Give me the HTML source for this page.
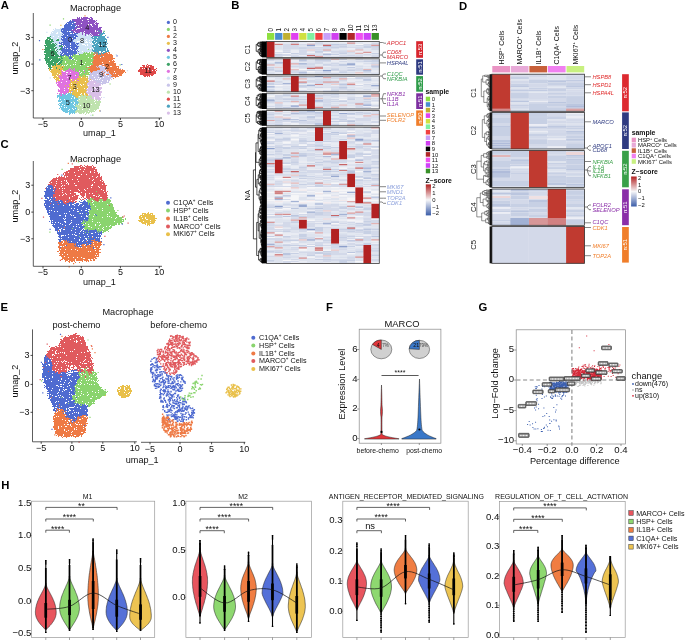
<!DOCTYPE html>
<html><head><meta charset="utf-8"><style>
html,body{margin:0;padding:0;background:#fff;}
svg{display:block;font-family:"Liberation Sans", sans-serif;will-change:transform;}
</style></head><body>
<svg width="685" height="641" viewBox="0 0 685 641">
<rect width="685" height="641" fill="#fff"/>
<text x="0.8" y="9.4" font-size="11.3" fill="#000" font-weight="bold">A</text>
<text x="95.5" y="10.6" font-size="9.2" fill="#111" text-anchor="middle">Macrophage</text>
<path d="M77 17h1v1h-1zM79 17h1v1h-1zM81 17h1v1h-1zM83 17h5v1h-5zM90 17h2v1h-2zM77 18h3v1h-3zM81 18h9v1h-9zM91 18h2v1h-2zM72 19h15v1h-15zM89 19h4v1h-4zM73 20h9v1h-9zM83 20h12v1h-12zM96 20h1v1h-1zM71 21h1v1h-1zM75 21h13v1h-13zM89 21h7v1h-7zM76 22h19v1h-19zM96 22h1v1h-1zM74 23h1v1h-1zM76 23h5v1h-5zM82 23h12v1h-12zM95 23h4v1h-4zM75 24h13v1h-13zM89 24h1v1h-1zM92 24h3v1h-3zM96 24h2v1h-2zM77 25h1v1h-1zM79 25h9v1h-9zM89 25h2v1h-2zM92 25h6v1h-6zM77 26h15v1h-15zM93 26h5v1h-5zM75 27h1v1h-1zM77 27h4v1h-4zM82 27h16v1h-16zM99 27h3v1h-3zM75 28h2v1h-2zM80 28h21v1h-21zM74 29h2v1h-2zM77 29h24v1h-24zM71 30h24v1h-24zM96 30h2v1h-2zM99 30h3v1h-3zM73 31h1v1h-1zM75 31h9v1h-9zM85 31h10v1h-10zM96 31h1v1h-1zM98 31h1v1h-1zM100 31h2v1h-2zM73 32h2v1h-2zM76 32h4v1h-4zM82 32h1v1h-1zM84 32h16v1h-16zM101 32h1v1h-1zM82 33h1v1h-1zM85 33h5v1h-5zM91 33h10v1h-10zM82 34h1v1h-1zM85 34h1v1h-1zM88 34h1v1h-1zM90 34h1v1h-1zM92 34h6v1h-6zM85 35h1v1h-1zM91 35h1v1h-1zM93 35h7v1h-7zM92 36h1v1h-1z" fill="#8e52c2"/>
<path d="M70 20h1v1h-1zM72 20h1v1h-1zM69 21h2v1h-2zM72 21h3v1h-3zM67 22h7v1h-7zM66 23h1v1h-1zM68 23h4v1h-4zM73 23h1v1h-1zM75 23h1v1h-1zM65 24h10v1h-10zM64 25h7v1h-7zM72 25h4v1h-4zM64 26h11v1h-11zM76 26h1v1h-1zM64 27h11v1h-11zM76 27h1v1h-1zM62 28h13v1h-13zM61 29h11v1h-11zM73 29h1v1h-1zM61 30h1v1h-1zM63 30h8v1h-8zM61 31h6v1h-6zM68 31h1v1h-1zM71 31h2v1h-2zM62 32h11v1h-11zM63 33h7v1h-7zM72 33h1v1h-1zM74 33h4v1h-4zM62 34h1v1h-1zM64 34h12v1h-12zM63 35h4v1h-4zM68 35h9v1h-9zM61 36h13v1h-13zM75 36h3v1h-3zM62 37h3v1h-3zM66 37h10v1h-10zM61 38h1v1h-1zM63 38h9v1h-9zM73 38h3v1h-3zM61 39h7v1h-7zM69 39h5v1h-5zM62 40h11v1h-11zM63 41h10v1h-10zM59 42h1v1h-1zM61 42h14v1h-14zM59 43h3v1h-3zM63 43h7v1h-7zM71 43h4v1h-4zM76 43h3v1h-3zM61 44h9v1h-9zM71 44h5v1h-5zM77 44h1v1h-1zM59 45h2v1h-2zM63 45h1v1h-1zM65 45h12v1h-12zM64 46h1v1h-1zM66 46h4v1h-4zM71 46h8v1h-8zM61 47h2v1h-2zM64 47h11v1h-11zM76 47h2v1h-2zM62 48h3v1h-3zM66 48h1v1h-1zM68 48h2v1h-2zM71 48h7v1h-7zM60 49h1v1h-1zM62 49h9v1h-9zM72 49h5v1h-5zM61 50h12v1h-12zM74 50h2v1h-2zM77 50h1v1h-1zM62 51h15v1h-15zM78 51h1v1h-1zM60 52h1v1h-1zM62 52h5v1h-5zM68 52h9v1h-9zM61 53h2v1h-2zM64 53h13v1h-13zM60 54h2v1h-2zM63 54h10v1h-10zM74 54h1v1h-1zM79 54h1v1h-1zM61 55h3v1h-3zM66 55h3v1h-3zM70 55h1v1h-1zM72 55h1v1h-1zM68 56h1v1h-1zM70 56h1v1h-1zM69 57h3v1h-3zM69 58h3v1h-3zM72 59h1v1h-1z" fill="#4f6bd0"/>
<path d="M55 28h1v1h-1zM60 28h2v1h-2zM53 29h1v1h-1zM55 29h6v1h-6zM54 30h7v1h-7zM62 30h1v1h-1zM52 31h9v1h-9zM51 32h1v1h-1zM53 32h4v1h-4zM58 32h2v1h-2zM61 32h1v1h-1zM80 32h2v1h-2zM83 32h1v1h-1zM51 33h5v1h-5zM58 33h5v1h-5zM78 33h4v1h-4zM83 33h1v1h-1zM50 34h12v1h-12zM76 34h6v1h-6zM83 34h2v1h-2zM86 34h2v1h-2zM89 34h1v1h-1zM91 34h1v1h-1zM50 35h13v1h-13zM77 35h8v1h-8zM86 35h1v1h-1zM88 35h3v1h-3zM49 36h1v1h-1zM51 36h2v1h-2zM54 36h4v1h-4zM59 36h2v1h-2zM78 36h13v1h-13zM50 37h12v1h-12zM77 37h14v1h-14zM52 38h5v1h-5zM58 38h3v1h-3zM76 38h16v1h-16zM53 39h4v1h-4zM59 39h2v1h-2zM74 39h7v1h-7zM82 39h4v1h-4zM87 39h7v1h-7zM53 40h3v1h-3zM59 40h3v1h-3zM73 40h7v1h-7zM81 40h4v1h-4zM86 40h3v1h-3zM90 40h2v1h-2zM54 41h9v1h-9zM73 41h4v1h-4zM80 41h3v1h-3zM84 41h2v1h-2zM87 41h5v1h-5zM52 42h7v1h-7zM60 42h1v1h-1zM75 42h2v1h-2zM78 42h7v1h-7zM88 42h1v1h-1zM90 42h1v1h-1zM54 43h1v1h-1zM56 43h3v1h-3zM75 43h1v1h-1zM79 43h11v1h-11zM91 43h1v1h-1zM55 44h1v1h-1zM57 44h1v1h-1zM76 44h1v1h-1zM78 44h4v1h-4zM85 44h2v1h-2zM88 44h4v1h-4zM93 44h1v1h-1zM56 45h3v1h-3zM77 45h8v1h-8zM86 45h1v1h-1zM88 45h4v1h-4zM55 46h4v1h-4zM79 46h13v1h-13zM57 47h4v1h-4zM78 47h14v1h-14zM56 48h4v1h-4zM65 48h1v1h-1zM78 48h9v1h-9zM88 48h2v1h-2zM91 48h3v1h-3zM56 49h1v1h-1zM58 49h1v1h-1zM77 49h2v1h-2zM80 49h8v1h-8zM89 49h3v1h-3zM57 50h4v1h-4zM79 50h13v1h-13zM56 51h1v1h-1zM58 51h1v1h-1zM60 51h2v1h-2zM77 51h1v1h-1zM79 51h3v1h-3zM83 51h10v1h-10zM57 52h3v1h-3zM61 52h1v1h-1zM77 52h7v1h-7zM85 52h1v1h-1zM87 52h1v1h-1zM57 53h4v1h-4zM77 53h1v1h-1zM79 53h4v1h-4zM58 54h2v1h-2zM59 57h1v1h-1z" fill="#cfe3f5"/>
<path d="M98 30h1v1h-1zM99 31h1v1h-1zM100 32h1v1h-1zM103 32h1v1h-1zM101 33h4v1h-4zM99 34h4v1h-4zM100 35h2v1h-2zM105 35h1v1h-1zM93 36h12v1h-12zM91 37h2v1h-2zM94 37h3v1h-3zM98 37h7v1h-7zM92 38h14v1h-14zM94 39h2v1h-2zM97 39h10v1h-10zM93 40h12v1h-12zM106 40h1v1h-1zM92 41h2v1h-2zM95 41h12v1h-12zM92 42h4v1h-4zM97 42h10v1h-10zM93 43h2v1h-2zM96 43h10v1h-10zM107 43h1v1h-1zM94 44h4v1h-4zM99 44h8v1h-8zM92 45h7v1h-7zM100 45h1v1h-1zM102 45h4v1h-4zM92 46h2v1h-2zM95 46h12v1h-12zM93 47h14v1h-14zM94 48h12v1h-12zM107 48h1v1h-1zM92 49h1v1h-1zM94 49h12v1h-12zM107 49h1v1h-1zM92 50h14v1h-14zM107 50h2v1h-2zM93 51h6v1h-6zM101 51h2v1h-2zM105 51h4v1h-4zM95 52h1v1h-1zM97 52h2v1h-2zM101 52h1v1h-1zM103 52h3v1h-3zM96 53h1v1h-1zM98 53h3v1h-3zM102 53h2v1h-2zM98 54h1v1h-1zM100 54h1v1h-1zM101 56h1v1h-1z" fill="#4ca3c0"/>
<path d="M50 36h1v1h-1zM47 37h3v1h-3zM47 38h4v1h-4zM46 39h2v1h-2zM49 39h4v1h-4zM57 39h2v1h-2zM45 40h5v1h-5zM51 40h2v1h-2zM56 40h3v1h-3zM45 41h9v1h-9zM45 42h7v1h-7zM45 43h6v1h-6zM52 43h2v1h-2zM55 43h1v1h-1zM46 44h9v1h-9zM56 44h1v1h-1zM44 45h12v1h-12zM61 45h1v1h-1zM45 46h1v1h-1zM47 46h8v1h-8zM59 46h4v1h-4zM45 47h9v1h-9zM55 47h2v1h-2zM45 48h11v1h-11zM60 48h2v1h-2zM44 49h6v1h-6zM51 49h4v1h-4zM57 49h1v1h-1zM59 49h1v1h-1zM61 49h1v1h-1zM45 50h10v1h-10zM56 50h1v1h-1zM44 51h12v1h-12zM57 51h1v1h-1zM44 52h13v1h-13zM46 53h11v1h-11zM44 54h7v1h-7zM52 54h6v1h-6zM45 55h9v1h-9zM55 55h4v1h-4zM60 55h1v1h-1zM45 56h17v1h-17zM45 57h3v1h-3zM49 57h9v1h-9zM61 57h1v1h-1zM44 58h14v1h-14zM59 58h1v1h-1zM61 58h2v1h-2zM45 59h6v1h-6zM52 59h9v1h-9zM45 60h5v1h-5zM51 60h9v1h-9zM61 60h2v1h-2zM46 61h13v1h-13zM60 61h2v1h-2zM46 62h7v1h-7zM54 62h4v1h-4zM59 62h3v1h-3zM46 63h1v1h-1zM48 63h8v1h-8zM58 63h3v1h-3zM47 64h9v1h-9zM57 64h3v1h-3zM61 64h1v1h-1zM48 65h3v1h-3zM52 65h2v1h-2zM55 65h1v1h-1zM48 66h3v1h-3zM49 67h3v1h-3zM56 67h1v1h-1zM62 67h1v1h-1zM48 68h1v1h-1zM50 68h1v1h-1zM56 68h1v1h-1zM50 69h1v1h-1zM59 69h1v1h-1z" fill="#3da267"/>
<path d="M88 49h1v1h-1zM84 52h1v1h-1zM86 52h1v1h-1zM89 52h1v1h-1zM91 52h2v1h-2zM78 53h1v1h-1zM83 53h7v1h-7zM91 53h4v1h-4zM73 54h1v1h-1zM75 54h1v1h-1zM80 54h6v1h-6zM87 54h6v1h-6zM64 55h2v1h-2zM73 55h21v1h-21zM62 56h2v1h-2zM65 56h3v1h-3zM69 56h1v1h-1zM71 56h23v1h-23zM60 57h1v1h-1zM62 57h7v1h-7zM72 57h1v1h-1zM74 57h14v1h-14zM89 57h4v1h-4zM58 58h1v1h-1zM60 58h1v1h-1zM63 58h6v1h-6zM73 58h18v1h-18zM92 58h1v1h-1zM61 59h10v1h-10zM73 59h1v1h-1zM75 59h19v1h-19zM60 60h1v1h-1zM63 60h13v1h-13zM77 60h3v1h-3zM81 60h12v1h-12zM62 61h3v1h-3zM66 61h27v1h-27zM62 62h3v1h-3zM66 62h9v1h-9zM76 62h9v1h-9zM86 62h5v1h-5zM61 63h21v1h-21zM83 63h10v1h-10zM62 64h5v1h-5zM68 64h5v1h-5zM74 64h1v1h-1zM76 64h8v1h-8zM85 64h8v1h-8zM60 65h2v1h-2zM63 65h1v1h-1zM65 65h1v1h-1zM67 65h3v1h-3zM71 65h9v1h-9zM81 65h9v1h-9zM60 66h1v1h-1zM64 66h23v1h-23zM89 66h1v1h-1zM64 67h22v1h-22zM87 67h1v1h-1zM63 68h6v1h-6zM71 68h3v1h-3zM75 68h15v1h-15zM63 69h5v1h-5zM70 69h1v1h-1zM72 69h1v1h-1zM75 69h13v1h-13zM64 70h2v1h-2zM73 70h1v1h-1zM75 70h4v1h-4zM80 70h3v1h-3zM85 70h5v1h-5zM75 71h1v1h-1zM77 71h2v1h-2zM80 71h8v1h-8zM79 72h2v1h-2zM82 72h2v1h-2zM85 72h5v1h-5zM79 73h1v1h-1zM81 73h6v1h-6zM88 73h1v1h-1zM76 74h1v1h-1zM79 74h11v1h-11zM79 75h4v1h-4zM85 75h1v1h-1zM81 76h1v1h-1zM83 76h1v1h-1zM85 76h1v1h-1zM87 76h1v1h-1z" fill="#8ad46e"/>
<path d="M94 52h1v1h-1zM96 52h1v1h-1zM106 52h1v1h-1zM108 52h2v1h-2zM95 53h1v1h-1zM97 53h1v1h-1zM101 53h1v1h-1zM104 53h4v1h-4zM109 53h1v1h-1zM93 54h2v1h-2zM96 54h2v1h-2zM99 54h1v1h-1zM101 54h11v1h-11zM95 55h18v1h-18zM94 56h7v1h-7zM102 56h1v1h-1zM104 56h9v1h-9zM93 57h7v1h-7zM101 57h12v1h-12zM93 58h22v1h-22zM94 59h19v1h-19zM93 60h19v1h-19zM113 60h1v1h-1zM93 61h16v1h-16zM110 61h5v1h-5zM92 62h10v1h-10zM103 62h11v1h-11zM93 63h23v1h-23zM93 64h9v1h-9zM104 64h12v1h-12zM91 65h8v1h-8zM102 65h14v1h-14zM90 66h6v1h-6zM97 66h1v1h-1zM105 66h5v1h-5zM112 66h7v1h-7zM86 67h1v1h-1zM88 67h9v1h-9zM98 67h1v1h-1zM106 67h11v1h-11zM118 67h1v1h-1zM90 68h10v1h-10zM106 68h13v1h-13zM88 69h12v1h-12zM105 69h1v1h-1zM107 69h14v1h-14zM122 69h1v1h-1zM90 70h7v1h-7zM106 70h19v1h-19zM90 71h3v1h-3zM102 71h1v1h-1zM107 71h1v1h-1zM109 71h5v1h-5zM115 71h10v1h-10zM91 72h1v1h-1zM101 72h1v1h-1zM104 72h1v1h-1zM109 72h15v1h-15zM125 72h1v1h-1zM103 73h1v1h-1zM110 73h3v1h-3zM114 73h1v1h-1zM116 73h7v1h-7zM101 74h1v1h-1zM106 74h3v1h-3zM111 74h11v1h-11zM103 75h1v1h-1zM112 75h6v1h-6zM119 75h3v1h-3zM111 76h8v1h-8zM115 77h1v1h-1zM113 78h1v1h-1z" fill="#ee7a45"/>
<path d="M56 63h1v1h-1zM56 64h1v1h-1zM60 64h1v1h-1zM54 65h1v1h-1zM56 65h4v1h-4zM52 66h8v1h-8zM61 66h3v1h-3zM52 67h4v1h-4zM57 67h5v1h-5zM63 67h1v1h-1zM49 68h1v1h-1zM53 68h3v1h-3zM57 68h6v1h-6zM49 69h1v1h-1zM51 69h8v1h-8zM60 69h3v1h-3zM49 70h1v1h-1zM51 70h10v1h-10zM63 70h1v1h-1zM50 71h12v1h-12zM51 72h10v1h-10zM52 73h5v1h-5zM58 73h4v1h-4zM87 73h1v1h-1zM52 74h7v1h-7zM60 74h1v1h-1zM52 75h4v1h-4zM57 75h1v1h-1zM59 75h1v1h-1zM61 75h1v1h-1zM83 75h2v1h-2zM54 76h3v1h-3zM58 76h1v1h-1zM78 76h3v1h-3zM82 76h1v1h-1zM84 76h1v1h-1zM86 76h1v1h-1zM53 77h6v1h-6zM79 77h2v1h-2zM82 77h4v1h-4zM87 77h1v1h-1zM54 78h1v1h-1zM56 78h4v1h-4zM77 78h11v1h-11zM55 79h4v1h-4zM70 79h1v1h-1zM72 79h1v1h-1zM75 79h1v1h-1zM77 79h11v1h-11zM90 79h1v1h-1zM56 80h1v1h-1zM58 80h2v1h-2zM70 80h2v1h-2zM74 80h1v1h-1zM76 80h1v1h-1zM79 80h9v1h-9zM56 81h1v1h-1zM71 81h14v1h-14zM86 81h3v1h-3zM70 82h6v1h-6zM77 82h11v1h-11zM70 83h1v1h-1zM72 83h15v1h-15zM69 84h11v1h-11zM81 84h2v1h-2zM84 84h3v1h-3zM65 85h1v1h-1zM69 85h2v1h-2zM72 85h3v1h-3zM77 85h4v1h-4zM82 85h5v1h-5zM70 86h18v1h-18zM67 87h1v1h-1zM69 87h7v1h-7zM77 87h11v1h-11zM69 88h8v1h-8zM78 88h6v1h-6zM85 88h2v1h-2zM69 89h1v1h-1zM71 89h3v1h-3zM75 89h11v1h-11zM69 90h8v1h-8zM78 90h9v1h-9zM69 91h2v1h-2zM73 91h4v1h-4zM78 91h8v1h-8zM68 92h1v1h-1zM70 92h1v1h-1zM72 92h14v1h-14zM70 93h1v1h-1zM72 93h9v1h-9zM82 93h2v1h-2zM85 93h2v1h-2zM72 94h8v1h-8zM82 94h2v1h-2zM85 94h3v1h-3zM74 95h7v1h-7zM83 95h1v1h-1zM86 95h2v1h-2zM75 96h3v1h-3zM76 97h2v1h-2zM86 97h1v1h-1z" fill="#e9bf4c"/>
<path d="M102 64h1v1h-1zM101 65h1v1h-1zM96 66h1v1h-1zM98 66h5v1h-5zM104 66h1v1h-1zM97 67h1v1h-1zM99 67h7v1h-7zM100 68h6v1h-6zM120 68h1v1h-1zM100 69h5v1h-5zM106 69h1v1h-1zM97 70h8v1h-8zM93 71h9v1h-9zM103 71h4v1h-4zM108 71h1v1h-1zM90 72h1v1h-1zM92 72h9v1h-9zM102 72h2v1h-2zM105 72h1v1h-1zM107 72h2v1h-2zM90 73h13v1h-13zM104 73h1v1h-1zM106 73h4v1h-4zM113 73h1v1h-1zM90 74h7v1h-7zM98 74h3v1h-3zM102 74h3v1h-3zM109 74h2v1h-2zM89 75h3v1h-3zM93 75h10v1h-10zM104 75h2v1h-2zM107 75h5v1h-5zM89 76h19v1h-19zM109 76h2v1h-2zM89 77h5v1h-5zM95 77h3v1h-3zM99 77h4v1h-4zM104 77h9v1h-9zM88 78h12v1h-12zM101 78h10v1h-10zM89 79h1v1h-1zM93 79h2v1h-2zM96 79h1v1h-1zM98 79h1v1h-1zM100 79h10v1h-10zM111 79h1v1h-1zM94 80h8v1h-8zM103 80h4v1h-4zM108 80h2v1h-2zM96 81h11v1h-11zM108 81h1v1h-1zM97 82h4v1h-4zM102 82h7v1h-7zM96 83h1v1h-1zM100 83h6v1h-6zM99 84h1v1h-1zM102 84h1v1h-1z" fill="#c9c5ea"/>
<path d="M147 64h1v1h-1zM142 65h3v1h-3zM146 65h1v1h-1zM148 65h4v1h-4zM143 66h2v1h-2zM146 66h3v1h-3zM150 66h4v1h-4zM140 67h14v1h-14zM140 68h2v1h-2zM143 68h1v1h-1zM145 68h3v1h-3zM149 68h5v1h-5zM156 68h1v1h-1zM139 69h9v1h-9zM149 69h7v1h-7zM138 70h14v1h-14zM153 70h2v1h-2zM156 70h1v1h-1zM138 71h18v1h-18zM140 72h16v1h-16zM140 73h16v1h-16zM140 74h14v1h-14zM143 75h7v1h-7zM151 75h2v1h-2zM144 76h2v1h-2zM147 76h1v1h-1zM149 76h1v1h-1z" fill="#e04848"/>
<path d="M69 68h2v1h-2zM74 68h1v1h-1zM68 69h2v1h-2zM71 69h1v1h-1zM73 69h2v1h-2zM61 70h1v1h-1zM66 70h7v1h-7zM74 70h1v1h-1zM79 70h1v1h-1zM84 70h1v1h-1zM62 71h1v1h-1zM65 71h10v1h-10zM76 71h1v1h-1zM61 72h5v1h-5zM68 72h2v1h-2zM71 72h8v1h-8zM84 72h1v1h-1zM62 73h17v1h-17zM61 74h5v1h-5zM67 74h9v1h-9zM77 74h2v1h-2zM58 75h1v1h-1zM60 75h1v1h-1zM62 75h13v1h-13zM76 75h3v1h-3zM59 76h19v1h-19zM59 77h8v1h-8zM68 77h11v1h-11zM60 78h17v1h-17zM60 79h2v1h-2zM63 79h7v1h-7zM73 79h2v1h-2zM76 79h1v1h-1zM57 80h1v1h-1zM60 80h10v1h-10zM72 80h2v1h-2zM77 80h2v1h-2zM58 81h8v1h-8zM67 81h4v1h-4zM56 82h5v1h-5zM62 82h8v1h-8zM76 82h1v1h-1zM56 83h1v1h-1zM58 83h12v1h-12zM57 84h12v1h-12zM57 85h8v1h-8zM66 85h3v1h-3zM58 86h12v1h-12zM59 87h8v1h-8zM68 87h1v1h-1zM60 88h4v1h-4zM65 88h3v1h-3zM58 89h1v1h-1zM60 89h9v1h-9zM58 90h6v1h-6zM65 90h4v1h-4zM58 91h11v1h-11zM71 91h1v1h-1zM60 92h8v1h-8zM57 93h1v1h-1zM59 93h3v1h-3zM63 93h3v1h-3zM61 94h1v1h-1zM64 94h1v1h-1zM60 95h2v1h-2z" fill="#e072e0"/>
<path d="M91 79h2v1h-2zM88 80h2v1h-2zM91 80h1v1h-1zM93 80h1v1h-1zM89 81h7v1h-7zM88 82h9v1h-9zM87 83h7v1h-7zM95 83h1v1h-1zM97 83h3v1h-3zM87 84h12v1h-12zM100 84h1v1h-1zM87 85h1v1h-1zM89 85h12v1h-12zM88 86h11v1h-11zM88 87h6v1h-6zM95 87h7v1h-7zM88 88h5v1h-5zM94 88h1v1h-1zM96 88h6v1h-6zM86 89h15v1h-15zM87 90h13v1h-13zM86 91h1v1h-1zM88 91h3v1h-3zM92 91h6v1h-6zM99 91h3v1h-3zM86 92h16v1h-16zM87 93h14v1h-14zM89 94h12v1h-12zM88 95h2v1h-2zM91 95h10v1h-10zM92 96h7v1h-7zM92 97h2v1h-2zM95 97h5v1h-5zM101 97h1v1h-1zM90 98h1v1h-1zM92 98h2v1h-2zM95 98h6v1h-6zM95 99h1v1h-1zM97 99h4v1h-4zM98 100h1v1h-1z" fill="#d9bfe8"/>
<path d="M72 91h1v1h-1zM66 93h1v1h-1zM68 93h2v1h-2zM71 93h1v1h-1zM59 94h2v1h-2zM62 94h2v1h-2zM65 94h1v1h-1zM67 94h5v1h-5zM57 95h3v1h-3zM62 95h12v1h-12zM57 96h15v1h-15zM73 96h2v1h-2zM57 97h1v1h-1zM59 97h15v1h-15zM75 97h1v1h-1zM59 98h12v1h-12zM72 98h2v1h-2zM75 98h3v1h-3zM59 99h1v1h-1zM61 99h3v1h-3zM65 99h13v1h-13zM58 100h19v1h-19zM58 101h3v1h-3zM62 101h11v1h-11zM74 101h4v1h-4zM61 102h10v1h-10zM72 102h2v1h-2zM75 102h4v1h-4zM59 103h15v1h-15zM75 103h3v1h-3zM58 104h1v1h-1zM60 104h2v1h-2zM63 104h10v1h-10zM74 104h2v1h-2zM77 104h1v1h-1zM59 105h5v1h-5zM65 105h9v1h-9zM75 105h1v1h-1zM60 106h1v1h-1zM62 106h13v1h-13zM60 107h4v1h-4zM65 107h1v1h-1zM67 107h10v1h-10zM59 108h1v1h-1zM61 108h11v1h-11zM73 108h2v1h-2zM76 108h1v1h-1zM61 109h8v1h-8zM70 109h3v1h-3zM74 109h3v1h-3zM62 110h6v1h-6zM69 110h7v1h-7zM63 111h12v1h-12zM65 112h3v1h-3zM69 112h6v1h-6zM69 113h2v1h-2zM72 113h1v1h-1zM74 113h1v1h-1zM69 114h1v1h-1z" fill="#6ec6e2"/>
<path d="M81 94h1v1h-1zM81 95h2v1h-2zM84 95h2v1h-2zM90 95h1v1h-1zM78 96h1v1h-1zM80 96h12v1h-12zM78 97h8v1h-8zM87 97h5v1h-5zM78 98h12v1h-12zM91 98h1v1h-1zM78 99h1v1h-1zM80 99h6v1h-6zM87 99h7v1h-7zM96 99h1v1h-1zM78 100h17v1h-17zM96 100h1v1h-1zM99 100h1v1h-1zM73 101h1v1h-1zM78 101h16v1h-16zM95 101h6v1h-6zM79 102h22v1h-22zM78 103h5v1h-5zM84 103h11v1h-11zM96 103h4v1h-4zM76 104h1v1h-1zM79 104h8v1h-8zM88 104h3v1h-3zM92 104h8v1h-8zM76 105h4v1h-4zM81 105h8v1h-8zM90 105h10v1h-10zM75 106h24v1h-24zM77 107h5v1h-5zM83 107h16v1h-16zM77 108h22v1h-22zM77 109h1v1h-1zM79 109h3v1h-3zM83 109h6v1h-6zM90 109h7v1h-7zM76 110h18v1h-18zM95 110h1v1h-1zM75 111h13v1h-13zM89 111h6v1h-6zM75 112h2v1h-2zM78 112h7v1h-7zM86 112h4v1h-4zM91 112h1v1h-1zM79 113h3v1h-3zM83 113h1v1h-1zM86 113h1v1h-1zM88 113h1v1h-1zM85 114h1v1h-1z" fill="#bfe3ae"/>
<path d="M92.2 114.5h1.2v1.2h-1.2zM109.5 83.4h1.2v1.2h-1.2zM49.5 24.5h1.2v1.2h-1.2zM119.5 64.3h1.2v1.2h-1.2zM62.9 18.3h1.2v1.2h-1.2z" fill="#8ad46e"/>
<path d="M121.2 63.9h1.2v1.2h-1.2zM99.7 110.4h1.2v1.2h-1.2zM107.3 36.8h1.2v1.2h-1.2zM116.4 55.2h1.2v1.2h-1.2zM39.2 59.2h1.2v1.2h-1.2zM38.9 40.1h1.2v1.2h-1.2z" fill="#4f6bd0"/>
<path d="M84.4 15.2h1.2v1.2h-1.2zM42.2 48.9h1.2v1.2h-1.2z" fill="#ee7a45"/>
<path d="M49.6 77.2h1.2v1.2h-1.2zM90.3 114.8h1.2v1.2h-1.2zM46.3 31.8h1.2v1.2h-1.2zM103.4 96.9h1.2v1.2h-1.2zM126.9 70.1h1.2v1.2h-1.2zM115.7 54.1h1.2v1.2h-1.2z" fill="#cfe3f5"/>
<path d="M99.1 110.2h1.2v1.2h-1.2zM60.3 24.8h1.2v1.2h-1.2z" fill="#e9bf4c"/>
<path d="M103.5 30.7h1.2v1.2h-1.2z" fill="#3da267"/>
<text x="70" y="41.9" font-size="7.4" fill="#111" text-anchor="middle">0</text>
<text x="81.3" y="64.9" font-size="7.4" fill="#111" text-anchor="middle">1</text>
<text x="107" y="69.3" font-size="7.4" fill="#111" text-anchor="middle">2</text>
<text x="74.8" y="88.9" font-size="7.4" fill="#111" text-anchor="middle">3</text>
<text x="87.4" y="29.5" font-size="7.4" fill="#111" text-anchor="middle">4</text>
<text x="67.8" y="104.9" font-size="7.4" fill="#111" text-anchor="middle">5</text>
<text x="52.5" y="55.6" font-size="7.4" fill="#111" text-anchor="middle">6</text>
<text x="69.5" y="79.6" font-size="7.4" fill="#111" text-anchor="middle">7</text>
<text x="82" y="42.6" font-size="7.4" fill="#111" text-anchor="middle">8</text>
<text x="101" y="76.5" font-size="7.4" fill="#111" text-anchor="middle">9</text>
<text x="86.3" y="108" font-size="7.4" fill="#111" text-anchor="middle">10</text>
<text x="148" y="73.4" font-size="7.4" fill="#111" text-anchor="middle">11</text>
<text x="102.6" y="47.1" font-size="7.4" fill="#111" text-anchor="middle">12</text>
<text x="95.5" y="92.2" font-size="7.4" fill="#111" text-anchor="middle">13</text>
<line x1="33.3" y1="13" x2="33.3" y2="118" stroke="#333" stroke-width="0.8"/>
<line x1="33.3" y1="118" x2="162" y2="118" stroke="#333" stroke-width="0.8"/>
<line x1="43" y1="118" x2="43" y2="120" stroke="#000" stroke-width="0.7"/>
<text x="43" y="127.1" font-size="9.0" fill="#111" text-anchor="middle">−5</text>
<line x1="81.3" y1="118" x2="81.3" y2="120" stroke="#000" stroke-width="0.7"/>
<text x="81.3" y="127.1" font-size="9.0" fill="#111" text-anchor="middle">0</text>
<line x1="120.4" y1="118" x2="120.4" y2="120" stroke="#000" stroke-width="0.7"/>
<text x="120.4" y="127.1" font-size="9.0" fill="#111" text-anchor="middle">5</text>
<line x1="159.3" y1="118" x2="159.3" y2="120" stroke="#000" stroke-width="0.7"/>
<text x="159.3" y="127.1" font-size="9.0" fill="#111" text-anchor="middle">10</text>
<line x1="31.3" y1="37.4" x2="33.3" y2="37.4" stroke="#000" stroke-width="0.7"/>
<text x="30.3" y="40.4" font-size="9.0" fill="#111" text-anchor="end">3</text>
<line x1="31.3" y1="64.1" x2="33.3" y2="64.1" stroke="#000" stroke-width="0.7"/>
<text x="30.3" y="67.1" font-size="9.0" fill="#111" text-anchor="end">0</text>
<line x1="31.3" y1="90.7" x2="33.3" y2="90.7" stroke="#000" stroke-width="0.7"/>
<text x="30.3" y="93.7" font-size="9.0" fill="#111" text-anchor="end">−3</text>
<text x="99.5" y="136.4" font-size="9.1" fill="#111" text-anchor="middle">umap_1</text>
<text x="18.2" y="58" font-size="9.1" fill="#111" text-anchor="middle" transform="rotate(-90 18.2 58)">umap_2</text>
<circle cx="168.4" cy="22.4" r="1.6" fill="#4f6bd0"/>
<text x="173.1" y="24.2" font-size="7.1" fill="#111">0</text>
<circle cx="168.4" cy="29.4" r="1.6" fill="#8ad46e"/>
<text x="173.1" y="31.2" font-size="7.1" fill="#111">1</text>
<circle cx="168.4" cy="36.4" r="1.6" fill="#ee7a45"/>
<text x="173.1" y="38.2" font-size="7.1" fill="#111">2</text>
<circle cx="168.4" cy="43.3" r="1.6" fill="#e9bf4c"/>
<text x="173.1" y="45.1" font-size="7.1" fill="#111">3</text>
<circle cx="168.4" cy="50.3" r="1.6" fill="#8e52c2"/>
<text x="173.1" y="52.1" font-size="7.1" fill="#111">4</text>
<circle cx="168.4" cy="57.3" r="1.6" fill="#6ec6e2"/>
<text x="173.1" y="59.1" font-size="7.1" fill="#111">5</text>
<circle cx="168.4" cy="64.3" r="1.6" fill="#3da267"/>
<text x="173.1" y="66.1" font-size="7.1" fill="#111">6</text>
<circle cx="168.4" cy="71.3" r="1.6" fill="#e072e0"/>
<text x="173.1" y="73.1" font-size="7.1" fill="#111">7</text>
<circle cx="168.4" cy="78.2" r="1.6" fill="#cfe3f5"/>
<text x="173.1" y="80" font-size="7.1" fill="#111">8</text>
<circle cx="168.4" cy="85.2" r="1.6" fill="#c9c5ea"/>
<text x="173.1" y="87" font-size="7.1" fill="#111">9</text>
<circle cx="168.4" cy="92.2" r="1.6" fill="#bfe3ae"/>
<text x="173.1" y="94" font-size="7.1" fill="#111">10</text>
<circle cx="168.4" cy="99.2" r="1.6" fill="#e04848"/>
<text x="173.1" y="101" font-size="7.1" fill="#111">11</text>
<circle cx="168.4" cy="106.2" r="1.6" fill="#4ca3c0"/>
<text x="173.1" y="108" font-size="7.1" fill="#111">12</text>
<circle cx="168.4" cy="113.1" r="1.6" fill="#d9bfe8"/>
<text x="173.1" y="114.9" font-size="7.1" fill="#111">13</text>
<text x="0.5" y="148.1" font-size="11.3" fill="#000" font-weight="bold">C</text>
<text x="95.5" y="162" font-size="9.2" fill="#111" text-anchor="middle">Macrophage</text>
<path d="M80 165h2v1h-2zM84 165h1v1h-1zM87 165h1v1h-1zM92 165h1v1h-1zM74 166h7v1h-7zM82 166h1v1h-1zM85 166h7v1h-7zM93 166h1v1h-1zM74 167h5v1h-5zM80 167h5v1h-5zM86 167h6v1h-6zM93 167h3v1h-3zM70 168h25v1h-25zM70 169h10v1h-10zM81 169h3v1h-3zM85 169h12v1h-12zM68 170h10v1h-10zM79 170h15v1h-15zM95 170h2v1h-2zM66 171h17v1h-17zM84 171h6v1h-6zM91 171h6v1h-6zM64 172h4v1h-4zM69 172h5v1h-5zM75 172h15v1h-15zM91 172h3v1h-3zM95 172h3v1h-3zM63 173h1v1h-1zM65 173h33v1h-33zM99 173h1v1h-1zM63 174h1v1h-1zM65 174h16v1h-16zM82 174h4v1h-4zM87 174h13v1h-13zM64 175h11v1h-11zM76 175h24v1h-24zM59 176h1v1h-1zM61 176h1v1h-1zM64 176h1v1h-1zM66 176h1v1h-1zM68 176h10v1h-10zM80 176h12v1h-12zM93 176h4v1h-4zM98 176h2v1h-2zM101 176h1v1h-1zM56 177h1v1h-1zM58 177h7v1h-7zM66 177h30v1h-30zM97 177h5v1h-5zM53 178h36v1h-36zM90 178h12v1h-12zM52 179h5v1h-5zM58 179h14v1h-14zM73 179h4v1h-4zM78 179h15v1h-15zM94 179h8v1h-8zM51 180h13v1h-13zM65 180h1v1h-1zM67 180h25v1h-25zM93 180h7v1h-7zM101 180h2v1h-2zM50 181h6v1h-6zM57 181h4v1h-4zM62 181h4v1h-4zM67 181h11v1h-11zM79 181h23v1h-23zM103 181h1v1h-1zM49 182h2v1h-2zM52 182h15v1h-15zM68 182h26v1h-26zM95 182h9v1h-9zM50 183h6v1h-6zM57 183h4v1h-4zM62 183h4v1h-4zM67 183h1v1h-1zM69 183h5v1h-5zM75 183h30v1h-30zM48 184h20v1h-20zM69 184h23v1h-23zM93 184h9v1h-9zM103 184h2v1h-2zM52 185h3v1h-3zM56 185h6v1h-6zM63 185h1v1h-1zM65 185h10v1h-10zM77 185h14v1h-14zM93 185h14v1h-14zM53 186h8v1h-8zM62 186h36v1h-36zM99 186h7v1h-7zM53 187h1v1h-1zM55 187h36v1h-36zM92 187h7v1h-7zM100 187h6v1h-6zM45 188h1v1h-1zM53 188h2v1h-2zM56 188h3v1h-3zM60 188h2v1h-2zM63 188h1v1h-1zM65 188h22v1h-22zM88 188h18v1h-18zM54 189h1v1h-1zM56 189h22v1h-22zM79 189h5v1h-5zM85 189h16v1h-16zM102 189h4v1h-4zM55 190h7v1h-7zM63 190h7v1h-7zM71 190h8v1h-8zM80 190h5v1h-5zM86 190h17v1h-17zM104 190h2v1h-2zM53 191h1v1h-1zM55 191h41v1h-41zM97 191h9v1h-9zM107 191h1v1h-1zM54 192h8v1h-8zM63 192h11v1h-11zM78 192h3v1h-3zM82 192h22v1h-22zM105 192h2v1h-2zM55 193h10v1h-10zM66 193h4v1h-4zM71 193h5v1h-5zM80 193h5v1h-5zM86 193h3v1h-3zM90 193h2v1h-2zM93 193h14v1h-14zM53 194h10v1h-10zM64 194h2v1h-2zM67 194h9v1h-9zM80 194h5v1h-5zM86 194h12v1h-12zM99 194h8v1h-8zM53 195h6v1h-6zM60 195h2v1h-2zM63 195h11v1h-11zM75 195h4v1h-4zM81 195h4v1h-4zM86 195h7v1h-7zM95 195h4v1h-4zM100 195h8v1h-8zM53 196h19v1h-19zM73 196h5v1h-5zM82 196h2v1h-2zM86 196h10v1h-10zM97 196h1v1h-1zM99 196h8v1h-8zM53 197h1v1h-1zM56 197h13v1h-13zM70 197h8v1h-8zM81 197h1v1h-1zM83 197h1v1h-1zM86 197h4v1h-4zM91 197h9v1h-9zM102 197h6v1h-6zM55 198h14v1h-14zM70 198h8v1h-8zM79 198h1v1h-1zM84 198h2v1h-2zM87 198h3v1h-3zM92 198h1v1h-1zM94 198h13v1h-13zM53 199h1v1h-1zM56 199h21v1h-21zM80 199h1v1h-1zM82 199h2v1h-2zM89 199h1v1h-1zM93 199h6v1h-6zM103 199h4v1h-4zM55 200h3v1h-3zM62 200h5v1h-5zM68 200h3v1h-3zM72 200h3v1h-3zM95 200h4v1h-4zM103 200h3v1h-3zM63 201h2v1h-2zM66 201h8v1h-8zM75 201h2v1h-2zM91 201h1v1h-1zM97 201h1v1h-1zM57 202h1v1h-1zM63 202h6v1h-6zM72 202h1v1h-1zM75 202h1v1h-1zM50 203h1v1h-1zM64 203h2v1h-2zM58 204h1v1h-1zM66 204h1v1h-1zM109 205h1v1h-1z" fill="#e05a5e"/>
<path d="M48 185h4v1h-4zM47 186h6v1h-6zM46 187h1v1h-1zM48 187h5v1h-5zM46 188h4v1h-4zM51 188h2v1h-2zM55 188h1v1h-1zM46 189h8v1h-8zM55 189h1v1h-1zM46 190h7v1h-7zM54 190h1v1h-1zM44 191h9v1h-9zM54 191h1v1h-1zM45 192h9v1h-9zM45 193h10v1h-10zM45 194h8v1h-8zM44 195h9v1h-9zM44 196h9v1h-9zM45 197h2v1h-2zM49 197h2v1h-2zM52 197h1v1h-1zM54 197h1v1h-1zM45 198h3v1h-3zM49 198h6v1h-6zM47 199h3v1h-3zM51 199h2v1h-2zM54 199h2v1h-2zM86 199h1v1h-1zM44 200h5v1h-5zM50 200h5v1h-5zM58 200h1v1h-1zM60 200h2v1h-2zM67 200h1v1h-1zM81 200h1v1h-1zM84 200h1v1h-1zM45 201h6v1h-6zM52 201h11v1h-11zM79 201h1v1h-1zM83 201h3v1h-3zM45 202h12v1h-12zM58 202h2v1h-2zM61 202h2v1h-2zM69 202h3v1h-3zM73 202h2v1h-2zM80 202h8v1h-8zM44 203h6v1h-6zM51 203h13v1h-13zM66 203h8v1h-8zM76 203h3v1h-3zM82 203h6v1h-6zM89 203h1v1h-1zM44 204h1v1h-1zM46 204h7v1h-7zM54 204h4v1h-4zM59 204h7v1h-7zM67 204h2v1h-2zM70 204h2v1h-2zM74 204h5v1h-5zM80 204h8v1h-8zM89 204h1v1h-1zM44 205h19v1h-19zM64 205h5v1h-5zM70 205h4v1h-4zM75 205h3v1h-3zM79 205h4v1h-4zM84 205h6v1h-6zM45 206h4v1h-4zM50 206h32v1h-32zM83 206h8v1h-8zM45 207h8v1h-8zM54 207h36v1h-36zM46 208h25v1h-25zM72 208h2v1h-2zM75 208h11v1h-11zM87 208h4v1h-4zM46 209h31v1h-31zM78 209h10v1h-10zM90 209h1v1h-1zM47 210h2v1h-2zM50 210h1v1h-1zM52 210h21v1h-21zM74 210h7v1h-7zM82 210h3v1h-3zM87 210h2v1h-2zM47 211h7v1h-7zM55 211h2v1h-2zM58 211h11v1h-11zM70 211h7v1h-7zM79 211h9v1h-9zM47 212h2v1h-2zM50 212h39v1h-39zM48 213h16v1h-16zM65 213h1v1h-1zM67 213h12v1h-12zM81 213h1v1h-1zM83 213h3v1h-3zM87 213h2v1h-2zM48 214h22v1h-22zM71 214h18v1h-18zM95 214h1v1h-1zM50 215h9v1h-9zM61 215h4v1h-4zM66 215h5v1h-5zM72 215h1v1h-1zM74 215h12v1h-12zM87 215h1v1h-1zM96 215h1v1h-1zM49 216h16v1h-16zM66 216h15v1h-15zM82 216h4v1h-4zM88 216h1v1h-1zM50 217h24v1h-24zM76 217h12v1h-12zM50 218h13v1h-13zM64 218h1v1h-1zM66 218h18v1h-18zM85 218h4v1h-4zM50 219h14v1h-14zM65 219h23v1h-23zM51 220h1v1h-1zM53 220h18v1h-18zM72 220h11v1h-11zM84 220h1v1h-1zM86 220h2v1h-2zM49 221h1v1h-1zM51 221h13v1h-13zM66 221h15v1h-15zM82 221h1v1h-1zM85 221h1v1h-1zM51 222h1v1h-1zM53 222h2v1h-2zM56 222h2v1h-2zM59 222h6v1h-6zM66 222h5v1h-5zM72 222h10v1h-10zM51 223h9v1h-9zM61 223h9v1h-9zM71 223h10v1h-10zM84 223h1v1h-1zM53 224h1v1h-1zM55 224h7v1h-7zM63 224h6v1h-6zM70 224h6v1h-6zM77 224h1v1h-1zM79 224h4v1h-4zM52 225h13v1h-13zM66 225h16v1h-16zM53 226h20v1h-20zM74 226h2v1h-2zM77 226h8v1h-8zM54 227h4v1h-4zM59 227h5v1h-5zM65 227h14v1h-14zM80 227h4v1h-4zM55 228h6v1h-6zM62 228h10v1h-10zM73 228h10v1h-10zM55 229h4v1h-4zM61 229h2v1h-2zM65 229h10v1h-10zM76 229h6v1h-6zM83 229h1v1h-1zM87 229h1v1h-1zM95 229h1v1h-1zM55 230h3v1h-3zM59 230h1v1h-1zM61 230h10v1h-10zM72 230h9v1h-9zM82 230h6v1h-6zM89 230h8v1h-8zM57 231h1v1h-1zM59 231h1v1h-1zM61 231h19v1h-19zM81 231h2v1h-2zM84 231h13v1h-13zM98 231h1v1h-1zM101 231h1v1h-1zM57 232h18v1h-18zM76 232h9v1h-9zM86 232h2v1h-2zM89 232h6v1h-6zM96 232h2v1h-2zM99 232h3v1h-3zM57 233h22v1h-22zM80 233h3v1h-3zM84 233h7v1h-7zM93 233h9v1h-9zM58 234h10v1h-10zM69 234h3v1h-3zM73 234h1v1h-1zM75 234h12v1h-12zM88 234h10v1h-10zM99 234h1v1h-1zM101 234h1v1h-1zM59 235h2v1h-2zM64 235h1v1h-1zM66 235h9v1h-9zM77 235h24v1h-24zM58 236h3v1h-3zM62 236h17v1h-17zM80 236h4v1h-4zM85 236h3v1h-3zM89 236h3v1h-3zM93 236h8v1h-8zM59 237h9v1h-9zM69 237h11v1h-11zM81 237h11v1h-11zM93 237h3v1h-3zM97 237h1v1h-1zM99 237h1v1h-1zM60 238h1v1h-1zM62 238h12v1h-12zM75 238h10v1h-10zM87 238h1v1h-1zM89 238h11v1h-11zM101 238h1v1h-1zM58 239h21v1h-21zM80 239h6v1h-6zM87 239h7v1h-7zM95 239h5v1h-5zM59 240h2v1h-2zM65 240h1v1h-1zM67 240h12v1h-12zM80 240h3v1h-3zM84 240h3v1h-3zM88 240h3v1h-3zM95 240h5v1h-5zM59 241h2v1h-2zM67 241h1v1h-1zM69 241h2v1h-2zM72 241h10v1h-10zM83 241h3v1h-3zM87 241h6v1h-6zM98 241h2v1h-2zM101 241h1v1h-1zM68 242h9v1h-9zM78 242h13v1h-13zM74 243h1v1h-1zM76 243h11v1h-11zM88 243h4v1h-4zM76 244h6v1h-6zM86 244h3v1h-3zM90 244h1v1h-1zM66 245h1v1h-1zM74 245h1v1h-1zM76 245h2v1h-2zM79 245h1v1h-1zM86 245h1v1h-1zM75 246h1v1h-1zM77 246h5v1h-5zM90 246h1v1h-1zM60 247h1v1h-1zM93 247h1v1h-1zM93 248h1v1h-1z" fill="#4f6bd0"/>
<path d="M96 191h1v1h-1zM98 194h1v1h-1zM90 198h2v1h-2zM93 198h1v1h-1zM107 198h1v1h-1zM88 199h1v1h-1zM90 199h3v1h-3zM99 199h4v1h-4zM107 199h3v1h-3zM87 200h5v1h-5zM93 200h2v1h-2zM99 200h4v1h-4zM106 200h5v1h-5zM87 201h4v1h-4zM92 201h1v1h-1zM94 201h3v1h-3zM98 201h1v1h-1zM100 201h2v1h-2zM103 201h8v1h-8zM88 202h4v1h-4zM93 202h17v1h-17zM88 203h1v1h-1zM90 203h22v1h-22zM88 204h1v1h-1zM90 204h3v1h-3zM94 204h13v1h-13zM108 204h5v1h-5zM90 205h19v1h-19zM110 205h3v1h-3zM91 206h4v1h-4zM96 206h17v1h-17zM90 207h24v1h-24zM91 208h11v1h-11zM103 208h11v1h-11zM91 209h6v1h-6zM98 209h16v1h-16zM89 210h13v1h-13zM103 210h12v1h-12zM89 211h26v1h-26zM89 212h20v1h-20zM110 212h7v1h-7zM79 213h1v1h-1zM86 213h1v1h-1zM89 213h27v1h-27zM90 214h4v1h-4zM96 214h11v1h-11zM108 214h9v1h-9zM88 215h8v1h-8zM97 215h22v1h-22zM89 216h4v1h-4zM94 216h13v1h-13zM108 216h1v1h-1zM110 216h9v1h-9zM122 216h1v1h-1zM88 217h14v1h-14zM103 217h8v1h-8zM112 217h4v1h-4zM117 217h6v1h-6zM89 218h26v1h-26zM116 218h6v1h-6zM125 218h1v1h-1zM88 219h4v1h-4zM93 219h31v1h-31zM125 219h1v1h-1zM83 220h1v1h-1zM85 220h1v1h-1zM88 220h34v1h-34zM123 220h1v1h-1zM83 221h2v1h-2zM86 221h6v1h-6zM93 221h21v1h-21zM115 221h9v1h-9zM82 222h15v1h-15zM98 222h1v1h-1zM100 222h22v1h-22zM81 223h3v1h-3zM86 223h31v1h-31zM118 223h2v1h-2zM121 223h2v1h-2zM84 224h4v1h-4zM89 224h6v1h-6zM96 224h4v1h-4zM101 224h16v1h-16zM118 224h2v1h-2zM83 225h12v1h-12zM96 225h3v1h-3zM100 225h10v1h-10zM111 225h4v1h-4zM85 226h3v1h-3zM90 226h16v1h-16zM107 226h2v1h-2zM110 226h2v1h-2zM84 227h7v1h-7zM92 227h11v1h-11zM104 227h8v1h-8zM72 228h1v1h-1zM84 228h14v1h-14zM99 228h3v1h-3zM103 228h8v1h-8zM85 229h2v1h-2zM88 229h7v1h-7zM96 229h7v1h-7zM104 229h5v1h-5zM88 230h1v1h-1zM97 230h11v1h-11zM97 231h1v1h-1zM99 231h2v1h-2zM103 231h3v1h-3zM108 231h1v1h-1zM85 232h1v1h-1zM88 232h1v1h-1zM98 232h1v1h-1zM102 232h2v1h-2zM79 236h1v1h-1zM88 238h1v1h-1z" fill="#8ad46e"/>
<path d="M148 212h1v1h-1zM142 213h4v1h-4zM147 213h2v1h-2zM150 213h3v1h-3zM142 214h1v1h-1zM144 214h7v1h-7zM152 214h1v1h-1zM140 215h15v1h-15zM139 216h2v1h-2zM142 216h13v1h-13zM139 217h6v1h-6zM146 217h9v1h-9zM139 218h3v1h-3zM143 218h2v1h-2zM146 218h11v1h-11zM140 219h6v1h-6zM148 219h7v1h-7zM138 220h12v1h-12zM151 220h5v1h-5zM139 221h4v1h-4zM144 221h11v1h-11zM141 222h9v1h-9zM151 222h4v1h-4zM142 223h4v1h-4zM147 223h7v1h-7zM145 224h1v1h-1zM147 224h3v1h-3zM147 225h1v1h-1zM149 225h1v1h-1z" fill="#e9c04a"/>
<path d="M64 227h1v1h-1zM58 230h1v1h-1zM92 237h1v1h-1zM94 239h1v1h-1zM63 240h2v1h-2zM66 240h1v1h-1zM91 240h4v1h-4zM61 241h2v1h-2zM64 241h3v1h-3zM68 241h1v1h-1zM86 241h1v1h-1zM93 241h5v1h-5zM100 241h1v1h-1zM58 242h5v1h-5zM64 242h4v1h-4zM91 242h2v1h-2zM94 242h3v1h-3zM98 242h4v1h-4zM58 243h4v1h-4zM63 243h11v1h-11zM75 243h1v1h-1zM87 243h1v1h-1zM92 243h9v1h-9zM59 244h17v1h-17zM82 244h3v1h-3zM91 244h2v1h-2zM94 244h8v1h-8zM59 245h6v1h-6zM67 245h7v1h-7zM75 245h1v1h-1zM81 245h3v1h-3zM85 245h1v1h-1zM87 245h14v1h-14zM58 246h2v1h-2zM62 246h1v1h-1zM64 246h11v1h-11zM76 246h1v1h-1zM82 246h8v1h-8zM91 246h3v1h-3zM95 246h2v1h-2zM98 246h2v1h-2zM58 247h2v1h-2zM61 247h18v1h-18zM80 247h1v1h-1zM82 247h4v1h-4zM87 247h6v1h-6zM94 247h6v1h-6zM59 248h34v1h-34zM96 248h3v1h-3zM59 249h1v1h-1zM61 249h4v1h-4zM66 249h5v1h-5zM72 249h3v1h-3zM76 249h25v1h-25zM59 250h18v1h-18zM78 250h17v1h-17zM96 250h3v1h-3zM57 251h2v1h-2zM60 251h28v1h-28zM89 251h1v1h-1zM91 251h8v1h-8zM60 252h4v1h-4zM65 252h36v1h-36zM59 253h37v1h-37zM97 253h2v1h-2zM60 254h2v1h-2zM63 254h4v1h-4zM68 254h31v1h-31zM59 255h36v1h-36zM96 255h1v1h-1zM98 255h1v1h-1zM61 256h3v1h-3zM65 256h34v1h-34zM62 257h6v1h-6zM69 257h4v1h-4zM74 257h3v1h-3zM78 257h3v1h-3zM82 257h14v1h-14zM62 258h21v1h-21zM85 258h9v1h-9zM95 258h2v1h-2zM61 259h2v1h-2zM64 259h11v1h-11zM76 259h12v1h-12zM90 259h1v1h-1zM93 259h2v1h-2zM65 260h3v1h-3zM69 260h6v1h-6zM76 260h7v1h-7zM84 260h5v1h-5zM90 260h2v1h-2zM93 260h2v1h-2zM65 261h1v1h-1zM68 261h2v1h-2zM71 261h2v1h-2zM74 261h1v1h-1zM82 261h1v1h-1zM86 261h1v1h-1zM88 261h1v1h-1zM69 262h1v1h-1zM75 262h1v1h-1zM79 262h1v1h-1z" fill="#ee7a45"/>
<path d="M127.5 222.6h1.2v1.2h-1.2zM123.7 215.4h1.2v1.2h-1.2zM122.5 216.5h1.2v1.2h-1.2zM41.3 197.8h1.2v1.2h-1.2zM57.1 173.9h1.2v1.2h-1.2zM104.3 235.8h1.2v1.2h-1.2zM59.8 259.7h1.2v1.2h-1.2zM71.7 163.2h1.2v1.2h-1.2zM42.9 216.5h1.2v1.2h-1.2z" fill="#e05a5e"/>
<path d="M77.7 161.2h1.2v1.2h-1.2zM117.3 209.9h1.2v1.2h-1.2zM61.5 168.8h1.2v1.2h-1.2zM49.3 231.5h1.2v1.2h-1.2z" fill="#8ad46e"/>
<path d="M121.7 223.6h1.2v1.2h-1.2zM61.3 174.5h1.2v1.2h-1.2zM103.3 244h1.2v1.2h-1.2zM110.2 197.3h1.2v1.2h-1.2zM49.5 228.8h1.2v1.2h-1.2z" fill="#4f6bd0"/>
<path d="M67.7 162.8h1.2v1.2h-1.2zM73 263h1.2v1.2h-1.2zM75.9 160.4h1.2v1.2h-1.2zM68.6 266.3h1.2v1.2h-1.2z" fill="#ee7a45"/>
<line x1="33.3" y1="161" x2="33.3" y2="266.3" stroke="#333" stroke-width="0.8"/>
<line x1="33.3" y1="266.3" x2="162" y2="266.3" stroke="#333" stroke-width="0.8"/>
<line x1="43" y1="266.3" x2="43" y2="268.3" stroke="#000" stroke-width="0.7"/>
<text x="43" y="275.4" font-size="9.0" fill="#111" text-anchor="middle">−5</text>
<line x1="81.3" y1="266.3" x2="81.3" y2="268.3" stroke="#000" stroke-width="0.7"/>
<text x="81.3" y="275.4" font-size="9.0" fill="#111" text-anchor="middle">0</text>
<line x1="120.4" y1="266.3" x2="120.4" y2="268.3" stroke="#000" stroke-width="0.7"/>
<text x="120.4" y="275.4" font-size="9.0" fill="#111" text-anchor="middle">5</text>
<line x1="159.3" y1="266.3" x2="159.3" y2="268.3" stroke="#000" stroke-width="0.7"/>
<text x="159.3" y="275.4" font-size="9.0" fill="#111" text-anchor="middle">10</text>
<line x1="31.3" y1="185.2" x2="33.3" y2="185.2" stroke="#000" stroke-width="0.7"/>
<text x="30.3" y="188.2" font-size="9.0" fill="#111" text-anchor="end">3</text>
<line x1="31.3" y1="212.1" x2="33.3" y2="212.1" stroke="#000" stroke-width="0.7"/>
<text x="30.3" y="215.1" font-size="9.0" fill="#111" text-anchor="end">0</text>
<line x1="31.3" y1="238.8" x2="33.3" y2="238.8" stroke="#000" stroke-width="0.7"/>
<text x="30.3" y="241.8" font-size="9.0" fill="#111" text-anchor="end">−3</text>
<text x="99.5" y="285.3" font-size="9.1" fill="#111" text-anchor="middle">umap_1</text>
<text x="18.2" y="206" font-size="9.1" fill="#111" text-anchor="middle" transform="rotate(-90 18.2 206)">umap_2</text>
<circle cx="168" cy="202.7" r="2" fill="#4f6bd0"/>
<text x="173.2" y="204.8" font-size="7.2" fill="#111">C1QA<tspan font-size="4.5" dy="-3">+</tspan><tspan dy="3"> Cells</tspan></text>
<circle cx="168" cy="210.6" r="2" fill="#8ad46e"/>
<text x="173.2" y="212.7" font-size="7.2" fill="#111">HSP<tspan font-size="4.5" dy="-3">+</tspan><tspan dy="3"> Cells</tspan></text>
<circle cx="168" cy="218.5" r="2" fill="#ee7a45"/>
<text x="173.2" y="220.6" font-size="7.2" fill="#111">IL1B<tspan font-size="4.5" dy="-3">+</tspan><tspan dy="3"> Cells</tspan></text>
<circle cx="168" cy="226.4" r="2" fill="#e05a5e"/>
<text x="173.2" y="228.5" font-size="7.2" fill="#111">MARCO<tspan font-size="4.5" dy="-3">+</tspan><tspan dy="3"> Cells</tspan></text>
<circle cx="168" cy="234.3" r="2" fill="#e9c04a"/>
<text x="173.2" y="236.4" font-size="7.2" fill="#111">MKI67<tspan font-size="4.5" dy="-3">+</tspan><tspan dy="3"> Cells</tspan></text>
<text x="231.2" y="9.4" font-size="11.3" fill="#000" font-weight="bold">B</text>
<rect x="267" y="33" width="7.3" height="6.8" fill="#8ee040"/>
<text x="272.7" y="31.5" font-size="6.3" fill="#111" transform="rotate(-90 272.7 31.5)">0</text>
<rect x="275.1" y="33" width="7.3" height="6.8" fill="#4a8ed0"/>
<text x="280.8" y="31.5" font-size="6.3" fill="#111" transform="rotate(-90 280.8 31.5)">1</text>
<rect x="283.1" y="33" width="7.3" height="6.8" fill="#c0b030"/>
<text x="288.8" y="31.5" font-size="6.3" fill="#111" transform="rotate(-90 288.8 31.5)">2</text>
<rect x="291.1" y="33" width="7.3" height="6.8" fill="#e040f0"/>
<text x="296.9" y="31.5" font-size="6.3" fill="#111" transform="rotate(-90 296.9 31.5)">3</text>
<rect x="299.2" y="33" width="7.3" height="6.8" fill="#d0e040"/>
<text x="304.9" y="31.5" font-size="6.3" fill="#111" transform="rotate(-90 304.9 31.5)">4</text>
<rect x="307.2" y="33" width="7.3" height="6.8" fill="#80f0a0"/>
<text x="313" y="31.5" font-size="6.3" fill="#111" transform="rotate(-90 313 31.5)">5</text>
<rect x="315.3" y="33" width="7.3" height="6.8" fill="#f04040"/>
<text x="321" y="31.5" font-size="6.3" fill="#111" transform="rotate(-90 321 31.5)">6</text>
<rect x="323.4" y="33" width="7.3" height="6.8" fill="#c8a0f8"/>
<text x="329.1" y="31.5" font-size="6.3" fill="#111" transform="rotate(-90 329.1 31.5)">7</text>
<rect x="331.4" y="33" width="7.3" height="6.8" fill="#d040f0"/>
<text x="337.1" y="31.5" font-size="6.3" fill="#111" transform="rotate(-90 337.1 31.5)">8</text>
<rect x="339.4" y="33" width="7.3" height="6.8" fill="#000000"/>
<text x="345.2" y="31.5" font-size="6.3" fill="#111" transform="rotate(-90 345.2 31.5)">9</text>
<rect x="347.5" y="33" width="7.3" height="6.8" fill="#b02828"/>
<text x="353.2" y="31.5" font-size="6.3" fill="#111" transform="rotate(-90 353.2 31.5)">10</text>
<rect x="355.6" y="33" width="7.3" height="6.8" fill="#f050f0"/>
<text x="361.3" y="31.5" font-size="6.3" fill="#111" transform="rotate(-90 361.3 31.5)">11</text>
<rect x="363.6" y="33" width="7.3" height="6.8" fill="#d040f8"/>
<text x="369.3" y="31.5" font-size="6.3" fill="#111" transform="rotate(-90 369.3 31.5)">12</text>
<rect x="371.6" y="33" width="7.3" height="6.8" fill="#389028"/>
<text x="377.4" y="31.5" font-size="6.3" fill="#111" transform="rotate(-90 377.4 31.5)">13</text>
<path d="M266.6 41.4h8.1v1.2h-8.1zM266.6 42.5h8.1v1.2h-8.1zM266.6 43.7h8.1v1.2h-8.1zM266.6 44.8h8.1v1.2h-8.1zM266.6 46h8.1v1.2h-8.1zM266.6 47.1h8.1v1.2h-8.1zM266.6 48.3h8.1v1.2h-8.1zM266.6 49.4h8.1v1.2h-8.1zM266.6 50.5h8.1v1.2h-8.1zM266.6 51.7h8.1v1.2h-8.1zM266.6 52.8h8.1v1.2h-8.1zM266.6 54h8.1v1.2h-8.1zM266.6 55.1h8.1v1.2h-8.1zM266.6 56.3h8.1v1.2h-8.1zM282.7 58.8h8.1v1.2h-8.1zM282.7 59.9h8.1v1.2h-8.1zM282.7 61.1h8.1v1.2h-8.1zM282.7 62.2h8.1v1.2h-8.1zM282.7 63.3h8.1v1.2h-8.1zM282.7 64.4h8.1v1.2h-8.1zM282.7 65.6h8.1v1.2h-8.1zM282.7 66.7h8.1v1.2h-8.1zM282.7 67.8h8.1v1.2h-8.1zM282.7 69h8.1v1.2h-8.1zM282.7 70.1h8.1v1.2h-8.1zM282.7 71.2h8.1v1.2h-8.1zM282.7 72.3h8.1v1.2h-8.1zM282.7 73.5h8.1v1.2h-8.1zM290.8 76h8.1v1.2h-8.1zM290.8 77.1h8.1v1.2h-8.1zM290.8 78.3h8.1v1.2h-8.1zM290.8 79.4h8.1v1.2h-8.1zM290.8 80.5h8.1v1.2h-8.1zM290.8 81.6h8.1v1.2h-8.1zM290.8 82.8h8.1v1.2h-8.1zM290.8 83.9h8.1v1.2h-8.1zM290.8 85h8.1v1.2h-8.1zM290.8 86.2h8.1v1.2h-8.1zM290.8 87.3h8.1v1.2h-8.1zM290.8 88.4h8.1v1.2h-8.1zM290.8 89.5h8.1v1.2h-8.1zM290.8 90.7h8.1v1.2h-8.1zM306.9 93.2h8.1v1.2h-8.1zM306.9 94.3h8.1v1.2h-8.1zM306.9 95.5h8.1v1.2h-8.1zM306.9 96.6h8.1v1.2h-8.1zM306.9 97.7h8.1v1.2h-8.1zM306.9 98.8h8.1v1.2h-8.1zM306.9 100h8.1v1.2h-8.1zM306.9 101.1h8.1v1.2h-8.1zM306.9 102.2h8.1v1.2h-8.1zM306.9 103.4h8.1v1.2h-8.1zM306.9 104.5h8.1v1.2h-8.1zM306.9 105.6h8.1v1.2h-8.1zM306.9 106.7h8.1v1.2h-8.1zM306.9 107.9h8.1v1.2h-8.1zM323 110.5h8.1v1.2h-8.1zM323 111.7h8.1v1.2h-8.1zM323 112.9h8.1v1.2h-8.1zM323 114h8.1v1.2h-8.1zM323 115.2h8.1v1.2h-8.1zM323 116.4h8.1v1.2h-8.1zM323 117.6h8.1v1.2h-8.1zM323 118.7h8.1v1.2h-8.1zM323 119.9h8.1v1.2h-8.1zM323 121.1h8.1v1.2h-8.1zM323 122.3h8.1v1.2h-8.1zM323 123.4h8.1v1.2h-8.1zM323 124.6h8.1v1.2h-8.1zM314.9 127.2h8.1v1.2h-8.1zM314.9 128.4h8.1v1.2h-8.1zM314.9 129.5h8.1v1.2h-8.1zM314.9 130.7h8.1v1.2h-8.1zM314.9 131.8h8.1v1.2h-8.1zM314.9 133h8.1v1.2h-8.1zM314.9 134.1h8.1v1.2h-8.1zM314.9 135.3h8.1v1.2h-8.1zM314.9 136.4h8.1v1.2h-8.1zM314.9 137.6h8.1v1.2h-8.1zM314.9 138.7h8.1v1.2h-8.1zM314.9 139.9h8.1v1.2h-8.1zM339.1 141.1h8.1v1.2h-8.1zM339.1 142.2h8.1v1.2h-8.1zM339.1 143.4h8.1v1.2h-8.1zM339.1 144.5h8.1v1.2h-8.1zM339.1 145.7h8.1v1.2h-8.1zM339.1 146.8h8.1v1.2h-8.1zM339.1 148h8.1v1.2h-8.1zM339.1 149.1h8.1v1.2h-8.1zM339.1 150.3h8.1v1.2h-8.1zM339.1 151.4h8.1v1.2h-8.1zM339.1 152.6h8.1v1.2h-8.1zM339.1 153.7h8.1v1.2h-8.1zM339.1 154.9h8.1v1.2h-8.1zM339.1 156.1h8.1v1.2h-8.1zM339.1 157.2h8.1v1.2h-8.1zM339.1 158.4h8.1v1.2h-8.1zM274.7 159.5h8.1v1.2h-8.1zM274.7 160.7h8.1v1.2h-8.1zM274.7 161.8h8.1v1.2h-8.1zM274.7 163h8.1v1.2h-8.1zM274.7 164.1h8.1v1.2h-8.1zM274.7 165.3h8.1v1.2h-8.1zM274.7 166.4h8.1v1.2h-8.1zM274.7 167.6h8.1v1.2h-8.1zM274.7 168.8h8.1v1.2h-8.1zM274.7 169.9h8.1v1.2h-8.1zM274.7 171.1h8.1v1.2h-8.1zM274.7 172.2h8.1v1.2h-8.1zM347.1 173.4h8.1v1.2h-8.1zM347.1 174.5h8.1v1.2h-8.1zM347.1 175.7h8.1v1.2h-8.1zM347.1 176.8h8.1v1.2h-8.1zM347.1 178h8.1v1.2h-8.1zM347.1 179.1h8.1v1.2h-8.1zM347.1 180.3h8.1v1.2h-8.1zM347.1 181.4h8.1v1.2h-8.1zM347.1 182.6h8.1v1.2h-8.1zM347.1 183.8h8.1v1.2h-8.1zM347.1 184.9h8.1v1.2h-8.1zM347.1 186.1h8.1v1.2h-8.1zM355.2 187.2h8.1v1.2h-8.1zM355.2 188.4h8.1v1.2h-8.1zM355.2 189.5h8.1v1.2h-8.1zM355.2 190.7h8.1v1.2h-8.1zM355.2 191.8h8.1v1.2h-8.1zM355.2 193h8.1v1.2h-8.1zM355.2 194.1h8.1v1.2h-8.1zM355.2 195.3h8.1v1.2h-8.1zM355.2 196.5h8.1v1.2h-8.1zM355.2 197.6h8.1v1.2h-8.1zM355.2 198.8h8.1v1.2h-8.1zM355.2 199.9h8.1v1.2h-8.1zM355.2 201.1h8.1v1.2h-8.1zM355.2 202.2h8.1v1.2h-8.1zM371.2 203.4h8.1v1.2h-8.1zM371.2 204.5h8.1v1.2h-8.1zM371.2 205.7h8.1v1.2h-8.1zM371.2 206.8h8.1v1.2h-8.1zM371.2 208h8.1v1.2h-8.1zM371.2 209.2h8.1v1.2h-8.1zM371.2 210.3h8.1v1.2h-8.1zM371.2 211.5h8.1v1.2h-8.1zM371.2 212.6h8.1v1.2h-8.1zM371.2 213.8h8.1v1.2h-8.1zM371.2 214.9h8.1v1.2h-8.1zM371.2 216.1h8.1v1.2h-8.1zM371.2 217.2h8.1v1.2h-8.1zM298.8 219.5h8.1v1.2h-8.1zM298.8 220.7h8.1v1.2h-8.1zM298.8 221.8h8.1v1.2h-8.1zM298.8 223h8.1v1.2h-8.1zM298.8 224.2h8.1v1.2h-8.1zM298.8 225.3h8.1v1.2h-8.1zM298.8 226.5h8.1v1.2h-8.1zM298.8 227.6h8.1v1.2h-8.1zM331 228.8h8.1v1.2h-8.1zM331 229.9h8.1v1.2h-8.1zM331 231.1h8.1v1.2h-8.1zM331 232.2h8.1v1.2h-8.1zM331 233.4h8.1v1.2h-8.1zM331 234.5h8.1v1.2h-8.1zM331 235.7h8.1v1.2h-8.1zM331 236.9h8.1v1.2h-8.1zM331 238h8.1v1.2h-8.1zM331 239.2h8.1v1.2h-8.1zM331 240.3h8.1v1.2h-8.1zM331 241.5h8.1v1.2h-8.1zM331 242.6h8.1v1.2h-8.1zM363.2 244.9h8.1v1.2h-8.1zM363.2 246.1h8.1v1.2h-8.1zM363.2 247.2h8.1v1.2h-8.1zM363.2 248.4h8.1v1.2h-8.1zM363.2 249.5h8.1v1.2h-8.1zM363.2 250.7h8.1v1.2h-8.1zM363.2 251.9h8.1v1.2h-8.1zM363.2 253h8.1v1.2h-8.1zM363.2 254.2h8.1v1.2h-8.1zM363.2 255.3h8.1v1.2h-8.1zM363.2 256.5h8.1v1.2h-8.1zM363.2 257.6h8.1v1.2h-8.1zM363.2 258.8h8.1v1.2h-8.1zM363.2 259.9h8.1v1.2h-8.1zM363.2 261.1h8.1v1.2h-8.1zM363.2 262.2h8.1v1.2h-8.1z" fill="#b22222"/>
<path d="M274.7 41.4h8.1v1.2h-8.1zM331 43.7h8.1v1.2h-8.1zM323 46h8.1v1.2h-8.1zM298.8 48.3h8.1v1.2h-8.1zM323 50.5h8.1v1.2h-8.1zM282.7 51.7h8.1v1.2h-8.1zM290.8 56.3h8.1v1.2h-8.1zM298.8 56.3h8.1v1.2h-8.1zM298.8 59.9h8.1v1.2h-8.1zM266.6 63.3h8.1v1.2h-8.1zM290.8 65.6h8.1v1.2h-8.1zM347.1 66.7h8.1v1.2h-8.1zM323 72.3h8.1v1.2h-8.1zM339.1 72.3h8.1v1.2h-8.1zM355.2 78.3h8.1v1.2h-8.1zM331 80.5h8.1v1.2h-8.1zM339.1 83.9h8.1v1.2h-8.1zM266.6 88.4h8.1v1.2h-8.1zM331 88.4h8.1v1.2h-8.1zM266.6 98.8h8.1v1.2h-8.1zM314.9 101.1h8.1v1.2h-8.1zM274.7 103.4h8.1v1.2h-8.1zM298.8 103.4h8.1v1.2h-8.1zM266.6 105.6h8.1v1.2h-8.1zM298.8 110.5h8.1v1.2h-8.1zM314.9 111.7h8.1v1.2h-8.1zM347.1 112.9h8.1v1.2h-8.1zM331 115.2h8.1v1.2h-8.1zM331 117.6h8.1v1.2h-8.1zM290.8 118.7h8.1v1.2h-8.1zM298.8 119.9h8.1v1.2h-8.1zM347.1 121.1h8.1v1.2h-8.1zM355.2 124.6h8.1v1.2h-8.1zM363.2 127.2h8.1v1.2h-8.1zM282.7 129.5h8.1v1.2h-8.1zM290.8 129.5h8.1v1.2h-8.1zM331 131.8h8.1v1.2h-8.1zM266.6 136.4h8.1v1.2h-8.1zM347.1 136.4h8.1v1.2h-8.1zM371.2 139.9h8.1v1.2h-8.1zM314.9 143.4h8.1v1.2h-8.1zM306.9 150.3h8.1v1.2h-8.1zM314.9 150.3h8.1v1.2h-8.1zM298.8 154.9h8.1v1.2h-8.1zM266.6 158.4h8.1v1.2h-8.1zM282.7 167.6h8.1v1.2h-8.1zM323 171.1h8.1v1.2h-8.1zM347.1 171.1h8.1v1.2h-8.1zM298.8 172.2h8.1v1.2h-8.1zM347.1 172.2h8.1v1.2h-8.1zM266.6 174.5h8.1v1.2h-8.1zM323 174.5h8.1v1.2h-8.1zM363.2 178h8.1v1.2h-8.1zM290.8 180.3h8.1v1.2h-8.1zM363.2 180.3h8.1v1.2h-8.1zM282.7 203.4h8.1v1.2h-8.1zM331 203.4h8.1v1.2h-8.1zM355.2 206.8h8.1v1.2h-8.1zM290.8 208h8.1v1.2h-8.1zM314.9 208h8.1v1.2h-8.1zM290.8 214.9h8.1v1.2h-8.1zM282.7 216.1h8.1v1.2h-8.1zM355.2 225.3h8.1v1.2h-8.1zM347.1 226.5h8.1v1.2h-8.1zM347.1 228.8h8.1v1.2h-8.1zM363.2 228.8h8.1v1.2h-8.1zM339.1 233.4h8.1v1.2h-8.1zM371.2 235.7h8.1v1.2h-8.1zM314.9 239.2h8.1v1.2h-8.1zM323 240.3h8.1v1.2h-8.1zM355.2 240.3h8.1v1.2h-8.1zM290.8 247.2h8.1v1.2h-8.1zM371.2 249.5h8.1v1.2h-8.1zM347.1 251.9h8.1v1.2h-8.1zM282.7 253h8.1v1.2h-8.1zM282.7 254.2h8.1v1.2h-8.1z" fill="#bbc6df"/>
<path d="M282.7 41.4h8.1v1.2h-8.1zM290.8 41.4h8.1v1.2h-8.1zM323 41.4h8.1v1.2h-8.1zM331 41.4h8.1v1.2h-8.1zM290.8 42.5h8.1v1.2h-8.1zM306.9 42.5h8.1v1.2h-8.1zM314.9 42.5h8.1v1.2h-8.1zM355.2 42.5h8.1v1.2h-8.1zM282.7 43.7h8.1v1.2h-8.1zM298.8 43.7h8.1v1.2h-8.1zM314.9 43.7h8.1v1.2h-8.1zM323 43.7h8.1v1.2h-8.1zM363.2 43.7h8.1v1.2h-8.1zM371.2 43.7h8.1v1.2h-8.1zM282.7 44.8h8.1v1.2h-8.1zM290.8 44.8h8.1v1.2h-8.1zM331 44.8h8.1v1.2h-8.1zM339.1 44.8h8.1v1.2h-8.1zM355.2 44.8h8.1v1.2h-8.1zM363.2 44.8h8.1v1.2h-8.1zM282.7 46h8.1v1.2h-8.1zM290.8 46h8.1v1.2h-8.1zM306.9 46h8.1v1.2h-8.1zM331 46h8.1v1.2h-8.1zM282.7 47.1h8.1v1.2h-8.1zM290.8 47.1h8.1v1.2h-8.1zM306.9 47.1h8.1v1.2h-8.1zM323 47.1h8.1v1.2h-8.1zM339.1 47.1h8.1v1.2h-8.1zM347.1 47.1h8.1v1.2h-8.1zM355.2 47.1h8.1v1.2h-8.1zM371.2 47.1h8.1v1.2h-8.1zM306.9 48.3h8.1v1.2h-8.1zM314.9 48.3h8.1v1.2h-8.1zM331 48.3h8.1v1.2h-8.1zM371.2 48.3h8.1v1.2h-8.1zM274.7 49.4h8.1v1.2h-8.1zM282.7 49.4h8.1v1.2h-8.1zM298.8 49.4h8.1v1.2h-8.1zM314.9 49.4h8.1v1.2h-8.1zM339.1 49.4h8.1v1.2h-8.1zM347.1 49.4h8.1v1.2h-8.1zM363.2 49.4h8.1v1.2h-8.1zM371.2 49.4h8.1v1.2h-8.1zM282.7 50.5h8.1v1.2h-8.1zM298.8 50.5h8.1v1.2h-8.1zM306.9 50.5h8.1v1.2h-8.1zM274.7 51.7h8.1v1.2h-8.1zM298.8 51.7h8.1v1.2h-8.1zM331 51.7h8.1v1.2h-8.1zM339.1 51.7h8.1v1.2h-8.1zM347.1 51.7h8.1v1.2h-8.1zM298.8 52.8h8.1v1.2h-8.1zM323 52.8h8.1v1.2h-8.1zM282.7 54h8.1v1.2h-8.1zM298.8 54h8.1v1.2h-8.1zM306.9 54h8.1v1.2h-8.1zM363.2 54h8.1v1.2h-8.1zM274.7 55.1h8.1v1.2h-8.1zM282.7 55.1h8.1v1.2h-8.1zM290.8 55.1h8.1v1.2h-8.1zM314.9 55.1h8.1v1.2h-8.1zM339.1 55.1h8.1v1.2h-8.1zM355.2 55.1h8.1v1.2h-8.1zM371.2 55.1h8.1v1.2h-8.1zM274.7 56.3h8.1v1.2h-8.1zM306.9 56.3h8.1v1.2h-8.1zM339.1 56.3h8.1v1.2h-8.1zM347.1 56.3h8.1v1.2h-8.1zM355.2 56.3h8.1v1.2h-8.1zM298.8 58.8h8.1v1.2h-8.1zM314.9 58.8h8.1v1.2h-8.1zM323 58.8h8.1v1.2h-8.1zM339.1 58.8h8.1v1.2h-8.1zM355.2 58.8h8.1v1.2h-8.1zM266.6 59.9h8.1v1.2h-8.1zM363.2 59.9h8.1v1.2h-8.1zM298.8 61.1h8.1v1.2h-8.1zM314.9 61.1h8.1v1.2h-8.1zM323 61.1h8.1v1.2h-8.1zM339.1 61.1h8.1v1.2h-8.1zM355.2 61.1h8.1v1.2h-8.1zM290.8 62.2h8.1v1.2h-8.1zM306.9 62.2h8.1v1.2h-8.1zM314.9 62.2h8.1v1.2h-8.1zM331 62.2h8.1v1.2h-8.1zM347.1 62.2h8.1v1.2h-8.1zM371.2 62.2h8.1v1.2h-8.1zM306.9 63.3h8.1v1.2h-8.1zM314.9 63.3h8.1v1.2h-8.1zM323 63.3h8.1v1.2h-8.1zM339.1 63.3h8.1v1.2h-8.1zM298.8 64.4h8.1v1.2h-8.1zM306.9 64.4h8.1v1.2h-8.1zM331 64.4h8.1v1.2h-8.1zM314.9 65.6h8.1v1.2h-8.1zM331 65.6h8.1v1.2h-8.1zM363.2 65.6h8.1v1.2h-8.1zM298.8 66.7h8.1v1.2h-8.1zM306.9 66.7h8.1v1.2h-8.1zM266.6 67.8h8.1v1.2h-8.1zM331 67.8h8.1v1.2h-8.1zM355.2 67.8h8.1v1.2h-8.1zM347.1 69h8.1v1.2h-8.1zM355.2 69h8.1v1.2h-8.1zM266.6 70.1h8.1v1.2h-8.1zM290.8 70.1h8.1v1.2h-8.1zM298.8 70.1h8.1v1.2h-8.1zM331 70.1h8.1v1.2h-8.1zM339.1 70.1h8.1v1.2h-8.1zM355.2 70.1h8.1v1.2h-8.1zM290.8 71.2h8.1v1.2h-8.1zM298.8 71.2h8.1v1.2h-8.1zM323 71.2h8.1v1.2h-8.1zM266.6 72.3h8.1v1.2h-8.1zM331 72.3h8.1v1.2h-8.1zM363.2 72.3h8.1v1.2h-8.1zM371.2 72.3h8.1v1.2h-8.1zM298.8 73.5h8.1v1.2h-8.1zM314.9 73.5h8.1v1.2h-8.1zM323 73.5h8.1v1.2h-8.1zM331 73.5h8.1v1.2h-8.1zM274.7 76h8.1v1.2h-8.1zM323 76h8.1v1.2h-8.1zM339.1 76h8.1v1.2h-8.1zM282.7 77.1h8.1v1.2h-8.1zM331 77.1h8.1v1.2h-8.1zM339.1 77.1h8.1v1.2h-8.1zM363.2 77.1h8.1v1.2h-8.1zM274.7 78.3h8.1v1.2h-8.1zM314.9 78.3h8.1v1.2h-8.1zM323 78.3h8.1v1.2h-8.1zM331 78.3h8.1v1.2h-8.1zM371.2 78.3h8.1v1.2h-8.1zM266.6 79.4h8.1v1.2h-8.1zM298.8 79.4h8.1v1.2h-8.1zM306.9 79.4h8.1v1.2h-8.1zM323 79.4h8.1v1.2h-8.1zM339.1 79.4h8.1v1.2h-8.1zM274.7 80.5h8.1v1.2h-8.1zM306.9 80.5h8.1v1.2h-8.1zM314.9 80.5h8.1v1.2h-8.1zM339.1 80.5h8.1v1.2h-8.1zM355.2 80.5h8.1v1.2h-8.1zM266.6 81.6h8.1v1.2h-8.1zM314.9 81.6h8.1v1.2h-8.1zM347.1 81.6h8.1v1.2h-8.1zM363.2 81.6h8.1v1.2h-8.1zM314.9 82.8h8.1v1.2h-8.1zM323 82.8h8.1v1.2h-8.1zM331 82.8h8.1v1.2h-8.1zM339.1 82.8h8.1v1.2h-8.1zM274.7 83.9h8.1v1.2h-8.1zM282.7 83.9h8.1v1.2h-8.1zM306.9 83.9h8.1v1.2h-8.1zM363.2 83.9h8.1v1.2h-8.1zM339.1 85h8.1v1.2h-8.1zM347.1 85h8.1v1.2h-8.1zM355.2 85h8.1v1.2h-8.1zM274.7 86.2h8.1v1.2h-8.1zM282.7 86.2h8.1v1.2h-8.1zM314.9 86.2h8.1v1.2h-8.1zM339.1 86.2h8.1v1.2h-8.1zM363.2 86.2h8.1v1.2h-8.1zM371.2 86.2h8.1v1.2h-8.1zM298.8 87.3h8.1v1.2h-8.1zM306.9 87.3h8.1v1.2h-8.1zM331 87.3h8.1v1.2h-8.1zM339.1 88.4h8.1v1.2h-8.1zM347.1 88.4h8.1v1.2h-8.1zM363.2 88.4h8.1v1.2h-8.1zM282.7 89.5h8.1v1.2h-8.1zM298.8 89.5h8.1v1.2h-8.1zM314.9 89.5h8.1v1.2h-8.1zM323 89.5h8.1v1.2h-8.1zM339.1 89.5h8.1v1.2h-8.1zM347.1 89.5h8.1v1.2h-8.1zM355.2 89.5h8.1v1.2h-8.1zM363.2 89.5h8.1v1.2h-8.1zM282.7 90.7h8.1v1.2h-8.1zM298.8 90.7h8.1v1.2h-8.1zM306.9 90.7h8.1v1.2h-8.1zM347.1 90.7h8.1v1.2h-8.1zM282.7 93.2h8.1v1.2h-8.1zM290.8 93.2h8.1v1.2h-8.1zM347.1 93.2h8.1v1.2h-8.1zM274.7 94.3h8.1v1.2h-8.1zM323 94.3h8.1v1.2h-8.1zM347.1 94.3h8.1v1.2h-8.1zM355.2 94.3h8.1v1.2h-8.1zM363.2 94.3h8.1v1.2h-8.1zM274.7 95.5h8.1v1.2h-8.1zM298.8 95.5h8.1v1.2h-8.1zM323 95.5h8.1v1.2h-8.1zM331 95.5h8.1v1.2h-8.1zM339.1 95.5h8.1v1.2h-8.1zM266.6 96.6h8.1v1.2h-8.1zM314.9 96.6h8.1v1.2h-8.1zM274.7 97.7h8.1v1.2h-8.1zM282.7 97.7h8.1v1.2h-8.1zM290.8 97.7h8.1v1.2h-8.1zM347.1 97.7h8.1v1.2h-8.1zM371.2 97.7h8.1v1.2h-8.1zM274.7 98.8h8.1v1.2h-8.1zM314.9 98.8h8.1v1.2h-8.1zM323 98.8h8.1v1.2h-8.1zM331 98.8h8.1v1.2h-8.1zM290.8 100h8.1v1.2h-8.1zM323 100h8.1v1.2h-8.1zM339.1 100h8.1v1.2h-8.1zM371.2 100h8.1v1.2h-8.1zM266.6 101.1h8.1v1.2h-8.1zM274.7 101.1h8.1v1.2h-8.1zM298.8 101.1h8.1v1.2h-8.1zM323 101.1h8.1v1.2h-8.1zM298.8 102.2h8.1v1.2h-8.1zM314.9 102.2h8.1v1.2h-8.1zM363.2 102.2h8.1v1.2h-8.1zM323 103.4h8.1v1.2h-8.1zM347.1 103.4h8.1v1.2h-8.1zM363.2 103.4h8.1v1.2h-8.1zM282.7 104.5h8.1v1.2h-8.1zM290.8 104.5h8.1v1.2h-8.1zM314.9 104.5h8.1v1.2h-8.1zM323 104.5h8.1v1.2h-8.1zM331 104.5h8.1v1.2h-8.1zM355.2 104.5h8.1v1.2h-8.1zM371.2 104.5h8.1v1.2h-8.1zM274.7 105.6h8.1v1.2h-8.1zM298.8 105.6h8.1v1.2h-8.1zM339.1 105.6h8.1v1.2h-8.1zM355.2 105.6h8.1v1.2h-8.1zM274.7 106.7h8.1v1.2h-8.1zM290.8 106.7h8.1v1.2h-8.1zM355.2 106.7h8.1v1.2h-8.1zM363.2 106.7h8.1v1.2h-8.1zM266.6 107.9h8.1v1.2h-8.1zM282.7 107.9h8.1v1.2h-8.1zM290.8 107.9h8.1v1.2h-8.1zM298.8 107.9h8.1v1.2h-8.1zM323 107.9h8.1v1.2h-8.1zM339.1 107.9h8.1v1.2h-8.1zM347.1 107.9h8.1v1.2h-8.1zM331 110.5h8.1v1.2h-8.1zM339.1 110.5h8.1v1.2h-8.1zM347.1 110.5h8.1v1.2h-8.1zM266.6 111.7h8.1v1.2h-8.1zM290.8 111.7h8.1v1.2h-8.1zM331 111.7h8.1v1.2h-8.1zM363.2 111.7h8.1v1.2h-8.1zM266.6 112.9h8.1v1.2h-8.1zM274.7 112.9h8.1v1.2h-8.1zM306.9 112.9h8.1v1.2h-8.1zM355.2 112.9h8.1v1.2h-8.1zM371.2 112.9h8.1v1.2h-8.1zM282.7 114h8.1v1.2h-8.1zM290.8 114h8.1v1.2h-8.1zM298.8 114h8.1v1.2h-8.1zM306.9 114h8.1v1.2h-8.1zM314.9 114h8.1v1.2h-8.1zM339.1 114h8.1v1.2h-8.1zM355.2 114h8.1v1.2h-8.1zM266.6 115.2h8.1v1.2h-8.1zM282.7 115.2h8.1v1.2h-8.1zM314.9 115.2h8.1v1.2h-8.1zM339.1 115.2h8.1v1.2h-8.1zM371.2 115.2h8.1v1.2h-8.1zM314.9 116.4h8.1v1.2h-8.1zM339.1 116.4h8.1v1.2h-8.1zM274.7 117.6h8.1v1.2h-8.1zM298.8 117.6h8.1v1.2h-8.1zM306.9 117.6h8.1v1.2h-8.1zM339.1 117.6h8.1v1.2h-8.1zM347.1 117.6h8.1v1.2h-8.1zM355.2 117.6h8.1v1.2h-8.1zM363.2 117.6h8.1v1.2h-8.1zM371.2 117.6h8.1v1.2h-8.1zM266.6 118.7h8.1v1.2h-8.1zM274.7 118.7h8.1v1.2h-8.1zM306.9 118.7h8.1v1.2h-8.1zM314.9 118.7h8.1v1.2h-8.1zM331 118.7h8.1v1.2h-8.1zM355.2 118.7h8.1v1.2h-8.1zM363.2 118.7h8.1v1.2h-8.1zM282.7 119.9h8.1v1.2h-8.1zM314.9 119.9h8.1v1.2h-8.1zM339.1 119.9h8.1v1.2h-8.1zM355.2 119.9h8.1v1.2h-8.1zM363.2 119.9h8.1v1.2h-8.1zM274.7 121.1h8.1v1.2h-8.1zM282.7 121.1h8.1v1.2h-8.1zM298.8 121.1h8.1v1.2h-8.1zM306.9 121.1h8.1v1.2h-8.1zM314.9 121.1h8.1v1.2h-8.1zM371.2 121.1h8.1v1.2h-8.1zM266.6 122.3h8.1v1.2h-8.1zM274.7 122.3h8.1v1.2h-8.1zM290.8 122.3h8.1v1.2h-8.1zM298.8 122.3h8.1v1.2h-8.1zM306.9 122.3h8.1v1.2h-8.1zM347.1 122.3h8.1v1.2h-8.1zM355.2 122.3h8.1v1.2h-8.1zM363.2 122.3h8.1v1.2h-8.1zM371.2 122.3h8.1v1.2h-8.1zM306.9 123.4h8.1v1.2h-8.1zM347.1 123.4h8.1v1.2h-8.1zM266.6 124.6h8.1v1.2h-8.1zM314.9 124.6h8.1v1.2h-8.1zM282.7 127.2h8.1v1.2h-8.1zM298.8 127.2h8.1v1.2h-8.1zM306.9 127.2h8.1v1.2h-8.1zM331 127.2h8.1v1.2h-8.1zM347.1 127.2h8.1v1.2h-8.1zM290.8 128.4h8.1v1.2h-8.1zM306.9 128.4h8.1v1.2h-8.1zM347.1 128.4h8.1v1.2h-8.1zM355.2 128.4h8.1v1.2h-8.1zM274.7 129.5h8.1v1.2h-8.1zM331 129.5h8.1v1.2h-8.1zM339.1 129.5h8.1v1.2h-8.1zM347.1 129.5h8.1v1.2h-8.1zM371.2 129.5h8.1v1.2h-8.1zM274.7 130.7h8.1v1.2h-8.1zM290.8 130.7h8.1v1.2h-8.1zM298.8 130.7h8.1v1.2h-8.1zM323 130.7h8.1v1.2h-8.1zM371.2 130.7h8.1v1.2h-8.1zM274.7 131.8h8.1v1.2h-8.1zM339.1 131.8h8.1v1.2h-8.1zM347.1 131.8h8.1v1.2h-8.1zM371.2 131.8h8.1v1.2h-8.1zM290.8 133h8.1v1.2h-8.1zM331 133h8.1v1.2h-8.1zM363.2 133h8.1v1.2h-8.1zM371.2 133h8.1v1.2h-8.1zM266.6 134.1h8.1v1.2h-8.1zM282.7 134.1h8.1v1.2h-8.1zM298.8 134.1h8.1v1.2h-8.1zM323 134.1h8.1v1.2h-8.1zM355.2 134.1h8.1v1.2h-8.1zM363.2 134.1h8.1v1.2h-8.1zM274.7 135.3h8.1v1.2h-8.1zM306.9 135.3h8.1v1.2h-8.1zM323 135.3h8.1v1.2h-8.1zM363.2 135.3h8.1v1.2h-8.1zM282.7 136.4h8.1v1.2h-8.1zM323 136.4h8.1v1.2h-8.1zM363.2 136.4h8.1v1.2h-8.1zM274.7 137.6h8.1v1.2h-8.1zM298.8 137.6h8.1v1.2h-8.1zM323 137.6h8.1v1.2h-8.1zM331 137.6h8.1v1.2h-8.1zM355.2 137.6h8.1v1.2h-8.1zM298.8 138.7h8.1v1.2h-8.1zM323 138.7h8.1v1.2h-8.1zM363.2 138.7h8.1v1.2h-8.1zM274.7 139.9h8.1v1.2h-8.1zM282.7 139.9h8.1v1.2h-8.1zM266.6 141.1h8.1v1.2h-8.1zM274.7 141.1h8.1v1.2h-8.1zM314.9 141.1h8.1v1.2h-8.1zM331 141.1h8.1v1.2h-8.1zM347.1 141.1h8.1v1.2h-8.1zM355.2 141.1h8.1v1.2h-8.1zM363.2 141.1h8.1v1.2h-8.1zM371.2 141.1h8.1v1.2h-8.1zM298.8 142.2h8.1v1.2h-8.1zM314.9 142.2h8.1v1.2h-8.1zM347.1 142.2h8.1v1.2h-8.1zM363.2 142.2h8.1v1.2h-8.1zM282.7 143.4h8.1v1.2h-8.1zM298.8 143.4h8.1v1.2h-8.1zM306.9 143.4h8.1v1.2h-8.1zM355.2 143.4h8.1v1.2h-8.1zM282.7 144.5h8.1v1.2h-8.1zM290.8 144.5h8.1v1.2h-8.1zM306.9 144.5h8.1v1.2h-8.1zM355.2 144.5h8.1v1.2h-8.1zM274.7 145.7h8.1v1.2h-8.1zM290.8 146.8h8.1v1.2h-8.1zM298.8 146.8h8.1v1.2h-8.1zM323 146.8h8.1v1.2h-8.1zM371.2 146.8h8.1v1.2h-8.1zM274.7 148h8.1v1.2h-8.1zM290.8 148h8.1v1.2h-8.1zM314.9 148h8.1v1.2h-8.1zM355.2 148h8.1v1.2h-8.1zM363.2 148h8.1v1.2h-8.1zM274.7 149.1h8.1v1.2h-8.1zM363.2 149.1h8.1v1.2h-8.1zM371.2 149.1h8.1v1.2h-8.1zM363.2 150.3h8.1v1.2h-8.1zM331 151.4h8.1v1.2h-8.1zM355.2 151.4h8.1v1.2h-8.1zM371.2 151.4h8.1v1.2h-8.1zM274.7 152.6h8.1v1.2h-8.1zM306.9 152.6h8.1v1.2h-8.1zM363.2 152.6h8.1v1.2h-8.1zM274.7 153.7h8.1v1.2h-8.1zM290.8 153.7h8.1v1.2h-8.1zM306.9 153.7h8.1v1.2h-8.1zM314.9 153.7h8.1v1.2h-8.1zM347.1 153.7h8.1v1.2h-8.1zM306.9 154.9h8.1v1.2h-8.1zM331 154.9h8.1v1.2h-8.1zM355.2 154.9h8.1v1.2h-8.1zM371.2 154.9h8.1v1.2h-8.1zM314.9 156.1h8.1v1.2h-8.1zM355.2 156.1h8.1v1.2h-8.1zM363.2 156.1h8.1v1.2h-8.1zM371.2 156.1h8.1v1.2h-8.1zM274.7 157.2h8.1v1.2h-8.1zM363.2 157.2h8.1v1.2h-8.1zM290.8 158.4h8.1v1.2h-8.1zM298.8 158.4h8.1v1.2h-8.1zM306.9 158.4h8.1v1.2h-8.1zM314.9 158.4h8.1v1.2h-8.1zM363.2 158.4h8.1v1.2h-8.1zM371.2 158.4h8.1v1.2h-8.1zM282.7 159.5h8.1v1.2h-8.1zM290.8 159.5h8.1v1.2h-8.1zM314.9 159.5h8.1v1.2h-8.1zM323 159.5h8.1v1.2h-8.1zM331 159.5h8.1v1.2h-8.1zM339.1 159.5h8.1v1.2h-8.1zM347.1 159.5h8.1v1.2h-8.1zM363.2 159.5h8.1v1.2h-8.1zM266.6 160.7h8.1v1.2h-8.1zM290.8 160.7h8.1v1.2h-8.1zM331 160.7h8.1v1.2h-8.1zM339.1 160.7h8.1v1.2h-8.1zM266.6 161.8h8.1v1.2h-8.1zM282.7 161.8h8.1v1.2h-8.1zM323 161.8h8.1v1.2h-8.1zM339.1 161.8h8.1v1.2h-8.1zM371.2 161.8h8.1v1.2h-8.1zM290.8 163h8.1v1.2h-8.1zM306.9 163h8.1v1.2h-8.1zM331 163h8.1v1.2h-8.1zM371.2 163h8.1v1.2h-8.1zM266.6 164.1h8.1v1.2h-8.1zM290.8 164.1h8.1v1.2h-8.1zM363.2 164.1h8.1v1.2h-8.1zM371.2 164.1h8.1v1.2h-8.1zM298.8 165.3h8.1v1.2h-8.1zM314.9 165.3h8.1v1.2h-8.1zM323 165.3h8.1v1.2h-8.1zM331 165.3h8.1v1.2h-8.1zM347.1 165.3h8.1v1.2h-8.1zM355.2 165.3h8.1v1.2h-8.1zM363.2 165.3h8.1v1.2h-8.1zM306.9 166.4h8.1v1.2h-8.1zM331 166.4h8.1v1.2h-8.1zM339.1 166.4h8.1v1.2h-8.1zM363.2 166.4h8.1v1.2h-8.1zM314.9 167.6h8.1v1.2h-8.1zM266.6 168.8h8.1v1.2h-8.1zM298.8 168.8h8.1v1.2h-8.1zM339.1 168.8h8.1v1.2h-8.1zM363.2 168.8h8.1v1.2h-8.1zM298.8 169.9h8.1v1.2h-8.1zM306.9 169.9h8.1v1.2h-8.1zM314.9 169.9h8.1v1.2h-8.1zM323 169.9h8.1v1.2h-8.1zM363.2 169.9h8.1v1.2h-8.1zM266.6 171.1h8.1v1.2h-8.1zM306.9 171.1h8.1v1.2h-8.1zM314.9 171.1h8.1v1.2h-8.1zM266.6 172.2h8.1v1.2h-8.1zM323 172.2h8.1v1.2h-8.1zM274.7 173.4h8.1v1.2h-8.1zM282.7 173.4h8.1v1.2h-8.1zM290.8 173.4h8.1v1.2h-8.1zM298.8 173.4h8.1v1.2h-8.1zM339.1 173.4h8.1v1.2h-8.1zM355.2 173.4h8.1v1.2h-8.1zM363.2 173.4h8.1v1.2h-8.1zM314.9 174.5h8.1v1.2h-8.1zM339.1 174.5h8.1v1.2h-8.1zM290.8 175.7h8.1v1.2h-8.1zM371.2 175.7h8.1v1.2h-8.1zM266.6 176.8h8.1v1.2h-8.1zM314.9 176.8h8.1v1.2h-8.1zM323 176.8h8.1v1.2h-8.1zM355.2 176.8h8.1v1.2h-8.1zM306.9 178h8.1v1.2h-8.1zM323 178h8.1v1.2h-8.1zM266.6 179.1h8.1v1.2h-8.1zM314.9 179.1h8.1v1.2h-8.1zM331 179.1h8.1v1.2h-8.1zM339.1 179.1h8.1v1.2h-8.1zM371.2 179.1h8.1v1.2h-8.1zM274.7 180.3h8.1v1.2h-8.1zM298.8 180.3h8.1v1.2h-8.1zM371.2 180.3h8.1v1.2h-8.1zM274.7 181.4h8.1v1.2h-8.1zM290.8 181.4h8.1v1.2h-8.1zM306.9 181.4h8.1v1.2h-8.1zM355.2 181.4h8.1v1.2h-8.1zM266.6 182.6h8.1v1.2h-8.1zM282.7 182.6h8.1v1.2h-8.1zM339.1 182.6h8.1v1.2h-8.1zM371.2 182.6h8.1v1.2h-8.1zM274.7 183.8h8.1v1.2h-8.1zM306.9 183.8h8.1v1.2h-8.1zM314.9 183.8h8.1v1.2h-8.1zM331 183.8h8.1v1.2h-8.1zM363.2 183.8h8.1v1.2h-8.1zM266.6 184.9h8.1v1.2h-8.1zM290.8 184.9h8.1v1.2h-8.1zM331 184.9h8.1v1.2h-8.1zM339.1 184.9h8.1v1.2h-8.1zM355.2 184.9h8.1v1.2h-8.1zM266.6 186.1h8.1v1.2h-8.1zM274.7 186.1h8.1v1.2h-8.1zM282.7 186.1h8.1v1.2h-8.1zM290.8 186.1h8.1v1.2h-8.1zM306.9 186.1h8.1v1.2h-8.1zM323 186.1h8.1v1.2h-8.1zM331 186.1h8.1v1.2h-8.1zM339.1 186.1h8.1v1.2h-8.1zM355.2 186.1h8.1v1.2h-8.1zM363.2 186.1h8.1v1.2h-8.1zM371.2 186.1h8.1v1.2h-8.1zM298.8 187.2h8.1v1.2h-8.1zM274.7 188.4h8.1v1.2h-8.1zM339.1 188.4h8.1v1.2h-8.1zM306.9 189.5h8.1v1.2h-8.1zM363.2 190.7h8.1v1.2h-8.1zM339.1 194.1h8.1v1.2h-8.1zM331 195.3h8.1v1.2h-8.1zM298.8 196.5h8.1v1.2h-8.1zM323 196.5h8.1v1.2h-8.1zM339.1 196.5h8.1v1.2h-8.1zM371.2 197.6h8.1v1.2h-8.1zM282.7 198.8h8.1v1.2h-8.1zM274.7 203.4h8.1v1.2h-8.1zM290.8 203.4h8.1v1.2h-8.1zM266.6 204.5h8.1v1.2h-8.1zM323 204.5h8.1v1.2h-8.1zM347.1 204.5h8.1v1.2h-8.1zM266.6 205.7h8.1v1.2h-8.1zM314.9 205.7h8.1v1.2h-8.1zM323 205.7h8.1v1.2h-8.1zM331 205.7h8.1v1.2h-8.1zM339.1 205.7h8.1v1.2h-8.1zM282.7 206.8h8.1v1.2h-8.1zM314.9 206.8h8.1v1.2h-8.1zM323 206.8h8.1v1.2h-8.1zM363.2 206.8h8.1v1.2h-8.1zM274.7 208h8.1v1.2h-8.1zM323 208h8.1v1.2h-8.1zM331 208h8.1v1.2h-8.1zM347.1 208h8.1v1.2h-8.1zM306.9 209.2h8.1v1.2h-8.1zM314.9 209.2h8.1v1.2h-8.1zM331 209.2h8.1v1.2h-8.1zM347.1 209.2h8.1v1.2h-8.1zM266.6 210.3h8.1v1.2h-8.1zM282.7 210.3h8.1v1.2h-8.1zM314.9 210.3h8.1v1.2h-8.1zM331 210.3h8.1v1.2h-8.1zM339.1 210.3h8.1v1.2h-8.1zM274.7 211.5h8.1v1.2h-8.1zM339.1 211.5h8.1v1.2h-8.1zM363.2 211.5h8.1v1.2h-8.1zM274.7 212.6h8.1v1.2h-8.1zM290.8 212.6h8.1v1.2h-8.1zM306.9 212.6h8.1v1.2h-8.1zM323 212.6h8.1v1.2h-8.1zM331 212.6h8.1v1.2h-8.1zM355.2 212.6h8.1v1.2h-8.1zM266.6 213.8h8.1v1.2h-8.1zM298.8 213.8h8.1v1.2h-8.1zM306.9 213.8h8.1v1.2h-8.1zM323 213.8h8.1v1.2h-8.1zM347.1 213.8h8.1v1.2h-8.1zM355.2 213.8h8.1v1.2h-8.1zM363.2 213.8h8.1v1.2h-8.1zM274.7 214.9h8.1v1.2h-8.1zM306.9 214.9h8.1v1.2h-8.1zM314.9 214.9h8.1v1.2h-8.1zM323 214.9h8.1v1.2h-8.1zM339.1 214.9h8.1v1.2h-8.1zM363.2 214.9h8.1v1.2h-8.1zM266.6 216.1h8.1v1.2h-8.1zM274.7 216.1h8.1v1.2h-8.1zM306.9 216.1h8.1v1.2h-8.1zM339.1 216.1h8.1v1.2h-8.1zM266.6 217.2h8.1v1.2h-8.1zM274.7 217.2h8.1v1.2h-8.1zM290.8 217.2h8.1v1.2h-8.1zM306.9 217.2h8.1v1.2h-8.1zM314.9 217.2h8.1v1.2h-8.1zM331 217.2h8.1v1.2h-8.1zM355.2 217.2h8.1v1.2h-8.1zM363.2 217.2h8.1v1.2h-8.1zM282.7 218.4h8.1v1.2h-8.1zM290.8 218.4h8.1v1.2h-8.1zM363.2 218.4h8.1v1.2h-8.1zM363.2 219.5h8.1v1.2h-8.1zM371.2 219.5h8.1v1.2h-8.1zM290.8 220.7h8.1v1.2h-8.1zM306.9 220.7h8.1v1.2h-8.1zM314.9 220.7h8.1v1.2h-8.1zM331 220.7h8.1v1.2h-8.1zM371.2 220.7h8.1v1.2h-8.1zM282.7 221.8h8.1v1.2h-8.1zM323 221.8h8.1v1.2h-8.1zM347.1 221.8h8.1v1.2h-8.1zM363.2 221.8h8.1v1.2h-8.1zM371.2 221.8h8.1v1.2h-8.1zM266.6 223h8.1v1.2h-8.1zM282.7 223h8.1v1.2h-8.1zM306.9 223h8.1v1.2h-8.1zM314.9 223h8.1v1.2h-8.1zM339.1 223h8.1v1.2h-8.1zM363.2 223h8.1v1.2h-8.1zM266.6 224.2h8.1v1.2h-8.1zM274.7 224.2h8.1v1.2h-8.1zM282.7 224.2h8.1v1.2h-8.1zM323 224.2h8.1v1.2h-8.1zM331 224.2h8.1v1.2h-8.1zM355.2 224.2h8.1v1.2h-8.1zM274.7 225.3h8.1v1.2h-8.1zM282.7 225.3h8.1v1.2h-8.1zM306.9 225.3h8.1v1.2h-8.1zM331 225.3h8.1v1.2h-8.1zM339.1 225.3h8.1v1.2h-8.1zM363.2 225.3h8.1v1.2h-8.1zM266.6 226.5h8.1v1.2h-8.1zM282.7 226.5h8.1v1.2h-8.1zM290.8 226.5h8.1v1.2h-8.1zM306.9 226.5h8.1v1.2h-8.1zM323 226.5h8.1v1.2h-8.1zM355.2 226.5h8.1v1.2h-8.1zM266.6 227.6h8.1v1.2h-8.1zM290.8 227.6h8.1v1.2h-8.1zM323 227.6h8.1v1.2h-8.1zM339.1 227.6h8.1v1.2h-8.1zM371.2 227.6h8.1v1.2h-8.1zM266.6 228.8h8.1v1.2h-8.1zM274.7 228.8h8.1v1.2h-8.1zM282.7 228.8h8.1v1.2h-8.1zM290.8 228.8h8.1v1.2h-8.1zM355.2 228.8h8.1v1.2h-8.1zM282.7 229.9h8.1v1.2h-8.1zM298.8 229.9h8.1v1.2h-8.1zM306.9 229.9h8.1v1.2h-8.1zM339.1 229.9h8.1v1.2h-8.1zM347.1 229.9h8.1v1.2h-8.1zM363.2 229.9h8.1v1.2h-8.1zM266.6 231.1h8.1v1.2h-8.1zM274.7 231.1h8.1v1.2h-8.1zM298.8 231.1h8.1v1.2h-8.1zM314.9 231.1h8.1v1.2h-8.1zM339.1 231.1h8.1v1.2h-8.1zM355.2 231.1h8.1v1.2h-8.1zM371.2 231.1h8.1v1.2h-8.1zM290.8 232.2h8.1v1.2h-8.1zM306.9 232.2h8.1v1.2h-8.1zM323 232.2h8.1v1.2h-8.1zM347.1 232.2h8.1v1.2h-8.1zM355.2 232.2h8.1v1.2h-8.1zM371.2 232.2h8.1v1.2h-8.1zM274.7 233.4h8.1v1.2h-8.1zM371.2 233.4h8.1v1.2h-8.1zM314.9 234.5h8.1v1.2h-8.1zM339.1 234.5h8.1v1.2h-8.1zM347.1 234.5h8.1v1.2h-8.1zM371.2 234.5h8.1v1.2h-8.1zM339.1 235.7h8.1v1.2h-8.1zM355.2 235.7h8.1v1.2h-8.1zM363.2 235.7h8.1v1.2h-8.1zM282.7 236.9h8.1v1.2h-8.1zM298.8 236.9h8.1v1.2h-8.1zM306.9 236.9h8.1v1.2h-8.1zM323 236.9h8.1v1.2h-8.1zM363.2 236.9h8.1v1.2h-8.1zM266.6 238h8.1v1.2h-8.1zM274.7 238h8.1v1.2h-8.1zM306.9 238h8.1v1.2h-8.1zM339.1 238h8.1v1.2h-8.1zM347.1 238h8.1v1.2h-8.1zM355.2 238h8.1v1.2h-8.1zM363.2 238h8.1v1.2h-8.1zM266.6 239.2h8.1v1.2h-8.1zM274.7 239.2h8.1v1.2h-8.1zM363.2 239.2h8.1v1.2h-8.1zM274.7 240.3h8.1v1.2h-8.1zM298.8 240.3h8.1v1.2h-8.1zM339.1 240.3h8.1v1.2h-8.1zM363.2 240.3h8.1v1.2h-8.1zM282.7 241.5h8.1v1.2h-8.1zM314.9 241.5h8.1v1.2h-8.1zM323 241.5h8.1v1.2h-8.1zM355.2 241.5h8.1v1.2h-8.1zM266.6 242.6h8.1v1.2h-8.1zM290.8 242.6h8.1v1.2h-8.1zM323 242.6h8.1v1.2h-8.1zM282.7 243.8h8.1v1.2h-8.1zM306.9 243.8h8.1v1.2h-8.1zM314.9 243.8h8.1v1.2h-8.1zM347.1 243.8h8.1v1.2h-8.1zM355.2 243.8h8.1v1.2h-8.1zM371.2 243.8h8.1v1.2h-8.1zM266.6 244.9h8.1v1.2h-8.1zM274.7 244.9h8.1v1.2h-8.1zM323 244.9h8.1v1.2h-8.1zM331 244.9h8.1v1.2h-8.1zM339.1 244.9h8.1v1.2h-8.1zM371.2 244.9h8.1v1.2h-8.1zM274.7 246.1h8.1v1.2h-8.1zM298.8 246.1h8.1v1.2h-8.1zM331 246.1h8.1v1.2h-8.1zM323 247.2h8.1v1.2h-8.1zM371.2 247.2h8.1v1.2h-8.1zM290.8 248.4h8.1v1.2h-8.1zM306.9 248.4h8.1v1.2h-8.1zM331 248.4h8.1v1.2h-8.1zM339.1 248.4h8.1v1.2h-8.1zM371.2 248.4h8.1v1.2h-8.1zM266.6 249.5h8.1v1.2h-8.1zM274.7 249.5h8.1v1.2h-8.1zM282.7 249.5h8.1v1.2h-8.1zM290.8 249.5h8.1v1.2h-8.1zM339.1 249.5h8.1v1.2h-8.1zM347.1 249.5h8.1v1.2h-8.1zM355.2 249.5h8.1v1.2h-8.1zM274.7 250.7h8.1v1.2h-8.1zM331 250.7h8.1v1.2h-8.1zM371.2 250.7h8.1v1.2h-8.1zM266.6 251.9h8.1v1.2h-8.1zM298.8 251.9h8.1v1.2h-8.1zM306.9 251.9h8.1v1.2h-8.1zM323 251.9h8.1v1.2h-8.1zM331 251.9h8.1v1.2h-8.1zM355.2 251.9h8.1v1.2h-8.1zM306.9 253h8.1v1.2h-8.1zM331 253h8.1v1.2h-8.1zM339.1 253h8.1v1.2h-8.1zM298.8 254.2h8.1v1.2h-8.1zM331 254.2h8.1v1.2h-8.1zM339.1 254.2h8.1v1.2h-8.1zM266.6 255.3h8.1v1.2h-8.1zM282.7 255.3h8.1v1.2h-8.1zM290.8 255.3h8.1v1.2h-8.1zM314.9 255.3h8.1v1.2h-8.1zM347.1 255.3h8.1v1.2h-8.1zM266.6 256.5h8.1v1.2h-8.1zM274.7 256.5h8.1v1.2h-8.1zM298.8 256.5h8.1v1.2h-8.1zM331 256.5h8.1v1.2h-8.1zM282.7 257.6h8.1v1.2h-8.1zM306.9 257.6h8.1v1.2h-8.1zM323 257.6h8.1v1.2h-8.1zM347.1 257.6h8.1v1.2h-8.1zM290.8 258.8h8.1v1.2h-8.1zM331 258.8h8.1v1.2h-8.1zM339.1 258.8h8.1v1.2h-8.1zM347.1 258.8h8.1v1.2h-8.1zM371.2 258.8h8.1v1.2h-8.1zM323 259.9h8.1v1.2h-8.1zM331 259.9h8.1v1.2h-8.1zM371.2 259.9h8.1v1.2h-8.1zM266.6 261.1h8.1v1.2h-8.1zM282.7 261.1h8.1v1.2h-8.1zM290.8 261.1h8.1v1.2h-8.1zM323 261.1h8.1v1.2h-8.1zM282.7 262.2h8.1v1.2h-8.1zM314.9 262.2h8.1v1.2h-8.1z" fill="#d3d9e9"/>
<path d="M298.8 41.4h8.1v1.2h-8.1zM314.9 41.4h8.1v1.2h-8.1zM347.1 41.4h8.1v1.2h-8.1zM371.2 42.5h8.1v1.2h-8.1zM339.1 43.7h8.1v1.2h-8.1zM339.1 46h8.1v1.2h-8.1zM363.2 46h8.1v1.2h-8.1zM371.2 46h8.1v1.2h-8.1zM298.8 47.1h8.1v1.2h-8.1zM314.9 47.1h8.1v1.2h-8.1zM331 47.1h8.1v1.2h-8.1zM363.2 47.1h8.1v1.2h-8.1zM282.7 48.3h8.1v1.2h-8.1zM290.8 48.3h8.1v1.2h-8.1zM323 48.3h8.1v1.2h-8.1zM355.2 48.3h8.1v1.2h-8.1zM314.9 50.5h8.1v1.2h-8.1zM331 50.5h8.1v1.2h-8.1zM339.1 50.5h8.1v1.2h-8.1zM314.9 51.7h8.1v1.2h-8.1zM290.8 52.8h8.1v1.2h-8.1zM339.1 52.8h8.1v1.2h-8.1zM371.2 52.8h8.1v1.2h-8.1zM274.7 54h8.1v1.2h-8.1zM331 54h8.1v1.2h-8.1zM347.1 55.1h8.1v1.2h-8.1zM323 56.3h8.1v1.2h-8.1zM331 56.3h8.1v1.2h-8.1zM371.2 56.3h8.1v1.2h-8.1zM314.9 59.9h8.1v1.2h-8.1zM323 59.9h8.1v1.2h-8.1zM371.2 59.9h8.1v1.2h-8.1zM363.2 61.1h8.1v1.2h-8.1zM371.2 61.1h8.1v1.2h-8.1zM331 63.3h8.1v1.2h-8.1zM363.2 63.3h8.1v1.2h-8.1zM371.2 63.3h8.1v1.2h-8.1zM274.7 64.4h8.1v1.2h-8.1zM298.8 65.6h8.1v1.2h-8.1zM306.9 65.6h8.1v1.2h-8.1zM355.2 65.6h8.1v1.2h-8.1zM266.6 66.7h8.1v1.2h-8.1zM371.2 66.7h8.1v1.2h-8.1zM266.6 69h8.1v1.2h-8.1zM331 69h8.1v1.2h-8.1zM274.7 70.1h8.1v1.2h-8.1zM306.9 70.1h8.1v1.2h-8.1zM314.9 70.1h8.1v1.2h-8.1zM347.1 70.1h8.1v1.2h-8.1zM274.7 71.2h8.1v1.2h-8.1zM339.1 71.2h8.1v1.2h-8.1zM363.2 71.2h8.1v1.2h-8.1zM290.8 72.3h8.1v1.2h-8.1zM314.9 72.3h8.1v1.2h-8.1zM347.1 72.3h8.1v1.2h-8.1zM266.6 73.5h8.1v1.2h-8.1zM274.7 73.5h8.1v1.2h-8.1zM371.2 73.5h8.1v1.2h-8.1zM298.8 76h8.1v1.2h-8.1zM347.1 76h8.1v1.2h-8.1zM298.8 77.1h8.1v1.2h-8.1zM306.9 77.1h8.1v1.2h-8.1zM355.2 77.1h8.1v1.2h-8.1zM347.1 78.3h8.1v1.2h-8.1zM363.2 78.3h8.1v1.2h-8.1zM282.7 79.4h8.1v1.2h-8.1zM314.9 79.4h8.1v1.2h-8.1zM323 80.5h8.1v1.2h-8.1zM274.7 81.6h8.1v1.2h-8.1zM306.9 81.6h8.1v1.2h-8.1zM266.6 82.8h8.1v1.2h-8.1zM298.8 82.8h8.1v1.2h-8.1zM266.6 83.9h8.1v1.2h-8.1zM298.8 85h8.1v1.2h-8.1zM298.8 86.2h8.1v1.2h-8.1zM331 86.2h8.1v1.2h-8.1zM314.9 87.3h8.1v1.2h-8.1zM323 87.3h8.1v1.2h-8.1zM266.6 89.5h8.1v1.2h-8.1zM274.7 89.5h8.1v1.2h-8.1zM331 89.5h8.1v1.2h-8.1zM323 90.7h8.1v1.2h-8.1zM331 90.7h8.1v1.2h-8.1zM298.8 93.2h8.1v1.2h-8.1zM323 93.2h8.1v1.2h-8.1zM331 93.2h8.1v1.2h-8.1zM282.7 94.3h8.1v1.2h-8.1zM314.9 94.3h8.1v1.2h-8.1zM331 94.3h8.1v1.2h-8.1zM282.7 95.5h8.1v1.2h-8.1zM314.9 95.5h8.1v1.2h-8.1zM274.7 96.6h8.1v1.2h-8.1zM290.8 96.6h8.1v1.2h-8.1zM298.8 96.6h8.1v1.2h-8.1zM331 96.6h8.1v1.2h-8.1zM347.1 96.6h8.1v1.2h-8.1zM355.2 96.6h8.1v1.2h-8.1zM363.2 96.6h8.1v1.2h-8.1zM282.7 98.8h8.1v1.2h-8.1zM290.8 98.8h8.1v1.2h-8.1zM298.8 98.8h8.1v1.2h-8.1zM347.1 98.8h8.1v1.2h-8.1zM363.2 98.8h8.1v1.2h-8.1zM282.7 101.1h8.1v1.2h-8.1zM331 101.1h8.1v1.2h-8.1zM339.1 101.1h8.1v1.2h-8.1zM363.2 101.1h8.1v1.2h-8.1zM266.6 102.2h8.1v1.2h-8.1zM323 102.2h8.1v1.2h-8.1zM347.1 102.2h8.1v1.2h-8.1zM355.2 102.2h8.1v1.2h-8.1zM339.1 103.4h8.1v1.2h-8.1zM274.7 104.5h8.1v1.2h-8.1zM323 105.6h8.1v1.2h-8.1zM331 105.6h8.1v1.2h-8.1zM371.2 105.6h8.1v1.2h-8.1zM282.7 106.7h8.1v1.2h-8.1zM274.7 107.9h8.1v1.2h-8.1zM314.9 107.9h8.1v1.2h-8.1zM331 107.9h8.1v1.2h-8.1zM371.2 110.5h8.1v1.2h-8.1zM298.8 111.7h8.1v1.2h-8.1zM306.9 111.7h8.1v1.2h-8.1zM355.2 111.7h8.1v1.2h-8.1zM298.8 112.9h8.1v1.2h-8.1zM314.9 112.9h8.1v1.2h-8.1zM363.2 112.9h8.1v1.2h-8.1zM266.6 114h8.1v1.2h-8.1zM347.1 114h8.1v1.2h-8.1zM266.6 116.4h8.1v1.2h-8.1zM290.8 116.4h8.1v1.2h-8.1zM298.8 116.4h8.1v1.2h-8.1zM347.1 116.4h8.1v1.2h-8.1zM363.2 116.4h8.1v1.2h-8.1zM371.2 116.4h8.1v1.2h-8.1zM266.6 117.6h8.1v1.2h-8.1zM339.1 118.7h8.1v1.2h-8.1zM274.7 119.9h8.1v1.2h-8.1zM347.1 119.9h8.1v1.2h-8.1zM290.8 121.1h8.1v1.2h-8.1zM331 121.1h8.1v1.2h-8.1zM339.1 121.1h8.1v1.2h-8.1zM314.9 122.3h8.1v1.2h-8.1zM266.6 123.4h8.1v1.2h-8.1zM274.7 123.4h8.1v1.2h-8.1zM282.7 123.4h8.1v1.2h-8.1zM298.8 123.4h8.1v1.2h-8.1zM331 123.4h8.1v1.2h-8.1zM355.2 123.4h8.1v1.2h-8.1zM274.7 124.6h8.1v1.2h-8.1zM331 124.6h8.1v1.2h-8.1zM339.1 124.6h8.1v1.2h-8.1zM363.2 124.6h8.1v1.2h-8.1zM371.2 124.6h8.1v1.2h-8.1zM274.7 127.2h8.1v1.2h-8.1zM290.8 127.2h8.1v1.2h-8.1zM339.1 127.2h8.1v1.2h-8.1zM266.6 129.5h8.1v1.2h-8.1zM298.8 129.5h8.1v1.2h-8.1zM363.2 129.5h8.1v1.2h-8.1zM266.6 131.8h8.1v1.2h-8.1zM323 133h8.1v1.2h-8.1zM339.1 133h8.1v1.2h-8.1zM331 134.1h8.1v1.2h-8.1zM355.2 135.3h8.1v1.2h-8.1zM266.6 137.6h8.1v1.2h-8.1zM282.7 137.6h8.1v1.2h-8.1zM274.7 138.7h8.1v1.2h-8.1zM282.7 138.7h8.1v1.2h-8.1zM339.1 138.7h8.1v1.2h-8.1zM298.8 139.9h8.1v1.2h-8.1zM363.2 139.9h8.1v1.2h-8.1zM298.8 141.1h8.1v1.2h-8.1zM306.9 141.1h8.1v1.2h-8.1zM323 141.1h8.1v1.2h-8.1zM266.6 142.2h8.1v1.2h-8.1zM266.6 143.4h8.1v1.2h-8.1zM290.8 143.4h8.1v1.2h-8.1zM347.1 143.4h8.1v1.2h-8.1zM274.7 144.5h8.1v1.2h-8.1zM314.9 144.5h8.1v1.2h-8.1zM266.6 145.7h8.1v1.2h-8.1zM290.8 145.7h8.1v1.2h-8.1zM298.8 145.7h8.1v1.2h-8.1zM306.9 145.7h8.1v1.2h-8.1zM314.9 145.7h8.1v1.2h-8.1zM323 145.7h8.1v1.2h-8.1zM347.1 145.7h8.1v1.2h-8.1zM355.2 145.7h8.1v1.2h-8.1zM363.2 145.7h8.1v1.2h-8.1zM371.2 145.7h8.1v1.2h-8.1zM274.7 146.8h8.1v1.2h-8.1zM282.7 146.8h8.1v1.2h-8.1zM331 146.8h8.1v1.2h-8.1zM355.2 146.8h8.1v1.2h-8.1zM282.7 148h8.1v1.2h-8.1zM298.8 148h8.1v1.2h-8.1zM323 148h8.1v1.2h-8.1zM274.7 150.3h8.1v1.2h-8.1zM331 150.3h8.1v1.2h-8.1zM371.2 150.3h8.1v1.2h-8.1zM274.7 151.4h8.1v1.2h-8.1zM290.8 151.4h8.1v1.2h-8.1zM298.8 152.6h8.1v1.2h-8.1zM355.2 152.6h8.1v1.2h-8.1zM371.2 152.6h8.1v1.2h-8.1zM266.6 153.7h8.1v1.2h-8.1zM282.7 153.7h8.1v1.2h-8.1zM298.8 153.7h8.1v1.2h-8.1zM355.2 153.7h8.1v1.2h-8.1zM363.2 153.7h8.1v1.2h-8.1zM282.7 154.9h8.1v1.2h-8.1zM290.8 154.9h8.1v1.2h-8.1zM347.1 154.9h8.1v1.2h-8.1zM298.8 156.1h8.1v1.2h-8.1zM347.1 156.1h8.1v1.2h-8.1zM266.6 157.2h8.1v1.2h-8.1zM290.8 157.2h8.1v1.2h-8.1zM306.9 157.2h8.1v1.2h-8.1zM347.1 157.2h8.1v1.2h-8.1zM371.2 157.2h8.1v1.2h-8.1zM306.9 159.5h8.1v1.2h-8.1zM323 160.7h8.1v1.2h-8.1zM371.2 160.7h8.1v1.2h-8.1zM290.8 161.8h8.1v1.2h-8.1zM314.9 161.8h8.1v1.2h-8.1zM331 161.8h8.1v1.2h-8.1zM282.7 163h8.1v1.2h-8.1zM314.9 164.1h8.1v1.2h-8.1zM355.2 164.1h8.1v1.2h-8.1zM266.6 165.3h8.1v1.2h-8.1zM266.6 166.4h8.1v1.2h-8.1zM298.8 166.4h8.1v1.2h-8.1zM323 166.4h8.1v1.2h-8.1zM355.2 166.4h8.1v1.2h-8.1zM371.2 166.4h8.1v1.2h-8.1zM298.8 167.6h8.1v1.2h-8.1zM323 167.6h8.1v1.2h-8.1zM347.1 167.6h8.1v1.2h-8.1zM371.2 167.6h8.1v1.2h-8.1zM282.7 168.8h8.1v1.2h-8.1zM290.8 168.8h8.1v1.2h-8.1zM331 168.8h8.1v1.2h-8.1zM347.1 169.9h8.1v1.2h-8.1zM282.7 171.1h8.1v1.2h-8.1zM331 171.1h8.1v1.2h-8.1zM290.8 172.2h8.1v1.2h-8.1zM306.9 172.2h8.1v1.2h-8.1zM314.9 172.2h8.1v1.2h-8.1zM339.1 172.2h8.1v1.2h-8.1zM363.2 172.2h8.1v1.2h-8.1zM323 173.4h8.1v1.2h-8.1zM331 173.4h8.1v1.2h-8.1zM371.2 173.4h8.1v1.2h-8.1zM274.7 174.5h8.1v1.2h-8.1zM282.7 174.5h8.1v1.2h-8.1zM298.8 174.5h8.1v1.2h-8.1zM331 174.5h8.1v1.2h-8.1zM363.2 174.5h8.1v1.2h-8.1zM371.2 174.5h8.1v1.2h-8.1zM298.8 175.7h8.1v1.2h-8.1zM306.9 175.7h8.1v1.2h-8.1zM355.2 175.7h8.1v1.2h-8.1zM363.2 176.8h8.1v1.2h-8.1zM298.8 178h8.1v1.2h-8.1zM371.2 178h8.1v1.2h-8.1zM355.2 179.1h8.1v1.2h-8.1zM323 180.3h8.1v1.2h-8.1zM339.1 180.3h8.1v1.2h-8.1zM355.2 180.3h8.1v1.2h-8.1zM298.8 181.4h8.1v1.2h-8.1zM314.9 181.4h8.1v1.2h-8.1zM274.7 182.6h8.1v1.2h-8.1zM306.9 182.6h8.1v1.2h-8.1zM355.2 182.6h8.1v1.2h-8.1zM298.8 183.8h8.1v1.2h-8.1zM371.2 183.8h8.1v1.2h-8.1zM314.9 184.9h8.1v1.2h-8.1zM314.9 186.1h8.1v1.2h-8.1zM363.2 191.8h8.1v1.2h-8.1zM266.6 203.4h8.1v1.2h-8.1zM298.8 203.4h8.1v1.2h-8.1zM323 203.4h8.1v1.2h-8.1zM355.2 203.4h8.1v1.2h-8.1zM282.7 204.5h8.1v1.2h-8.1zM290.8 204.5h8.1v1.2h-8.1zM331 204.5h8.1v1.2h-8.1zM363.2 204.5h8.1v1.2h-8.1zM355.2 205.7h8.1v1.2h-8.1zM266.6 206.8h8.1v1.2h-8.1zM274.7 206.8h8.1v1.2h-8.1zM339.1 206.8h8.1v1.2h-8.1zM306.9 208h8.1v1.2h-8.1zM339.1 208h8.1v1.2h-8.1zM363.2 208h8.1v1.2h-8.1zM323 209.2h8.1v1.2h-8.1zM355.2 209.2h8.1v1.2h-8.1zM363.2 209.2h8.1v1.2h-8.1zM282.7 211.5h8.1v1.2h-8.1zM314.9 211.5h8.1v1.2h-8.1zM323 211.5h8.1v1.2h-8.1zM314.9 212.6h8.1v1.2h-8.1zM363.2 212.6h8.1v1.2h-8.1zM314.9 213.8h8.1v1.2h-8.1zM290.8 216.1h8.1v1.2h-8.1zM298.8 216.1h8.1v1.2h-8.1zM331 216.1h8.1v1.2h-8.1zM347.1 218.4h8.1v1.2h-8.1zM363.2 220.7h8.1v1.2h-8.1zM290.8 221.8h8.1v1.2h-8.1zM331 221.8h8.1v1.2h-8.1zM355.2 223h8.1v1.2h-8.1zM306.9 224.2h8.1v1.2h-8.1zM347.1 224.2h8.1v1.2h-8.1zM266.6 225.3h8.1v1.2h-8.1zM290.8 225.3h8.1v1.2h-8.1zM314.9 226.5h8.1v1.2h-8.1zM314.9 227.6h8.1v1.2h-8.1zM331 227.6h8.1v1.2h-8.1zM363.2 227.6h8.1v1.2h-8.1zM298.8 228.8h8.1v1.2h-8.1zM314.9 228.8h8.1v1.2h-8.1zM339.1 228.8h8.1v1.2h-8.1zM371.2 228.8h8.1v1.2h-8.1zM314.9 229.9h8.1v1.2h-8.1zM355.2 229.9h8.1v1.2h-8.1zM282.7 231.1h8.1v1.2h-8.1zM347.1 231.1h8.1v1.2h-8.1zM363.2 231.1h8.1v1.2h-8.1zM363.2 232.2h8.1v1.2h-8.1zM298.8 233.4h8.1v1.2h-8.1zM363.2 233.4h8.1v1.2h-8.1zM298.8 234.5h8.1v1.2h-8.1zM266.6 235.7h8.1v1.2h-8.1zM282.7 235.7h8.1v1.2h-8.1zM298.8 235.7h8.1v1.2h-8.1zM347.1 235.7h8.1v1.2h-8.1zM339.1 236.9h8.1v1.2h-8.1zM298.8 238h8.1v1.2h-8.1zM282.7 239.2h8.1v1.2h-8.1zM290.8 239.2h8.1v1.2h-8.1zM323 239.2h8.1v1.2h-8.1zM339.1 239.2h8.1v1.2h-8.1zM282.7 240.3h8.1v1.2h-8.1zM290.8 240.3h8.1v1.2h-8.1zM306.9 240.3h8.1v1.2h-8.1zM298.8 241.5h8.1v1.2h-8.1zM314.9 242.6h8.1v1.2h-8.1zM347.1 242.6h8.1v1.2h-8.1zM363.2 242.6h8.1v1.2h-8.1zM331 243.8h8.1v1.2h-8.1zM363.2 243.8h8.1v1.2h-8.1zM282.7 244.9h8.1v1.2h-8.1zM290.8 244.9h8.1v1.2h-8.1zM298.8 244.9h8.1v1.2h-8.1zM314.9 244.9h8.1v1.2h-8.1zM355.2 244.9h8.1v1.2h-8.1zM306.9 246.1h8.1v1.2h-8.1zM347.1 246.1h8.1v1.2h-8.1zM266.6 247.2h8.1v1.2h-8.1zM331 247.2h8.1v1.2h-8.1zM339.1 247.2h8.1v1.2h-8.1zM282.7 248.4h8.1v1.2h-8.1zM355.2 248.4h8.1v1.2h-8.1zM266.6 250.7h8.1v1.2h-8.1zM323 250.7h8.1v1.2h-8.1zM355.2 250.7h8.1v1.2h-8.1zM274.7 251.9h8.1v1.2h-8.1zM314.9 251.9h8.1v1.2h-8.1zM290.8 253h8.1v1.2h-8.1zM314.9 253h8.1v1.2h-8.1zM323 253h8.1v1.2h-8.1zM306.9 254.2h8.1v1.2h-8.1zM323 254.2h8.1v1.2h-8.1zM371.2 254.2h8.1v1.2h-8.1zM306.9 255.3h8.1v1.2h-8.1zM355.2 255.3h8.1v1.2h-8.1zM371.2 255.3h8.1v1.2h-8.1zM282.7 256.5h8.1v1.2h-8.1zM290.8 256.5h8.1v1.2h-8.1zM314.9 256.5h8.1v1.2h-8.1zM323 256.5h8.1v1.2h-8.1zM339.1 256.5h8.1v1.2h-8.1zM347.1 256.5h8.1v1.2h-8.1zM314.9 258.8h8.1v1.2h-8.1zM323 258.8h8.1v1.2h-8.1zM266.6 259.9h8.1v1.2h-8.1zM339.1 259.9h8.1v1.2h-8.1zM347.1 259.9h8.1v1.2h-8.1zM339.1 261.1h8.1v1.2h-8.1zM339.1 262.2h8.1v1.2h-8.1zM347.1 262.2h8.1v1.2h-8.1z" fill="#c7d0e4"/>
<path d="M306.9 41.4h8.1v1.2h-8.1zM274.7 42.5h8.1v1.2h-8.1zM355.2 43.7h8.1v1.2h-8.1zM274.7 50.5h8.1v1.2h-8.1zM306.9 51.7h8.1v1.2h-8.1zM323 51.7h8.1v1.2h-8.1zM282.7 52.8h8.1v1.2h-8.1zM282.7 56.3h8.1v1.2h-8.1zM347.1 58.8h8.1v1.2h-8.1zM355.2 63.3h8.1v1.2h-8.1zM298.8 69h8.1v1.2h-8.1zM306.9 71.2h8.1v1.2h-8.1zM355.2 73.5h8.1v1.2h-8.1zM347.1 77.1h8.1v1.2h-8.1zM371.2 77.1h8.1v1.2h-8.1zM282.7 81.6h8.1v1.2h-8.1zM355.2 83.9h8.1v1.2h-8.1zM274.7 85h8.1v1.2h-8.1zM274.7 88.4h8.1v1.2h-8.1zM298.8 88.4h8.1v1.2h-8.1zM314.9 88.4h8.1v1.2h-8.1zM323 88.4h8.1v1.2h-8.1zM314.9 90.7h8.1v1.2h-8.1zM274.7 93.2h8.1v1.2h-8.1zM266.6 95.5h8.1v1.2h-8.1zM355.2 95.5h8.1v1.2h-8.1zM339.1 98.8h8.1v1.2h-8.1zM371.2 102.2h8.1v1.2h-8.1zM290.8 103.4h8.1v1.2h-8.1zM371.2 106.7h8.1v1.2h-8.1zM339.1 122.3h8.1v1.2h-8.1zM290.8 123.4h8.1v1.2h-8.1zM371.2 123.4h8.1v1.2h-8.1zM306.9 130.7h8.1v1.2h-8.1zM347.1 130.7h8.1v1.2h-8.1zM266.6 133h8.1v1.2h-8.1zM339.1 134.1h8.1v1.2h-8.1zM290.8 135.3h8.1v1.2h-8.1zM290.8 138.7h8.1v1.2h-8.1zM266.6 139.9h8.1v1.2h-8.1zM282.7 142.2h8.1v1.2h-8.1zM298.8 144.5h8.1v1.2h-8.1zM371.2 148h8.1v1.2h-8.1zM363.2 151.4h8.1v1.2h-8.1zM363.2 154.9h8.1v1.2h-8.1zM347.1 158.4h8.1v1.2h-8.1zM355.2 160.7h8.1v1.2h-8.1zM282.7 164.1h8.1v1.2h-8.1zM339.1 167.6h8.1v1.2h-8.1zM355.2 171.1h8.1v1.2h-8.1zM274.7 178h8.1v1.2h-8.1zM282.7 178h8.1v1.2h-8.1zM355.2 178h8.1v1.2h-8.1zM331 182.6h8.1v1.2h-8.1zM282.7 183.8h8.1v1.2h-8.1zM282.7 184.9h8.1v1.2h-8.1zM274.7 187.2h8.1v1.2h-8.1zM282.7 187.2h8.1v1.2h-8.1zM306.9 187.2h8.1v1.2h-8.1zM314.9 187.2h8.1v1.2h-8.1zM331 187.2h8.1v1.2h-8.1zM331 189.5h8.1v1.2h-8.1zM339.1 189.5h8.1v1.2h-8.1zM347.1 189.5h8.1v1.2h-8.1zM363.2 189.5h8.1v1.2h-8.1zM306.9 190.7h8.1v1.2h-8.1zM371.2 190.7h8.1v1.2h-8.1zM266.6 191.8h8.1v1.2h-8.1zM314.9 191.8h8.1v1.2h-8.1zM339.1 191.8h8.1v1.2h-8.1zM371.2 191.8h8.1v1.2h-8.1zM290.8 193h8.1v1.2h-8.1zM298.8 193h8.1v1.2h-8.1zM274.7 194.1h8.1v1.2h-8.1zM323 194.1h8.1v1.2h-8.1zM363.2 194.1h8.1v1.2h-8.1zM290.8 195.3h8.1v1.2h-8.1zM314.9 195.3h8.1v1.2h-8.1zM323 195.3h8.1v1.2h-8.1zM339.1 195.3h8.1v1.2h-8.1zM371.2 195.3h8.1v1.2h-8.1zM290.8 196.5h8.1v1.2h-8.1zM266.6 197.6h8.1v1.2h-8.1zM282.7 197.6h8.1v1.2h-8.1zM290.8 197.6h8.1v1.2h-8.1zM314.9 197.6h8.1v1.2h-8.1zM347.1 197.6h8.1v1.2h-8.1zM290.8 198.8h8.1v1.2h-8.1zM347.1 198.8h8.1v1.2h-8.1zM266.6 199.9h8.1v1.2h-8.1zM282.7 199.9h8.1v1.2h-8.1zM347.1 199.9h8.1v1.2h-8.1zM363.2 199.9h8.1v1.2h-8.1zM371.2 199.9h8.1v1.2h-8.1zM298.8 201.1h8.1v1.2h-8.1zM306.9 201.1h8.1v1.2h-8.1zM314.9 201.1h8.1v1.2h-8.1zM290.8 202.2h8.1v1.2h-8.1zM339.1 202.2h8.1v1.2h-8.1zM282.7 208h8.1v1.2h-8.1zM274.7 209.2h8.1v1.2h-8.1zM298.8 212.6h8.1v1.2h-8.1zM266.6 214.9h8.1v1.2h-8.1zM355.2 216.1h8.1v1.2h-8.1zM306.9 219.5h8.1v1.2h-8.1zM347.1 219.5h8.1v1.2h-8.1zM355.2 220.7h8.1v1.2h-8.1zM331 223h8.1v1.2h-8.1zM274.7 227.6h8.1v1.2h-8.1zM306.9 231.1h8.1v1.2h-8.1zM274.7 232.2h8.1v1.2h-8.1zM266.6 236.9h8.1v1.2h-8.1zM355.2 236.9h8.1v1.2h-8.1zM371.2 240.3h8.1v1.2h-8.1zM290.8 241.5h8.1v1.2h-8.1zM306.9 244.9h8.1v1.2h-8.1zM298.8 248.4h8.1v1.2h-8.1zM298.8 249.5h8.1v1.2h-8.1zM323 249.5h8.1v1.2h-8.1zM347.1 253h8.1v1.2h-8.1zM306.9 256.5h8.1v1.2h-8.1zM282.7 259.9h8.1v1.2h-8.1zM355.2 261.1h8.1v1.2h-8.1z" fill="#f6f6f8"/>
<path d="M339.1 41.4h8.1v1.2h-8.1zM363.2 41.4h8.1v1.2h-8.1zM298.8 42.5h8.1v1.2h-8.1zM363.2 42.5h8.1v1.2h-8.1zM314.9 46h8.1v1.2h-8.1zM347.1 48.3h8.1v1.2h-8.1zM290.8 50.5h8.1v1.2h-8.1zM355.2 50.5h8.1v1.2h-8.1zM290.8 51.7h8.1v1.2h-8.1zM355.2 51.7h8.1v1.2h-8.1zM371.2 51.7h8.1v1.2h-8.1zM274.7 52.8h8.1v1.2h-8.1zM363.2 52.8h8.1v1.2h-8.1zM298.8 55.1h8.1v1.2h-8.1zM323 55.1h8.1v1.2h-8.1zM331 55.1h8.1v1.2h-8.1zM363.2 56.3h8.1v1.2h-8.1zM274.7 58.8h8.1v1.2h-8.1zM290.8 58.8h8.1v1.2h-8.1zM306.9 58.8h8.1v1.2h-8.1zM290.8 59.9h8.1v1.2h-8.1zM331 59.9h8.1v1.2h-8.1zM339.1 59.9h8.1v1.2h-8.1zM266.6 61.1h8.1v1.2h-8.1zM290.8 61.1h8.1v1.2h-8.1zM331 61.1h8.1v1.2h-8.1zM363.2 64.4h8.1v1.2h-8.1zM323 65.6h8.1v1.2h-8.1zM347.1 65.6h8.1v1.2h-8.1zM363.2 66.7h8.1v1.2h-8.1zM290.8 67.8h8.1v1.2h-8.1zM314.9 69h8.1v1.2h-8.1zM371.2 70.1h8.1v1.2h-8.1zM331 71.2h8.1v1.2h-8.1zM371.2 71.2h8.1v1.2h-8.1zM274.7 72.3h8.1v1.2h-8.1zM282.7 76h8.1v1.2h-8.1zM355.2 76h8.1v1.2h-8.1zM314.9 77.1h8.1v1.2h-8.1zM266.6 78.3h8.1v1.2h-8.1zM347.1 79.4h8.1v1.2h-8.1zM355.2 79.4h8.1v1.2h-8.1zM347.1 80.5h8.1v1.2h-8.1zM371.2 81.6h8.1v1.2h-8.1zM306.9 82.8h8.1v1.2h-8.1zM355.2 82.8h8.1v1.2h-8.1zM363.2 82.8h8.1v1.2h-8.1zM298.8 83.9h8.1v1.2h-8.1zM266.6 85h8.1v1.2h-8.1zM282.7 85h8.1v1.2h-8.1zM331 85h8.1v1.2h-8.1zM355.2 86.2h8.1v1.2h-8.1zM266.6 87.3h8.1v1.2h-8.1zM371.2 89.5h8.1v1.2h-8.1zM314.9 93.2h8.1v1.2h-8.1zM339.1 93.2h8.1v1.2h-8.1zM371.2 93.2h8.1v1.2h-8.1zM298.8 94.3h8.1v1.2h-8.1zM339.1 96.6h8.1v1.2h-8.1zM331 97.7h8.1v1.2h-8.1zM339.1 97.7h8.1v1.2h-8.1zM282.7 103.4h8.1v1.2h-8.1zM266.6 104.5h8.1v1.2h-8.1zM363.2 105.6h8.1v1.2h-8.1zM266.6 106.7h8.1v1.2h-8.1zM347.1 106.7h8.1v1.2h-8.1zM266.6 110.5h8.1v1.2h-8.1zM282.7 110.5h8.1v1.2h-8.1zM339.1 111.7h8.1v1.2h-8.1zM282.7 112.9h8.1v1.2h-8.1zM274.7 115.2h8.1v1.2h-8.1zM347.1 115.2h8.1v1.2h-8.1zM282.7 116.4h8.1v1.2h-8.1zM331 116.4h8.1v1.2h-8.1zM355.2 116.4h8.1v1.2h-8.1zM290.8 117.6h8.1v1.2h-8.1zM347.1 118.7h8.1v1.2h-8.1zM331 119.9h8.1v1.2h-8.1zM371.2 119.9h8.1v1.2h-8.1zM282.7 122.3h8.1v1.2h-8.1zM282.7 128.4h8.1v1.2h-8.1zM371.2 128.4h8.1v1.2h-8.1zM282.7 130.7h8.1v1.2h-8.1zM363.2 130.7h8.1v1.2h-8.1zM290.8 131.8h8.1v1.2h-8.1zM298.8 131.8h8.1v1.2h-8.1zM323 131.8h8.1v1.2h-8.1zM298.8 133h8.1v1.2h-8.1zM347.1 133h8.1v1.2h-8.1zM274.7 134.1h8.1v1.2h-8.1zM290.8 134.1h8.1v1.2h-8.1zM371.2 134.1h8.1v1.2h-8.1zM266.6 135.3h8.1v1.2h-8.1zM371.2 136.4h8.1v1.2h-8.1zM266.6 138.7h8.1v1.2h-8.1zM290.8 139.9h8.1v1.2h-8.1zM347.1 139.9h8.1v1.2h-8.1zM282.7 141.1h8.1v1.2h-8.1zM306.9 142.2h8.1v1.2h-8.1zM323 142.2h8.1v1.2h-8.1zM355.2 142.2h8.1v1.2h-8.1zM371.2 142.2h8.1v1.2h-8.1zM331 143.4h8.1v1.2h-8.1zM266.6 144.5h8.1v1.2h-8.1zM371.2 144.5h8.1v1.2h-8.1zM282.7 145.7h8.1v1.2h-8.1zM331 145.7h8.1v1.2h-8.1zM306.9 146.8h8.1v1.2h-8.1zM266.6 149.1h8.1v1.2h-8.1zM298.8 149.1h8.1v1.2h-8.1zM323 154.9h8.1v1.2h-8.1zM266.6 156.1h8.1v1.2h-8.1zM331 156.1h8.1v1.2h-8.1zM355.2 157.2h8.1v1.2h-8.1zM298.8 160.7h8.1v1.2h-8.1zM298.8 161.8h8.1v1.2h-8.1zM306.9 161.8h8.1v1.2h-8.1zM347.1 161.8h8.1v1.2h-8.1zM339.1 163h8.1v1.2h-8.1zM347.1 163h8.1v1.2h-8.1zM355.2 163h8.1v1.2h-8.1zM298.8 164.1h8.1v1.2h-8.1zM290.8 166.4h8.1v1.2h-8.1zM347.1 166.4h8.1v1.2h-8.1zM266.6 167.6h8.1v1.2h-8.1zM306.9 168.8h8.1v1.2h-8.1zM314.9 168.8h8.1v1.2h-8.1zM371.2 168.8h8.1v1.2h-8.1zM371.2 172.2h8.1v1.2h-8.1zM266.6 173.4h8.1v1.2h-8.1zM314.9 173.4h8.1v1.2h-8.1zM274.7 175.7h8.1v1.2h-8.1zM282.7 175.7h8.1v1.2h-8.1zM323 175.7h8.1v1.2h-8.1zM274.7 176.8h8.1v1.2h-8.1zM339.1 176.8h8.1v1.2h-8.1zM290.8 178h8.1v1.2h-8.1zM339.1 178h8.1v1.2h-8.1zM274.7 179.1h8.1v1.2h-8.1zM298.8 179.1h8.1v1.2h-8.1zM323 179.1h8.1v1.2h-8.1zM363.2 179.1h8.1v1.2h-8.1zM314.9 180.3h8.1v1.2h-8.1zM266.6 181.4h8.1v1.2h-8.1zM339.1 181.4h8.1v1.2h-8.1zM306.9 184.9h8.1v1.2h-8.1zM363.2 184.9h8.1v1.2h-8.1zM266.6 187.2h8.1v1.2h-8.1zM323 187.2h8.1v1.2h-8.1zM339.1 187.2h8.1v1.2h-8.1zM347.1 187.2h8.1v1.2h-8.1zM363.2 187.2h8.1v1.2h-8.1zM371.2 187.2h8.1v1.2h-8.1zM290.8 188.4h8.1v1.2h-8.1zM298.8 188.4h8.1v1.2h-8.1zM306.9 188.4h8.1v1.2h-8.1zM323 188.4h8.1v1.2h-8.1zM274.7 189.5h8.1v1.2h-8.1zM282.7 189.5h8.1v1.2h-8.1zM290.8 189.5h8.1v1.2h-8.1zM314.9 189.5h8.1v1.2h-8.1zM323 189.5h8.1v1.2h-8.1zM266.6 190.7h8.1v1.2h-8.1zM314.9 190.7h8.1v1.2h-8.1zM339.1 190.7h8.1v1.2h-8.1zM347.1 190.7h8.1v1.2h-8.1zM282.7 191.8h8.1v1.2h-8.1zM306.9 191.8h8.1v1.2h-8.1zM266.6 193h8.1v1.2h-8.1zM306.9 193h8.1v1.2h-8.1zM331 193h8.1v1.2h-8.1zM339.1 193h8.1v1.2h-8.1zM347.1 193h8.1v1.2h-8.1zM363.2 193h8.1v1.2h-8.1zM371.2 193h8.1v1.2h-8.1zM266.6 194.1h8.1v1.2h-8.1zM282.7 194.1h8.1v1.2h-8.1zM290.8 194.1h8.1v1.2h-8.1zM298.8 194.1h8.1v1.2h-8.1zM314.9 194.1h8.1v1.2h-8.1zM331 194.1h8.1v1.2h-8.1zM266.6 195.3h8.1v1.2h-8.1zM274.7 195.3h8.1v1.2h-8.1zM298.8 195.3h8.1v1.2h-8.1zM347.1 195.3h8.1v1.2h-8.1zM266.6 196.5h8.1v1.2h-8.1zM282.7 196.5h8.1v1.2h-8.1zM306.9 196.5h8.1v1.2h-8.1zM314.9 196.5h8.1v1.2h-8.1zM347.1 196.5h8.1v1.2h-8.1zM363.2 196.5h8.1v1.2h-8.1zM306.9 197.6h8.1v1.2h-8.1zM323 197.6h8.1v1.2h-8.1zM339.1 197.6h8.1v1.2h-8.1zM266.6 198.8h8.1v1.2h-8.1zM314.9 198.8h8.1v1.2h-8.1zM339.1 198.8h8.1v1.2h-8.1zM363.2 198.8h8.1v1.2h-8.1zM371.2 198.8h8.1v1.2h-8.1zM274.7 199.9h8.1v1.2h-8.1zM290.8 199.9h8.1v1.2h-8.1zM298.8 199.9h8.1v1.2h-8.1zM323 199.9h8.1v1.2h-8.1zM331 199.9h8.1v1.2h-8.1zM266.6 201.1h8.1v1.2h-8.1zM282.7 201.1h8.1v1.2h-8.1zM323 201.1h8.1v1.2h-8.1zM371.2 201.1h8.1v1.2h-8.1zM266.6 202.2h8.1v1.2h-8.1zM274.7 202.2h8.1v1.2h-8.1zM306.9 202.2h8.1v1.2h-8.1zM331 202.2h8.1v1.2h-8.1zM371.2 202.2h8.1v1.2h-8.1zM347.1 203.4h8.1v1.2h-8.1zM306.9 204.5h8.1v1.2h-8.1zM282.7 205.7h8.1v1.2h-8.1zM266.6 208h8.1v1.2h-8.1zM355.2 208h8.1v1.2h-8.1zM282.7 209.2h8.1v1.2h-8.1zM306.9 210.3h8.1v1.2h-8.1zM347.1 211.5h8.1v1.2h-8.1zM266.6 212.6h8.1v1.2h-8.1zM282.7 214.9h8.1v1.2h-8.1zM347.1 214.9h8.1v1.2h-8.1zM347.1 216.1h8.1v1.2h-8.1zM282.7 217.2h8.1v1.2h-8.1zM331 218.4h8.1v1.2h-8.1zM371.2 218.4h8.1v1.2h-8.1zM266.6 219.5h8.1v1.2h-8.1zM339.1 219.5h8.1v1.2h-8.1zM355.2 219.5h8.1v1.2h-8.1zM347.1 220.7h8.1v1.2h-8.1zM314.9 221.8h8.1v1.2h-8.1zM355.2 221.8h8.1v1.2h-8.1zM274.7 223h8.1v1.2h-8.1zM314.9 225.3h8.1v1.2h-8.1zM323 225.3h8.1v1.2h-8.1zM355.2 227.6h8.1v1.2h-8.1zM282.7 233.4h8.1v1.2h-8.1zM290.8 233.4h8.1v1.2h-8.1zM266.6 234.5h8.1v1.2h-8.1zM282.7 234.5h8.1v1.2h-8.1zM323 234.5h8.1v1.2h-8.1zM363.2 234.5h8.1v1.2h-8.1zM274.7 236.9h8.1v1.2h-8.1zM314.9 236.9h8.1v1.2h-8.1zM290.8 238h8.1v1.2h-8.1zM347.1 239.2h8.1v1.2h-8.1zM314.9 240.3h8.1v1.2h-8.1zM347.1 241.5h8.1v1.2h-8.1zM282.7 242.6h8.1v1.2h-8.1zM339.1 242.6h8.1v1.2h-8.1zM371.2 242.6h8.1v1.2h-8.1zM298.8 243.8h8.1v1.2h-8.1zM323 243.8h8.1v1.2h-8.1zM290.8 246.1h8.1v1.2h-8.1zM323 246.1h8.1v1.2h-8.1zM355.2 246.1h8.1v1.2h-8.1zM306.9 247.2h8.1v1.2h-8.1zM266.6 248.4h8.1v1.2h-8.1zM306.9 249.5h8.1v1.2h-8.1zM314.9 250.7h8.1v1.2h-8.1zM290.8 251.9h8.1v1.2h-8.1zM266.6 253h8.1v1.2h-8.1zM274.7 253h8.1v1.2h-8.1zM266.6 254.2h8.1v1.2h-8.1zM314.9 254.2h8.1v1.2h-8.1zM314.9 257.6h8.1v1.2h-8.1zM290.8 259.9h8.1v1.2h-8.1zM298.8 261.1h8.1v1.2h-8.1zM290.8 262.2h8.1v1.2h-8.1zM371.2 262.2h8.1v1.2h-8.1z" fill="#eaecf3"/>
<path d="M355.2 41.4h8.1v1.2h-8.1zM371.2 41.4h8.1v1.2h-8.1zM282.7 42.5h8.1v1.2h-8.1zM323 42.5h8.1v1.2h-8.1zM331 42.5h8.1v1.2h-8.1zM339.1 42.5h8.1v1.2h-8.1zM347.1 43.7h8.1v1.2h-8.1zM274.7 44.8h8.1v1.2h-8.1zM298.8 44.8h8.1v1.2h-8.1zM314.9 44.8h8.1v1.2h-8.1zM347.1 44.8h8.1v1.2h-8.1zM274.7 46h8.1v1.2h-8.1zM298.8 46h8.1v1.2h-8.1zM347.1 46h8.1v1.2h-8.1zM355.2 46h8.1v1.2h-8.1zM274.7 47.1h8.1v1.2h-8.1zM274.7 48.3h8.1v1.2h-8.1zM339.1 48.3h8.1v1.2h-8.1zM363.2 48.3h8.1v1.2h-8.1zM290.8 49.4h8.1v1.2h-8.1zM331 49.4h8.1v1.2h-8.1zM363.2 50.5h8.1v1.2h-8.1zM371.2 50.5h8.1v1.2h-8.1zM306.9 52.8h8.1v1.2h-8.1zM314.9 52.8h8.1v1.2h-8.1zM331 52.8h8.1v1.2h-8.1zM347.1 52.8h8.1v1.2h-8.1zM290.8 54h8.1v1.2h-8.1zM314.9 54h8.1v1.2h-8.1zM339.1 54h8.1v1.2h-8.1zM347.1 54h8.1v1.2h-8.1zM355.2 54h8.1v1.2h-8.1zM371.2 54h8.1v1.2h-8.1zM363.2 55.1h8.1v1.2h-8.1zM266.6 58.8h8.1v1.2h-8.1zM363.2 58.8h8.1v1.2h-8.1zM371.2 58.8h8.1v1.2h-8.1zM274.7 59.9h8.1v1.2h-8.1zM306.9 59.9h8.1v1.2h-8.1zM347.1 59.9h8.1v1.2h-8.1zM355.2 59.9h8.1v1.2h-8.1zM274.7 61.1h8.1v1.2h-8.1zM306.9 61.1h8.1v1.2h-8.1zM347.1 61.1h8.1v1.2h-8.1zM266.6 62.2h8.1v1.2h-8.1zM298.8 62.2h8.1v1.2h-8.1zM323 62.2h8.1v1.2h-8.1zM339.1 62.2h8.1v1.2h-8.1zM355.2 62.2h8.1v1.2h-8.1zM363.2 62.2h8.1v1.2h-8.1zM274.7 63.3h8.1v1.2h-8.1zM290.8 64.4h8.1v1.2h-8.1zM314.9 64.4h8.1v1.2h-8.1zM355.2 64.4h8.1v1.2h-8.1zM266.6 65.6h8.1v1.2h-8.1zM274.7 65.6h8.1v1.2h-8.1zM339.1 65.6h8.1v1.2h-8.1zM290.8 66.7h8.1v1.2h-8.1zM323 66.7h8.1v1.2h-8.1zM331 66.7h8.1v1.2h-8.1zM339.1 66.7h8.1v1.2h-8.1zM355.2 66.7h8.1v1.2h-8.1zM274.7 67.8h8.1v1.2h-8.1zM298.8 67.8h8.1v1.2h-8.1zM323 67.8h8.1v1.2h-8.1zM339.1 67.8h8.1v1.2h-8.1zM347.1 67.8h8.1v1.2h-8.1zM363.2 67.8h8.1v1.2h-8.1zM371.2 67.8h8.1v1.2h-8.1zM274.7 69h8.1v1.2h-8.1zM306.9 69h8.1v1.2h-8.1zM323 69h8.1v1.2h-8.1zM339.1 69h8.1v1.2h-8.1zM371.2 69h8.1v1.2h-8.1zM266.6 71.2h8.1v1.2h-8.1zM314.9 71.2h8.1v1.2h-8.1zM347.1 71.2h8.1v1.2h-8.1zM355.2 71.2h8.1v1.2h-8.1zM306.9 72.3h8.1v1.2h-8.1zM290.8 73.5h8.1v1.2h-8.1zM306.9 73.5h8.1v1.2h-8.1zM339.1 73.5h8.1v1.2h-8.1zM347.1 73.5h8.1v1.2h-8.1zM363.2 73.5h8.1v1.2h-8.1zM266.6 76h8.1v1.2h-8.1zM306.9 76h8.1v1.2h-8.1zM331 76h8.1v1.2h-8.1zM363.2 76h8.1v1.2h-8.1zM371.2 76h8.1v1.2h-8.1zM266.6 77.1h8.1v1.2h-8.1zM274.7 77.1h8.1v1.2h-8.1zM306.9 78.3h8.1v1.2h-8.1zM274.7 79.4h8.1v1.2h-8.1zM331 79.4h8.1v1.2h-8.1zM371.2 79.4h8.1v1.2h-8.1zM282.7 80.5h8.1v1.2h-8.1zM298.8 80.5h8.1v1.2h-8.1zM363.2 80.5h8.1v1.2h-8.1zM371.2 80.5h8.1v1.2h-8.1zM339.1 81.6h8.1v1.2h-8.1zM355.2 81.6h8.1v1.2h-8.1zM274.7 82.8h8.1v1.2h-8.1zM371.2 82.8h8.1v1.2h-8.1zM323 83.9h8.1v1.2h-8.1zM371.2 83.9h8.1v1.2h-8.1zM314.9 85h8.1v1.2h-8.1zM323 85h8.1v1.2h-8.1zM363.2 85h8.1v1.2h-8.1zM306.9 86.2h8.1v1.2h-8.1zM323 86.2h8.1v1.2h-8.1zM347.1 86.2h8.1v1.2h-8.1zM274.7 87.3h8.1v1.2h-8.1zM282.7 87.3h8.1v1.2h-8.1zM347.1 87.3h8.1v1.2h-8.1zM355.2 87.3h8.1v1.2h-8.1zM363.2 87.3h8.1v1.2h-8.1zM371.2 87.3h8.1v1.2h-8.1zM282.7 88.4h8.1v1.2h-8.1zM306.9 88.4h8.1v1.2h-8.1zM355.2 88.4h8.1v1.2h-8.1zM371.2 88.4h8.1v1.2h-8.1zM306.9 89.5h8.1v1.2h-8.1zM274.7 90.7h8.1v1.2h-8.1zM339.1 90.7h8.1v1.2h-8.1zM355.2 90.7h8.1v1.2h-8.1zM363.2 90.7h8.1v1.2h-8.1zM371.2 90.7h8.1v1.2h-8.1zM266.6 93.2h8.1v1.2h-8.1zM355.2 93.2h8.1v1.2h-8.1zM363.2 93.2h8.1v1.2h-8.1zM266.6 94.3h8.1v1.2h-8.1zM290.8 94.3h8.1v1.2h-8.1zM339.1 94.3h8.1v1.2h-8.1zM347.1 95.5h8.1v1.2h-8.1zM282.7 96.6h8.1v1.2h-8.1zM323 96.6h8.1v1.2h-8.1zM371.2 96.6h8.1v1.2h-8.1zM266.6 97.7h8.1v1.2h-8.1zM298.8 97.7h8.1v1.2h-8.1zM323 97.7h8.1v1.2h-8.1zM355.2 97.7h8.1v1.2h-8.1zM355.2 98.8h8.1v1.2h-8.1zM371.2 98.8h8.1v1.2h-8.1zM274.7 100h8.1v1.2h-8.1zM282.7 100h8.1v1.2h-8.1zM298.8 100h8.1v1.2h-8.1zM331 100h8.1v1.2h-8.1zM347.1 100h8.1v1.2h-8.1zM355.2 100h8.1v1.2h-8.1zM363.2 100h8.1v1.2h-8.1zM347.1 101.1h8.1v1.2h-8.1zM355.2 101.1h8.1v1.2h-8.1zM371.2 101.1h8.1v1.2h-8.1zM282.7 102.2h8.1v1.2h-8.1zM290.8 102.2h8.1v1.2h-8.1zM331 102.2h8.1v1.2h-8.1zM339.1 102.2h8.1v1.2h-8.1zM266.6 103.4h8.1v1.2h-8.1zM314.9 103.4h8.1v1.2h-8.1zM331 103.4h8.1v1.2h-8.1zM371.2 103.4h8.1v1.2h-8.1zM347.1 104.5h8.1v1.2h-8.1zM282.7 105.6h8.1v1.2h-8.1zM314.9 105.6h8.1v1.2h-8.1zM347.1 105.6h8.1v1.2h-8.1zM298.8 106.7h8.1v1.2h-8.1zM323 106.7h8.1v1.2h-8.1zM339.1 106.7h8.1v1.2h-8.1zM355.2 107.9h8.1v1.2h-8.1zM363.2 107.9h8.1v1.2h-8.1zM371.2 107.9h8.1v1.2h-8.1zM314.9 110.5h8.1v1.2h-8.1zM355.2 110.5h8.1v1.2h-8.1zM363.2 110.5h8.1v1.2h-8.1zM274.7 111.7h8.1v1.2h-8.1zM282.7 111.7h8.1v1.2h-8.1zM347.1 111.7h8.1v1.2h-8.1zM371.2 111.7h8.1v1.2h-8.1zM331 112.9h8.1v1.2h-8.1zM274.7 114h8.1v1.2h-8.1zM331 114h8.1v1.2h-8.1zM363.2 114h8.1v1.2h-8.1zM290.8 115.2h8.1v1.2h-8.1zM298.8 115.2h8.1v1.2h-8.1zM306.9 115.2h8.1v1.2h-8.1zM355.2 115.2h8.1v1.2h-8.1zM314.9 117.6h8.1v1.2h-8.1zM298.8 118.7h8.1v1.2h-8.1zM371.2 118.7h8.1v1.2h-8.1zM290.8 119.9h8.1v1.2h-8.1zM306.9 119.9h8.1v1.2h-8.1zM266.6 121.1h8.1v1.2h-8.1zM355.2 121.1h8.1v1.2h-8.1zM363.2 121.1h8.1v1.2h-8.1zM331 122.3h8.1v1.2h-8.1zM339.1 123.4h8.1v1.2h-8.1zM363.2 123.4h8.1v1.2h-8.1zM282.7 124.6h8.1v1.2h-8.1zM290.8 124.6h8.1v1.2h-8.1zM298.8 124.6h8.1v1.2h-8.1zM306.9 124.6h8.1v1.2h-8.1zM266.6 127.2h8.1v1.2h-8.1zM355.2 127.2h8.1v1.2h-8.1zM266.6 128.4h8.1v1.2h-8.1zM274.7 128.4h8.1v1.2h-8.1zM298.8 128.4h8.1v1.2h-8.1zM331 128.4h8.1v1.2h-8.1zM339.1 128.4h8.1v1.2h-8.1zM363.2 128.4h8.1v1.2h-8.1zM306.9 129.5h8.1v1.2h-8.1zM323 129.5h8.1v1.2h-8.1zM355.2 129.5h8.1v1.2h-8.1zM266.6 130.7h8.1v1.2h-8.1zM331 130.7h8.1v1.2h-8.1zM339.1 130.7h8.1v1.2h-8.1zM355.2 130.7h8.1v1.2h-8.1zM282.7 131.8h8.1v1.2h-8.1zM306.9 131.8h8.1v1.2h-8.1zM355.2 131.8h8.1v1.2h-8.1zM363.2 131.8h8.1v1.2h-8.1zM282.7 133h8.1v1.2h-8.1zM306.9 133h8.1v1.2h-8.1zM355.2 133h8.1v1.2h-8.1zM306.9 134.1h8.1v1.2h-8.1zM282.7 135.3h8.1v1.2h-8.1zM298.8 135.3h8.1v1.2h-8.1zM331 135.3h8.1v1.2h-8.1zM339.1 135.3h8.1v1.2h-8.1zM371.2 135.3h8.1v1.2h-8.1zM274.7 136.4h8.1v1.2h-8.1zM290.8 136.4h8.1v1.2h-8.1zM298.8 136.4h8.1v1.2h-8.1zM306.9 136.4h8.1v1.2h-8.1zM331 136.4h8.1v1.2h-8.1zM339.1 136.4h8.1v1.2h-8.1zM355.2 136.4h8.1v1.2h-8.1zM290.8 137.6h8.1v1.2h-8.1zM306.9 137.6h8.1v1.2h-8.1zM339.1 137.6h8.1v1.2h-8.1zM363.2 137.6h8.1v1.2h-8.1zM371.2 137.6h8.1v1.2h-8.1zM306.9 138.7h8.1v1.2h-8.1zM331 138.7h8.1v1.2h-8.1zM347.1 138.7h8.1v1.2h-8.1zM371.2 138.7h8.1v1.2h-8.1zM306.9 139.9h8.1v1.2h-8.1zM323 139.9h8.1v1.2h-8.1zM331 139.9h8.1v1.2h-8.1zM339.1 139.9h8.1v1.2h-8.1zM290.8 141.1h8.1v1.2h-8.1zM274.7 142.2h8.1v1.2h-8.1zM290.8 142.2h8.1v1.2h-8.1zM331 142.2h8.1v1.2h-8.1zM274.7 143.4h8.1v1.2h-8.1zM323 143.4h8.1v1.2h-8.1zM371.2 143.4h8.1v1.2h-8.1zM323 144.5h8.1v1.2h-8.1zM331 144.5h8.1v1.2h-8.1zM347.1 144.5h8.1v1.2h-8.1zM363.2 144.5h8.1v1.2h-8.1zM266.6 146.8h8.1v1.2h-8.1zM314.9 146.8h8.1v1.2h-8.1zM347.1 146.8h8.1v1.2h-8.1zM363.2 146.8h8.1v1.2h-8.1zM306.9 148h8.1v1.2h-8.1zM331 148h8.1v1.2h-8.1zM282.7 149.1h8.1v1.2h-8.1zM290.8 149.1h8.1v1.2h-8.1zM306.9 149.1h8.1v1.2h-8.1zM323 149.1h8.1v1.2h-8.1zM331 149.1h8.1v1.2h-8.1zM355.2 149.1h8.1v1.2h-8.1zM266.6 150.3h8.1v1.2h-8.1zM282.7 150.3h8.1v1.2h-8.1zM290.8 150.3h8.1v1.2h-8.1zM298.8 150.3h8.1v1.2h-8.1zM323 150.3h8.1v1.2h-8.1zM347.1 150.3h8.1v1.2h-8.1zM355.2 150.3h8.1v1.2h-8.1zM266.6 151.4h8.1v1.2h-8.1zM282.7 151.4h8.1v1.2h-8.1zM298.8 151.4h8.1v1.2h-8.1zM306.9 151.4h8.1v1.2h-8.1zM314.9 151.4h8.1v1.2h-8.1zM347.1 151.4h8.1v1.2h-8.1zM266.6 152.6h8.1v1.2h-8.1zM282.7 152.6h8.1v1.2h-8.1zM314.9 152.6h8.1v1.2h-8.1zM347.1 152.6h8.1v1.2h-8.1zM371.2 153.7h8.1v1.2h-8.1zM266.6 154.9h8.1v1.2h-8.1zM274.7 154.9h8.1v1.2h-8.1zM314.9 154.9h8.1v1.2h-8.1zM274.7 156.1h8.1v1.2h-8.1zM282.7 156.1h8.1v1.2h-8.1zM306.9 156.1h8.1v1.2h-8.1zM298.8 157.2h8.1v1.2h-8.1zM314.9 157.2h8.1v1.2h-8.1zM323 157.2h8.1v1.2h-8.1zM331 157.2h8.1v1.2h-8.1zM282.7 158.4h8.1v1.2h-8.1zM323 158.4h8.1v1.2h-8.1zM355.2 158.4h8.1v1.2h-8.1zM298.8 159.5h8.1v1.2h-8.1zM371.2 159.5h8.1v1.2h-8.1zM282.7 160.7h8.1v1.2h-8.1zM306.9 160.7h8.1v1.2h-8.1zM314.9 160.7h8.1v1.2h-8.1zM347.1 160.7h8.1v1.2h-8.1zM363.2 160.7h8.1v1.2h-8.1zM363.2 161.8h8.1v1.2h-8.1zM298.8 163h8.1v1.2h-8.1zM314.9 163h8.1v1.2h-8.1zM323 163h8.1v1.2h-8.1zM363.2 163h8.1v1.2h-8.1zM306.9 164.1h8.1v1.2h-8.1zM323 164.1h8.1v1.2h-8.1zM331 164.1h8.1v1.2h-8.1zM347.1 164.1h8.1v1.2h-8.1zM282.7 165.3h8.1v1.2h-8.1zM290.8 165.3h8.1v1.2h-8.1zM339.1 165.3h8.1v1.2h-8.1zM371.2 165.3h8.1v1.2h-8.1zM282.7 166.4h8.1v1.2h-8.1zM314.9 166.4h8.1v1.2h-8.1zM290.8 167.6h8.1v1.2h-8.1zM306.9 167.6h8.1v1.2h-8.1zM331 167.6h8.1v1.2h-8.1zM347.1 168.8h8.1v1.2h-8.1zM355.2 168.8h8.1v1.2h-8.1zM266.6 169.9h8.1v1.2h-8.1zM282.7 169.9h8.1v1.2h-8.1zM290.8 169.9h8.1v1.2h-8.1zM331 169.9h8.1v1.2h-8.1zM355.2 169.9h8.1v1.2h-8.1zM371.2 169.9h8.1v1.2h-8.1zM298.8 171.1h8.1v1.2h-8.1zM339.1 171.1h8.1v1.2h-8.1zM371.2 171.1h8.1v1.2h-8.1zM282.7 172.2h8.1v1.2h-8.1zM331 172.2h8.1v1.2h-8.1zM355.2 172.2h8.1v1.2h-8.1zM306.9 173.4h8.1v1.2h-8.1zM306.9 174.5h8.1v1.2h-8.1zM355.2 174.5h8.1v1.2h-8.1zM266.6 175.7h8.1v1.2h-8.1zM314.9 175.7h8.1v1.2h-8.1zM339.1 175.7h8.1v1.2h-8.1zM363.2 175.7h8.1v1.2h-8.1zM290.8 176.8h8.1v1.2h-8.1zM298.8 176.8h8.1v1.2h-8.1zM306.9 176.8h8.1v1.2h-8.1zM331 176.8h8.1v1.2h-8.1zM371.2 176.8h8.1v1.2h-8.1zM266.6 178h8.1v1.2h-8.1zM314.9 178h8.1v1.2h-8.1zM331 178h8.1v1.2h-8.1zM282.7 179.1h8.1v1.2h-8.1zM290.8 179.1h8.1v1.2h-8.1zM306.9 179.1h8.1v1.2h-8.1zM266.6 180.3h8.1v1.2h-8.1zM282.7 180.3h8.1v1.2h-8.1zM306.9 180.3h8.1v1.2h-8.1zM331 180.3h8.1v1.2h-8.1zM323 181.4h8.1v1.2h-8.1zM331 181.4h8.1v1.2h-8.1zM363.2 181.4h8.1v1.2h-8.1zM371.2 181.4h8.1v1.2h-8.1zM298.8 182.6h8.1v1.2h-8.1zM323 182.6h8.1v1.2h-8.1zM363.2 182.6h8.1v1.2h-8.1zM290.8 183.8h8.1v1.2h-8.1zM355.2 183.8h8.1v1.2h-8.1zM274.7 184.9h8.1v1.2h-8.1zM298.8 184.9h8.1v1.2h-8.1zM323 184.9h8.1v1.2h-8.1zM298.8 186.1h8.1v1.2h-8.1zM266.6 188.4h8.1v1.2h-8.1zM314.9 188.4h8.1v1.2h-8.1zM331 188.4h8.1v1.2h-8.1zM363.2 188.4h8.1v1.2h-8.1zM371.2 188.4h8.1v1.2h-8.1zM266.6 189.5h8.1v1.2h-8.1zM371.2 189.5h8.1v1.2h-8.1zM290.8 190.7h8.1v1.2h-8.1zM298.8 190.7h8.1v1.2h-8.1zM290.8 191.8h8.1v1.2h-8.1zM298.8 191.8h8.1v1.2h-8.1zM323 191.8h8.1v1.2h-8.1zM331 191.8h8.1v1.2h-8.1zM282.7 193h8.1v1.2h-8.1zM323 193h8.1v1.2h-8.1zM306.9 194.1h8.1v1.2h-8.1zM347.1 194.1h8.1v1.2h-8.1zM371.2 194.1h8.1v1.2h-8.1zM363.2 195.3h8.1v1.2h-8.1zM298.8 197.6h8.1v1.2h-8.1zM331 197.6h8.1v1.2h-8.1zM298.8 198.8h8.1v1.2h-8.1zM306.9 198.8h8.1v1.2h-8.1zM323 198.8h8.1v1.2h-8.1zM331 198.8h8.1v1.2h-8.1zM314.9 199.9h8.1v1.2h-8.1zM331 201.1h8.1v1.2h-8.1zM339.1 201.1h8.1v1.2h-8.1zM363.2 201.1h8.1v1.2h-8.1zM282.7 202.2h8.1v1.2h-8.1zM314.9 202.2h8.1v1.2h-8.1zM347.1 202.2h8.1v1.2h-8.1zM306.9 203.4h8.1v1.2h-8.1zM339.1 203.4h8.1v1.2h-8.1zM363.2 203.4h8.1v1.2h-8.1zM274.7 204.5h8.1v1.2h-8.1zM314.9 204.5h8.1v1.2h-8.1zM339.1 204.5h8.1v1.2h-8.1zM355.2 204.5h8.1v1.2h-8.1zM290.8 205.7h8.1v1.2h-8.1zM306.9 205.7h8.1v1.2h-8.1zM363.2 205.7h8.1v1.2h-8.1zM290.8 206.8h8.1v1.2h-8.1zM298.8 206.8h8.1v1.2h-8.1zM306.9 206.8h8.1v1.2h-8.1zM331 206.8h8.1v1.2h-8.1zM347.1 206.8h8.1v1.2h-8.1zM298.8 208h8.1v1.2h-8.1zM266.6 209.2h8.1v1.2h-8.1zM290.8 209.2h8.1v1.2h-8.1zM298.8 209.2h8.1v1.2h-8.1zM339.1 209.2h8.1v1.2h-8.1zM274.7 210.3h8.1v1.2h-8.1zM290.8 210.3h8.1v1.2h-8.1zM298.8 210.3h8.1v1.2h-8.1zM347.1 210.3h8.1v1.2h-8.1zM355.2 210.3h8.1v1.2h-8.1zM363.2 210.3h8.1v1.2h-8.1zM266.6 211.5h8.1v1.2h-8.1zM290.8 211.5h8.1v1.2h-8.1zM298.8 211.5h8.1v1.2h-8.1zM331 211.5h8.1v1.2h-8.1zM282.7 212.6h8.1v1.2h-8.1zM339.1 212.6h8.1v1.2h-8.1zM290.8 213.8h8.1v1.2h-8.1zM331 213.8h8.1v1.2h-8.1zM298.8 214.9h8.1v1.2h-8.1zM355.2 214.9h8.1v1.2h-8.1zM314.9 216.1h8.1v1.2h-8.1zM323 216.1h8.1v1.2h-8.1zM363.2 216.1h8.1v1.2h-8.1zM323 217.2h8.1v1.2h-8.1zM339.1 217.2h8.1v1.2h-8.1zM266.6 218.4h8.1v1.2h-8.1zM274.7 218.4h8.1v1.2h-8.1zM298.8 218.4h8.1v1.2h-8.1zM306.9 218.4h8.1v1.2h-8.1zM314.9 218.4h8.1v1.2h-8.1zM339.1 218.4h8.1v1.2h-8.1zM355.2 218.4h8.1v1.2h-8.1zM274.7 219.5h8.1v1.2h-8.1zM282.7 219.5h8.1v1.2h-8.1zM314.9 219.5h8.1v1.2h-8.1zM323 219.5h8.1v1.2h-8.1zM331 219.5h8.1v1.2h-8.1zM266.6 220.7h8.1v1.2h-8.1zM274.7 220.7h8.1v1.2h-8.1zM282.7 220.7h8.1v1.2h-8.1zM323 220.7h8.1v1.2h-8.1zM339.1 220.7h8.1v1.2h-8.1zM274.7 221.8h8.1v1.2h-8.1zM306.9 221.8h8.1v1.2h-8.1zM339.1 221.8h8.1v1.2h-8.1zM290.8 223h8.1v1.2h-8.1zM347.1 223h8.1v1.2h-8.1zM290.8 224.2h8.1v1.2h-8.1zM314.9 224.2h8.1v1.2h-8.1zM339.1 224.2h8.1v1.2h-8.1zM371.2 224.2h8.1v1.2h-8.1zM347.1 225.3h8.1v1.2h-8.1zM371.2 225.3h8.1v1.2h-8.1zM331 226.5h8.1v1.2h-8.1zM339.1 226.5h8.1v1.2h-8.1zM363.2 226.5h8.1v1.2h-8.1zM371.2 226.5h8.1v1.2h-8.1zM282.7 227.6h8.1v1.2h-8.1zM306.9 227.6h8.1v1.2h-8.1zM323 228.8h8.1v1.2h-8.1zM266.6 229.9h8.1v1.2h-8.1zM274.7 229.9h8.1v1.2h-8.1zM290.8 229.9h8.1v1.2h-8.1zM323 229.9h8.1v1.2h-8.1zM371.2 229.9h8.1v1.2h-8.1zM290.8 231.1h8.1v1.2h-8.1zM323 231.1h8.1v1.2h-8.1zM282.7 232.2h8.1v1.2h-8.1zM298.8 232.2h8.1v1.2h-8.1zM339.1 232.2h8.1v1.2h-8.1zM266.6 233.4h8.1v1.2h-8.1zM306.9 233.4h8.1v1.2h-8.1zM314.9 233.4h8.1v1.2h-8.1zM323 233.4h8.1v1.2h-8.1zM347.1 233.4h8.1v1.2h-8.1zM355.2 233.4h8.1v1.2h-8.1zM290.8 234.5h8.1v1.2h-8.1zM306.9 234.5h8.1v1.2h-8.1zM355.2 234.5h8.1v1.2h-8.1zM274.7 235.7h8.1v1.2h-8.1zM290.8 235.7h8.1v1.2h-8.1zM306.9 235.7h8.1v1.2h-8.1zM314.9 235.7h8.1v1.2h-8.1zM323 235.7h8.1v1.2h-8.1zM290.8 236.9h8.1v1.2h-8.1zM347.1 236.9h8.1v1.2h-8.1zM371.2 236.9h8.1v1.2h-8.1zM282.7 238h8.1v1.2h-8.1zM323 238h8.1v1.2h-8.1zM371.2 238h8.1v1.2h-8.1zM266.6 240.3h8.1v1.2h-8.1zM266.6 241.5h8.1v1.2h-8.1zM306.9 241.5h8.1v1.2h-8.1zM339.1 241.5h8.1v1.2h-8.1zM363.2 241.5h8.1v1.2h-8.1zM371.2 241.5h8.1v1.2h-8.1zM274.7 242.6h8.1v1.2h-8.1zM298.8 242.6h8.1v1.2h-8.1zM306.9 242.6h8.1v1.2h-8.1zM355.2 242.6h8.1v1.2h-8.1zM274.7 243.8h8.1v1.2h-8.1zM290.8 243.8h8.1v1.2h-8.1zM339.1 243.8h8.1v1.2h-8.1zM347.1 244.9h8.1v1.2h-8.1zM282.7 246.1h8.1v1.2h-8.1zM314.9 246.1h8.1v1.2h-8.1zM371.2 246.1h8.1v1.2h-8.1zM282.7 247.2h8.1v1.2h-8.1zM347.1 247.2h8.1v1.2h-8.1zM355.2 247.2h8.1v1.2h-8.1zM274.7 248.4h8.1v1.2h-8.1zM323 248.4h8.1v1.2h-8.1zM347.1 248.4h8.1v1.2h-8.1zM282.7 250.7h8.1v1.2h-8.1zM290.8 250.7h8.1v1.2h-8.1zM298.8 250.7h8.1v1.2h-8.1zM306.9 250.7h8.1v1.2h-8.1zM339.1 250.7h8.1v1.2h-8.1zM347.1 250.7h8.1v1.2h-8.1zM282.7 251.9h8.1v1.2h-8.1zM339.1 251.9h8.1v1.2h-8.1zM371.2 251.9h8.1v1.2h-8.1zM298.8 253h8.1v1.2h-8.1zM355.2 253h8.1v1.2h-8.1zM371.2 253h8.1v1.2h-8.1zM290.8 254.2h8.1v1.2h-8.1zM347.1 254.2h8.1v1.2h-8.1zM355.2 254.2h8.1v1.2h-8.1zM298.8 255.3h8.1v1.2h-8.1zM331 255.3h8.1v1.2h-8.1zM339.1 255.3h8.1v1.2h-8.1zM371.2 256.5h8.1v1.2h-8.1zM266.6 257.6h8.1v1.2h-8.1zM274.7 257.6h8.1v1.2h-8.1zM290.8 257.6h8.1v1.2h-8.1zM331 257.6h8.1v1.2h-8.1zM339.1 257.6h8.1v1.2h-8.1zM355.2 257.6h8.1v1.2h-8.1zM371.2 257.6h8.1v1.2h-8.1zM266.6 258.8h8.1v1.2h-8.1zM274.7 258.8h8.1v1.2h-8.1zM282.7 258.8h8.1v1.2h-8.1zM298.8 258.8h8.1v1.2h-8.1zM306.9 258.8h8.1v1.2h-8.1zM355.2 258.8h8.1v1.2h-8.1zM274.7 259.9h8.1v1.2h-8.1zM298.8 259.9h8.1v1.2h-8.1zM306.9 259.9h8.1v1.2h-8.1zM314.9 259.9h8.1v1.2h-8.1zM355.2 259.9h8.1v1.2h-8.1zM274.7 261.1h8.1v1.2h-8.1zM306.9 261.1h8.1v1.2h-8.1zM314.9 261.1h8.1v1.2h-8.1zM331 261.1h8.1v1.2h-8.1zM347.1 261.1h8.1v1.2h-8.1zM371.2 261.1h8.1v1.2h-8.1zM266.6 262.2h8.1v1.2h-8.1zM274.7 262.2h8.1v1.2h-8.1zM298.8 262.2h8.1v1.2h-8.1zM306.9 262.2h8.1v1.2h-8.1zM323 262.2h8.1v1.2h-8.1zM331 262.2h8.1v1.2h-8.1zM355.2 262.2h8.1v1.2h-8.1z" fill="#dee3ee"/>
<path d="M347.1 42.5h8.1v1.2h-8.1zM314.9 66.7h8.1v1.2h-8.1zM314.9 67.8h8.1v1.2h-8.1zM347.1 83.9h8.1v1.2h-8.1zM314.9 106.7h8.1v1.2h-8.1zM347.1 124.6h8.1v1.2h-8.1zM290.8 152.6h8.1v1.2h-8.1zM331 152.6h8.1v1.2h-8.1zM355.2 161.8h8.1v1.2h-8.1zM314.9 182.6h8.1v1.2h-8.1zM282.7 190.7h8.1v1.2h-8.1zM274.7 191.8h8.1v1.2h-8.1zM355.2 211.5h8.1v1.2h-8.1zM282.7 213.8h8.1v1.2h-8.1zM347.1 217.2h8.1v1.2h-8.1zM266.6 232.2h8.1v1.2h-8.1zM355.2 239.2h8.1v1.2h-8.1zM355.2 256.5h8.1v1.2h-8.1zM298.8 257.6h8.1v1.2h-8.1z" fill="#d48c8d"/>
<path d="M274.7 43.7h8.1v1.2h-8.1zM290.8 43.7h8.1v1.2h-8.1zM314.9 56.3h8.1v1.2h-8.1zM298.8 81.6h8.1v1.2h-8.1zM314.9 83.9h8.1v1.2h-8.1zM371.2 94.3h8.1v1.2h-8.1zM290.8 95.5h8.1v1.2h-8.1zM339.1 169.9h8.1v1.2h-8.1zM282.7 176.8h8.1v1.2h-8.1zM274.7 190.7h8.1v1.2h-8.1zM274.7 193h8.1v1.2h-8.1zM363.2 197.6h8.1v1.2h-8.1zM274.7 234.5h8.1v1.2h-8.1zM298.8 247.2h8.1v1.2h-8.1zM314.9 247.2h8.1v1.2h-8.1zM314.9 248.4h8.1v1.2h-8.1z" fill="#d07f80"/>
<path d="M306.9 43.7h8.1v1.2h-8.1zM306.9 49.4h8.1v1.2h-8.1zM347.1 50.5h8.1v1.2h-8.1zM331 58.8h8.1v1.2h-8.1zM371.2 64.4h8.1v1.2h-8.1zM290.8 69h8.1v1.2h-8.1zM355.2 72.3h8.1v1.2h-8.1zM347.1 82.8h8.1v1.2h-8.1zM314.9 97.7h8.1v1.2h-8.1zM274.7 102.2h8.1v1.2h-8.1zM339.1 104.5h8.1v1.2h-8.1zM371.2 114h8.1v1.2h-8.1zM282.7 117.6h8.1v1.2h-8.1zM323 127.2h8.1v1.2h-8.1zM347.1 137.6h8.1v1.2h-8.1zM323 151.4h8.1v1.2h-8.1zM290.8 174.5h8.1v1.2h-8.1zM266.6 183.8h8.1v1.2h-8.1zM290.8 187.2h8.1v1.2h-8.1zM298.8 239.2h8.1v1.2h-8.1zM331 249.5h8.1v1.2h-8.1zM323 255.3h8.1v1.2h-8.1z" fill="#e5c1c2"/>
<path d="M306.9 44.8h8.1v1.2h-8.1zM323 70.1h8.1v1.2h-8.1zM363.2 95.5h8.1v1.2h-8.1zM363.2 104.5h8.1v1.2h-8.1zM290.8 105.6h8.1v1.2h-8.1zM314.9 123.4h8.1v1.2h-8.1zM347.1 135.3h8.1v1.2h-8.1zM355.2 138.7h8.1v1.2h-8.1zM266.6 148h8.1v1.2h-8.1zM306.9 195.3h8.1v1.2h-8.1zM314.9 203.4h8.1v1.2h-8.1zM274.7 205.7h8.1v1.2h-8.1zM306.9 228.8h8.1v1.2h-8.1zM339.1 246.1h8.1v1.2h-8.1z" fill="#8c9fcb"/>
<path d="M323 44.8h8.1v1.2h-8.1zM306.9 67.8h8.1v1.2h-8.1zM363.2 143.4h8.1v1.2h-8.1zM339.1 164.1h8.1v1.2h-8.1zM306.9 165.3h8.1v1.2h-8.1zM355.2 167.6h8.1v1.2h-8.1zM290.8 171.1h8.1v1.2h-8.1zM331 214.9h8.1v1.2h-8.1zM347.1 227.6h8.1v1.2h-8.1zM274.7 254.2h8.1v1.2h-8.1z" fill="#c76465"/>
<path d="M371.2 44.8h8.1v1.2h-8.1zM323 49.4h8.1v1.2h-8.1zM363.2 51.7h8.1v1.2h-8.1zM266.6 64.4h8.1v1.2h-8.1zM323 81.6h8.1v1.2h-8.1zM298.8 104.5h8.1v1.2h-8.1zM274.7 110.5h8.1v1.2h-8.1zM371.2 127.2h8.1v1.2h-8.1zM323 152.6h8.1v1.2h-8.1zM323 153.7h8.1v1.2h-8.1zM331 158.4h8.1v1.2h-8.1zM339.1 183.8h8.1v1.2h-8.1zM347.1 205.7h8.1v1.2h-8.1zM347.1 212.6h8.1v1.2h-8.1zM274.7 213.8h8.1v1.2h-8.1zM298.8 217.2h8.1v1.2h-8.1zM290.8 219.5h8.1v1.2h-8.1zM266.6 221.8h8.1v1.2h-8.1zM371.2 239.2h8.1v1.2h-8.1zM274.7 241.5h8.1v1.2h-8.1zM274.7 247.2h8.1v1.2h-8.1z" fill="#d8999a"/>
<path d="M355.2 49.4h8.1v1.2h-8.1zM290.8 63.3h8.1v1.2h-8.1zM323 77.1h8.1v1.2h-8.1zM339.1 78.3h8.1v1.2h-8.1zM331 81.6h8.1v1.2h-8.1zM371.2 95.5h8.1v1.2h-8.1zM266.6 119.9h8.1v1.2h-8.1zM371.2 184.9h8.1v1.2h-8.1zM347.1 201.1h8.1v1.2h-8.1zM314.9 232.2h8.1v1.2h-8.1zM314.9 238h8.1v1.2h-8.1zM266.6 246.1h8.1v1.2h-8.1z" fill="#dca6a8"/>
<path d="M355.2 52.8h8.1v1.2h-8.1zM363.2 69h8.1v1.2h-8.1zM282.7 78.3h8.1v1.2h-8.1zM298.8 78.3h8.1v1.2h-8.1zM290.8 101.1h8.1v1.2h-8.1zM331 106.7h8.1v1.2h-8.1zM290.8 110.5h8.1v1.2h-8.1zM363.2 115.2h8.1v1.2h-8.1zM274.7 116.4h8.1v1.2h-8.1zM347.1 149.1h8.1v1.2h-8.1zM290.8 156.1h8.1v1.2h-8.1zM290.8 182.6h8.1v1.2h-8.1zM371.2 223h8.1v1.2h-8.1zM274.7 255.3h8.1v1.2h-8.1z" fill="#e1b4b5"/>
<path d="M323 54h8.1v1.2h-8.1zM323 64.4h8.1v1.2h-8.1zM371.2 65.6h8.1v1.2h-8.1zM363.2 70.1h8.1v1.2h-8.1zM339.1 87.3h8.1v1.2h-8.1zM314.9 100h8.1v1.2h-8.1zM290.8 112.9h8.1v1.2h-8.1zM323 128.4h8.1v1.2h-8.1zM323 156.1h8.1v1.2h-8.1zM266.6 159.5h8.1v1.2h-8.1zM282.7 195.3h8.1v1.2h-8.1zM371.2 196.5h8.1v1.2h-8.1zM363.2 224.2h8.1v1.2h-8.1zM347.1 240.3h8.1v1.2h-8.1z" fill="#b0bcda"/>
<path d="M306.9 55.1h8.1v1.2h-8.1zM266.6 80.5h8.1v1.2h-8.1zM355.2 103.4h8.1v1.2h-8.1zM347.1 148h8.1v1.2h-8.1zM314.9 149.1h8.1v1.2h-8.1zM266.6 163h8.1v1.2h-8.1zM323 168.8h8.1v1.2h-8.1zM274.7 197.6h8.1v1.2h-8.1zM363.2 202.2h8.1v1.2h-8.1zM314.9 249.5h8.1v1.2h-8.1z" fill="#cc7272"/>
<path d="M274.7 62.2h8.1v1.2h-8.1zM298.8 63.3h8.1v1.2h-8.1zM347.1 63.3h8.1v1.2h-8.1zM339.1 64.4h8.1v1.2h-8.1zM347.1 64.4h8.1v1.2h-8.1zM314.9 76h8.1v1.2h-8.1zM363.2 79.4h8.1v1.2h-8.1zM371.2 85h8.1v1.2h-8.1zM266.6 86.2h8.1v1.2h-8.1zM306.9 110.5h8.1v1.2h-8.1zM339.1 112.9h8.1v1.2h-8.1zM306.9 116.4h8.1v1.2h-8.1zM282.7 157.2h8.1v1.2h-8.1zM274.7 158.4h8.1v1.2h-8.1zM355.2 159.5h8.1v1.2h-8.1zM363.2 167.6h8.1v1.2h-8.1zM331 175.7h8.1v1.2h-8.1zM347.1 191.8h8.1v1.2h-8.1zM298.8 204.5h8.1v1.2h-8.1zM298.8 205.7h8.1v1.2h-8.1zM306.9 211.5h8.1v1.2h-8.1zM306.9 239.2h8.1v1.2h-8.1z" fill="#98a9d0"/>
<path d="M274.7 66.7h8.1v1.2h-8.1zM331 83.9h8.1v1.2h-8.1zM363.2 97.7h8.1v1.2h-8.1zM347.1 134.1h8.1v1.2h-8.1zM282.7 181.4h8.1v1.2h-8.1zM323 183.8h8.1v1.2h-8.1zM323 210.3h8.1v1.2h-8.1zM323 218.4h8.1v1.2h-8.1zM274.7 226.5h8.1v1.2h-8.1z" fill="#e9ced0"/>
<path d="M298.8 72.3h8.1v1.2h-8.1zM282.7 82.8h8.1v1.2h-8.1zM306.9 85h8.1v1.2h-8.1zM266.6 90.7h8.1v1.2h-8.1zM266.6 100h8.1v1.2h-8.1zM282.7 118.7h8.1v1.2h-8.1zM274.7 133h8.1v1.2h-8.1zM355.2 139.9h8.1v1.2h-8.1zM331 153.7h8.1v1.2h-8.1zM363.2 171.1h8.1v1.2h-8.1zM323 190.7h8.1v1.2h-8.1zM274.7 196.5h8.1v1.2h-8.1zM274.7 198.8h8.1v1.2h-8.1zM290.8 201.1h8.1v1.2h-8.1zM339.1 213.8h8.1v1.2h-8.1zM323 223h8.1v1.2h-8.1zM266.6 243.8h8.1v1.2h-8.1z" fill="#a4b3d5"/>
<path d="M282.7 188.4h8.1v1.2h-8.1zM347.1 188.4h8.1v1.2h-8.1zM298.8 189.5h8.1v1.2h-8.1zM331 190.7h8.1v1.2h-8.1zM314.9 193h8.1v1.2h-8.1zM331 196.5h8.1v1.2h-8.1zM306.9 199.9h8.1v1.2h-8.1zM339.1 199.9h8.1v1.2h-8.1zM274.7 201.1h8.1v1.2h-8.1zM298.8 202.2h8.1v1.2h-8.1zM323 202.2h8.1v1.2h-8.1z" fill="#f2e9eb"/>
<rect x="266.6" y="41.4" width="112.7" height="16" fill="none" stroke="#3a3a3a" stroke-width="0.8"/>
<rect x="262" y="41.4" width="4.6" height="16" fill="#000"/>
<rect x="266.6" y="58.8" width="112.7" height="15.8" fill="none" stroke="#3a3a3a" stroke-width="0.8"/>
<rect x="262" y="58.8" width="4.6" height="15.8" fill="#000"/>
<rect x="266.6" y="76" width="112.7" height="15.8" fill="none" stroke="#3a3a3a" stroke-width="0.8"/>
<rect x="262" y="76" width="4.6" height="15.8" fill="#000"/>
<rect x="266.6" y="93.2" width="112.7" height="15.8" fill="none" stroke="#3a3a3a" stroke-width="0.8"/>
<rect x="262" y="93.2" width="4.6" height="15.8" fill="#000"/>
<rect x="266.6" y="110.5" width="112.7" height="15.3" fill="none" stroke="#3a3a3a" stroke-width="0.8"/>
<rect x="262" y="110.5" width="4.6" height="15.3" fill="#000"/>
<rect x="266.6" y="127.2" width="112.7" height="136.2" fill="none" stroke="#3a3a3a" stroke-width="0.8"/>
<rect x="262" y="127.2" width="4.6" height="136.2" fill="#000"/>
<path d="M262.2 42.6H261V43H262.2M262.2 42.3H260.7V42.8H261M262.2 42H259.9V42.6H260.7M262.2 43.4H260.5V43.9H262.2M259.9 42.3H258.5V43.6H260.5M262.2 44.5H261.2V44.9H262.2M262.2 44.3H260.5V44.7H261.2M262.2 45.4H260.7V45.8H262.2M260.5 44.5H260.1V45.6H260.7M262.2 46.4H261.4V46.8H262.2M262.2 46H260.7V46.6H261.4M260.7 46.3H260.4V47.1H262.2M260.1 45H258.8V46.7H260.4M258.5 43H257.6V45.9H258.8M262.2 47.6H260.6V48H262.2M260.6 47.8H260.4V48.4H262.2M262.2 48.9H260.4V49.3H262.2M260.4 48.1H260V49.1H260.4M262.2 49.9H261.4V50.4H262.2M262.2 49.5H260.9V50.1H261.4M262.2 50.8H261.1V51.1H262.2M260.9 49.8H260.5V51H261.1M260 48.6H259.4V50.4H260.5M262.2 51.9H260.8V52.4H262.2M262.2 51.5H260V52.1H260.8M262.2 52.8H261.4V53.1H262.2M262.2 53.5H261.6V53.9H262.2M261.4 53H260.9V53.7H261.6M262.2 54.3H261.5V54.6H262.2M262.2 55.1H261.5V55.6H262.2M261.5 54.5H261.2V55.4H261.5M262.2 56.3H261.6V56.6H262.2M262.2 56H261.3V56.5H261.6M261.2 54.9H260.9V56.2H261.3M260.9 53.3H260V55.6H260.9M260 51.8H259.5V54.5H260M259.4 49.5H258.2V53.1H259.5M257.6 44.4H256.2V51.3H258.2" fill="none" stroke="#000" stroke-width="0.7"/>
<path d="M262.2 59.4H259.9V59.8H262.2M262.2 60.3H260.3V60.8H262.2M259.9 59.6H258.4V60.5H260.3M262.2 61.3H260.4V61.8H262.2M262.2 62.1H261.1V62.5H262.2M262.2 63H261.4V63.5H262.2M261.1 62.3H260.7V63.2H261.4M260.4 61.5H259.7V62.8H260.7M262.2 64.5H261.7V64.8H262.2M262.2 64.1H261.3V64.7H261.7M262.2 63.9H260.9V64.4H261.3M262.2 65.3H261.5V65.7H262.2M262.2 65.1H261.2V65.5H261.5M260.9 64.1H260.3V65.3H261.2M259.7 62.2H259.5V64.7H260.3M258.4 60.1H257.5V63.4H259.5M262.2 66.6H261V66.9H262.2M261 66.8H260.4V67.4H262.2M262.2 66.2H259.9V67.1H260.4M262.2 68.2H261.1V68.5H262.2M262.2 67.8H260.4V68.4H261.1M259.9 66.7H258.7V68.1H260.4M262.2 68.9H260.3V69.4H262.2M262.2 69.8H260.6V70.2H262.2M260.3 69.2H259.4V70H260.6M262.2 70.6H260.8V71.1H262.2M262.2 71.6H260.9V72.1H262.2M260.8 70.9H260.2V71.9H260.9M259.4 69.6H259.1V71.4H260.2M262.2 73.5H261.2V73.9H262.2M262.2 73.2H261V73.7H261.2M262.2 72.9H260.5V73.5H261M262.2 72.5H259.5V73.2H260.5M259.1 70.5H258.8V72.8H259.5M258.7 67.4H258.2V71.7H258.8M257.5 61.8H256.2V69.5H258.2" fill="none" stroke="#000" stroke-width="0.7"/>
<path d="M262.2 77.2H259.8V77.7H262.2M262.2 76.7H259.3V77.5H259.8M262.2 78.4H261.3V78.7H262.2M262.2 78.1H260.6V78.5H261.3M260.6 78.3H259.6V79.2H262.2M259.3 77.1H258.8V78.8H259.6M262.2 80.1H261.4V80.4H262.2M262.2 79.8H260.8V80.3H261.4M262.2 79.6H260.6V80H260.8M262.2 81.3H261.7V81.7H262.2M262.2 80.9H261.3V81.5H261.7M262.2 82.1H261.7V82.4H262.2M262.2 83H261.9V83.4H262.2M262.2 82.8H261.7V83.2H261.9M261.7 82.2H261.5V83H261.7M261.3 81.2H260.8V82.6H261.5M260.6 79.8H259.8V81.9H260.8M258.8 77.9H257.1V80.9H259.8M262.2 84.4H260.7V84.9H262.2M262.2 83.9H260.1V84.6H260.7M262.2 85.6H261.1V86.1H262.2M262.2 85.3H260.3V85.9H261.1M260.1 84.3H258.9V85.6H260.3M262.2 87H261.5V87.4H262.2M262.2 86.6H260.6V87.2H261.5M262.2 88.1H261.7V88.5H262.2M262.2 87.7H261.4V88.3H261.7M261.4 88H261V88.8H262.2M260.6 86.9H259.6V88.4H261M262.2 89.2H261.1V89.6H262.2M261.1 89.4H260.8V90.1H262.2M262.2 90.7H261.5V91.1H262.2M262.2 90.4H261.2V90.9H261.5M260.8 89.7H259.9V90.7H261.2M259.6 87.7H259.1V90.2H259.9M258.9 84.9H257.9V88.9H259.1M257.1 79.4H256.2V86.9H257.9" fill="none" stroke="#000" stroke-width="0.7"/>
<path d="M262.2 94.4H260.8V94.9H262.2M262.2 93.9H259.6V94.7H260.8M262.2 95.4H260.6V95.9H262.2M262.2 96.4H260.7V96.9H262.2M260.6 95.7H260.3V96.7H260.7M259.6 94.3H258.6V96.2H260.3M262.2 97.9H261.1V98.4H262.2M262.2 97.4H260.1V98.1H261.1M262.2 98.9H261.2V99.2H262.2M261.2 99.1H260.9V99.6H262.2M260.9 99.3H260.3V100.1H262.2M260.1 97.8H259.6V99.7H260.3M262.2 101.3H261.5V101.7H262.2M262.2 101H261.1V101.5H261.5M262.2 100.6H260V101.3H261.1M259.6 98.7H258.9V100.9H260M258.6 95.2H257.2V99.8H258.9M262.2 102.5H260.2V102.8H262.2M262.2 102.1H259.8V102.6H260.2M262.2 103.3H260V103.8H262.2M259.8 102.4H259.4V103.6H260M262.2 104.2H260.7V104.6H262.2M262.2 105.7H261.6V106H262.2M262.2 105.4H261.2V105.8H261.6M262.2 105H260.8V105.6H261.2M260.7 104.4H260.1V105.3H260.8M259.4 103H258.5V104.9H260.1M262.2 106.7H260.8V107H262.2M262.2 106.4H259.8V106.8H260.8M262.2 107.9H260.8V108.3H262.2M262.2 107.5H259.8V108.1H260.8M259.8 106.6H259.2V107.8H259.8M258.5 103.9H258V107.2H259.2M257.2 97.5H256.2V105.6H258" fill="none" stroke="#000" stroke-width="0.7"/>
<path d="M262.2 111.1H259.4V111.5H262.2M259.4 111.3H258.1V112H262.2M262.2 112.8H260.5V113.1H262.2M262.2 112.4H259.1V113H260.5M259.1 112.7H258.4V113.6H262.2M258.1 111.6H257.4V113.2H258.4M262.2 114.5H260.6V114.8H262.2M262.2 114.1H259.6V114.6H260.6M262.2 115.6H261.2V116H262.2M262.2 115.3H260.4V115.8H261.2M262.2 116.4H261.1V116.7H262.2M262.2 117.1H261.4V117.4H262.2M261.1 116.5H260.6V117.3H261.4M260.4 115.6H259.9V116.9H260.6M259.6 114.4H259.3V116.2H259.9M262.2 118.4H261V118.7H262.2M262.2 117.9H260.5V118.6H261M262.2 120.1H261.7V120.5H262.2M262.2 119.6H261.2V120.3H261.7M262.2 119.1H260.9V119.9H261.2M260.5 118.2H259.9V119.5H260.9M259.3 115.3H258.6V118.9H259.9M257.4 112.4H256.9V117.1H258.6M262.2 121.6H260.7V122H262.2M262.2 121.4H259.9V121.8H260.7M262.2 121H258.8V121.6H259.9M262.2 122.8H260.1V123.2H262.2M262.2 122.4H259.6V123H260.1M262.2 123.8H260.8V124.1H262.2M262.2 123.5H260.4V123.9H260.8M262.2 124.6H260.8V125.1H262.2M260.4 123.7H260V124.8H260.8M259.6 122.7H258.8V124.3H260M258.8 121.3H257.5V123.5H258.8M256.9 114.7H256.2V122.4H257.5" fill="none" stroke="#000" stroke-width="0.7"/>
<path d="M262.2 128H260.7V128.5H262.2M262.2 128.9H261.1V129.4H262.2M260.7 128.3H260.6V129.2H261.1M262.2 129.8H261.2V130.3H262.2M262.2 130.7H261.4V131.2H262.2M261.2 130.1H261.1V131H261.4M262.2 132.1H261.6V132.5H262.2M262.2 131.6H261.4V132.3H261.6M261.1 130.5H260.7V132H261.4M260.6 128.7H259.7V131.2H260.7M262.2 133.4H261.6V133.9H262.2M262.2 133H261.2V133.7H261.6M262.2 134.3H261.5V134.8H262.2M261.2 133.3H261.1V134.6H261.5M262.2 135.2H261.6V135.7H262.2M262.2 136.1H261.9V136.6H262.2M262.2 137H262V137.5H262.2M262.2 137.9H262V138.4H262.2M262 137.3H261.9V138.2H262M261.9 136.4H261.8V137.7H261.9M261.6 135.5H261.3V137H261.8M261.1 133.9H260.5V136.2H261.3M262.2 138.8H261.6V139.3H262.2M262.2 140.6H262.1V141.1H262.2M262.2 140.2H262V140.9H262.1M262.2 139.7H261.8V140.5H262M262.2 141.5H262V142H262.2M261.8 140.1H261.7V141.8H262M261.6 139.1H261.3V141H261.7M262.2 142.4H261.7V142.9H262.2M262.2 143.3H261.9V143.8H262.2M261.9 143.6H261.8V144.2H262.2M262.2 144.7H262V145.2H262.2M262 144.9H261.9V145.6H262.2M261.8 143.9H261.7V145.3H261.9M261.7 142.7H261.5V144.6H261.7M261.3 140H260.9V143.6H261.5M260.5 135.1H260.2V141.8H260.9M259.7 130H258.8V138.5H260.2M262.2 146.1H261.3V146.5H262.2M262.2 147H261.7V147.4H262.2M262.2 147.9H261.8V148.3H262.2M261.7 147.2H261.5V148.1H261.8M261.3 146.3H260.9V147.6H261.5M262.2 149.2H261.6V149.7H262.2M262.2 148.8H261V149.4H261.6M260.9 147H260.5V149.1H261M262.2 150.1H260.7V150.6H262.2M262.2 151.5H261.5V151.9H262.2M262.2 151H261.1V151.7H261.5M260.7 150.3H260.5V151.3H261.1M260.5 148H260V150.8H260.5M262.2 152.8H261.3V153.3H262.2M262.2 152.4H261V153H261.3M262.2 154.2H261.7V154.6H262.2M262.2 153.7H261.5V154.4H261.7M262.2 155.5H262V156H262.2M262.2 155.1H261.7V155.7H262M261.5 154.1H261.3V155.4H261.7M261 152.7H260.3V154.7H261.3M260 149.4H259.7V153.7H260.3M258.8 134.2H258.1V151.6H259.7M262.2 156.4H261.1V156.9H262.2M262.2 157.3H261.2V157.8H262.2M261.1 156.6H260.7V157.5H261.2M262.2 159.1H261.8V159.6H262.2M262.2 158.7H261.4V159.3H261.8M262.2 158.2H260.9V159H261.4M260.7 157.1H260.5V158.6H260.9M262.2 160H261.2V160.5H262.2M262.2 161.4H261.8V161.8H262.2M262.2 160.9H261.3V161.6H261.8M261.2 160.2H260.7V161.3H261.3M260.5 157.9H260.1V160.8H260.7M262.2 162.3H260.9V162.7H262.2M262.2 163.2H261.1V163.6H262.2M260.9 162.5H260.8V163.4H261.1M262.2 165H261.6V165.4H262.2M262.2 164.5H261.4V165.2H261.6M262.2 164.1H260.8V164.9H261.4M260.8 163H260.3V164.5H260.8M262.2 165.9H260.9V166.3H262.2M262.2 166.8H261.5V167.2H262.2M262.2 167.7H261.6V168.1H262.2M261.6 167.9H261.5V168.6H262.2M261.5 167H261.1V168.2H261.5M260.9 166.1H260.6V167.6H261.1M260.3 163.7H260.1V166.9H260.6M260.1 159.3H259.2V165.3H260.1M258.1 142.9H256V162.3H259.2M262.2 169H260.6V169.5H262.2M262.2 170.4H261.8V170.8H262.2M261.8 170.6H261.7V171.3H262.2M262.2 171.7H261.8V172.2H262.2M261.7 171H261.5V172H261.8M262.2 169.9H260.8V171.5H261.5M260.6 169.3H260.4V170.7H260.8M262.2 172.6H261.3V173.1H262.2M262.2 174H261.7V174.4H262.2M262.2 173.5H261.5V174.2H261.7M261.3 172.9H260.9V173.9H261.5M260.4 170H259.7V173.4H260.9M262.2 174.9H261.2V175.3H262.2M262.2 175.8H261.2V176.2H262.2M261.2 175.1H260.8V176H261.2M262.2 176.7H261.1V177.1H262.2M262.2 177.6H261.3V178H262.2M261.1 176.9H260.8V177.8H261.3M260.8 175.6H260.6V177.4H260.8M262.2 178.5H261.2V179H262.2M262.2 179.9H261.8V180.3H262.2M261.8 180.1H261.7V180.8H262.2M262.2 179.4H261.4V180.4H261.7M261.2 178.7H260.9V179.9H261.4M260.6 176.5H260.3V179.3H260.9M259.7 171.7H259.4V177.9H260.3M262.2 181.7H261.1V182.1H262.2M262.2 181.2H260.6V181.9H261.1M262.2 183H261.2V183.5H262.2M262.2 182.6H260.8V183.2H261.2M260.6 181.5H260.5V182.9H260.8M262.2 183.9H261.3V184.4H262.2M262.2 185.3H261.7V185.7H262.2M262.2 184.8H261.3V185.5H261.7M261.3 184.1H261V185.1H261.3M262.2 186.6H261.5V187.1H262.2M262.2 186.2H261V186.8H261.5M261 184.6H260.9V186.5H261M260.5 182.2H259.8V185.6H260.9M259.4 174.8H258.3V183.9H259.8M262.2 188H261.3V188.4H262.2M262.2 187.5H260.9V188.2H261.3M262.2 190.7H262V191.1H262.2M262.2 190.2H261.8V190.9H262M262.2 189.8H261.7V190.6H261.8M262.2 189.3H261.6V190.2H261.7M262.2 188.9H261.3V189.7H261.6M260.9 187.9H260.8V189.3H261.3M262.2 191.6H261.7V192H262.2M261.7 191.8H261.5V192.5H262.2M262.2 192.9H261.7V193.4H262.2M262.2 193.8H261.9V194.3H262.2M262.2 195.2H262V195.6H262.2M262.2 194.7H261.9V195.4H262M261.9 194H261.8V195.1H261.9M261.7 193.1H261.6V194.6H261.8M261.5 192.1H261.2V193.9H261.6M260.8 188.6H260V193H261.2M262.2 196.5H261.7V197H262.2M261.7 196.8H261.6V197.4H262.2M262.2 196.1H260.9V197.1H261.6M262.2 197.9H261V198.3H262.2M260.9 196.6H260.3V198.1H261M262.2 199.7H261.7V200.1H262.2M262.2 199.2H261.4V199.9H261.7M262.2 198.8H260.8V199.6H261.4M262.2 200.6H261.6V201H262.2M262.2 201.5H261.7V201.9H262.2M261.6 200.8H261.3V201.7H261.7M262.2 202.8H261.6V203.3H262.2M262.2 202.4H261.5V203.1H261.6M261.3 201.3H260.9V202.7H261.5M262.2 204.2H261.4V204.6H262.2M262.2 203.7H261.1V204.4H261.4M260.9 202H260.8V204.1H261.1M260.8 199.2H260.4V203H260.8M260.3 197.3H260.1V201.1H260.4M260 190.8H259.1V199.2H260.1M258.3 179.3H256.9V195H259.1M256 152.6H255.5V187.2H256.9M262.2 205.5H261.3V206H262.2M262.2 205.1H261.1V205.8H261.3M262.2 206.9H261.8V207.3H262.2M262.2 206.4H261.3V207.1H261.8M261.1 205.4H260.7V206.8H261.3M262.2 207.8H261.4V208.2H262.2M261.4 208H261.3V208.7H262.2M262.2 209.6H261.7V210H262.2M262.2 209.1H261.5V209.8H261.7M261.3 208.4H261.2V209.5H261.5M262.2 210.9H261.8V211.4H262.2M262.2 210.5H261.5V211.2H261.8M261.2 208.9H260.9V210.8H261.5M260.7 206.1H260.1V209.9H260.9M262.2 212.3H261.3V212.8H262.2M262.2 211.8H260.9V212.5H261.3M262.2 214.1H261.8V214.6H262.2M262.2 213.7H261.4V214.3H261.8M262.2 213.2H261.3V214H261.4M260.9 212.2H260.5V213.6H261.3M260.1 208H259.8V212.9H260.5M262.2 215.5H261.6V215.9H262.2M262.2 215H261.1V215.7H261.6M262.2 216.4H261.3V216.8H262.2M261.1 215.3H260.6V216.6H261.3M262.2 217.3H261.3V217.7H262.2M261.3 217.5H261.1V218.2H262.2M262.2 219.1H261.7V219.5H262.2M262.2 218.6H261.4V219.3H261.7M261.1 217.8H260.7V218.9H261.4M260.6 216H260.3V218.4H260.7M259.8 210.4H259V217.2H260.3M262.2 220.4H261.1V220.9H262.2M262.2 220H261V220.6H261.1M262.2 221.3H261.6V221.8H262.2M262.2 223.1H262V223.6H262.2M262.2 222.7H261.9V223.3H262M262.2 222.2H261.6V223H261.9M261.6 221.5H261.3V222.6H261.6M261 220.3H260.8V222.1H261.3M262.2 224.5H261.8V224.9H262.2M262.2 225.4H261.8V225.8H262.2M261.8 224.7H261.7V225.6H261.8M262.2 224H261.4V225.1H261.7M262.2 226.7H261.9V227.2H262.2M261.9 226.9H261.9V227.6H262.2M262.2 226.3H261.7V227.3H261.9M262.2 228.5H261.9V229H262.2M262.2 228.1H261.7V228.7H261.9M261.7 226.8H261.6V228.4H261.7M261.4 224.6H261.2V227.6H261.6M260.8 221.2H260.3V226.1H261.2M262.2 229.4H261.6V229.9H262.2M262.2 230.3H261.8V230.8H262.2M262.2 231.2H261.8V231.7H262.2M261.8 230.6H261.6V231.5H261.8M261.6 229.7H261.5V231H261.6M262.2 232.1H261.8V232.6H262.2M262.2 233H261.9V233.5H262.2M261.8 232.4H261.7V233.3H261.9M261.5 230.3H261.2V232.8H261.7M262.2 234.4H262V234.8H262.2M262.2 233.9H261.9V234.6H262M262.2 235.3H261.9V235.7H262.2M261.9 234.3H261.7V235.5H261.9M262.2 236.2H261.9V236.6H262.2M261.9 236.4H261.9V237.1H262.2M262.2 238H261.9V238.4H262.2M262.2 237.5H261.9V238.2H261.9M261.9 236.7H261.8V237.9H261.9M261.7 234.9H261.5V237.3H261.8M261.2 231.6H261V236.1H261.5M262.2 238.9H261.8V239.3H262.2M261.8 239.1H261.7V239.8H262.2M262.2 240.2H261.8V240.7H262.2M262.2 241.1H262V241.6H262.2M262.2 242.5H262.1V242.9H262.2M262.2 242H262V242.7H262.1M262 241.4H261.9V242.4H262M261.8 240.5H261.7V241.9H261.9M261.7 239.5H261.5V241.2H261.7M262.2 244.3H262V244.7H262.2M262.2 243.8H261.9V244.5H262M262.2 243.4H261.8V244.2H261.9M262.2 245.2H262V245.6H262.2M262 245.4H262V246.1H262.2M262.2 247H262V247.5H262.2M262.2 246.6H262V247.2H262M262 245.8H261.9V246.9H262M261.8 243.8H261.6V246.3H261.9M261.5 240.3H261.3V245.1H261.6M261 233.8H260.8V242.7H261.3M260.3 223.6H259.2V238.3H260.8M259 213.8H258.2V230.9H259.2M262.2 248.4H261.3V248.8H262.2M262.2 247.9H261.1V248.6H261.3M262.2 249.3H261.3V249.7H262.2M261.1 248.2H260.7V249.5H261.3M262.2 250.2H261.1V250.6H262.2M262.2 251.1H261.5V251.5H262.2M262.2 252.4H261.9V252.9H262.2M262.2 252H261.7V252.6H261.9M261.5 251.3H261.2V252.3H261.7M261.1 250.4H261V251.8H261.2M262.2 253.3H261.6V253.8H262.2M262.2 254.2H261.9V254.7H262.2M262.2 255.6H262.1V256H262.2M262.2 255.1H262V255.8H262.1M261.9 254.4H261.8V255.5H262M262.2 257.4H262V257.8H262.2M262.2 256.9H262V257.6H262M262.2 256.5H261.9V257.3H262M261.8 254.9H261.7V256.9H261.9M261.6 253.5H261.2V255.9H261.7M261 251.1H260.9V254.7H261.2M260.7 248.9H259.8V252.9H260.9M262.2 258.3H261.3V258.7H262.2M262.2 259.6H261.8V260.1H262.2M262.2 259.2H261.6V259.8H261.8M261.3 258.5H260.8V259.5H261.6M262.2 261.4H261.8V261.9H262.2M262.2 261H261.6V261.6H261.8M262.2 262.3H261.8V262.8H262.2M261.6 261.3H261.3V262.5H261.8M262.2 260.5H260.9V261.9H261.3M260.8 259H259.9V261.2H260.9M259.8 250.9H258.6V260.1H259.9M258.2 222.4H256.7V255.5H258.6M255.5 169.9H253.4V238.9H256.7" fill="none" stroke="#000" stroke-width="0.7"/>
<text x="250.5" y="49.4" font-size="7.6" fill="#111" text-anchor="middle" transform="rotate(-90 250.5 49.4)">C1</text>
<text x="250.5" y="66.7" font-size="7.6" fill="#111" text-anchor="middle" transform="rotate(-90 250.5 66.7)">C2</text>
<text x="250.5" y="83.9" font-size="7.6" fill="#111" text-anchor="middle" transform="rotate(-90 250.5 83.9)">C3</text>
<text x="250.5" y="101.1" font-size="7.6" fill="#111" text-anchor="middle" transform="rotate(-90 250.5 101.1)">C4</text>
<text x="250.5" y="118.2" font-size="7.6" fill="#111" text-anchor="middle" transform="rotate(-90 250.5 118.2)">C5</text>
<text x="250.5" y="195.3" font-size="7.6" fill="#111" text-anchor="middle" transform="rotate(-90 250.5 195.3)">NA</text>
<text x="386.8" y="45.2" font-size="5.75" fill="#d8262e" font-style="italic">APOC1</text>
<text x="386.8" y="54.2" font-size="5.75" fill="#d8262e" font-style="italic">CD68</text>
<text x="386.8" y="59.4" font-size="5.75" fill="#d8262e" font-style="italic">MARCO</text>
<text x="386.8" y="64.9" font-size="5.75" fill="#2e3a80" font-style="italic">HSPA4L</text>
<text x="386.8" y="76" font-size="5.75" fill="#2e9b49" font-style="italic">C1QC</text>
<text x="386.8" y="80.7" font-size="5.75" fill="#2e9b49" font-style="italic">NFKBIA</text>
<text x="386.8" y="95.7" font-size="5.75" fill="#8a2ea8" font-style="italic">NFKB1</text>
<text x="386.8" y="100.8" font-size="5.75" fill="#8a2ea8" font-style="italic">IL1B</text>
<text x="386.8" y="105.5" font-size="5.75" fill="#8a2ea8" font-style="italic">IL1A</text>
<text x="386.8" y="117.3" font-size="5.75" fill="#f07e2a" font-style="italic">SELENOP</text>
<text x="386.8" y="122.3" font-size="5.75" fill="#f07e2a" font-style="italic">FOLR2</text>
<text x="386.8" y="188.7" font-size="5.75" fill="#8ca0dc" font-style="italic">MKI67</text>
<text x="386.8" y="193.8" font-size="5.75" fill="#8ca0dc" font-style="italic">MND1</text>
<text x="386.8" y="200.2" font-size="5.75" fill="#8ca0dc" font-style="italic">TOP2A</text>
<text x="386.8" y="205.3" font-size="5.75" fill="#8ca0dc" font-style="italic">CDK1</text>
<path d="M380 42.5L382.5 42.5L384.5 43.2H386 M380 55L382 55L383.5 52.2H386 M382 55L383.5 57.4H386 M380 62.9H386 M380 76L382 76L383.5 74H386 M382 76L383.5 78.7H386 M380 98.8L382 98.8L383.5 93.7H386 M382 98.8H386 M382 98.8L383.5 103.5H386 M380 116H386 M380 120.3H386 M380 186.7H386 M380 191.8H386 M380 198.2L382 198.2L383.5 198.2H386 M380 202L382 202L383.5 203.3H386" fill="none" stroke="#333" stroke-width="0.6"/>
<rect x="416.2" y="41.2" width="6.8" height="16.6" fill="#d8262e"/>
<text x="421.7" y="49.5" font-size="5.9" fill="#fff" text-anchor="middle" transform="rotate(-90 421.7 49.5)">n:53</text>
<rect x="416.2" y="59.3" width="6.8" height="15.4" fill="#2e3a80"/>
<text x="421.7" y="67" font-size="5.9" fill="#fff" text-anchor="middle" transform="rotate(-90 421.7 67)">n:51</text>
<rect x="416.2" y="76.1" width="6.8" height="15.6" fill="#2e9b49"/>
<text x="421.7" y="83.9" font-size="5.9" fill="#fff" text-anchor="middle" transform="rotate(-90 421.7 83.9)">n:52</text>
<rect x="416.2" y="93.3" width="6.8" height="15.7" fill="#7d2ea0"/>
<text x="421.7" y="101.2" font-size="5.9" fill="#fff" text-anchor="middle" transform="rotate(-90 421.7 101.2)">n:51</text>
<rect x="416.2" y="110.4" width="6.8" height="15.4" fill="#f07e2a"/>
<text x="421.7" y="118.1" font-size="5.9" fill="#fff" text-anchor="middle" transform="rotate(-90 421.7 118.1)">n:50</text>
<text x="425.4" y="94.2" font-size="6.9" fill="#111" font-weight="bold">sample</text>
<rect x="425.8" y="96.7" width="4.3" height="4.6" fill="#8ee040"/>
<text x="431.8" y="101.1" font-size="5.9" fill="#111">0</text>
<rect x="425.8" y="102.2" width="4.3" height="4.6" fill="#4a8ed0"/>
<text x="431.8" y="106.6" font-size="5.9" fill="#111">1</text>
<rect x="425.8" y="107.8" width="4.3" height="4.6" fill="#c0b030"/>
<text x="431.8" y="112.2" font-size="5.9" fill="#111">2</text>
<rect x="425.8" y="113.3" width="4.3" height="4.6" fill="#e040f0"/>
<text x="431.8" y="117.7" font-size="5.9" fill="#111">3</text>
<rect x="425.8" y="118.9" width="4.3" height="4.6" fill="#d0e040"/>
<text x="431.8" y="123.3" font-size="5.9" fill="#111">4</text>
<rect x="425.8" y="124.4" width="4.3" height="4.6" fill="#80f0a0"/>
<text x="431.8" y="128.8" font-size="5.9" fill="#111">5</text>
<rect x="425.8" y="129.9" width="4.3" height="4.6" fill="#f04040"/>
<text x="431.8" y="134.3" font-size="5.9" fill="#111">6</text>
<rect x="425.8" y="135.5" width="4.3" height="4.6" fill="#c8a0f8"/>
<text x="431.8" y="139.9" font-size="5.9" fill="#111">7</text>
<rect x="425.8" y="141" width="4.3" height="4.6" fill="#d040f0"/>
<text x="431.8" y="145.4" font-size="5.9" fill="#111">8</text>
<rect x="425.8" y="146.6" width="4.3" height="4.6" fill="#000000"/>
<text x="431.8" y="151" font-size="5.9" fill="#111">9</text>
<rect x="425.8" y="152.1" width="4.3" height="4.6" fill="#b02828"/>
<text x="431.8" y="156.5" font-size="5.9" fill="#111">10</text>
<rect x="425.8" y="157.6" width="4.3" height="4.6" fill="#f050f0"/>
<text x="431.8" y="162" font-size="5.9" fill="#111">11</text>
<rect x="425.8" y="163.2" width="4.3" height="4.6" fill="#d040f8"/>
<text x="431.8" y="167.6" font-size="5.9" fill="#111">12</text>
<rect x="425.8" y="168.7" width="4.3" height="4.6" fill="#389028"/>
<text x="431.8" y="173.1" font-size="5.9" fill="#111">13</text>
<text x="425.6" y="183.2" font-size="6.8" fill="#111" font-weight="bold">Z−score</text>
<defs><linearGradient id="zg" x1="0" y1="0" x2="0" y2="1"><stop offset="0" stop-color="#b22222"/><stop offset="0.5" stop-color="#f6f6f8"/><stop offset="1" stop-color="#3a5ca8"/></linearGradient></defs>
<rect x="425.8" y="184.4" width="5.2" height="31" fill="url(#zg)"/>
<text x="432.2" y="188.1" font-size="5.9" fill="#111">2</text>
<text x="432.2" y="195.1" font-size="5.9" fill="#111">1</text>
<text x="432.2" y="201.6" font-size="5.9" fill="#111">0</text>
<text x="432.2" y="208.5" font-size="5.9" fill="#111">−1</text>
<text x="432.2" y="215.4" font-size="5.9" fill="#111">−2</text>
<text x="459.1" y="9.5" font-size="11.3" fill="#000" font-weight="bold">D</text>
<rect x="492.3" y="66" width="17.7" height="6.4" fill="#ea94c4"/>
<text x="503.6" y="64.5" font-size="6.9" fill="#111" transform="rotate(-90 503.6 64.5)">HSP<tspan font-size="4.4" dy="-2.6">+</tspan><tspan dy="2.6"> Cells</tspan></text>
<rect x="510.8" y="66" width="17.7" height="6.4" fill="#e8aad8"/>
<text x="522.1" y="64.5" font-size="6.9" fill="#111" transform="rotate(-90 522.1 64.5)">MARCO<tspan font-size="4.4" dy="-2.6">+</tspan><tspan dy="2.6"> Cells</tspan></text>
<rect x="529.4" y="66" width="17.7" height="6.4" fill="#c8603a"/>
<text x="540.6" y="64.5" font-size="6.9" fill="#111" transform="rotate(-90 540.6 64.5)">IL1B<tspan font-size="4.4" dy="-2.6">+</tspan><tspan dy="2.6"> Cells</tspan></text>
<rect x="547.9" y="66" width="17.7" height="6.4" fill="#f080f0"/>
<text x="559.2" y="64.5" font-size="6.9" fill="#111" transform="rotate(-90 559.2 64.5)">C1QA<tspan font-size="4.4" dy="-2.6">+</tspan><tspan dy="2.6"> Cells</tspan></text>
<rect x="566.5" y="66" width="17.7" height="6.4" fill="#c8f080"/>
<text x="577.7" y="64.5" font-size="6.9" fill="#111" transform="rotate(-90 577.7 64.5)">MKI67<tspan font-size="4.4" dy="-2.6">+</tspan><tspan dy="2.6"> Cells</tspan></text>
<path d="M491.9 74.2h18.5v1.4h-18.5zM491.9 75.5h18.5v1.4h-18.5zM491.9 76.9h18.5v1.4h-18.5zM491.9 78.2h18.5v1.4h-18.5zM491.9 79.5h18.5v1.4h-18.5zM491.9 80.8h18.5v1.4h-18.5zM491.9 82.2h18.5v1.4h-18.5zM491.9 83.5h18.5v1.4h-18.5zM491.9 84.8h18.5v1.4h-18.5zM491.9 86.1h18.5v1.4h-18.5zM491.9 87.5h18.5v1.4h-18.5zM491.9 88.8h18.5v1.4h-18.5zM491.9 90.1h18.5v1.4h-18.5zM491.9 91.4h18.5v1.4h-18.5zM491.9 92.8h18.5v1.4h-18.5zM491.9 94.1h18.5v1.4h-18.5zM491.9 95.4h18.5v1.4h-18.5zM491.9 96.7h18.5v1.4h-18.5zM491.9 98h18.5v1.4h-18.5zM491.9 99.4h18.5v1.4h-18.5zM491.9 100.7h18.5v1.4h-18.5zM491.9 102h18.5v1.4h-18.5zM491.9 103.3h18.5v1.4h-18.5zM491.9 104.7h18.5v1.4h-18.5zM491.9 106h18.5v1.4h-18.5zM491.9 107.3h18.5v1.4h-18.5zM491.9 108.7h18.5v1.4h-18.5zM491.9 110h18.5v1.4h-18.5zM510.4 112.4h18.5v1.4h-18.5zM510.4 113.7h18.5v1.4h-18.5zM510.4 115h18.5v1.4h-18.5zM510.4 116.3h18.5v1.4h-18.5zM510.4 117.6h18.5v1.4h-18.5zM510.4 118.9h18.5v1.4h-18.5zM510.4 120.2h18.5v1.4h-18.5zM510.4 121.6h18.5v1.4h-18.5zM510.4 122.9h18.5v1.4h-18.5zM510.4 124.2h18.5v1.4h-18.5zM510.4 125.5h18.5v1.4h-18.5zM510.4 126.8h18.5v1.4h-18.5zM510.4 128.1h18.5v1.4h-18.5zM510.4 129.4h18.5v1.4h-18.5zM510.4 130.7h18.5v1.4h-18.5zM510.4 132h18.5v1.4h-18.5zM510.4 133.3h18.5v1.4h-18.5zM510.4 134.6h18.5v1.4h-18.5zM510.4 135.9h18.5v1.4h-18.5zM510.4 137.2h18.5v1.4h-18.5zM510.4 138.5h18.5v1.4h-18.5zM510.4 139.8h18.5v1.4h-18.5zM510.4 141.2h18.5v1.4h-18.5zM510.4 142.5h18.5v1.4h-18.5zM510.4 143.8h18.5v1.4h-18.5zM510.4 145.1h18.5v1.4h-18.5zM510.4 146.4h18.5v1.4h-18.5zM510.4 147.7h18.5v1.4h-18.5zM529 150.6h18.5v1.4h-18.5zM529 151.9h18.5v1.4h-18.5zM529 153.2h18.5v1.4h-18.5zM529 154.6h18.5v1.4h-18.5zM529 155.9h18.5v1.4h-18.5zM529 157.2h18.5v1.4h-18.5zM529 158.5h18.5v1.4h-18.5zM529 159.8h18.5v1.4h-18.5zM529 161.1h18.5v1.4h-18.5zM529 162.5h18.5v1.4h-18.5zM529 163.8h18.5v1.4h-18.5zM529 165.1h18.5v1.4h-18.5zM529 166.4h18.5v1.4h-18.5zM529 167.7h18.5v1.4h-18.5zM529 169.1h18.5v1.4h-18.5zM529 170.4h18.5v1.4h-18.5zM529 171.7h18.5v1.4h-18.5zM529 173h18.5v1.4h-18.5zM529 174.3h18.5v1.4h-18.5zM529 175.6h18.5v1.4h-18.5zM529 177h18.5v1.4h-18.5zM529 178.3h18.5v1.4h-18.5zM529 179.6h18.5v1.4h-18.5zM529 180.9h18.5v1.4h-18.5zM529 182.2h18.5v1.4h-18.5zM529 183.5h18.5v1.4h-18.5zM529 184.9h18.5v1.4h-18.5zM529 186.2h18.5v1.4h-18.5zM547.5 189h18.5v1.3h-18.5zM547.5 190.3h18.5v1.3h-18.5zM547.5 191.6h18.5v1.3h-18.5zM547.5 192.9h18.5v1.3h-18.5zM547.5 194.2h18.5v1.3h-18.5zM547.5 195.5h18.5v1.3h-18.5zM547.5 196.8h18.5v1.3h-18.5zM547.5 198.1h18.5v1.3h-18.5zM547.5 199.4h18.5v1.3h-18.5zM547.5 200.7h18.5v1.3h-18.5zM547.5 202h18.5v1.3h-18.5zM547.5 203.3h18.5v1.3h-18.5zM547.5 204.6h18.5v1.3h-18.5zM547.5 205.9h18.5v1.3h-18.5zM547.5 207.2h18.5v1.3h-18.5zM547.5 208.4h18.5v1.3h-18.5zM547.5 209.7h18.5v1.3h-18.5zM547.5 211h18.5v1.3h-18.5zM547.5 212.3h18.5v1.3h-18.5zM547.5 213.6h18.5v1.3h-18.5zM547.5 214.9h18.5v1.3h-18.5zM547.5 216.2h18.5v1.3h-18.5zM547.5 217.5h18.5v1.3h-18.5zM547.5 218.8h18.5v1.3h-18.5zM547.5 220.1h18.5v1.3h-18.5zM547.5 221.4h18.5v1.3h-18.5zM547.5 222.7h18.5v1.3h-18.5zM547.5 224h18.5v1.3h-18.5zM566.1 226.4h18.5v1.4h-18.5zM566.1 227.7h18.5v1.4h-18.5zM566.1 229h18.5v1.4h-18.5zM566.1 230.4h18.5v1.4h-18.5zM566.1 231.7h18.5v1.4h-18.5zM566.1 233h18.5v1.4h-18.5zM566.1 234.3h18.5v1.4h-18.5zM566.1 235.6h18.5v1.4h-18.5zM566.1 236.9h18.5v1.4h-18.5zM566.1 238.3h18.5v1.4h-18.5zM566.1 239.6h18.5v1.4h-18.5zM566.1 240.9h18.5v1.4h-18.5zM566.1 242.2h18.5v1.4h-18.5zM566.1 243.5h18.5v1.4h-18.5zM566.1 244.9h18.5v1.4h-18.5zM566.1 246.2h18.5v1.4h-18.5zM566.1 247.5h18.5v1.4h-18.5zM566.1 248.8h18.5v1.4h-18.5zM566.1 250.1h18.5v1.4h-18.5zM566.1 251.4h18.5v1.4h-18.5zM566.1 252.8h18.5v1.4h-18.5zM566.1 254.1h18.5v1.4h-18.5zM566.1 255.4h18.5v1.4h-18.5zM566.1 256.7h18.5v1.4h-18.5zM566.1 258h18.5v1.4h-18.5zM566.1 259.3h18.5v1.4h-18.5zM566.1 260.7h18.5v1.4h-18.5zM566.1 262h18.5v1.4h-18.5z" fill="#c03a30"/>
<path d="M510.4 74.2h18.5v1.4h-18.5zM547.5 74.2h18.5v1.4h-18.5zM566.1 79.5h18.5v1.4h-18.5zM547.5 80.8h18.5v1.4h-18.5zM510.4 86.1h18.5v1.4h-18.5zM566.1 86.1h18.5v1.4h-18.5zM510.4 90.1h18.5v1.4h-18.5zM529 90.1h18.5v1.4h-18.5zM566.1 95.4h18.5v1.4h-18.5zM510.4 100.7h18.5v1.4h-18.5zM547.5 102h18.5v1.4h-18.5zM566.1 103.3h18.5v1.4h-18.5zM566.1 104.7h18.5v1.4h-18.5zM529 116.3h18.5v1.4h-18.5zM491.9 125.5h18.5v1.4h-18.5zM547.5 125.5h18.5v1.4h-18.5zM529 126.8h18.5v1.4h-18.5zM566.1 130.7h18.5v1.4h-18.5zM566.1 138.5h18.5v1.4h-18.5zM491.9 139.8h18.5v1.4h-18.5zM491.9 141.2h18.5v1.4h-18.5zM491.9 146.4h18.5v1.4h-18.5zM491.9 147.7h18.5v1.4h-18.5zM491.9 153.2h18.5v1.4h-18.5zM566.1 154.6h18.5v1.4h-18.5zM566.1 158.5h18.5v1.4h-18.5zM510.4 159.8h18.5v1.4h-18.5zM547.5 166.4h18.5v1.4h-18.5zM491.9 169.1h18.5v1.4h-18.5zM566.1 169.1h18.5v1.4h-18.5zM491.9 173h18.5v1.4h-18.5zM491.9 174.3h18.5v1.4h-18.5zM566.1 174.3h18.5v1.4h-18.5zM491.9 175.6h18.5v1.4h-18.5zM547.5 178.3h18.5v1.4h-18.5zM566.1 178.3h18.5v1.4h-18.5zM547.5 182.2h18.5v1.4h-18.5zM547.5 183.5h18.5v1.4h-18.5zM566.1 183.5h18.5v1.4h-18.5zM510.4 189h18.5v1.3h-18.5zM510.4 190.3h18.5v1.3h-18.5zM491.9 192.9h18.5v1.3h-18.5zM510.4 192.9h18.5v1.3h-18.5zM510.4 194.2h18.5v1.3h-18.5zM566.1 194.2h18.5v1.3h-18.5zM529 199.4h18.5v1.3h-18.5zM566.1 199.4h18.5v1.3h-18.5zM529 200.7h18.5v1.3h-18.5zM491.9 203.3h18.5v1.3h-18.5zM491.9 204.6h18.5v1.3h-18.5zM510.4 211h18.5v1.3h-18.5zM510.4 224h18.5v1.3h-18.5zM529 224h18.5v1.3h-18.5z" fill="#bbc6df"/>
<path d="M529 74.2h18.5v1.4h-18.5zM510.4 75.5h18.5v1.4h-18.5zM529 75.5h18.5v1.4h-18.5zM566.1 75.5h18.5v1.4h-18.5zM566.1 76.9h18.5v1.4h-18.5zM529 78.2h18.5v1.4h-18.5zM566.1 78.2h18.5v1.4h-18.5zM510.4 80.8h18.5v1.4h-18.5zM566.1 80.8h18.5v1.4h-18.5zM510.4 82.2h18.5v1.4h-18.5zM529 83.5h18.5v1.4h-18.5zM529 84.8h18.5v1.4h-18.5zM547.5 84.8h18.5v1.4h-18.5zM529 86.1h18.5v1.4h-18.5zM547.5 87.5h18.5v1.4h-18.5zM510.4 88.8h18.5v1.4h-18.5zM529 88.8h18.5v1.4h-18.5zM566.1 90.1h18.5v1.4h-18.5zM510.4 91.4h18.5v1.4h-18.5zM547.5 91.4h18.5v1.4h-18.5zM529 92.8h18.5v1.4h-18.5zM566.1 92.8h18.5v1.4h-18.5zM529 94.1h18.5v1.4h-18.5zM547.5 94.1h18.5v1.4h-18.5zM566.1 94.1h18.5v1.4h-18.5zM529 95.4h18.5v1.4h-18.5zM529 96.7h18.5v1.4h-18.5zM510.4 98h18.5v1.4h-18.5zM529 98h18.5v1.4h-18.5zM547.5 98h18.5v1.4h-18.5zM547.5 99.4h18.5v1.4h-18.5zM547.5 100.7h18.5v1.4h-18.5zM529 102h18.5v1.4h-18.5zM510.4 103.3h18.5v1.4h-18.5zM510.4 106h18.5v1.4h-18.5zM547.5 106h18.5v1.4h-18.5zM566.1 110h18.5v1.4h-18.5zM547.5 113.7h18.5v1.4h-18.5zM491.9 115h18.5v1.4h-18.5zM547.5 115h18.5v1.4h-18.5zM491.9 116.3h18.5v1.4h-18.5zM566.1 118.9h18.5v1.4h-18.5zM547.5 120.2h18.5v1.4h-18.5zM547.5 121.6h18.5v1.4h-18.5zM566.1 121.6h18.5v1.4h-18.5zM491.9 122.9h18.5v1.4h-18.5zM566.1 124.2h18.5v1.4h-18.5zM529 125.5h18.5v1.4h-18.5zM566.1 126.8h18.5v1.4h-18.5zM529 128.1h18.5v1.4h-18.5zM547.5 128.1h18.5v1.4h-18.5zM566.1 129.4h18.5v1.4h-18.5zM547.5 130.7h18.5v1.4h-18.5zM547.5 132h18.5v1.4h-18.5zM547.5 134.6h18.5v1.4h-18.5zM566.1 134.6h18.5v1.4h-18.5zM491.9 135.9h18.5v1.4h-18.5zM529 135.9h18.5v1.4h-18.5zM491.9 137.2h18.5v1.4h-18.5zM491.9 138.5h18.5v1.4h-18.5zM529 138.5h18.5v1.4h-18.5zM547.5 139.8h18.5v1.4h-18.5zM547.5 141.2h18.5v1.4h-18.5zM566.1 141.2h18.5v1.4h-18.5zM547.5 142.5h18.5v1.4h-18.5zM566.1 142.5h18.5v1.4h-18.5zM529 143.8h18.5v1.4h-18.5zM547.5 143.8h18.5v1.4h-18.5zM529 145.1h18.5v1.4h-18.5zM547.5 145.1h18.5v1.4h-18.5zM529 147.7h18.5v1.4h-18.5zM547.5 147.7h18.5v1.4h-18.5zM566.1 150.6h18.5v1.4h-18.5zM547.5 151.9h18.5v1.4h-18.5zM566.1 153.2h18.5v1.4h-18.5zM547.5 154.6h18.5v1.4h-18.5zM491.9 157.2h18.5v1.4h-18.5zM510.4 157.2h18.5v1.4h-18.5zM491.9 158.5h18.5v1.4h-18.5zM491.9 159.8h18.5v1.4h-18.5zM510.4 163.8h18.5v1.4h-18.5zM547.5 163.8h18.5v1.4h-18.5zM566.1 163.8h18.5v1.4h-18.5zM547.5 165.1h18.5v1.4h-18.5zM491.9 167.7h18.5v1.4h-18.5zM510.4 169.1h18.5v1.4h-18.5zM510.4 171.7h18.5v1.4h-18.5zM547.5 171.7h18.5v1.4h-18.5zM566.1 173h18.5v1.4h-18.5zM510.4 174.3h18.5v1.4h-18.5zM547.5 174.3h18.5v1.4h-18.5zM510.4 175.6h18.5v1.4h-18.5zM510.4 177h18.5v1.4h-18.5zM491.9 178.3h18.5v1.4h-18.5zM510.4 178.3h18.5v1.4h-18.5zM491.9 179.6h18.5v1.4h-18.5zM510.4 179.6h18.5v1.4h-18.5zM491.9 186.2h18.5v1.4h-18.5zM510.4 186.2h18.5v1.4h-18.5zM547.5 186.2h18.5v1.4h-18.5zM566.1 189h18.5v1.3h-18.5zM491.9 191.6h18.5v1.3h-18.5zM529 191.6h18.5v1.3h-18.5zM529 192.9h18.5v1.3h-18.5zM529 195.5h18.5v1.3h-18.5zM491.9 196.8h18.5v1.3h-18.5zM529 196.8h18.5v1.3h-18.5zM491.9 198.1h18.5v1.3h-18.5zM529 198.1h18.5v1.3h-18.5zM491.9 199.4h18.5v1.3h-18.5zM510.4 199.4h18.5v1.3h-18.5zM510.4 200.7h18.5v1.3h-18.5zM566.1 200.7h18.5v1.3h-18.5zM510.4 202h18.5v1.3h-18.5zM566.1 202h18.5v1.3h-18.5zM510.4 207.2h18.5v1.3h-18.5zM529 207.2h18.5v1.3h-18.5zM491.9 208.4h18.5v1.3h-18.5zM510.4 208.4h18.5v1.3h-18.5zM566.1 208.4h18.5v1.3h-18.5zM491.9 209.7h18.5v1.3h-18.5zM529 212.3h18.5v1.3h-18.5zM566.1 212.3h18.5v1.3h-18.5zM491.9 213.6h18.5v1.3h-18.5zM529 213.6h18.5v1.3h-18.5zM566.1 213.6h18.5v1.3h-18.5zM491.9 214.9h18.5v1.3h-18.5zM491.9 216.2h18.5v1.3h-18.5zM510.4 216.2h18.5v1.3h-18.5zM566.1 216.2h18.5v1.3h-18.5zM491.9 217.5h18.5v1.3h-18.5zM529 217.5h18.5v1.3h-18.5zM491.9 218.8h18.5v1.3h-18.5zM566.1 218.8h18.5v1.3h-18.5zM529 220.1h18.5v1.3h-18.5zM491.9 221.4h18.5v1.3h-18.5zM491.9 222.7h18.5v1.3h-18.5zM491.9 226.4h18.5v1.4h-18.5zM510.4 226.4h18.5v1.4h-18.5zM529 226.4h18.5v1.4h-18.5zM547.5 226.4h18.5v1.4h-18.5zM491.9 227.7h18.5v1.4h-18.5zM510.4 227.7h18.5v1.4h-18.5zM529 227.7h18.5v1.4h-18.5zM547.5 227.7h18.5v1.4h-18.5zM491.9 229h18.5v1.4h-18.5zM510.4 229h18.5v1.4h-18.5zM529 229h18.5v1.4h-18.5zM547.5 229h18.5v1.4h-18.5zM491.9 230.4h18.5v1.4h-18.5zM510.4 230.4h18.5v1.4h-18.5zM529 230.4h18.5v1.4h-18.5zM547.5 230.4h18.5v1.4h-18.5zM491.9 231.7h18.5v1.4h-18.5zM510.4 231.7h18.5v1.4h-18.5zM529 231.7h18.5v1.4h-18.5zM547.5 231.7h18.5v1.4h-18.5zM491.9 233h18.5v1.4h-18.5zM510.4 233h18.5v1.4h-18.5zM529 233h18.5v1.4h-18.5zM547.5 233h18.5v1.4h-18.5zM491.9 234.3h18.5v1.4h-18.5zM510.4 234.3h18.5v1.4h-18.5zM529 234.3h18.5v1.4h-18.5zM547.5 234.3h18.5v1.4h-18.5zM491.9 235.6h18.5v1.4h-18.5zM510.4 235.6h18.5v1.4h-18.5zM529 235.6h18.5v1.4h-18.5zM547.5 235.6h18.5v1.4h-18.5zM491.9 236.9h18.5v1.4h-18.5zM510.4 236.9h18.5v1.4h-18.5zM529 236.9h18.5v1.4h-18.5zM547.5 236.9h18.5v1.4h-18.5zM491.9 238.3h18.5v1.4h-18.5zM510.4 238.3h18.5v1.4h-18.5zM529 238.3h18.5v1.4h-18.5zM547.5 238.3h18.5v1.4h-18.5zM491.9 239.6h18.5v1.4h-18.5zM510.4 239.6h18.5v1.4h-18.5zM529 239.6h18.5v1.4h-18.5zM547.5 239.6h18.5v1.4h-18.5zM491.9 240.9h18.5v1.4h-18.5zM510.4 240.9h18.5v1.4h-18.5zM529 240.9h18.5v1.4h-18.5zM547.5 240.9h18.5v1.4h-18.5zM491.9 242.2h18.5v1.4h-18.5zM510.4 242.2h18.5v1.4h-18.5zM529 242.2h18.5v1.4h-18.5zM547.5 242.2h18.5v1.4h-18.5zM491.9 243.5h18.5v1.4h-18.5zM510.4 243.5h18.5v1.4h-18.5zM529 243.5h18.5v1.4h-18.5zM547.5 243.5h18.5v1.4h-18.5zM491.9 244.9h18.5v1.4h-18.5zM510.4 244.9h18.5v1.4h-18.5zM529 244.9h18.5v1.4h-18.5zM547.5 244.9h18.5v1.4h-18.5zM491.9 246.2h18.5v1.4h-18.5zM510.4 246.2h18.5v1.4h-18.5zM529 246.2h18.5v1.4h-18.5zM547.5 246.2h18.5v1.4h-18.5zM491.9 247.5h18.5v1.4h-18.5zM510.4 247.5h18.5v1.4h-18.5zM529 247.5h18.5v1.4h-18.5zM547.5 247.5h18.5v1.4h-18.5zM491.9 248.8h18.5v1.4h-18.5zM510.4 248.8h18.5v1.4h-18.5zM529 248.8h18.5v1.4h-18.5zM547.5 248.8h18.5v1.4h-18.5zM491.9 250.1h18.5v1.4h-18.5zM510.4 250.1h18.5v1.4h-18.5zM529 250.1h18.5v1.4h-18.5zM547.5 250.1h18.5v1.4h-18.5zM491.9 251.4h18.5v1.4h-18.5zM510.4 251.4h18.5v1.4h-18.5zM529 251.4h18.5v1.4h-18.5zM547.5 251.4h18.5v1.4h-18.5zM491.9 252.8h18.5v1.4h-18.5zM510.4 252.8h18.5v1.4h-18.5zM529 252.8h18.5v1.4h-18.5zM547.5 252.8h18.5v1.4h-18.5zM491.9 254.1h18.5v1.4h-18.5zM510.4 254.1h18.5v1.4h-18.5zM529 254.1h18.5v1.4h-18.5zM547.5 254.1h18.5v1.4h-18.5zM491.9 255.4h18.5v1.4h-18.5zM510.4 255.4h18.5v1.4h-18.5zM529 255.4h18.5v1.4h-18.5zM547.5 255.4h18.5v1.4h-18.5zM491.9 256.7h18.5v1.4h-18.5zM510.4 256.7h18.5v1.4h-18.5zM529 256.7h18.5v1.4h-18.5zM547.5 256.7h18.5v1.4h-18.5zM491.9 258h18.5v1.4h-18.5zM510.4 258h18.5v1.4h-18.5zM529 258h18.5v1.4h-18.5zM547.5 258h18.5v1.4h-18.5zM491.9 259.3h18.5v1.4h-18.5zM510.4 259.3h18.5v1.4h-18.5zM529 259.3h18.5v1.4h-18.5zM547.5 259.3h18.5v1.4h-18.5zM491.9 260.7h18.5v1.4h-18.5zM510.4 260.7h18.5v1.4h-18.5zM529 260.7h18.5v1.4h-18.5zM547.5 260.7h18.5v1.4h-18.5zM491.9 262h18.5v1.4h-18.5zM510.4 262h18.5v1.4h-18.5zM529 262h18.5v1.4h-18.5zM547.5 262h18.5v1.4h-18.5z" fill="#d3d9e9"/>
<path d="M566.1 74.2h18.5v1.4h-18.5zM510.4 76.9h18.5v1.4h-18.5zM510.4 78.2h18.5v1.4h-18.5zM529 79.5h18.5v1.4h-18.5zM547.5 79.5h18.5v1.4h-18.5zM529 80.8h18.5v1.4h-18.5zM529 82.2h18.5v1.4h-18.5zM547.5 82.2h18.5v1.4h-18.5zM566.1 82.2h18.5v1.4h-18.5zM510.4 83.5h18.5v1.4h-18.5zM547.5 83.5h18.5v1.4h-18.5zM566.1 83.5h18.5v1.4h-18.5zM510.4 84.8h18.5v1.4h-18.5zM566.1 84.8h18.5v1.4h-18.5zM529 87.5h18.5v1.4h-18.5zM566.1 87.5h18.5v1.4h-18.5zM547.5 88.8h18.5v1.4h-18.5zM547.5 90.1h18.5v1.4h-18.5zM566.1 91.4h18.5v1.4h-18.5zM510.4 92.8h18.5v1.4h-18.5zM547.5 92.8h18.5v1.4h-18.5zM510.4 94.1h18.5v1.4h-18.5zM510.4 95.4h18.5v1.4h-18.5zM547.5 95.4h18.5v1.4h-18.5zM510.4 96.7h18.5v1.4h-18.5zM547.5 96.7h18.5v1.4h-18.5zM566.1 96.7h18.5v1.4h-18.5zM566.1 98h18.5v1.4h-18.5zM510.4 99.4h18.5v1.4h-18.5zM529 99.4h18.5v1.4h-18.5zM566.1 99.4h18.5v1.4h-18.5zM566.1 100.7h18.5v1.4h-18.5zM566.1 102h18.5v1.4h-18.5zM529 103.3h18.5v1.4h-18.5zM547.5 103.3h18.5v1.4h-18.5zM510.4 104.7h18.5v1.4h-18.5zM529 104.7h18.5v1.4h-18.5zM547.5 104.7h18.5v1.4h-18.5zM529 106h18.5v1.4h-18.5zM510.4 107.3h18.5v1.4h-18.5zM529 107.3h18.5v1.4h-18.5zM547.5 107.3h18.5v1.4h-18.5zM566.1 107.3h18.5v1.4h-18.5zM529 108.7h18.5v1.4h-18.5zM547.5 108.7h18.5v1.4h-18.5zM566.1 108.7h18.5v1.4h-18.5zM510.4 110h18.5v1.4h-18.5zM529 110h18.5v1.4h-18.5zM547.5 110h18.5v1.4h-18.5zM491.9 112.4h18.5v1.4h-18.5zM529 112.4h18.5v1.4h-18.5zM547.5 112.4h18.5v1.4h-18.5zM491.9 113.7h18.5v1.4h-18.5zM529 113.7h18.5v1.4h-18.5zM529 115h18.5v1.4h-18.5zM547.5 116.3h18.5v1.4h-18.5zM491.9 117.6h18.5v1.4h-18.5zM529 117.6h18.5v1.4h-18.5zM547.5 117.6h18.5v1.4h-18.5zM491.9 118.9h18.5v1.4h-18.5zM529 118.9h18.5v1.4h-18.5zM491.9 120.2h18.5v1.4h-18.5zM529 120.2h18.5v1.4h-18.5zM566.1 120.2h18.5v1.4h-18.5zM491.9 121.6h18.5v1.4h-18.5zM529 121.6h18.5v1.4h-18.5zM529 122.9h18.5v1.4h-18.5zM491.9 124.2h18.5v1.4h-18.5zM547.5 124.2h18.5v1.4h-18.5zM566.1 125.5h18.5v1.4h-18.5zM491.9 126.8h18.5v1.4h-18.5zM547.5 126.8h18.5v1.4h-18.5zM491.9 128.1h18.5v1.4h-18.5zM566.1 128.1h18.5v1.4h-18.5zM491.9 129.4h18.5v1.4h-18.5zM529 129.4h18.5v1.4h-18.5zM547.5 129.4h18.5v1.4h-18.5zM491.9 130.7h18.5v1.4h-18.5zM491.9 132h18.5v1.4h-18.5zM566.1 132h18.5v1.4h-18.5zM491.9 133.3h18.5v1.4h-18.5zM529 133.3h18.5v1.4h-18.5zM547.5 133.3h18.5v1.4h-18.5zM566.1 133.3h18.5v1.4h-18.5zM491.9 134.6h18.5v1.4h-18.5zM529 134.6h18.5v1.4h-18.5zM566.1 135.9h18.5v1.4h-18.5zM529 137.2h18.5v1.4h-18.5zM547.5 137.2h18.5v1.4h-18.5zM566.1 137.2h18.5v1.4h-18.5zM529 139.8h18.5v1.4h-18.5zM566.1 139.8h18.5v1.4h-18.5zM529 141.2h18.5v1.4h-18.5zM529 142.5h18.5v1.4h-18.5zM491.9 143.8h18.5v1.4h-18.5zM566.1 143.8h18.5v1.4h-18.5zM566.1 145.1h18.5v1.4h-18.5zM529 146.4h18.5v1.4h-18.5zM566.1 146.4h18.5v1.4h-18.5zM566.1 147.7h18.5v1.4h-18.5zM491.9 150.6h18.5v1.4h-18.5zM510.4 150.6h18.5v1.4h-18.5zM547.5 150.6h18.5v1.4h-18.5zM491.9 151.9h18.5v1.4h-18.5zM510.4 151.9h18.5v1.4h-18.5zM566.1 151.9h18.5v1.4h-18.5zM510.4 153.2h18.5v1.4h-18.5zM547.5 153.2h18.5v1.4h-18.5zM491.9 154.6h18.5v1.4h-18.5zM510.4 154.6h18.5v1.4h-18.5zM491.9 155.9h18.5v1.4h-18.5zM510.4 155.9h18.5v1.4h-18.5zM547.5 155.9h18.5v1.4h-18.5zM566.1 155.9h18.5v1.4h-18.5zM547.5 157.2h18.5v1.4h-18.5zM566.1 157.2h18.5v1.4h-18.5zM510.4 158.5h18.5v1.4h-18.5zM547.5 158.5h18.5v1.4h-18.5zM547.5 159.8h18.5v1.4h-18.5zM566.1 159.8h18.5v1.4h-18.5zM491.9 161.1h18.5v1.4h-18.5zM510.4 161.1h18.5v1.4h-18.5zM566.1 161.1h18.5v1.4h-18.5zM491.9 162.5h18.5v1.4h-18.5zM510.4 162.5h18.5v1.4h-18.5zM547.5 162.5h18.5v1.4h-18.5zM566.1 162.5h18.5v1.4h-18.5zM491.9 163.8h18.5v1.4h-18.5zM491.9 165.1h18.5v1.4h-18.5zM510.4 165.1h18.5v1.4h-18.5zM566.1 165.1h18.5v1.4h-18.5zM491.9 166.4h18.5v1.4h-18.5zM566.1 166.4h18.5v1.4h-18.5zM547.5 167.7h18.5v1.4h-18.5zM566.1 167.7h18.5v1.4h-18.5zM510.4 170.4h18.5v1.4h-18.5zM566.1 170.4h18.5v1.4h-18.5zM510.4 173h18.5v1.4h-18.5zM547.5 173h18.5v1.4h-18.5zM547.5 175.6h18.5v1.4h-18.5zM491.9 177h18.5v1.4h-18.5zM547.5 177h18.5v1.4h-18.5zM566.1 177h18.5v1.4h-18.5zM547.5 179.6h18.5v1.4h-18.5zM566.1 179.6h18.5v1.4h-18.5zM491.9 180.9h18.5v1.4h-18.5zM510.4 180.9h18.5v1.4h-18.5zM547.5 180.9h18.5v1.4h-18.5zM566.1 180.9h18.5v1.4h-18.5zM491.9 182.2h18.5v1.4h-18.5zM510.4 182.2h18.5v1.4h-18.5zM566.1 182.2h18.5v1.4h-18.5zM491.9 183.5h18.5v1.4h-18.5zM510.4 183.5h18.5v1.4h-18.5zM491.9 184.9h18.5v1.4h-18.5zM510.4 184.9h18.5v1.4h-18.5zM566.1 184.9h18.5v1.4h-18.5zM566.1 186.2h18.5v1.4h-18.5zM491.9 189h18.5v1.3h-18.5zM529 189h18.5v1.3h-18.5zM529 190.3h18.5v1.3h-18.5zM566.1 190.3h18.5v1.3h-18.5zM510.4 191.6h18.5v1.3h-18.5zM566.1 191.6h18.5v1.3h-18.5zM566.1 192.9h18.5v1.3h-18.5zM491.9 194.2h18.5v1.3h-18.5zM529 194.2h18.5v1.3h-18.5zM510.4 195.5h18.5v1.3h-18.5zM566.1 195.5h18.5v1.3h-18.5zM510.4 196.8h18.5v1.3h-18.5zM566.1 196.8h18.5v1.3h-18.5zM510.4 198.1h18.5v1.3h-18.5zM566.1 198.1h18.5v1.3h-18.5zM491.9 200.7h18.5v1.3h-18.5zM491.9 202h18.5v1.3h-18.5zM529 202h18.5v1.3h-18.5zM510.4 203.3h18.5v1.3h-18.5zM529 203.3h18.5v1.3h-18.5zM566.1 203.3h18.5v1.3h-18.5zM510.4 204.6h18.5v1.3h-18.5zM529 204.6h18.5v1.3h-18.5zM566.1 204.6h18.5v1.3h-18.5zM491.9 205.9h18.5v1.3h-18.5zM510.4 205.9h18.5v1.3h-18.5zM529 205.9h18.5v1.3h-18.5zM566.1 205.9h18.5v1.3h-18.5zM529 208.4h18.5v1.3h-18.5zM510.4 209.7h18.5v1.3h-18.5zM529 209.7h18.5v1.3h-18.5zM566.1 209.7h18.5v1.3h-18.5zM491.9 211h18.5v1.3h-18.5zM529 211h18.5v1.3h-18.5zM566.1 211h18.5v1.3h-18.5zM510.4 212.3h18.5v1.3h-18.5zM510.4 213.6h18.5v1.3h-18.5zM510.4 214.9h18.5v1.3h-18.5zM529 214.9h18.5v1.3h-18.5zM566.1 214.9h18.5v1.3h-18.5zM529 216.2h18.5v1.3h-18.5zM510.4 217.5h18.5v1.3h-18.5zM510.4 218.8h18.5v1.3h-18.5zM529 218.8h18.5v1.3h-18.5zM491.9 220.1h18.5v1.3h-18.5zM510.4 220.1h18.5v1.3h-18.5zM566.1 220.1h18.5v1.3h-18.5zM510.4 221.4h18.5v1.3h-18.5zM529 221.4h18.5v1.3h-18.5zM566.1 221.4h18.5v1.3h-18.5zM510.4 222.7h18.5v1.3h-18.5zM529 222.7h18.5v1.3h-18.5zM566.1 222.7h18.5v1.3h-18.5zM491.9 224h18.5v1.3h-18.5z" fill="#c7d0e4"/>
<path d="M547.5 75.5h18.5v1.4h-18.5zM529 76.9h18.5v1.4h-18.5zM547.5 76.9h18.5v1.4h-18.5zM547.5 78.2h18.5v1.4h-18.5zM510.4 79.5h18.5v1.4h-18.5zM547.5 86.1h18.5v1.4h-18.5zM510.4 87.5h18.5v1.4h-18.5zM566.1 88.8h18.5v1.4h-18.5zM529 91.4h18.5v1.4h-18.5zM510.4 102h18.5v1.4h-18.5zM510.4 108.7h18.5v1.4h-18.5zM566.1 113.7h18.5v1.4h-18.5zM566.1 115h18.5v1.4h-18.5zM566.1 117.6h18.5v1.4h-18.5zM547.5 118.9h18.5v1.4h-18.5zM547.5 122.9h18.5v1.4h-18.5zM566.1 122.9h18.5v1.4h-18.5zM529 132h18.5v1.4h-18.5zM547.5 135.9h18.5v1.4h-18.5zM547.5 161.1h18.5v1.4h-18.5zM510.4 167.7h18.5v1.4h-18.5zM547.5 169.1h18.5v1.4h-18.5zM547.5 170.4h18.5v1.4h-18.5zM566.1 171.7h18.5v1.4h-18.5zM566.1 175.6h18.5v1.4h-18.5zM547.5 184.9h18.5v1.4h-18.5zM491.9 190.3h18.5v1.3h-18.5zM566.1 207.2h18.5v1.3h-18.5zM566.1 224h18.5v1.3h-18.5z" fill="#dee3ee"/>
<path d="M529 100.7h18.5v1.4h-18.5zM566.1 112.4h18.5v1.4h-18.5zM566.1 116.3h18.5v1.4h-18.5zM529 124.2h18.5v1.4h-18.5zM529 130.7h18.5v1.4h-18.5zM547.5 138.5h18.5v1.4h-18.5zM547.5 146.4h18.5v1.4h-18.5zM510.4 166.4h18.5v1.4h-18.5zM491.9 195.5h18.5v1.3h-18.5zM491.9 207.2h18.5v1.3h-18.5zM491.9 212.3h18.5v1.3h-18.5zM566.1 217.5h18.5v1.3h-18.5z" fill="#eaecf3"/>
<path d="M566.1 106h18.5v1.4h-18.5zM491.9 142.5h18.5v1.4h-18.5zM491.9 145.1h18.5v1.4h-18.5zM491.9 170.4h18.5v1.4h-18.5zM491.9 171.7h18.5v1.4h-18.5z" fill="#b0bcda"/>
<rect x="491.9" y="108.6" width="18.5" height="2.7" fill="#d48c8d"/>
<rect x="566.1" y="108.6" width="18.5" height="2.7" fill="#dba1a2"/>
<rect x="491.9" y="155" width="18.5" height="2" fill="#e2b6b8"/>
<rect x="566.1" y="152" width="18.5" height="3" fill="#ecd6d8"/>
<rect x="529" y="218" width="18.5" height="7.3" fill="#d79798"/>
<rect x="547.5" y="218" width="18.5" height="7.3" fill="#d18182"/>
<rect x="510.4" y="218" width="18.5" height="7.3" fill="#a1b1d4"/>
<rect x="491.9" y="196" width="18.5" height="2" fill="#ecd6d8"/>
<rect x="529" y="196" width="18.5" height="3" fill="#efe1e3"/>
<rect x="491.9" y="74.2" width="92.7" height="37.1" fill="none" stroke="#333" stroke-width="0.8"/>
<rect x="489.6" y="74.2" width="2.3" height="37.1" fill="#111"/>
<rect x="491.9" y="112.4" width="92.7" height="36.6" fill="none" stroke="#333" stroke-width="0.8"/>
<rect x="489.6" y="112.4" width="2.3" height="36.6" fill="#111"/>
<rect x="491.9" y="150.6" width="92.7" height="36.9" fill="none" stroke="#333" stroke-width="0.8"/>
<rect x="489.6" y="150.6" width="2.3" height="36.9" fill="#111"/>
<rect x="491.9" y="189" width="92.7" height="36.3" fill="none" stroke="#333" stroke-width="0.8"/>
<rect x="489.6" y="189" width="2.3" height="36.3" fill="#111"/>
<rect x="491.9" y="226.4" width="92.7" height="36.9" fill="none" stroke="#333" stroke-width="0.8"/>
<rect x="489.6" y="226.4" width="2.3" height="36.9" fill="#111"/>
<path d="M489.8 77.3H489V78H489.8M489.8 76.6H488.1V77.7H489M489.8 75.9H486.9V77.1H488.1M489.8 75.2H484.6V76.5H486.9M489.8 78.7H488.4V79.5H489.8M489.8 80.2H488.8V80.9H489.8M488.4 79.1H487.6V80.5H488.8M489.8 81.6H488.9V82.3H489.8M489.8 83.8H489.3V84.5H489.8M489.8 83.1H488.9V84.1H489.3M488.9 82H488.6V83.6H488.9M489.8 86.6H489.6V87.4H489.8M489.8 85.9H489.3V87H489.6M489.8 85.2H488.9V86.5H489.3M488.6 82.8H488V85.8H488.9M487.6 79.8H486.1V84.3H488M484.6 75.8H482.7V82.1H486.1M489.8 88.8H489.1V89.5H489.8M489.8 90.2H489.2V91H489.8M489.1 89.2H488.4V90.6H489.2M489.8 88.1H487.8V89.9H488.4M489.8 91.7H488.6V92.4H489.8M489.8 93.1H489.3V93.8H489.8M489.8 94.5H489.4V95.3H489.8M489.3 93.5H488.9V94.9H489.4M488.6 92H487.9V94.2H488.9M487.8 89H486.7V93.1H487.9M489.8 96.7H489.4V97.4H489.8M489.8 96H488.9V97.1H489.4M489.8 99.6H489.7V100.3H489.8M489.8 98.9H489.6V99.9H489.7M489.8 98.1H489.4V99.4H489.6M489.8 101H489.5V101.7H489.8M489.4 98.8H489V101.4H489.5M488.9 96.5H488V100.1H489M489.8 102.4H488.9V103.2H489.8M489.8 103.9H489.4V104.6H489.8M489.8 106.8H489.7V107.5H489.8M489.8 106H489.6V107.1H489.7M489.8 105.3H489.5V106.6H489.6M489.4 104.2H489V105.9H489.5M488.9 102.8H488.7V105.1H489M489.8 108.2H489.2V108.9H489.8M489.8 109.6H489.3V110.3H489.8M489.2 108.5H489V110H489.3M488.7 103.9H488.2V109.3H489M488 98.3H487.2V106.6H488.2M486.7 91H483.8V102.4H487.2M482.7 79H481.3V96.7H483.8" fill="none" stroke="#222" stroke-width="0.5"/>
<path d="M489.8 113.4H488.8V114.1H489.8M489.8 114.8H488.8V115.5H489.8M488.8 113.7H487.6V115.1H488.8M489.8 116.2H488.7V116.9H489.8M489.8 117.6H488.8V118.3H489.8M488.7 116.5H487.9V118H488.8M487.6 114.4H486.8V117.2H487.9M489.8 119.7H489.1V120.4H489.8M489.8 119H488.5V120.1H489.1M489.8 121.1H488.6V121.8H489.8M488.5 119.5H488.1V121.5H488.6M489.8 123.3H489.5V124H489.8M489.8 122.6H489.3V123.6H489.5M489.8 124.7H489.4V125.4H489.8M489.3 123.1H488.9V125H489.4M489.8 127.5H489.6V128.2H489.8M489.8 126.8H489.4V127.9H489.6M489.8 126.1H489.4V127.3H489.4M489.8 129.6H489.6V130.3H489.8M489.8 128.9H489.4V130H489.6M489.4 126.7H489.1V129.5H489.4M488.9 124.1H488.4V128.1H489.1M488.1 120.5H487V126.1H488.4M486.8 115.8H484.3V123.3H487M489.8 131.8H489.1V132.5H489.8M489.1 132.1H488.5V133.2H489.8M489.8 131.1H488.1V132.6H488.5M489.8 133.9H488.8V134.6H489.8M488.8 134.2H488.6V135.3H489.8M488.1 131.9H486.2V134.8H488.6M489.8 136.7H489.3V137.4H489.8M489.8 136H488.7V137.1H489.3M489.8 138.1H489.3V138.8H489.8M489.8 141H489.7V141.7H489.8M489.8 140.3H489.6V141.3H489.7M489.8 139.6H489.4V140.8H489.6M489.3 138.5H488.9V140.2H489.4M488.7 136.5H487.9V139.3H488.9M489.8 142.4H488.8V143.1H489.8M489.8 144.5H489.4V145.2H489.8M489.8 143.8H489V144.9H489.4M488.8 142.7H488.6V144.3H489M489.8 146.6H489.2V147.3H489.8M489.2 147H489.1V148H489.8M489.8 145.9H488.8V147.5H489.1M488.6 143.5H488V146.7H488.8M487.9 137.9H486.5V145.1H488M486.2 133.3H484.7V141.5H486.5M484.3 119.6H482.3V137.4H484.7" fill="none" stroke="#222" stroke-width="0.5"/>
<path d="M489.8 151.6H488.5V152.3H489.8M489.8 153H488.6V153.7H489.8M488.5 151.9H487.8V153.3H488.6M489.8 154.4H488.3V155.1H489.8M487.8 152.6H486.7V154.8H488.3M489.8 155.8H487.6V156.6H489.8M489.8 158H489.3V158.7H489.8M489.8 159.4H489.3V160.1H489.8M489.3 158.3H489V159.8H489.3M489.8 157.3H488.2V159.1H489M487.6 156.2H486.7V158.2H488.2M486.7 153.7H483.6V157.2H486.7M489.8 162.3H489V163H489.8M489.8 161.6H488.4V162.6H489M489.8 160.8H486.5V162.1H488.4M489.8 163.7H487.8V164.4H489.8M489.8 165.1H488.2V165.8H489.8M487.8 164.1H487.4V165.5H488.2M486.5 161.5H484.7V164.8H487.4M489.8 167.3H488.9V168H489.8M488.9 167.6H488.3V168.7H489.8M489.8 166.6H487.4V168.2H488.3M489.8 170.1H488.7V170.8H489.8M489.8 169.4H487.7V170.5H488.7M487.4 167.4H486.3V169.9H487.7M489.8 172.3H488.9V173H489.8M489.8 171.5H488.2V172.6H488.9M489.8 173.7H488.4V174.4H489.8M488.2 172.1H486.8V174H488.4M486.3 168.6H485.2V173.1H486.8M484.7 163.1H483.6V170.9H485.2M483.6 155.4H481.2V167H483.6M489.8 176.5H488.1V177.3H489.8M489.8 175.8H487.1V176.9H488.1M489.8 175.1H485.1V176.4H487.1M489.8 178.7H489.5V179.4H489.8M489.8 178H489.3V179H489.5M489.8 180.1H489.4V180.8H489.8M489.3 178.5H488.8V180.5H489.4M489.8 182.3H489.3V183H489.8M489.8 181.5H488.8V182.6H489.3M488.8 179.5H487.5V182.1H488.8M489.8 184.4H489.4V185.1H489.8M489.8 185.8H489.5V186.5H489.8M489.4 184.8H489.1V186.2H489.5M489.8 183.7H488.1V185.5H489.1M487.5 180.8H486.1V184.6H488.1M485.1 175.7H483.5V182.7H486.1M481.2 161.2H476.8V179.2H483.5" fill="none" stroke="#222" stroke-width="0.5"/>
<path d="M489.8 190.7H487.8V191.4H489.8M489.8 190H486V191H487.8M489.8 192.1H486.1V192.8H489.8M486 190.5H484V192.4H486.1M489.8 193.5H485.8V194.2H489.8M489.8 194.9H486.2V195.6H489.8M485.8 193.8H484V195.2H486.2M484 191.4H482.5V194.5H484M489.8 197.7H489.2V198.4H489.8M489.2 198H489.1V199.1H489.8M489.8 197H488.3V198.6H489.1M489.8 196.3H487.4V197.8H488.3M489.8 199.8H488.3V200.5H489.8M489.8 201.2H489.1V201.9H489.8M489.1 201.5H488.4V202.6H489.8M488.3 200.1H487.5V202.1H488.4M487.4 197H486.2V201.1H487.5M489.8 203.3H488.8V204H489.8M489.8 204.7H489.1V205.4H489.8M488.8 203.6H487.8V205H489.1M489.8 206.1H488.8V206.8H489.8M489.8 207.5H489V208.2H489.8M489.8 208.9H489.1V209.6H489.8M489 207.9H488.9V209.3H489.1M488.8 206.4H488.2V208.6H488.9M487.8 204.3H486.9V207.5H488.2M486.2 199.1H483.1V205.9H486.9M482.5 193H480.3V202.5H483.1M489.8 210.3H488.2V211H489.8M489.8 211.7H488.3V212.4H489.8M488.2 210.7H486.6V212.1H488.3M489.8 213.8H488.9V214.5H489.8M489.8 213.1H487.8V214.2H488.9M489.8 215.9H488.8V216.6H489.8M489.8 215.2H488V216.3H488.8M487.8 213.6H486.7V215.7H488M486.6 211.4H484.8V214.7H486.7M489.8 218H489.1V218.7H489.8M489.8 217.3H488.3V218.4H489.1M489.8 220.1H489V220.8H489.8M489.8 219.4H488.5V220.5H489M488.3 217.9H487.6V220H488.5M489.8 221.5H488.7V222.2H489.8M489.8 223.6H489.4V224.3H489.8M489.8 222.9H488.9V224H489.4M488.7 221.9H488.2V223.5H488.9M487.6 218.9H485.7V222.7H488.2M484.8 213H481.7V220.8H485.7M480.3 197.7H476.8V216.9H481.7" fill="none" stroke="#222" stroke-width="0.5"/>
<text x="476.5" y="92.8" font-size="7.6" fill="#111" text-anchor="middle" transform="rotate(-90 476.5 92.8)">C1</text>
<text x="476.5" y="130.7" font-size="7.6" fill="#111" text-anchor="middle" transform="rotate(-90 476.5 130.7)">C2</text>
<text x="476.5" y="169.1" font-size="7.6" fill="#111" text-anchor="middle" transform="rotate(-90 476.5 169.1)">C3</text>
<text x="476.5" y="207.2" font-size="7.6" fill="#111" text-anchor="middle" transform="rotate(-90 476.5 207.2)">C4</text>
<text x="476.5" y="244.9" font-size="7.6" fill="#111" text-anchor="middle" transform="rotate(-90 476.5 244.9)">C5</text>
<text x="592.4" y="78.8" font-size="5.75" fill="#e02a2a" font-style="italic">HSPB8</text>
<text x="592.4" y="86.7" font-size="5.75" fill="#e02a2a" font-style="italic">HSPD1</text>
<text x="592.4" y="94.8" font-size="5.75" fill="#e02a2a" font-style="italic">HSPA4L</text>
<text x="592.4" y="123.8" font-size="5.75" fill="#2e3a80" font-style="italic">MARCO</text>
<text x="592.4" y="147.8" font-size="5.75" fill="#2e3a80" font-style="italic">APOC1</text>
<text x="592.4" y="152.2" font-size="5.75" fill="#2e3a80" font-style="italic">CD68</text>
<text x="592.4" y="163.5" font-size="5.75" fill="#3aa048" font-style="italic">NFKBIA</text>
<text x="592.4" y="168.6" font-size="5.75" fill="#3aa048" font-style="italic">IL1A</text>
<text x="592.4" y="173" font-size="5.75" fill="#3aa048" font-style="italic">IL1B</text>
<text x="592.4" y="177.7" font-size="5.75" fill="#3aa048" font-style="italic">NFKB1</text>
<text x="592.4" y="207" font-size="5.75" fill="#8a2ea8" font-style="italic">FOLR2</text>
<text x="592.4" y="211.7" font-size="5.75" fill="#8a2ea8" font-style="italic">SELENOP</text>
<text x="592.4" y="224.4" font-size="5.75" fill="#8a2ea8" font-style="italic">C1QC</text>
<text x="592.4" y="229.5" font-size="5.75" fill="#f07e2a" font-style="italic">CDK1</text>
<text x="592.4" y="247.8" font-size="5.75" fill="#f07e2a" font-style="italic">MKI67</text>
<text x="592.4" y="257.7" font-size="5.75" fill="#f07e2a" font-style="italic">TOP2A</text>
<path d="M585 76.8H591M585 84.7H591M585 92.8H591M585 121.8H591M585 148H587L589 145.8H591M587 148L589 150.2H591M585 161.5H591M585 170H587L589 166.6H591M587 170L589 171H591M587 170L589 175.7H591M585 207H587L589 205H591M587 207L589 209.7H591M585 222.8H591M585 227.5H591M585 245.8H591M585 255.7H591" fill="none" stroke="#333" stroke-width="0.6"/>
<rect x="622.1" y="74.2" width="6.7" height="37.1" fill="#dd2a30"/>
<text x="627.5" y="92.8" font-size="5.9" fill="#fff" text-anchor="middle" transform="rotate(-90 627.5 92.8)">n:52</text>
<rect x="622.1" y="112.4" width="6.7" height="36.6" fill="#2e3a80"/>
<text x="627.5" y="130.7" font-size="5.9" fill="#fff" text-anchor="middle" transform="rotate(-90 627.5 130.7)">n:52</text>
<rect x="622.1" y="150.8" width="6.7" height="36.5" fill="#38a048"/>
<text x="627.5" y="169.1" font-size="5.9" fill="#fff" text-anchor="middle" transform="rotate(-90 627.5 169.1)">n:52</text>
<rect x="622.1" y="189.3" width="6.7" height="35.9" fill="#8a2ea8"/>
<text x="627.5" y="207.2" font-size="5.9" fill="#fff" text-anchor="middle" transform="rotate(-90 627.5 207.2)">n:51</text>
<rect x="622.1" y="227" width="6.7" height="35.6" fill="#f07e2a"/>
<text x="627.5" y="244.8" font-size="5.9" fill="#fff" text-anchor="middle" transform="rotate(-90 627.5 244.8)">n:51</text>
<text x="631.7" y="135" font-size="6.9" fill="#111" font-weight="bold">sample</text>
<rect x="631.7" y="137.7" width="4.2" height="4.6" fill="#ea94c4"/>
<text x="637.9" y="142.1" font-size="5.9" fill="#111">HSP<tspan font-size="3.8" dy="-2.2">+</tspan><tspan dy="2.2"> Cells</tspan></text>
<rect x="631.7" y="142.9" width="4.2" height="4.6" fill="#e8aad8"/>
<text x="637.9" y="147.3" font-size="5.9" fill="#111">MARCO<tspan font-size="3.8" dy="-2.2">+</tspan><tspan dy="2.2"> Cells</tspan></text>
<rect x="631.7" y="148.3" width="4.2" height="4.6" fill="#c8603a"/>
<text x="637.9" y="152.7" font-size="5.9" fill="#111">IL1B<tspan font-size="3.8" dy="-2.2">+</tspan><tspan dy="2.2"> Cells</tspan></text>
<rect x="631.7" y="153.7" width="4.2" height="4.6" fill="#f080f0"/>
<text x="637.9" y="158.1" font-size="5.9" fill="#111">C1QA<tspan font-size="3.8" dy="-2.2">+</tspan><tspan dy="2.2"> Cells</tspan></text>
<rect x="631.7" y="159.2" width="4.2" height="4.6" fill="#c8f080"/>
<text x="637.9" y="163.6" font-size="5.9" fill="#111">MKI67<tspan font-size="3.8" dy="-2.2">+</tspan><tspan dy="2.2"> Cells</tspan></text>
<text x="631.6" y="174.3" font-size="6.8" fill="#111" font-weight="bold">Z−score</text>
<rect x="631.1" y="176.5" width="5.6" height="30" fill="url(#zg)"/>
<text x="638" y="180" font-size="5.9" fill="#111">2</text>
<text x="638" y="186.5" font-size="5.9" fill="#111">1</text>
<text x="638" y="193.1" font-size="5.9" fill="#111">0</text>
<text x="638" y="200.1" font-size="5.9" fill="#111">−1</text>
<text x="638" y="206.7" font-size="5.9" fill="#111">−2</text>
<text x="0.5" y="310.8" font-size="11.3" fill="#000" font-weight="bold">E</text>
<text x="128" y="315" font-size="9.2" fill="#111" text-anchor="middle">Macrophage</text>
<text x="76.4" y="328.2" font-size="9.2" fill="#111" text-anchor="middle">post-chemo</text>
<text x="178.7" y="328.2" font-size="9.2" fill="#111" text-anchor="middle">before-chemo</text>
<path d="M75 333h2v1h-2zM73 334h3v1h-3zM68 335h1v1h-1zM70 335h10v1h-10zM65 336h1v1h-1zM69 336h10v1h-10zM80 336h1v1h-1zM82 336h1v1h-1zM64 337h12v1h-12zM77 337h7v1h-7zM63 338h10v1h-10zM74 338h10v1h-10zM60 339h2v1h-2zM63 339h7v1h-7zM71 339h13v1h-13zM61 340h15v1h-15zM77 340h3v1h-3zM81 340h4v1h-4zM60 341h14v1h-14zM75 341h1v1h-1zM78 341h7v1h-7zM60 342h4v1h-4zM65 342h11v1h-11zM77 342h9v1h-9zM59 343h22v1h-22zM82 343h4v1h-4zM59 344h1v1h-1zM61 344h25v1h-25zM58 345h28v1h-28zM49 346h1v1h-1zM55 346h2v1h-2zM59 346h1v1h-1zM61 346h27v1h-27zM51 347h4v1h-4zM56 347h32v1h-32zM50 348h13v1h-13zM64 348h24v1h-24zM50 349h24v1h-24zM75 349h14v1h-14zM49 350h3v1h-3zM53 350h3v1h-3zM57 350h30v1h-30zM88 350h1v1h-1zM47 351h8v1h-8zM56 351h14v1h-14zM71 351h1v1h-1zM73 351h14v1h-14zM89 351h1v1h-1zM48 352h7v1h-7zM56 352h4v1h-4zM61 352h1v1h-1zM63 352h1v1h-1zM65 352h16v1h-16zM82 352h2v1h-2zM85 352h6v1h-6zM47 353h8v1h-8zM57 353h1v1h-1zM59 353h5v1h-5zM65 353h25v1h-25zM46 354h6v1h-6zM54 354h23v1h-23zM78 354h13v1h-13zM46 355h6v1h-6zM53 355h1v1h-1zM55 355h11v1h-11zM67 355h24v1h-24zM47 356h38v1h-38zM86 356h5v1h-5zM46 357h1v1h-1zM48 357h9v1h-9zM58 357h2v1h-2zM61 357h15v1h-15zM77 357h13v1h-13zM91 357h1v1h-1zM49 358h1v1h-1zM51 358h1v1h-1zM53 358h38v1h-38zM92 358h1v1h-1zM51 359h25v1h-25zM77 359h8v1h-8zM86 359h5v1h-5zM52 360h12v1h-12zM65 360h19v1h-19zM85 360h7v1h-7zM51 361h5v1h-5zM57 361h1v1h-1zM59 361h2v1h-2zM62 361h1v1h-1zM64 361h1v1h-1zM67 361h16v1h-16zM84 361h4v1h-4zM89 361h3v1h-3zM45 362h1v1h-1zM52 362h10v1h-10zM63 362h5v1h-5zM69 362h2v1h-2zM72 362h8v1h-8zM81 362h9v1h-9zM91 362h1v1h-1zM52 363h2v1h-2zM55 363h2v1h-2zM58 363h7v1h-7zM66 363h16v1h-16zM83 363h1v1h-1zM87 363h7v1h-7zM52 364h41v1h-41zM53 365h3v1h-3zM57 365h9v1h-9zM67 365h1v1h-1zM69 365h2v1h-2zM73 365h1v1h-1zM75 365h4v1h-4zM80 365h12v1h-12zM93 365h1v1h-1zM52 366h16v1h-16zM69 366h1v1h-1zM73 366h2v1h-2zM76 366h4v1h-4zM81 366h5v1h-5zM87 366h3v1h-3zM91 366h2v1h-2zM43 367h1v1h-1zM52 367h3v1h-3zM56 367h5v1h-5zM62 367h8v1h-8zM71 367h3v1h-3zM77 367h10v1h-10zM88 367h5v1h-5zM52 368h15v1h-15zM68 368h2v1h-2zM73 368h1v1h-1zM77 368h3v1h-3zM84 368h1v1h-1zM86 368h1v1h-1zM89 368h4v1h-4zM52 369h6v1h-6zM59 369h2v1h-2zM62 369h3v1h-3zM66 369h1v1h-1zM69 369h2v1h-2zM72 369h1v1h-1zM74 369h2v1h-2zM77 369h1v1h-1zM79 369h4v1h-4zM87 369h6v1h-6zM53 370h2v1h-2zM56 370h11v1h-11zM68 370h1v1h-1zM77 370h3v1h-3zM81 370h3v1h-3zM86 370h8v1h-8zM48 371h1v1h-1zM55 371h2v1h-2zM58 371h9v1h-9zM78 371h1v1h-1zM80 371h3v1h-3zM84 371h1v1h-1zM88 371h3v1h-3zM55 372h1v1h-1zM58 372h3v1h-3zM65 372h1v1h-1zM84 372h1v1h-1zM88 372h1v1h-1zM90 372h2v1h-2zM58 373h2v1h-2zM89 373h1v1h-1zM91 373h1v1h-1zM82 374h1v1h-1zM89 374h1v1h-1zM60 376h2v1h-2zM85 376h1v1h-1zM85 377h1v1h-1z" fill="#e05a5e"/>
<path d="M45 355h1v1h-1zM45 356h2v1h-2zM44 357h2v1h-2zM47 357h1v1h-1zM44 358h5v1h-5zM44 359h7v1h-7zM44 360h4v1h-4zM49 360h2v1h-2zM44 361h4v1h-4zM49 361h2v1h-2zM44 362h1v1h-1zM46 362h6v1h-6zM42 363h1v1h-1zM44 363h8v1h-8zM42 364h6v1h-6zM50 364h2v1h-2zM43 365h3v1h-3zM47 365h2v1h-2zM50 365h3v1h-3zM42 366h10v1h-10zM44 367h8v1h-8zM43 368h9v1h-9zM42 369h10v1h-10zM76 369h1v1h-1zM43 370h9v1h-9zM71 370h6v1h-6zM80 370h1v1h-1zM43 371h5v1h-5zM49 371h6v1h-6zM68 371h2v1h-2zM71 371h1v1h-1zM73 371h1v1h-1zM43 372h12v1h-12zM56 372h2v1h-2zM61 372h4v1h-4zM66 372h2v1h-2zM73 372h6v1h-6zM80 372h1v1h-1zM42 373h10v1h-10zM53 373h5v1h-5zM60 373h1v1h-1zM62 373h4v1h-4zM68 373h10v1h-10zM42 374h26v1h-26zM71 374h8v1h-8zM42 375h25v1h-25zM68 375h1v1h-1zM70 375h7v1h-7zM78 375h1v1h-1zM42 376h3v1h-3zM46 376h6v1h-6zM53 376h7v1h-7zM62 376h10v1h-10zM73 376h7v1h-7zM42 377h10v1h-10zM53 377h27v1h-27zM44 378h5v1h-5zM50 378h11v1h-11zM62 378h6v1h-6zM69 378h10v1h-10zM42 379h1v1h-1zM44 379h2v1h-2zM47 379h14v1h-14zM62 379h13v1h-13zM76 379h2v1h-2zM44 380h14v1h-14zM59 380h6v1h-6zM66 380h4v1h-4zM71 380h6v1h-6zM44 381h7v1h-7zM52 381h8v1h-8zM61 381h10v1h-10zM72 381h5v1h-5zM43 382h21v1h-21zM65 382h4v1h-4zM70 382h6v1h-6zM45 383h23v1h-23zM69 383h8v1h-8zM46 384h14v1h-14zM62 384h1v1h-1zM64 384h12v1h-12zM44 385h1v1h-1zM46 385h10v1h-10zM58 385h11v1h-11zM70 385h5v1h-5zM45 386h13v1h-13zM59 386h1v1h-1zM62 386h5v1h-5zM68 386h6v1h-6zM44 387h1v1h-1zM46 387h2v1h-2zM49 387h14v1h-14zM64 387h11v1h-11zM46 388h6v1h-6zM53 388h17v1h-17zM71 388h4v1h-4zM47 389h12v1h-12zM60 389h3v1h-3zM64 389h1v1h-1zM67 389h4v1h-4zM72 389h3v1h-3zM48 390h3v1h-3zM52 390h7v1h-7zM60 390h4v1h-4zM65 390h6v1h-6zM72 390h3v1h-3zM47 391h15v1h-15zM63 391h11v1h-11zM75 391h1v1h-1zM49 392h9v1h-9zM59 392h10v1h-10zM70 392h5v1h-5zM47 393h10v1h-10zM58 393h17v1h-17zM49 394h1v1h-1zM51 394h18v1h-18zM70 394h1v1h-1zM72 394h3v1h-3zM47 395h1v1h-1zM49 395h3v1h-3zM53 395h5v1h-5zM59 395h1v1h-1zM61 395h11v1h-11zM49 396h6v1h-6zM57 396h5v1h-5zM63 396h9v1h-9zM49 397h2v1h-2zM52 397h7v1h-7zM60 397h1v1h-1zM62 397h1v1h-1zM64 397h5v1h-5zM70 397h2v1h-2zM76 397h1v1h-1zM48 398h2v1h-2zM51 398h22v1h-22zM50 399h16v1h-16zM67 399h5v1h-5zM50 400h21v1h-21zM73 400h2v1h-2zM51 401h5v1h-5zM57 401h1v1h-1zM59 401h9v1h-9zM69 401h6v1h-6zM51 402h4v1h-4zM56 402h9v1h-9zM67 402h7v1h-7zM52 403h13v1h-13zM66 403h2v1h-2zM69 403h7v1h-7zM77 403h1v1h-1zM52 404h7v1h-7zM60 404h15v1h-15zM76 404h3v1h-3zM80 404h1v1h-1zM82 404h1v1h-1zM84 404h1v1h-1zM53 405h3v1h-3zM57 405h23v1h-23zM82 405h4v1h-4zM87 405h1v1h-1zM52 406h7v1h-7zM60 406h1v1h-1zM62 406h12v1h-12zM75 406h13v1h-13zM54 407h1v1h-1zM57 407h12v1h-12zM74 407h3v1h-3zM78 407h9v1h-9zM54 408h3v1h-3zM58 408h1v1h-1zM60 408h6v1h-6zM67 408h1v1h-1zM69 408h11v1h-11zM81 408h6v1h-6zM53 409h2v1h-2zM56 409h1v1h-1zM63 409h3v1h-3zM67 409h2v1h-2zM70 409h18v1h-18zM53 410h3v1h-3zM57 410h1v1h-1zM64 410h5v1h-5zM71 410h2v1h-2zM74 410h11v1h-11zM86 410h2v1h-2zM55 411h1v1h-1zM62 411h1v1h-1zM64 411h1v1h-1zM67 411h1v1h-1zM69 411h19v1h-19zM65 412h9v1h-9zM75 412h1v1h-1zM77 412h1v1h-1zM79 412h8v1h-8zM63 413h1v1h-1zM65 413h7v1h-7zM73 413h5v1h-5zM79 413h8v1h-8zM66 414h3v1h-3zM70 414h18v1h-18zM67 415h15v1h-15zM86 415h2v1h-2zM65 416h9v1h-9zM75 416h3v1h-3zM79 416h1v1h-1zM66 417h1v1h-1zM68 417h7v1h-7zM76 417h1v1h-1zM80 417h1v1h-1zM70 418h7v1h-7zM69 419h1v1h-1zM73 419h2v1h-2zM76 419h1v1h-1zM72 420h4v1h-4zM71 421h1v1h-1zM74 421h1v1h-1zM72 422h1v1h-1zM69 423h1v1h-1zM84 425h1v1h-1z" fill="#4f6bd0"/>
<path d="M87 367h1v1h-1zM80 368h1v1h-1zM85 368h1v1h-1zM84 369h2v1h-2zM93 369h1v1h-1zM84 370h2v1h-2zM79 371h1v1h-1zM83 371h1v1h-1zM85 371h3v1h-3zM91 371h1v1h-1zM93 371h1v1h-1zM79 372h1v1h-1zM81 372h3v1h-3zM85 372h3v1h-3zM89 372h1v1h-1zM92 372h4v1h-4zM78 373h2v1h-2zM81 373h2v1h-2zM84 373h5v1h-5zM90 373h1v1h-1zM92 373h2v1h-2zM95 373h2v1h-2zM79 374h2v1h-2zM83 374h2v1h-2zM86 374h3v1h-3zM90 374h3v1h-3zM94 374h3v1h-3zM79 375h17v1h-17zM80 376h1v1h-1zM82 376h3v1h-3zM86 376h3v1h-3zM90 376h5v1h-5zM96 376h1v1h-1zM80 377h5v1h-5zM86 377h5v1h-5zM92 377h5v1h-5zM79 378h6v1h-6zM86 378h12v1h-12zM78 379h11v1h-11zM90 379h7v1h-7zM77 380h4v1h-4zM82 380h4v1h-4zM87 380h1v1h-1zM89 380h2v1h-2zM92 380h1v1h-1zM94 380h3v1h-3zM98 380h1v1h-1zM77 381h17v1h-17zM95 381h1v1h-1zM97 381h1v1h-1zM77 382h3v1h-3zM81 382h16v1h-16zM77 383h4v1h-4zM82 383h5v1h-5zM88 383h10v1h-10zM76 384h2v1h-2zM79 384h1v1h-1zM81 384h3v1h-3zM85 384h4v1h-4zM90 384h1v1h-1zM92 384h2v1h-2zM95 384h4v1h-4zM75 385h24v1h-24zM74 386h1v1h-1zM76 386h24v1h-24zM75 387h2v1h-2zM78 387h24v1h-24zM75 388h3v1h-3zM80 388h21v1h-21zM71 389h1v1h-1zM75 389h28v1h-28zM105 389h1v1h-1zM75 390h23v1h-23zM99 390h5v1h-5zM74 391h1v1h-1zM76 391h2v1h-2zM79 391h2v1h-2zM82 391h10v1h-10zM93 391h13v1h-13zM107 391h1v1h-1zM75 392h12v1h-12zM88 392h7v1h-7zM96 392h2v1h-2zM99 392h8v1h-8zM75 393h6v1h-6zM82 393h24v1h-24zM76 394h7v1h-7zM84 394h4v1h-4zM89 394h17v1h-17zM73 395h7v1h-7zM81 395h6v1h-6zM88 395h17v1h-17zM72 396h3v1h-3zM76 396h2v1h-2zM79 396h13v1h-13zM93 396h3v1h-3zM97 396h5v1h-5zM61 397h1v1h-1zM72 397h4v1h-4zM77 397h24v1h-24zM73 398h3v1h-3zM77 398h13v1h-13zM92 398h8v1h-8zM72 399h25v1h-25zM75 400h2v1h-2zM78 400h17v1h-17zM75 401h7v1h-7zM83 401h12v1h-12zM74 402h2v1h-2zM77 402h11v1h-11zM89 402h3v1h-3zM93 402h1v1h-1zM68 403h1v1h-1zM76 403h1v1h-1zM78 403h7v1h-7zM86 403h9v1h-9zM81 404h1v1h-1zM83 404h1v1h-1zM86 404h1v1h-1zM88 404h4v1h-4zM80 405h2v1h-2zM88 405h3v1h-3zM88 406h2v1h-2z" fill="#8ad46e"/>
<path d="M122 385h2v1h-2zM126 385h2v1h-2zM129 385h1v1h-1zM120 386h6v1h-6zM127 386h3v1h-3zM118 387h2v1h-2zM121 387h3v1h-3zM125 387h5v1h-5zM118 388h2v1h-2zM121 388h3v1h-3zM125 388h6v1h-6zM117 389h1v1h-1zM120 389h4v1h-4zM125 389h3v1h-3zM129 389h2v1h-2zM117 390h8v1h-8zM126 390h6v1h-6zM117 391h2v1h-2zM120 391h12v1h-12zM118 392h6v1h-6zM125 392h4v1h-4zM130 392h1v1h-1zM118 393h10v1h-10zM129 393h2v1h-2zM118 394h8v1h-8zM127 394h3v1h-3zM105 395h1v1h-1zM119 395h11v1h-11zM121 396h8v1h-8zM121 397h5v1h-5z" fill="#e9c04a"/>
<path d="M51 397h1v1h-1zM59 404h1v1h-1zM59 406h1v1h-1zM57 408h1v1h-1zM57 409h6v1h-6zM56 410h1v1h-1zM58 410h1v1h-1zM60 410h4v1h-4zM56 411h1v1h-1zM58 411h4v1h-4zM63 411h1v1h-1zM65 411h1v1h-1zM55 412h1v1h-1zM57 412h7v1h-7zM54 413h9v1h-9zM55 414h11v1h-11zM54 415h11v1h-11zM66 415h1v1h-1zM82 415h4v1h-4zM53 416h3v1h-3zM57 416h1v1h-1zM59 416h6v1h-6zM78 416h1v1h-1zM80 416h4v1h-4zM86 416h1v1h-1zM53 417h1v1h-1zM55 417h11v1h-11zM67 417h1v1h-1zM77 417h3v1h-3zM81 417h5v1h-5zM87 417h1v1h-1zM53 418h17v1h-17zM77 418h5v1h-5zM83 418h5v1h-5zM53 419h9v1h-9zM63 419h6v1h-6zM70 419h1v1h-1zM72 419h1v1h-1zM75 419h1v1h-1zM77 419h2v1h-2zM81 419h6v1h-6zM54 420h11v1h-11zM66 420h2v1h-2zM70 420h2v1h-2zM76 420h11v1h-11zM53 421h16v1h-16zM70 421h1v1h-1zM73 421h1v1h-1zM75 421h12v1h-12zM54 422h13v1h-13zM68 422h4v1h-4zM73 422h5v1h-5zM79 422h7v1h-7zM54 423h15v1h-15zM70 423h5v1h-5zM76 423h12v1h-12zM54 424h10v1h-10zM65 424h2v1h-2zM69 424h1v1h-1zM71 424h5v1h-5zM78 424h1v1h-1zM80 424h1v1h-1zM82 424h4v1h-4zM54 425h16v1h-16zM71 425h13v1h-13zM85 425h2v1h-2zM53 426h5v1h-5zM59 426h2v1h-2zM62 426h3v1h-3zM67 426h4v1h-4zM72 426h11v1h-11zM84 426h2v1h-2zM53 427h5v1h-5zM59 427h17v1h-17zM77 427h8v1h-8zM54 428h4v1h-4zM59 428h15v1h-15zM75 428h8v1h-8zM84 428h2v1h-2zM54 429h10v1h-10zM65 429h9v1h-9zM75 429h1v1h-1zM77 429h9v1h-9zM56 430h8v1h-8zM65 430h3v1h-3zM69 430h17v1h-17zM55 431h11v1h-11zM67 431h5v1h-5zM73 431h12v1h-12zM55 432h16v1h-16zM72 432h9v1h-9zM83 432h3v1h-3zM55 433h29v1h-29zM57 434h6v1h-6zM64 434h7v1h-7zM72 434h11v1h-11zM56 435h1v1h-1zM58 435h5v1h-5zM64 435h10v1h-10zM76 435h4v1h-4zM81 435h1v1h-1zM58 436h1v1h-1zM61 436h1v1h-1zM63 436h7v1h-7zM71 436h1v1h-1zM73 436h6v1h-6zM81 436h1v1h-1zM62 437h1v1h-1zM66 437h1v1h-1zM75 437h1v1h-1z" fill="#ee7a45"/>
<path d="M91.2 345.8h1.2v1.2h-1.2zM46.6 343.5h1.2v1.2h-1.2zM39.6 379h1.2v1.2h-1.2zM78.5 441.6h1.2v1.2h-1.2z" fill="#e05a5e"/>
<path d="M104.6 389.3h1.2v1.2h-1.2zM97.6 371.9h1.2v1.2h-1.2zM87.4 339.4h1.2v1.2h-1.2zM89.4 416.8h1.2v1.2h-1.2zM41 380.3h1.2v1.2h-1.2z" fill="#8ad46e"/>
<path d="M91.8 348.3h1.2v1.2h-1.2zM90.7 344.9h1.2v1.2h-1.2zM94.4 352h1.2v1.2h-1.2zM61.4 335.7h1.2v1.2h-1.2zM54.2 434.2h1.2v1.2h-1.2z" fill="#ee7a45"/>
<path d="M40.8 361.8h1.2v1.2h-1.2zM42.2 392.2h1.2v1.2h-1.2zM51.4 428.8h1.2v1.2h-1.2zM59.9 333.7h1.2v1.2h-1.2z" fill="#4f6bd0"/>
<line x1="32.5" y1="329.4" x2="32.5" y2="441.8" stroke="#333" stroke-width="0.8"/>
<line x1="32.5" y1="441.8" x2="136.8" y2="441.8" stroke="#333" stroke-width="0.8"/>
<line x1="41.2" y1="441.8" x2="41.2" y2="443.8" stroke="#000" stroke-width="0.7"/>
<text x="41.2" y="450.9" font-size="9.0" fill="#111" text-anchor="middle">−5</text>
<line x1="71.9" y1="441.8" x2="71.9" y2="443.8" stroke="#000" stroke-width="0.7"/>
<text x="71.9" y="450.9" font-size="9.0" fill="#111" text-anchor="middle">0</text>
<line x1="102.8" y1="441.8" x2="102.8" y2="443.8" stroke="#000" stroke-width="0.7"/>
<text x="102.8" y="450.9" font-size="9.0" fill="#111" text-anchor="middle">5</text>
<line x1="134.8" y1="441.8" x2="134.8" y2="443.8" stroke="#000" stroke-width="0.7"/>
<text x="134.8" y="450.9" font-size="9.0" fill="#111" text-anchor="middle">10</text>
<line x1="30.5" y1="355.4" x2="32.5" y2="355.4" stroke="#000" stroke-width="0.7"/>
<text x="29.5" y="358.4" font-size="9.0" fill="#111" text-anchor="end">3</text>
<line x1="30.5" y1="384.4" x2="32.5" y2="384.4" stroke="#000" stroke-width="0.7"/>
<text x="29.5" y="387.4" font-size="9.0" fill="#111" text-anchor="end">0</text>
<line x1="30.5" y1="412.3" x2="32.5" y2="412.3" stroke="#000" stroke-width="0.7"/>
<text x="29.5" y="415.3" font-size="9.0" fill="#111" text-anchor="end">−3</text>
<line x1="141" y1="442.3" x2="245.3" y2="442.3" stroke="#333" stroke-width="0.8"/>
<line x1="150" y1="442.3" x2="150" y2="444.3" stroke="#000" stroke-width="0.7"/>
<text x="150" y="451.9" font-size="9.0" fill="#111" text-anchor="middle">−5</text>
<line x1="180" y1="442.3" x2="180" y2="444.3" stroke="#000" stroke-width="0.7"/>
<text x="180" y="451.9" font-size="9.0" fill="#111" text-anchor="middle">0</text>
<line x1="211.6" y1="442.3" x2="211.6" y2="444.3" stroke="#000" stroke-width="0.7"/>
<text x="211.6" y="451.9" font-size="9.0" fill="#111" text-anchor="middle">5</text>
<line x1="244.3" y1="442.3" x2="244.3" y2="444.3" stroke="#000" stroke-width="0.7"/>
<text x="244.3" y="451.9" font-size="9.0" fill="#111" text-anchor="middle">10</text>
<text x="142.2" y="463.3" font-size="9.1" fill="#111" text-anchor="middle">umap_1</text>
<text x="18.2" y="381" font-size="9.1" fill="#111" text-anchor="middle" transform="rotate(-90 18.2 381)">umap_2</text>
<path d="M175.2 401.1h1.4v1.4h-1.4zM174.1 380.6h1.4v1.4h-1.4zM184.2 399.2h1.4v1.4h-1.4zM156.3 365h1.4v1.4h-1.4zM178.6 396.5h1.4v1.4h-1.4zM181.8 404h1.4v1.4h-1.4zM180.1 420.5h1.4v1.4h-1.4zM151.8 376.2h1.4v1.4h-1.4zM177 395.7h1.4v1.4h-1.4zM167.6 399.3h1.4v1.4h-1.4zM171.4 381.4h1.4v1.4h-1.4zM150.4 364h1.4v1.4h-1.4zM169.9 403.7h1.4v1.4h-1.4zM168.4 404.8h1.4v1.4h-1.4zM173.5 413.9h1.4v1.4h-1.4zM178.6 376.5h1.4v1.4h-1.4zM155.6 359.4h1.4v1.4h-1.4zM188.4 405.2h1.4v1.4h-1.4zM178.6 405.1h1.4v1.4h-1.4zM176.6 383h1.4v1.4h-1.4zM160.2 384.2h1.4v1.4h-1.4zM182.1 400.5h1.4v1.4h-1.4zM167.7 385.1h1.4v1.4h-1.4zM166.3 414.2h1.4v1.4h-1.4zM182.9 403.9h1.4v1.4h-1.4zM159 366h1.4v1.4h-1.4zM150.8 367.1h1.4v1.4h-1.4zM160 392.9h1.4v1.4h-1.4zM156.3 377h1.4v1.4h-1.4zM176.1 402.7h1.4v1.4h-1.4zM174 388.3h1.4v1.4h-1.4zM192.7 414.7h1.4v1.4h-1.4zM175.7 418h1.4v1.4h-1.4zM177.9 389.3h1.4v1.4h-1.4zM181.9 407.4h1.4v1.4h-1.4zM175.9 378.5h1.4v1.4h-1.4zM179.8 416.6h1.4v1.4h-1.4zM176.7 410.5h1.4v1.4h-1.4zM175.6 375.3h1.4v1.4h-1.4zM185 401.2h1.4v1.4h-1.4zM160.1 388.4h1.4v1.4h-1.4zM157.6 386.7h1.4v1.4h-1.4zM191.3 410.2h1.4v1.4h-1.4zM181.4 402.3h1.4v1.4h-1.4zM163.8 379.5h1.4v1.4h-1.4zM178.6 390.5h1.4v1.4h-1.4zM183.6 403.6h1.4v1.4h-1.4zM172.9 394.2h1.4v1.4h-1.4zM180.2 387.7h1.4v1.4h-1.4zM174.7 403.2h1.4v1.4h-1.4zM157.9 367.1h1.4v1.4h-1.4zM171 405.4h1.4v1.4h-1.4zM185.2 412h1.4v1.4h-1.4zM169 402.7h1.4v1.4h-1.4zM154.1 381h1.4v1.4h-1.4zM183 379.9h1.4v1.4h-1.4zM165.9 378.4h1.4v1.4h-1.4zM156.5 361h1.4v1.4h-1.4zM189.4 416.1h1.4v1.4h-1.4zM187.3 407.1h1.4v1.4h-1.4zM173 414.3h1.4v1.4h-1.4zM180 390.6h1.4v1.4h-1.4zM161.6 401.3h1.4v1.4h-1.4zM185.6 405.4h1.4v1.4h-1.4zM163 382.1h1.4v1.4h-1.4zM173.7 405.3h1.4v1.4h-1.4zM167.9 418.1h1.4v1.4h-1.4zM169.5 398.8h1.4v1.4h-1.4zM151.1 368.5h1.4v1.4h-1.4zM162.6 379.7h1.4v1.4h-1.4zM157.1 383.1h1.4v1.4h-1.4zM192.3 412.3h1.4v1.4h-1.4zM177.1 420.6h1.4v1.4h-1.4zM181.9 397.4h1.4v1.4h-1.4zM189.2 414.9h1.4v1.4h-1.4zM185.3 401.1h1.4v1.4h-1.4zM185.6 419.1h1.4v1.4h-1.4zM174.7 385.2h1.4v1.4h-1.4zM190.6 415.4h1.4v1.4h-1.4zM166.6 386.4h1.4v1.4h-1.4zM190.4 415.1h1.4v1.4h-1.4zM172.6 389.2h1.4v1.4h-1.4zM180 374.3h1.4v1.4h-1.4zM161.4 373.1h1.4v1.4h-1.4zM184.5 408.5h1.4v1.4h-1.4zM174.2 417.4h1.4v1.4h-1.4zM155.9 375h1.4v1.4h-1.4zM157.7 385.6h1.4v1.4h-1.4zM172.1 382.8h1.4v1.4h-1.4zM165 387.1h1.4v1.4h-1.4zM164.9 380.8h1.4v1.4h-1.4zM153.7 384.9h1.4v1.4h-1.4zM162.3 386.8h1.4v1.4h-1.4zM187.7 418.3h1.4v1.4h-1.4zM185.8 416.5h1.4v1.4h-1.4zM159.7 378.1h1.4v1.4h-1.4zM154.4 374.4h1.4v1.4h-1.4zM161 371h1.4v1.4h-1.4zM172.4 415.1h1.4v1.4h-1.4zM172.9 405.1h1.4v1.4h-1.4zM153.8 383.7h1.4v1.4h-1.4zM167.6 410.9h1.4v1.4h-1.4zM181.2 414.7h1.4v1.4h-1.4zM162.4 381.5h1.4v1.4h-1.4zM168.7 410.9h1.4v1.4h-1.4zM164 410.9h1.4v1.4h-1.4zM170.4 391.2h1.4v1.4h-1.4zM170.3 383.1h1.4v1.4h-1.4zM169.2 384.9h1.4v1.4h-1.4zM170.9 405.8h1.4v1.4h-1.4zM153.4 364.9h1.4v1.4h-1.4zM165.6 385.9h1.4v1.4h-1.4zM164.4 371.7h1.4v1.4h-1.4zM167.3 409.2h1.4v1.4h-1.4zM180.9 385.6h1.4v1.4h-1.4zM181.7 397.6h1.4v1.4h-1.4zM167.1 390.7h1.4v1.4h-1.4zM176.7 400.8h1.4v1.4h-1.4zM159.9 384.7h1.4v1.4h-1.4zM170.6 394.9h1.4v1.4h-1.4zM164.4 372.5h1.4v1.4h-1.4zM183.1 401.1h1.4v1.4h-1.4zM177.9 385.2h1.4v1.4h-1.4zM188.2 416.9h1.4v1.4h-1.4zM169.4 398.1h1.4v1.4h-1.4zM152.3 372.9h1.4v1.4h-1.4zM183.1 398h1.4v1.4h-1.4zM162.2 389.9h1.4v1.4h-1.4zM177.4 405.3h1.4v1.4h-1.4zM177.8 408.9h1.4v1.4h-1.4zM162.9 406.8h1.4v1.4h-1.4zM182.8 418.6h1.4v1.4h-1.4zM172.4 400.3h1.4v1.4h-1.4zM173.8 412.2h1.4v1.4h-1.4zM160.9 401.1h1.4v1.4h-1.4zM182.2 376.6h1.4v1.4h-1.4zM176.2 414.2h1.4v1.4h-1.4zM181.7 377.4h1.4v1.4h-1.4zM184.4 413.7h1.4v1.4h-1.4zM186.7 408.3h1.4v1.4h-1.4zM166.8 405.5h1.4v1.4h-1.4zM183.5 410h1.4v1.4h-1.4zM175.1 415.7h1.4v1.4h-1.4zM172.5 407.2h1.4v1.4h-1.4zM176.3 374.4h1.4v1.4h-1.4zM171.3 409.9h1.4v1.4h-1.4zM182 407.7h1.4v1.4h-1.4zM172.9 402.4h1.4v1.4h-1.4zM177.7 382.8h1.4v1.4h-1.4zM167.3 391.6h1.4v1.4h-1.4zM152.4 363.8h1.4v1.4h-1.4zM178.9 386.7h1.4v1.4h-1.4zM154.3 373.7h1.4v1.4h-1.4zM155.8 371.4h1.4v1.4h-1.4zM156.2 362h1.4v1.4h-1.4zM160.6 381.6h1.4v1.4h-1.4zM165.8 417h1.4v1.4h-1.4zM180.8 410.6h1.4v1.4h-1.4zM178.7 419.3h1.4v1.4h-1.4zM153 357.6h1.4v1.4h-1.4zM170 394.1h1.4v1.4h-1.4zM159.4 373.4h1.4v1.4h-1.4zM180.1 381.2h1.4v1.4h-1.4zM179.7 402.1h1.4v1.4h-1.4zM168.3 375h1.4v1.4h-1.4zM168.6 404.8h1.4v1.4h-1.4zM149.9 368.9h1.4v1.4h-1.4zM165.1 401.6h1.4v1.4h-1.4zM186 409.3h1.4v1.4h-1.4zM183.3 418.5h1.4v1.4h-1.4zM164.4 390.4h1.4v1.4h-1.4zM163.2 382.4h1.4v1.4h-1.4zM168.7 382.4h1.4v1.4h-1.4zM150 369.9h1.4v1.4h-1.4zM158.8 381.1h1.4v1.4h-1.4zM177.6 410.1h1.4v1.4h-1.4zM185.4 412.4h1.4v1.4h-1.4zM154.6 380.3h1.4v1.4h-1.4zM158.9 385.8h1.4v1.4h-1.4zM184.3 408.7h1.4v1.4h-1.4zM182.3 406h1.4v1.4h-1.4zM157.2 365.4h1.4v1.4h-1.4zM171.2 395.8h1.4v1.4h-1.4zM174.9 417h1.4v1.4h-1.4zM171.6 395.1h1.4v1.4h-1.4zM181.5 420.4h1.4v1.4h-1.4zM172.4 385.7h1.4v1.4h-1.4zM176.6 410h1.4v1.4h-1.4zM175.5 417.5h1.4v1.4h-1.4zM161.4 374.1h1.4v1.4h-1.4zM174.4 412.3h1.4v1.4h-1.4zM175.7 377.3h1.4v1.4h-1.4zM163.3 390.1h1.4v1.4h-1.4zM166.1 404.8h1.4v1.4h-1.4zM170.8 387.3h1.4v1.4h-1.4zM158.8 380.1h1.4v1.4h-1.4zM181.5 378.6h1.4v1.4h-1.4zM169.1 392.7h1.4v1.4h-1.4zM161.5 380.9h1.4v1.4h-1.4zM181.4 417.8h1.4v1.4h-1.4zM169.1 398.4h1.4v1.4h-1.4zM184.8 400.8h1.4v1.4h-1.4zM163.1 386.1h1.4v1.4h-1.4zM162.5 401.3h1.4v1.4h-1.4zM188.7 405.2h1.4v1.4h-1.4zM167.5 380.4h1.4v1.4h-1.4zM153.7 381h1.4v1.4h-1.4zM151 363.8h1.4v1.4h-1.4zM162.2 376.6h1.4v1.4h-1.4zM177.1 377.6h1.4v1.4h-1.4zM159.6 395.9h1.4v1.4h-1.4zM168 391.1h1.4v1.4h-1.4zM175.2 390.3h1.4v1.4h-1.4zM169.9 409.1h1.4v1.4h-1.4zM171.4 382.8h1.4v1.4h-1.4zM159.3 396.2h1.4v1.4h-1.4zM171.6 385.8h1.4v1.4h-1.4zM180.2 408.8h1.4v1.4h-1.4zM170.2 387.7h1.4v1.4h-1.4zM159.2 397.1h1.4v1.4h-1.4zM166.4 393h1.4v1.4h-1.4zM174.1 415.9h1.4v1.4h-1.4zM184 416h1.4v1.4h-1.4zM164.6 389.4h1.4v1.4h-1.4zM172.7 393.8h1.4v1.4h-1.4zM180.7 377.3h1.4v1.4h-1.4zM165.4 411.7h1.4v1.4h-1.4zM162.7 380.9h1.4v1.4h-1.4zM158.6 383.6h1.4v1.4h-1.4zM168.4 386.9h1.4v1.4h-1.4zM156.1 371.9h1.4v1.4h-1.4zM154.1 366.9h1.4v1.4h-1.4zM168.4 409.3h1.4v1.4h-1.4zM162.7 382h1.4v1.4h-1.4zM169.5 421h1.4v1.4h-1.4zM176.2 376.9h1.4v1.4h-1.4zM164 410h1.4v1.4h-1.4zM178.1 390.6h1.4v1.4h-1.4zM163 380.2h1.4v1.4h-1.4zM170.4 409.9h1.4v1.4h-1.4zM161.3 393h1.4v1.4h-1.4zM168.7 397.2h1.4v1.4h-1.4zM154.3 384.7h1.4v1.4h-1.4zM170.2 407.1h1.4v1.4h-1.4zM153 372.4h1.4v1.4h-1.4zM156.3 378.4h1.4v1.4h-1.4zM160 395.6h1.4v1.4h-1.4zM159.3 368.7h1.4v1.4h-1.4zM177.4 380.3h1.4v1.4h-1.4zM185.9 409.4h1.4v1.4h-1.4zM170 379.2h1.4v1.4h-1.4zM160.6 388.8h1.4v1.4h-1.4zM162.9 384.3h1.4v1.4h-1.4zM176.5 411.9h1.4v1.4h-1.4zM184.2 381h1.4v1.4h-1.4zM154.6 385.5h1.4v1.4h-1.4zM163 390.7h1.4v1.4h-1.4zM174.6 416.4h1.4v1.4h-1.4zM171.1 394.2h1.4v1.4h-1.4zM192.4 417.1h1.4v1.4h-1.4zM161.3 377.6h1.4v1.4h-1.4zM162.6 405.1h1.4v1.4h-1.4zM169.4 400.1h1.4v1.4h-1.4zM173.3 396.2h1.4v1.4h-1.4zM164.9 385.2h1.4v1.4h-1.4zM172.7 385.1h1.4v1.4h-1.4zM176.2 399.7h1.4v1.4h-1.4zM180.1 410.1h1.4v1.4h-1.4zM188.1 413.4h1.4v1.4h-1.4zM181.2 414.8h1.4v1.4h-1.4zM165.5 406.1h1.4v1.4h-1.4zM159.6 371.2h1.4v1.4h-1.4zM155.6 358.6h1.4v1.4h-1.4zM176.8 407h1.4v1.4h-1.4zM166.7 415.3h1.4v1.4h-1.4zM165.8 395.3h1.4v1.4h-1.4zM157.6 385.7h1.4v1.4h-1.4zM176.2 416.3h1.4v1.4h-1.4zM170.3 411.7h1.4v1.4h-1.4zM171.5 386.6h1.4v1.4h-1.4zM177.2 404.3h1.4v1.4h-1.4zM178.6 416.8h1.4v1.4h-1.4zM176.8 376h1.4v1.4h-1.4zM167.5 382.7h1.4v1.4h-1.4zM159.2 375.3h1.4v1.4h-1.4zM181.9 408.1h1.4v1.4h-1.4zM172.7 405.7h1.4v1.4h-1.4zM163.6 392.5h1.4v1.4h-1.4zM175.5 387.1h1.4v1.4h-1.4zM163.4 379.7h1.4v1.4h-1.4zM178.8 416.4h1.4v1.4h-1.4zM155.1 377.8h1.4v1.4h-1.4zM166 374.4h1.4v1.4h-1.4zM192.6 409.6h1.4v1.4h-1.4zM163.7 382.3h1.4v1.4h-1.4zM167.5 385.4h1.4v1.4h-1.4zM193.5 412h1.4v1.4h-1.4zM156 387.4h1.4v1.4h-1.4zM169.6 399.5h1.4v1.4h-1.4zM186.1 409.4h1.4v1.4h-1.4zM159.6 373.9h1.4v1.4h-1.4zM154.8 369.8h1.4v1.4h-1.4zM150.1 364.2h1.4v1.4h-1.4zM163 398.2h1.4v1.4h-1.4zM176.8 398.6h1.4v1.4h-1.4zM176.7 389.6h1.4v1.4h-1.4zM174 392.7h1.4v1.4h-1.4zM185.7 402.1h1.4v1.4h-1.4zM171 397.5h1.4v1.4h-1.4zM150.5 372.1h1.4v1.4h-1.4zM166.7 403.5h1.4v1.4h-1.4zM178.5 410.9h1.4v1.4h-1.4zM165.1 391h1.4v1.4h-1.4zM151.5 363.1h1.4v1.4h-1.4zM160.1 401.1h1.4v1.4h-1.4zM181.8 384.1h1.4v1.4h-1.4zM167.7 378.5h1.4v1.4h-1.4zM156 383.3h1.4v1.4h-1.4zM177.3 388.5h1.4v1.4h-1.4zM163.9 399.6h1.4v1.4h-1.4zM171.6 413.2h1.4v1.4h-1.4zM191.1 413.8h1.4v1.4h-1.4zM178.7 374.6h1.4v1.4h-1.4zM157.2 373.9h1.4v1.4h-1.4zM166.5 386.9h1.4v1.4h-1.4zM150 364.4h1.4v1.4h-1.4zM160.2 397h1.4v1.4h-1.4zM156.7 377h1.4v1.4h-1.4zM154.5 380h1.4v1.4h-1.4zM151 372h1.4v1.4h-1.4zM175.2 386.4h1.4v1.4h-1.4zM168.6 401h1.4v1.4h-1.4zM182 409.8h1.4v1.4h-1.4zM150 370.5h1.4v1.4h-1.4zM190.3 407.9h1.4v1.4h-1.4zM182.8 381.2h1.4v1.4h-1.4zM166.9 378.3h1.4v1.4h-1.4zM168.1 395.4h1.4v1.4h-1.4zM172.2 388.5h1.4v1.4h-1.4zM167.6 379.6h1.4v1.4h-1.4zM159.1 393.9h1.4v1.4h-1.4zM174 399h1.4v1.4h-1.4zM192.7 411.1h1.4v1.4h-1.4zM184.4 400.9h1.4v1.4h-1.4zM156.5 367.1h1.4v1.4h-1.4zM186.4 406.3h1.4v1.4h-1.4zM176.7 416.7h1.4v1.4h-1.4zM154.3 375h1.4v1.4h-1.4zM155.7 368.8h1.4v1.4h-1.4zM172.8 418.9h1.4v1.4h-1.4zM170.8 415.9h1.4v1.4h-1.4zM153 379.6h1.4v1.4h-1.4zM150.2 360.5h1.4v1.4h-1.4zM179.5 399.6h1.4v1.4h-1.4zM177.8 410.6h1.4v1.4h-1.4zM187.5 411.4h1.4v1.4h-1.4zM169.7 399.4h1.4v1.4h-1.4zM164.7 381.8h1.4v1.4h-1.4zM177.2 377.7h1.4v1.4h-1.4zM179.4 409.7h1.4v1.4h-1.4zM173.4 377.1h1.4v1.4h-1.4zM179.5 374.1h1.4v1.4h-1.4zM182.8 418.7h1.4v1.4h-1.4zM166.3 375.1h1.4v1.4h-1.4zM151.3 358.5h1.4v1.4h-1.4zM168.2 414.3h1.4v1.4h-1.4zM152.2 375.2h1.4v1.4h-1.4zM175.5 403.1h1.4v1.4h-1.4zM159.8 393.9h1.4v1.4h-1.4zM156.1 357.8h1.4v1.4h-1.4zM184.2 407.2h1.4v1.4h-1.4zM170.3 390.8h1.4v1.4h-1.4zM152.3 371.8h1.4v1.4h-1.4zM162.1 406.3h1.4v1.4h-1.4zM154.3 373.9h1.4v1.4h-1.4zM180.3 412.8h1.4v1.4h-1.4zM172 415.6h1.4v1.4h-1.4zM176.7 389.6h1.4v1.4h-1.4zM162.9 371.1h1.4v1.4h-1.4zM154.8 361.6h1.4v1.4h-1.4zM173.9 400.1h1.4v1.4h-1.4zM150.1 367.5h1.4v1.4h-1.4zM173.1 386.6h1.4v1.4h-1.4zM154.4 380.2h1.4v1.4h-1.4zM176.5 420.3h1.4v1.4h-1.4zM154.6 365.2h1.4v1.4h-1.4zM176.9 418.1h1.4v1.4h-1.4zM163.6 397.3h1.4v1.4h-1.4zM177.8 394.2h1.4v1.4h-1.4zM169.5 396.9h1.4v1.4h-1.4zM193.3 412.2h1.4v1.4h-1.4zM181.1 407.7h1.4v1.4h-1.4zM169.6 408.6h1.4v1.4h-1.4zM158.9 397.7h1.4v1.4h-1.4zM172.1 378.2h1.4v1.4h-1.4zM160.2 382.2h1.4v1.4h-1.4zM157.8 374.3h1.4v1.4h-1.4zM154.8 376.7h1.4v1.4h-1.4zM190 416.9h1.4v1.4h-1.4zM173.4 385.5h1.4v1.4h-1.4zM182.6 421h1.4v1.4h-1.4zM166.8 411.6h1.4v1.4h-1.4zM178.9 406.5h1.4v1.4h-1.4zM181.6 407.1h1.4v1.4h-1.4zM166.4 403.8h1.4v1.4h-1.4zM163.8 383.3h1.4v1.4h-1.4zM159.1 371.5h1.4v1.4h-1.4zM152.6 379.2h1.4v1.4h-1.4zM158 375.9h1.4v1.4h-1.4zM173.7 407.8h1.4v1.4h-1.4zM171 376.3h1.4v1.4h-1.4zM159.6 391.7h1.4v1.4h-1.4zM181.1 378.9h1.4v1.4h-1.4zM184.3 381.4h1.4v1.4h-1.4zM176.8 384.4h1.4v1.4h-1.4zM161.6 400.2h1.4v1.4h-1.4zM170.9 375.8h1.4v1.4h-1.4zM173.9 414.8h1.4v1.4h-1.4zM179.3 388.2h1.4v1.4h-1.4zM169.7 375.7h1.4v1.4h-1.4zM174.6 392.9h1.4v1.4h-1.4zM182.3 414.2h1.4v1.4h-1.4zM193.7 412.3h1.4v1.4h-1.4zM173.8 402.6h1.4v1.4h-1.4zM150.3 367.7h1.4v1.4h-1.4zM178.9 408.2h1.4v1.4h-1.4zM163.2 388.9h1.4v1.4h-1.4zM175.5 418.4h1.4v1.4h-1.4zM164.6 400h1.4v1.4h-1.4zM167.7 386.6h1.4v1.4h-1.4zM154.7 378.7h1.4v1.4h-1.4zM154.2 356.9h1.4v1.4h-1.4zM182.3 403.3h1.4v1.4h-1.4zM181 389.5h1.4v1.4h-1.4zM175.3 403h1.4v1.4h-1.4zM185.1 407.9h1.4v1.4h-1.4zM155.2 382.9h1.4v1.4h-1.4zM166 373.3h1.4v1.4h-1.4zM165.6 394.4h1.4v1.4h-1.4zM156 385.6h1.4v1.4h-1.4zM170.4 414.3h1.4v1.4h-1.4zM180 384.4h1.4v1.4h-1.4zM161.2 371.2h1.4v1.4h-1.4zM162.3 408.9h1.4v1.4h-1.4zM175.5 403.6h1.4v1.4h-1.4zM160.5 366.1h1.4v1.4h-1.4zM151.7 376.7h1.4v1.4h-1.4zM177.1 374.3h1.4v1.4h-1.4zM176.8 394.8h1.4v1.4h-1.4zM169.7 378.2h1.4v1.4h-1.4zM160.3 399.6h1.4v1.4h-1.4zM168.2 398.9h1.4v1.4h-1.4zM157.9 386.6h1.4v1.4h-1.4zM191.2 413.5h1.4v1.4h-1.4zM159.6 390.1h1.4v1.4h-1.4zM188.6 413.9h1.4v1.4h-1.4zM182.4 413.8h1.4v1.4h-1.4zM156.8 368.9h1.4v1.4h-1.4zM157.3 366.4h1.4v1.4h-1.4zM150.5 370.2h1.4v1.4h-1.4zM162 379h1.4v1.4h-1.4zM183.1 418.7h1.4v1.4h-1.4zM174.6 418.7h1.4v1.4h-1.4zM177.3 394.5h1.4v1.4h-1.4zM189.4 407.1h1.4v1.4h-1.4zM173.6 416.3h1.4v1.4h-1.4zM187.6 405.6h1.4v1.4h-1.4zM178.4 410h1.4v1.4h-1.4zM162.8 394h1.4v1.4h-1.4zM156.5 364.1h1.4v1.4h-1.4zM167.3 389.2h1.4v1.4h-1.4zM191.8 416.3h1.4v1.4h-1.4zM184.4 382.6h1.4v1.4h-1.4zM182.4 410.5h1.4v1.4h-1.4zM175.1 411.1h1.4v1.4h-1.4zM175.3 383.5h1.4v1.4h-1.4zM152.2 366.1h1.4v1.4h-1.4zM180.9 374.9h1.4v1.4h-1.4zM177.8 402.7h1.4v1.4h-1.4zM169.8 385.5h1.4v1.4h-1.4zM168.7 417.9h1.4v1.4h-1.4zM174.1 381.4h1.4v1.4h-1.4zM157.2 360.7h1.4v1.4h-1.4zM164.5 371.6h1.4v1.4h-1.4zM181.5 378.2h1.4v1.4h-1.4zM191.9 407.5h1.4v1.4h-1.4zM182.6 420.1h1.4v1.4h-1.4zM171.8 399.3h1.4v1.4h-1.4zM184.1 407.5h1.4v1.4h-1.4zM168.4 380.3h1.4v1.4h-1.4zM176 396.9h1.4v1.4h-1.4zM167.2 375.4h1.4v1.4h-1.4zM167.4 393.6h1.4v1.4h-1.4zM169.9 377.7h1.4v1.4h-1.4zM172.3 402h1.4v1.4h-1.4zM152.6 378.6h1.4v1.4h-1.4zM165.5 387.8h1.4v1.4h-1.4zM183.8 398.3h1.4v1.4h-1.4zM176.7 389.9h1.4v1.4h-1.4zM191 411.9h1.4v1.4h-1.4zM170.5 409.4h1.4v1.4h-1.4zM190.6 416.9h1.4v1.4h-1.4zM189.9 416.9h1.4v1.4h-1.4zM165.9 404.2h1.4v1.4h-1.4zM167.2 416.7h1.4v1.4h-1.4zM175.8 407.1h1.4v1.4h-1.4zM156.5 365.8h1.4v1.4h-1.4zM183.1 403.9h1.4v1.4h-1.4zM179.1 384.1h1.4v1.4h-1.4zM173 379.3h1.4v1.4h-1.4zM174.8 392.4h1.4v1.4h-1.4zM181.8 387.6h1.4v1.4h-1.4zM166.5 394.7h1.4v1.4h-1.4zM151.9 380.8h1.4v1.4h-1.4zM182.3 416.1h1.4v1.4h-1.4zM181.9 413.6h1.4v1.4h-1.4zM179.3 408.3h1.4v1.4h-1.4zM155.9 365.3h1.4v1.4h-1.4zM177.3 380.3h1.4v1.4h-1.4zM181.5 416.6h1.4v1.4h-1.4zM177.7 415.9h1.4v1.4h-1.4zM181.1 418.7h1.4v1.4h-1.4zM171.5 404.7h1.4v1.4h-1.4zM156.3 369.7h1.4v1.4h-1.4zM178.4 401.6h1.4v1.4h-1.4zM182 379h1.4v1.4h-1.4zM172.1 415.6h1.4v1.4h-1.4zM168.7 410.5h1.4v1.4h-1.4zM179.7 387.1h1.4v1.4h-1.4zM185 406.2h1.4v1.4h-1.4zM167.7 376.8h1.4v1.4h-1.4zM179 404.2h1.4v1.4h-1.4zM166.8 406.7h1.4v1.4h-1.4zM154.8 387.7h1.4v1.4h-1.4zM167.3 381.2h1.4v1.4h-1.4zM173.6 389.1h1.4v1.4h-1.4zM178.9 397.5h1.4v1.4h-1.4zM180.1 385.7h1.4v1.4h-1.4zM192 413h1.4v1.4h-1.4zM182.9 403.7h1.4v1.4h-1.4zM163.9 390.9h1.4v1.4h-1.4zM177.8 401.8h1.4v1.4h-1.4zM165.2 377.8h1.4v1.4h-1.4zM181.5 407.9h1.4v1.4h-1.4zM179.8 386.7h1.4v1.4h-1.4zM171.6 396h1.4v1.4h-1.4zM170.8 387.1h1.4v1.4h-1.4zM159.9 374.8h1.4v1.4h-1.4zM172.1 381h1.4v1.4h-1.4zM154.6 362h1.4v1.4h-1.4zM156.8 375.7h1.4v1.4h-1.4zM193.7 409h1.4v1.4h-1.4zM172.8 382.5h1.4v1.4h-1.4zM162.6 405.3h1.4v1.4h-1.4zM167.8 419.1h1.4v1.4h-1.4zM169.2 393.3h1.4v1.4h-1.4zM175.1 418.7h1.4v1.4h-1.4zM151.9 373.7h1.4v1.4h-1.4zM173.6 386.5h1.4v1.4h-1.4zM175 413.9h1.4v1.4h-1.4z" fill="#4f6bd0"/>
<path d="M180.7 365.7h1.4v1.4h-1.4zM162.5 365.3h1.4v1.4h-1.4zM173.3 362.2h1.4v1.4h-1.4zM171.4 363.8h1.4v1.4h-1.4zM191.9 353.2h1.4v1.4h-1.4zM175.7 356.6h1.4v1.4h-1.4zM181.2 345.6h1.4v1.4h-1.4zM162.7 355.3h1.4v1.4h-1.4zM169.7 362.6h1.4v1.4h-1.4zM183.3 355.5h1.4v1.4h-1.4zM164.2 347.6h1.4v1.4h-1.4zM189.7 354.3h1.4v1.4h-1.4zM193.5 354.5h1.4v1.4h-1.4zM179.2 336.5h1.4v1.4h-1.4zM178.8 338.8h1.4v1.4h-1.4zM176.4 336.5h1.4v1.4h-1.4zM180.3 359.6h1.4v1.4h-1.4zM182.2 337.9h1.4v1.4h-1.4zM179.4 335.1h1.4v1.4h-1.4zM165.6 364.3h1.4v1.4h-1.4zM187.8 356.3h1.4v1.4h-1.4zM173.4 355.2h1.4v1.4h-1.4zM169.3 348.4h1.4v1.4h-1.4zM174.5 336h1.4v1.4h-1.4zM156.8 353.9h1.4v1.4h-1.4zM158.6 358.5h1.4v1.4h-1.4zM184.9 340.6h1.4v1.4h-1.4zM164.9 350.5h1.4v1.4h-1.4zM168 344.6h1.4v1.4h-1.4zM176 345.8h1.4v1.4h-1.4zM170.2 363h1.4v1.4h-1.4zM169 338.5h1.4v1.4h-1.4zM178.1 337.6h1.4v1.4h-1.4zM194.7 360.7h1.4v1.4h-1.4zM176.4 357.4h1.4v1.4h-1.4zM161.4 358.5h1.4v1.4h-1.4zM156.6 358.1h1.4v1.4h-1.4zM188.7 342.9h1.4v1.4h-1.4zM159 355.4h1.4v1.4h-1.4zM192.5 356.7h1.4v1.4h-1.4zM191.9 361h1.4v1.4h-1.4zM164.1 356.1h1.4v1.4h-1.4zM183.5 351.4h1.4v1.4h-1.4zM169.3 354.2h1.4v1.4h-1.4zM173.8 351.5h1.4v1.4h-1.4zM172.2 343h1.4v1.4h-1.4zM180.9 359.9h1.4v1.4h-1.4zM188.4 355.8h1.4v1.4h-1.4zM172 355.3h1.4v1.4h-1.4zM187.1 345h1.4v1.4h-1.4zM186.3 337.2h1.4v1.4h-1.4zM178.4 342h1.4v1.4h-1.4zM168.8 368.4h1.4v1.4h-1.4zM173.8 349.8h1.4v1.4h-1.4zM178.8 351.5h1.4v1.4h-1.4zM173.3 339.1h1.4v1.4h-1.4zM172.6 364.4h1.4v1.4h-1.4zM188.8 357.7h1.4v1.4h-1.4zM175.5 362.1h1.4v1.4h-1.4zM171.1 351.6h1.4v1.4h-1.4zM195.9 359.7h1.4v1.4h-1.4zM174.1 364.9h1.4v1.4h-1.4zM165.8 351.8h1.4v1.4h-1.4zM190.9 361.7h1.4v1.4h-1.4zM180.8 363.4h1.4v1.4h-1.4zM162.7 363.3h1.4v1.4h-1.4zM185.1 338.6h1.4v1.4h-1.4zM187.1 350h1.4v1.4h-1.4zM184.4 353.7h1.4v1.4h-1.4zM188 338.4h1.4v1.4h-1.4zM185.3 346.3h1.4v1.4h-1.4zM170.2 343.4h1.4v1.4h-1.4zM192.1 359.3h1.4v1.4h-1.4zM177.2 347.2h1.4v1.4h-1.4zM173.7 340.3h1.4v1.4h-1.4zM169.3 354.5h1.4v1.4h-1.4zM166.8 365h1.4v1.4h-1.4zM180.5 353.7h1.4v1.4h-1.4zM161 350.4h1.4v1.4h-1.4zM169.2 351.3h1.4v1.4h-1.4zM181.8 344.3h1.4v1.4h-1.4zM186.5 356.4h1.4v1.4h-1.4zM169.8 352.3h1.4v1.4h-1.4zM197.3 357.1h1.4v1.4h-1.4zM187.2 347.1h1.4v1.4h-1.4zM185.8 344.4h1.4v1.4h-1.4zM190.8 364.8h1.4v1.4h-1.4zM190.3 354.7h1.4v1.4h-1.4zM190 353.4h1.4v1.4h-1.4zM172.2 336.2h1.4v1.4h-1.4zM177.9 359.2h1.4v1.4h-1.4zM174.4 343h1.4v1.4h-1.4zM176.4 338.1h1.4v1.4h-1.4zM170.6 355.3h1.4v1.4h-1.4zM178.4 338.8h1.4v1.4h-1.4zM189.7 362.1h1.4v1.4h-1.4zM168.1 358.9h1.4v1.4h-1.4zM183.2 357h1.4v1.4h-1.4zM175.1 337.1h1.4v1.4h-1.4zM159.7 356.1h1.4v1.4h-1.4zM169.9 335.3h1.4v1.4h-1.4zM165.1 364.1h1.4v1.4h-1.4zM168.4 368.3h1.4v1.4h-1.4zM184.8 344h1.4v1.4h-1.4zM167.5 342.7h1.4v1.4h-1.4zM185.1 352.3h1.4v1.4h-1.4zM161.7 365.7h1.4v1.4h-1.4zM178.6 362.1h1.4v1.4h-1.4zM170.9 353.1h1.4v1.4h-1.4zM188 347.4h1.4v1.4h-1.4zM176.8 342.8h1.4v1.4h-1.4zM168 343.6h1.4v1.4h-1.4zM189 363.2h1.4v1.4h-1.4zM191.6 360.9h1.4v1.4h-1.4zM180.9 336.2h1.4v1.4h-1.4zM193.8 362.7h1.4v1.4h-1.4zM166.9 357.7h1.4v1.4h-1.4zM180.4 357.6h1.4v1.4h-1.4zM180.1 340.1h1.4v1.4h-1.4zM164 348h1.4v1.4h-1.4zM183.6 340h1.4v1.4h-1.4zM185.6 363.6h1.4v1.4h-1.4zM174.9 341h1.4v1.4h-1.4zM167.2 352h1.4v1.4h-1.4zM186.5 357.7h1.4v1.4h-1.4zM164.8 362.9h1.4v1.4h-1.4zM180.6 339.4h1.4v1.4h-1.4zM163.4 354.8h1.4v1.4h-1.4zM178 344.4h1.4v1.4h-1.4zM164.1 360.1h1.4v1.4h-1.4zM178.2 361.6h1.4v1.4h-1.4zM171.4 340.2h1.4v1.4h-1.4zM186.4 359.9h1.4v1.4h-1.4zM169.7 365.4h1.4v1.4h-1.4zM183.6 358.9h1.4v1.4h-1.4zM158.9 352.9h1.4v1.4h-1.4zM174 362h1.4v1.4h-1.4zM183.7 356.2h1.4v1.4h-1.4zM160.2 359.7h1.4v1.4h-1.4zM182 359.9h1.4v1.4h-1.4zM179.3 336.4h1.4v1.4h-1.4zM182.8 364.6h1.4v1.4h-1.4zM165.8 348.9h1.4v1.4h-1.4zM175.1 370.9h1.4v1.4h-1.4zM175.4 354.5h1.4v1.4h-1.4zM188.9 355.4h1.4v1.4h-1.4zM191.4 357.7h1.4v1.4h-1.4zM176.6 334.6h1.4v1.4h-1.4zM157.9 355.9h1.4v1.4h-1.4zM188.9 362.8h1.4v1.4h-1.4zM166.4 342.9h1.4v1.4h-1.4zM171.8 363.5h1.4v1.4h-1.4zM178.7 347h1.4v1.4h-1.4zM187.3 344.6h1.4v1.4h-1.4zM160.9 348.8h1.4v1.4h-1.4zM164 360.5h1.4v1.4h-1.4zM184.3 352.8h1.4v1.4h-1.4zM179.5 362h1.4v1.4h-1.4zM184.7 352.2h1.4v1.4h-1.4zM172.5 346.6h1.4v1.4h-1.4zM157.8 353.8h1.4v1.4h-1.4zM179.2 362.4h1.4v1.4h-1.4zM170.8 355.1h1.4v1.4h-1.4zM163.2 368.3h1.4v1.4h-1.4zM183.2 338.3h1.4v1.4h-1.4zM167.7 355.5h1.4v1.4h-1.4zM173.7 363.7h1.4v1.4h-1.4zM176.6 358.2h1.4v1.4h-1.4zM169.2 368.5h1.4v1.4h-1.4zM175.7 355.6h1.4v1.4h-1.4zM171.6 355.2h1.4v1.4h-1.4zM166.7 366.2h1.4v1.4h-1.4zM167.1 361.7h1.4v1.4h-1.4zM176.4 335.4h1.4v1.4h-1.4zM169.4 339.8h1.4v1.4h-1.4zM197.2 359.4h1.4v1.4h-1.4zM177.9 354.4h1.4v1.4h-1.4zM165.8 363.4h1.4v1.4h-1.4zM169.1 372.5h1.4v1.4h-1.4zM160 363.2h1.4v1.4h-1.4zM189.3 361.2h1.4v1.4h-1.4zM187.2 360.4h1.4v1.4h-1.4zM178.4 366h1.4v1.4h-1.4zM164.4 370h1.4v1.4h-1.4zM175.4 371.5h1.4v1.4h-1.4zM173 363.8h1.4v1.4h-1.4zM194.4 363.3h1.4v1.4h-1.4zM191.2 353.8h1.4v1.4h-1.4zM186.3 337.6h1.4v1.4h-1.4zM171.4 363.5h1.4v1.4h-1.4zM171.3 353.5h1.4v1.4h-1.4zM186.2 341.4h1.4v1.4h-1.4zM183.8 345.9h1.4v1.4h-1.4zM170.3 357.4h1.4v1.4h-1.4zM180.9 345.6h1.4v1.4h-1.4zM186.1 346.7h1.4v1.4h-1.4zM174.7 364.4h1.4v1.4h-1.4zM178.2 368.6h1.4v1.4h-1.4zM184.3 340.1h1.4v1.4h-1.4zM176.8 354.6h1.4v1.4h-1.4zM169.6 369.2h1.4v1.4h-1.4zM174.1 352.2h1.4v1.4h-1.4zM178.1 366.6h1.4v1.4h-1.4zM183.6 341.9h1.4v1.4h-1.4zM167 355.1h1.4v1.4h-1.4zM175.5 351.3h1.4v1.4h-1.4zM170.8 357.8h1.4v1.4h-1.4zM171 335.2h1.4v1.4h-1.4zM178.3 338.9h1.4v1.4h-1.4zM182.7 343.6h1.4v1.4h-1.4zM174.1 363.5h1.4v1.4h-1.4zM162.7 350.4h1.4v1.4h-1.4zM177.4 351.9h1.4v1.4h-1.4zM173 370.2h1.4v1.4h-1.4zM170.3 352h1.4v1.4h-1.4zM170.2 359.8h1.4v1.4h-1.4zM171.6 365.9h1.4v1.4h-1.4zM175.4 352.6h1.4v1.4h-1.4zM167.4 352.7h1.4v1.4h-1.4zM183.2 349.1h1.4v1.4h-1.4zM182.6 341.9h1.4v1.4h-1.4zM164.8 351.8h1.4v1.4h-1.4zM192.3 358.6h1.4v1.4h-1.4zM185.7 339.1h1.4v1.4h-1.4zM174.9 363.1h1.4v1.4h-1.4zM168.8 348h1.4v1.4h-1.4zM179.1 356.5h1.4v1.4h-1.4zM187.1 356.2h1.4v1.4h-1.4zM177.8 343.8h1.4v1.4h-1.4zM171.9 361.3h1.4v1.4h-1.4zM192.5 358.4h1.4v1.4h-1.4zM185.6 350h1.4v1.4h-1.4zM186.1 346.6h1.4v1.4h-1.4zM183.6 362h1.4v1.4h-1.4zM175 335.5h1.4v1.4h-1.4zM171 347.7h1.4v1.4h-1.4zM163.3 356.4h1.4v1.4h-1.4zM185.8 354.1h1.4v1.4h-1.4zM169.4 341.3h1.4v1.4h-1.4zM166.3 354.7h1.4v1.4h-1.4zM166.8 357h1.4v1.4h-1.4zM189.6 353.4h1.4v1.4h-1.4zM177.3 342.8h1.4v1.4h-1.4zM179.5 340h1.4v1.4h-1.4zM173.9 339.8h1.4v1.4h-1.4zM177 342.7h1.4v1.4h-1.4zM189.9 352.6h1.4v1.4h-1.4zM167.8 358.7h1.4v1.4h-1.4zM182 350.8h1.4v1.4h-1.4zM164.4 347h1.4v1.4h-1.4zM182.5 336.1h1.4v1.4h-1.4zM159.4 353h1.4v1.4h-1.4zM180.8 353.8h1.4v1.4h-1.4zM187.2 357.6h1.4v1.4h-1.4zM177 361.7h1.4v1.4h-1.4zM189.8 356.7h1.4v1.4h-1.4zM169.8 343.7h1.4v1.4h-1.4zM178.5 354.6h1.4v1.4h-1.4zM185.2 338.1h1.4v1.4h-1.4zM167.8 356.6h1.4v1.4h-1.4zM164 367.3h1.4v1.4h-1.4zM168.1 344.6h1.4v1.4h-1.4zM171.5 338h1.4v1.4h-1.4zM176.9 367.9h1.4v1.4h-1.4zM175 340.4h1.4v1.4h-1.4zM189.1 342h1.4v1.4h-1.4zM192.7 353.6h1.4v1.4h-1.4zM178.5 360.4h1.4v1.4h-1.4zM174.1 368.6h1.4v1.4h-1.4zM165.5 357.1h1.4v1.4h-1.4zM162.5 351.5h1.4v1.4h-1.4zM181.7 354.8h1.4v1.4h-1.4zM181 344.8h1.4v1.4h-1.4zM160.9 356.6h1.4v1.4h-1.4zM180.6 350.4h1.4v1.4h-1.4zM169.9 351.5h1.4v1.4h-1.4zM186.5 348.1h1.4v1.4h-1.4zM164 359.5h1.4v1.4h-1.4zM184 343.9h1.4v1.4h-1.4zM173.6 346.1h1.4v1.4h-1.4zM172.1 342.1h1.4v1.4h-1.4zM171.2 344.3h1.4v1.4h-1.4zM173.3 349.2h1.4v1.4h-1.4zM187.2 361.3h1.4v1.4h-1.4zM176.6 347.4h1.4v1.4h-1.4zM194.6 360.2h1.4v1.4h-1.4zM189.2 344.5h1.4v1.4h-1.4zM170.8 347.5h1.4v1.4h-1.4zM196.1 359.5h1.4v1.4h-1.4zM177.9 366.7h1.4v1.4h-1.4zM170.9 342.9h1.4v1.4h-1.4zM172.1 336.3h1.4v1.4h-1.4zM198.4 359.2h1.4v1.4h-1.4zM169.9 364.2h1.4v1.4h-1.4zM164.9 364.9h1.4v1.4h-1.4zM175.6 354.2h1.4v1.4h-1.4zM174.1 367.5h1.4v1.4h-1.4zM175.1 356.1h1.4v1.4h-1.4zM176.1 370.5h1.4v1.4h-1.4zM173.9 356.3h1.4v1.4h-1.4zM159.1 349.2h1.4v1.4h-1.4zM171.6 350.8h1.4v1.4h-1.4zM185.7 346.9h1.4v1.4h-1.4zM182.1 336.4h1.4v1.4h-1.4zM167.4 349.3h1.4v1.4h-1.4zM175.8 371.2h1.4v1.4h-1.4zM185.5 360.9h1.4v1.4h-1.4zM196.2 361.3h1.4v1.4h-1.4zM161.3 354.9h1.4v1.4h-1.4zM173 336.8h1.4v1.4h-1.4zM187.4 356.5h1.4v1.4h-1.4zM176 370.3h1.4v1.4h-1.4zM175.3 344h1.4v1.4h-1.4zM168.8 340.7h1.4v1.4h-1.4zM192.5 362.9h1.4v1.4h-1.4zM188.6 364.2h1.4v1.4h-1.4zM182.6 351.4h1.4v1.4h-1.4zM177.6 363.8h1.4v1.4h-1.4zM168.9 364h1.4v1.4h-1.4zM192.9 353.3h1.4v1.4h-1.4zM175.2 369.5h1.4v1.4h-1.4zM192.9 358.8h1.4v1.4h-1.4zM177.6 355.5h1.4v1.4h-1.4zM164.7 369h1.4v1.4h-1.4zM170.1 342.2h1.4v1.4h-1.4zM184 358.6h1.4v1.4h-1.4zM182.3 335.8h1.4v1.4h-1.4zM172.9 359.2h1.4v1.4h-1.4zM182.2 361.7h1.4v1.4h-1.4zM183.7 352.4h1.4v1.4h-1.4zM173 337.2h1.4v1.4h-1.4zM182.9 358.4h1.4v1.4h-1.4zM178.3 334.9h1.4v1.4h-1.4zM180.8 348.7h1.4v1.4h-1.4zM195.6 361h1.4v1.4h-1.4zM179.5 342.6h1.4v1.4h-1.4zM175.1 338.2h1.4v1.4h-1.4zM184 359.8h1.4v1.4h-1.4zM192.4 362.6h1.4v1.4h-1.4zM173 362.1h1.4v1.4h-1.4zM174.8 358.8h1.4v1.4h-1.4zM173.2 343.9h1.4v1.4h-1.4zM175.6 357.3h1.4v1.4h-1.4zM197.2 358.3h1.4v1.4h-1.4zM188.1 341.8h1.4v1.4h-1.4zM197.1 358.4h1.4v1.4h-1.4zM168 367.1h1.4v1.4h-1.4zM174.6 358.3h1.4v1.4h-1.4zM195.1 356.2h1.4v1.4h-1.4zM170.8 365.6h1.4v1.4h-1.4zM167.7 344.3h1.4v1.4h-1.4zM188.4 352.4h1.4v1.4h-1.4zM178.5 359h1.4v1.4h-1.4zM168.1 362.3h1.4v1.4h-1.4zM173.6 350.7h1.4v1.4h-1.4zM157.8 360.2h1.4v1.4h-1.4zM181.3 349.3h1.4v1.4h-1.4zM157.4 348.8h1.4v1.4h-1.4zM166.2 343.3h1.4v1.4h-1.4zM180.6 353.4h1.4v1.4h-1.4zM169.5 362h1.4v1.4h-1.4zM178.5 340.2h1.4v1.4h-1.4zM166.8 347.7h1.4v1.4h-1.4zM177 367.2h1.4v1.4h-1.4zM189.5 341.4h1.4v1.4h-1.4zM167.6 346.1h1.4v1.4h-1.4zM187.7 360.6h1.4v1.4h-1.4zM166.9 353.9h1.4v1.4h-1.4zM171.6 344.8h1.4v1.4h-1.4zM172.4 348.9h1.4v1.4h-1.4zM175.7 365.3h1.4v1.4h-1.4zM192.5 359.1h1.4v1.4h-1.4zM192.9 361.8h1.4v1.4h-1.4zM177.2 363.5h1.4v1.4h-1.4zM178.7 336.8h1.4v1.4h-1.4zM171.2 372.3h1.4v1.4h-1.4zM166.9 353h1.4v1.4h-1.4zM184.9 338.4h1.4v1.4h-1.4zM172.6 372.7h1.4v1.4h-1.4zM159.7 353.6h1.4v1.4h-1.4zM171.1 347h1.4v1.4h-1.4zM191 352.1h1.4v1.4h-1.4zM176.1 367.8h1.4v1.4h-1.4zM181.7 342.3h1.4v1.4h-1.4zM173.7 356h1.4v1.4h-1.4zM180.6 339h1.4v1.4h-1.4zM161.2 356.6h1.4v1.4h-1.4zM157.6 357.2h1.4v1.4h-1.4zM187.2 346.8h1.4v1.4h-1.4zM167.2 350.1h1.4v1.4h-1.4zM164.4 355.3h1.4v1.4h-1.4zM170.9 340.1h1.4v1.4h-1.4zM158.8 355.4h1.4v1.4h-1.4zM159 361.2h1.4v1.4h-1.4zM170.7 357.4h1.4v1.4h-1.4zM177.4 360.5h1.4v1.4h-1.4zM190.8 363.9h1.4v1.4h-1.4zM176.1 340.1h1.4v1.4h-1.4zM158.5 350.4h1.4v1.4h-1.4zM172.8 356.7h1.4v1.4h-1.4zM174.2 346.3h1.4v1.4h-1.4zM167.8 342.2h1.4v1.4h-1.4zM165.7 363.3h1.4v1.4h-1.4zM187.6 362.7h1.4v1.4h-1.4zM179.2 347.9h1.4v1.4h-1.4zM162.7 353.5h1.4v1.4h-1.4zM177 345.2h1.4v1.4h-1.4zM188.1 347.9h1.4v1.4h-1.4zM165.3 369.3h1.4v1.4h-1.4zM164.9 346.1h1.4v1.4h-1.4zM174.3 365.9h1.4v1.4h-1.4zM168.8 369.4h1.4v1.4h-1.4zM193 357.5h1.4v1.4h-1.4zM163.3 365.8h1.4v1.4h-1.4zM185.9 338.5h1.4v1.4h-1.4zM172.4 350.8h1.4v1.4h-1.4zM171.1 342.1h1.4v1.4h-1.4zM179.6 358.9h1.4v1.4h-1.4zM183.9 345.8h1.4v1.4h-1.4zM183.2 362.8h1.4v1.4h-1.4zM162.7 359.1h1.4v1.4h-1.4zM172.3 360.1h1.4v1.4h-1.4zM182.3 340.7h1.4v1.4h-1.4zM161.5 356.1h1.4v1.4h-1.4zM170.1 339.9h1.4v1.4h-1.4zM175.1 366.3h1.4v1.4h-1.4zM166.8 346.5h1.4v1.4h-1.4zM171.7 346.7h1.4v1.4h-1.4zM159.9 351.7h1.4v1.4h-1.4zM185.1 339.5h1.4v1.4h-1.4zM170.8 342h1.4v1.4h-1.4zM179.6 355.1h1.4v1.4h-1.4zM170 335.5h1.4v1.4h-1.4zM173.3 371.8h1.4v1.4h-1.4zM158.6 350.8h1.4v1.4h-1.4zM196 356.1h1.4v1.4h-1.4zM182.4 340.2h1.4v1.4h-1.4zM158.1 354.1h1.4v1.4h-1.4zM178.7 362.9h1.4v1.4h-1.4zM168.8 343.8h1.4v1.4h-1.4zM167.6 343.7h1.4v1.4h-1.4zM178.2 365.5h1.4v1.4h-1.4zM175 338.3h1.4v1.4h-1.4zM156.5 350h1.4v1.4h-1.4zM167.4 361.3h1.4v1.4h-1.4zM166 354.9h1.4v1.4h-1.4zM159.8 348.7h1.4v1.4h-1.4zM175.3 340.4h1.4v1.4h-1.4zM178.2 364.4h1.4v1.4h-1.4zM158.9 360.9h1.4v1.4h-1.4zM168 340.2h1.4v1.4h-1.4zM177.7 362.9h1.4v1.4h-1.4zM156.8 352.2h1.4v1.4h-1.4zM178.2 367.3h1.4v1.4h-1.4zM175.3 344.8h1.4v1.4h-1.4zM173.5 373.7h1.4v1.4h-1.4zM171 353.1h1.4v1.4h-1.4zM156.6 358h1.4v1.4h-1.4zM173.8 356.5h1.4v1.4h-1.4zM167.4 347.5h1.4v1.4h-1.4zM168.4 344h1.4v1.4h-1.4zM191.4 352h1.4v1.4h-1.4zM192.5 363.8h1.4v1.4h-1.4zM184 343.3h1.4v1.4h-1.4zM176.1 356.6h1.4v1.4h-1.4zM172.3 336.1h1.4v1.4h-1.4zM169.6 373.8h1.4v1.4h-1.4zM177.3 353.3h1.4v1.4h-1.4zM175.1 335h1.4v1.4h-1.4zM164.5 352.4h1.4v1.4h-1.4zM176.1 343.4h1.4v1.4h-1.4zM176.6 335.1h1.4v1.4h-1.4zM179.2 343.2h1.4v1.4h-1.4zM193.3 361.3h1.4v1.4h-1.4zM180 366h1.4v1.4h-1.4zM177.3 368.4h1.4v1.4h-1.4zM173.9 366h1.4v1.4h-1.4zM188 360.1h1.4v1.4h-1.4zM188.2 358.8h1.4v1.4h-1.4zM168.1 370.7h1.4v1.4h-1.4zM182.2 340.4h1.4v1.4h-1.4zM192.2 363.5h1.4v1.4h-1.4zM195.1 355.1h1.4v1.4h-1.4zM170.5 366h1.4v1.4h-1.4zM191.9 362.7h1.4v1.4h-1.4zM187.3 362.7h1.4v1.4h-1.4zM157.1 351.7h1.4v1.4h-1.4zM167 357h1.4v1.4h-1.4zM183.3 356.1h1.4v1.4h-1.4zM182.7 358.3h1.4v1.4h-1.4zM176.5 339.2h1.4v1.4h-1.4zM172.9 362.5h1.4v1.4h-1.4zM164.8 358.4h1.4v1.4h-1.4zM171.2 355.2h1.4v1.4h-1.4zM175 362.2h1.4v1.4h-1.4zM187.9 344.8h1.4v1.4h-1.4zM177.2 340.7h1.4v1.4h-1.4zM166.9 354.4h1.4v1.4h-1.4zM173.5 364.1h1.4v1.4h-1.4zM170.2 361.7h1.4v1.4h-1.4zM162.2 357.7h1.4v1.4h-1.4zM194.2 362.3h1.4v1.4h-1.4zM169 349.5h1.4v1.4h-1.4zM189.3 344.9h1.4v1.4h-1.4zM172.2 366.4h1.4v1.4h-1.4zM165.7 358.4h1.4v1.4h-1.4zM176.6 345.5h1.4v1.4h-1.4zM180.1 363.9h1.4v1.4h-1.4zM186.8 358.6h1.4v1.4h-1.4zM189.4 353.4h1.4v1.4h-1.4zM168.8 348.1h1.4v1.4h-1.4zM194 360.4h1.4v1.4h-1.4zM159.4 350.9h1.4v1.4h-1.4zM183.2 350.1h1.4v1.4h-1.4zM181.4 337.4h1.4v1.4h-1.4zM159.6 352.2h1.4v1.4h-1.4zM181.4 357.3h1.4v1.4h-1.4zM159 353.7h1.4v1.4h-1.4zM183.9 354.4h1.4v1.4h-1.4zM179.1 351.4h1.4v1.4h-1.4zM165.5 356.7h1.4v1.4h-1.4zM162.4 356h1.4v1.4h-1.4zM170.9 343.4h1.4v1.4h-1.4zM166.8 359.3h1.4v1.4h-1.4zM171.6 350.9h1.4v1.4h-1.4zM161 357.4h1.4v1.4h-1.4zM170.7 343.9h1.4v1.4h-1.4zM182.5 337.7h1.4v1.4h-1.4zM165.7 372h1.4v1.4h-1.4zM180 350h1.4v1.4h-1.4zM167.3 366.6h1.4v1.4h-1.4zM196.1 359.4h1.4v1.4h-1.4zM173.7 340.6h1.4v1.4h-1.4zM183.8 363.7h1.4v1.4h-1.4zM183.8 340.2h1.4v1.4h-1.4zM193.3 355.5h1.4v1.4h-1.4zM172.5 363.5h1.4v1.4h-1.4zM165.7 361.9h1.4v1.4h-1.4zM174.7 372.3h1.4v1.4h-1.4zM166.4 363.8h1.4v1.4h-1.4zM176 335.3h1.4v1.4h-1.4zM176.8 354.1h1.4v1.4h-1.4zM168.5 353.7h1.4v1.4h-1.4zM194.3 360.2h1.4v1.4h-1.4zM182.5 347.2h1.4v1.4h-1.4zM174.1 358.5h1.4v1.4h-1.4zM186.7 360.8h1.4v1.4h-1.4zM188.5 347.2h1.4v1.4h-1.4zM180.4 346.3h1.4v1.4h-1.4zM188.1 350.9h1.4v1.4h-1.4zM165.9 368.1h1.4v1.4h-1.4zM189.6 352.6h1.4v1.4h-1.4zM192.9 353.8h1.4v1.4h-1.4zM166.4 372.1h1.4v1.4h-1.4zM164 356.6h1.4v1.4h-1.4zM159.7 351.7h1.4v1.4h-1.4zM183.9 356.2h1.4v1.4h-1.4zM186.7 351.8h1.4v1.4h-1.4zM191.1 362.3h1.4v1.4h-1.4zM177.7 366.6h1.4v1.4h-1.4z" fill="#e05a5e"/>
<path d="M180.9 425.9h1.4v1.4h-1.4zM189.7 423.8h1.4v1.4h-1.4zM166.6 417.9h1.4v1.4h-1.4zM180.6 424.4h1.4v1.4h-1.4zM166.7 418h1.4v1.4h-1.4zM175.1 429.4h1.4v1.4h-1.4zM186.6 423.8h1.4v1.4h-1.4zM188.5 421.7h1.4v1.4h-1.4zM164.8 422h1.4v1.4h-1.4zM166.2 426.1h1.4v1.4h-1.4zM190 427.1h1.4v1.4h-1.4zM181.3 431.2h1.4v1.4h-1.4zM162.9 420.7h1.4v1.4h-1.4zM180.3 432.3h1.4v1.4h-1.4zM168.1 424h1.4v1.4h-1.4zM162.6 419.3h1.4v1.4h-1.4zM172.4 419.2h1.4v1.4h-1.4zM186.3 430.7h1.4v1.4h-1.4zM168.6 424.6h1.4v1.4h-1.4zM180.5 427.2h1.4v1.4h-1.4zM165.3 423.3h1.4v1.4h-1.4zM175.6 436h1.4v1.4h-1.4zM191.1 420.6h1.4v1.4h-1.4zM163.1 428.3h1.4v1.4h-1.4zM180 428.6h1.4v1.4h-1.4zM186.8 428.6h1.4v1.4h-1.4zM168.6 427.1h1.4v1.4h-1.4zM165.1 424.3h1.4v1.4h-1.4zM164.8 423.2h1.4v1.4h-1.4zM161.9 413.6h1.4v1.4h-1.4zM166.9 416.2h1.4v1.4h-1.4zM190.3 425.2h1.4v1.4h-1.4zM183.4 435.6h1.4v1.4h-1.4zM187.9 422.6h1.4v1.4h-1.4zM165.8 425.3h1.4v1.4h-1.4zM170.3 433.4h1.4v1.4h-1.4zM165.2 426.3h1.4v1.4h-1.4zM169.8 436h1.4v1.4h-1.4zM182.3 432.5h1.4v1.4h-1.4zM184.7 423.3h1.4v1.4h-1.4zM178.9 424.1h1.4v1.4h-1.4zM186 425.2h1.4v1.4h-1.4zM177.5 432.1h1.4v1.4h-1.4zM167.7 416.5h1.4v1.4h-1.4zM163.5 425.8h1.4v1.4h-1.4zM177.2 435.2h1.4v1.4h-1.4zM189.6 430.3h1.4v1.4h-1.4zM172 428h1.4v1.4h-1.4zM162.2 423h1.4v1.4h-1.4zM170.4 428h1.4v1.4h-1.4zM174.9 429.3h1.4v1.4h-1.4zM183.7 431.9h1.4v1.4h-1.4zM185.3 434.9h1.4v1.4h-1.4zM164.6 422.6h1.4v1.4h-1.4zM170.9 428.4h1.4v1.4h-1.4zM162 424.4h1.4v1.4h-1.4zM179.5 427h1.4v1.4h-1.4zM172.5 433.8h1.4v1.4h-1.4zM181.5 429.3h1.4v1.4h-1.4zM165.2 423.6h1.4v1.4h-1.4zM162.5 421.3h1.4v1.4h-1.4zM165.4 422.6h1.4v1.4h-1.4zM166.6 416.6h1.4v1.4h-1.4zM183.8 422.4h1.4v1.4h-1.4zM187.3 429.3h1.4v1.4h-1.4zM170.3 430.9h1.4v1.4h-1.4zM170.5 420.3h1.4v1.4h-1.4zM177.7 435.6h1.4v1.4h-1.4zM163.3 416.6h1.4v1.4h-1.4zM168.1 428.2h1.4v1.4h-1.4zM184.7 432.2h1.4v1.4h-1.4zM178.6 423.9h1.4v1.4h-1.4zM174.3 432.5h1.4v1.4h-1.4zM191.6 422.1h1.4v1.4h-1.4zM168.5 419.9h1.4v1.4h-1.4zM175.4 423.6h1.4v1.4h-1.4zM175.8 430.2h1.4v1.4h-1.4zM161.9 421h1.4v1.4h-1.4zM171.1 426.9h1.4v1.4h-1.4zM183.8 425.7h1.4v1.4h-1.4zM170.3 435.5h1.4v1.4h-1.4zM172.3 420.9h1.4v1.4h-1.4zM186.4 428.4h1.4v1.4h-1.4zM167.6 429.6h1.4v1.4h-1.4zM186.3 428.1h1.4v1.4h-1.4zM162.9 415.5h1.4v1.4h-1.4zM169.6 434.9h1.4v1.4h-1.4zM178.5 424.6h1.4v1.4h-1.4zM183.8 435.6h1.4v1.4h-1.4zM167 427.8h1.4v1.4h-1.4zM176.7 429.5h1.4v1.4h-1.4zM168.7 424.9h1.4v1.4h-1.4zM162.9 423.6h1.4v1.4h-1.4zM187.1 432.6h1.4v1.4h-1.4zM171.4 432.5h1.4v1.4h-1.4zM169.2 433.9h1.4v1.4h-1.4zM189 424.1h1.4v1.4h-1.4zM175.3 426.8h1.4v1.4h-1.4zM190.7 421.5h1.4v1.4h-1.4zM181.5 429.8h1.4v1.4h-1.4zM168.6 420h1.4v1.4h-1.4zM179.9 432.6h1.4v1.4h-1.4zM176.6 424.2h1.4v1.4h-1.4zM190.4 423.6h1.4v1.4h-1.4zM181.2 426.2h1.4v1.4h-1.4zM175.3 427.3h1.4v1.4h-1.4zM182.7 422.2h1.4v1.4h-1.4zM171.1 434.1h1.4v1.4h-1.4zM184 431.8h1.4v1.4h-1.4zM182.7 424.3h1.4v1.4h-1.4zM177.7 432.8h1.4v1.4h-1.4zM166.1 416.7h1.4v1.4h-1.4zM165.1 426.1h1.4v1.4h-1.4zM168.3 425.5h1.4v1.4h-1.4zM180 433.7h1.4v1.4h-1.4zM162.8 418.4h1.4v1.4h-1.4zM173.6 432.3h1.4v1.4h-1.4zM166.9 425.3h1.4v1.4h-1.4zM181.1 434.4h1.4v1.4h-1.4zM178.8 422.7h1.4v1.4h-1.4zM169.2 418.9h1.4v1.4h-1.4zM171.5 424h1.4v1.4h-1.4zM172.1 431.4h1.4v1.4h-1.4zM189.4 429.2h1.4v1.4h-1.4zM165.3 419.8h1.4v1.4h-1.4zM161.6 425h1.4v1.4h-1.4zM177.9 429.4h1.4v1.4h-1.4zM169.2 423.9h1.4v1.4h-1.4zM182.4 423.7h1.4v1.4h-1.4zM173.6 436.2h1.4v1.4h-1.4zM186.8 430.2h1.4v1.4h-1.4zM185 432.8h1.4v1.4h-1.4zM168.8 421.2h1.4v1.4h-1.4zM180.8 432.7h1.4v1.4h-1.4zM183.6 422.1h1.4v1.4h-1.4zM165.4 424.6h1.4v1.4h-1.4zM172.5 424.8h1.4v1.4h-1.4zM164 423.2h1.4v1.4h-1.4zM162.8 421.9h1.4v1.4h-1.4zM163.2 417.6h1.4v1.4h-1.4zM186 422h1.4v1.4h-1.4zM167.4 430.1h1.4v1.4h-1.4zM180 429.7h1.4v1.4h-1.4zM183.4 436.2h1.4v1.4h-1.4zM172.1 431.3h1.4v1.4h-1.4zM181.2 427.9h1.4v1.4h-1.4zM170.7 425h1.4v1.4h-1.4zM188.6 429h1.4v1.4h-1.4zM171.7 429.3h1.4v1.4h-1.4zM190.5 428.5h1.4v1.4h-1.4zM167.9 428.9h1.4v1.4h-1.4zM173 435h1.4v1.4h-1.4zM166.4 430.3h1.4v1.4h-1.4zM162.9 424.1h1.4v1.4h-1.4zM172 430.1h1.4v1.4h-1.4zM165.8 416.7h1.4v1.4h-1.4zM165.2 423.2h1.4v1.4h-1.4zM180.8 430.8h1.4v1.4h-1.4zM166.7 421.4h1.4v1.4h-1.4zM176.3 429.8h1.4v1.4h-1.4zM176.4 427.6h1.4v1.4h-1.4zM162.4 420.8h1.4v1.4h-1.4zM185.6 429.8h1.4v1.4h-1.4zM163.4 429.5h1.4v1.4h-1.4zM188 429.5h1.4v1.4h-1.4zM165.5 422.5h1.4v1.4h-1.4zM186.2 424.2h1.4v1.4h-1.4zM176.2 423.4h1.4v1.4h-1.4zM181.1 431.8h1.4v1.4h-1.4zM164 420.4h1.4v1.4h-1.4zM176.2 433h1.4v1.4h-1.4zM187.2 429.9h1.4v1.4h-1.4zM183.2 432.7h1.4v1.4h-1.4zM179.2 424.2h1.4v1.4h-1.4zM170.4 424.4h1.4v1.4h-1.4zM184.3 431h1.4v1.4h-1.4zM183.9 430.1h1.4v1.4h-1.4zM165.9 425.3h1.4v1.4h-1.4zM172.1 424h1.4v1.4h-1.4zM181.8 432.1h1.4v1.4h-1.4zM163.5 421.8h1.4v1.4h-1.4zM164.3 421.4h1.4v1.4h-1.4zM164.6 431.3h1.4v1.4h-1.4zM167.1 417.5h1.4v1.4h-1.4zM175 431.4h1.4v1.4h-1.4zM185.4 430.3h1.4v1.4h-1.4zM164.5 430.7h1.4v1.4h-1.4zM161.6 420.1h1.4v1.4h-1.4zM163.6 427.2h1.4v1.4h-1.4zM183.5 423.4h1.4v1.4h-1.4zM180.7 423.2h1.4v1.4h-1.4zM167.3 422.4h1.4v1.4h-1.4zM161.5 421.7h1.4v1.4h-1.4zM165.2 429.7h1.4v1.4h-1.4zM170.4 431.6h1.4v1.4h-1.4zM163.3 421.5h1.4v1.4h-1.4zM181.2 423.8h1.4v1.4h-1.4zM171.5 420.2h1.4v1.4h-1.4zM171.4 430.1h1.4v1.4h-1.4zM180.3 432.4h1.4v1.4h-1.4zM190.8 428.5h1.4v1.4h-1.4zM183.3 435.4h1.4v1.4h-1.4zM184.2 432.6h1.4v1.4h-1.4zM169.7 422.2h1.4v1.4h-1.4zM190.3 427.8h1.4v1.4h-1.4zM183.8 424.2h1.4v1.4h-1.4zM161.7 427.1h1.4v1.4h-1.4zM166.6 417.4h1.4v1.4h-1.4zM167.8 434.1h1.4v1.4h-1.4zM175.9 436h1.4v1.4h-1.4zM183.3 430h1.4v1.4h-1.4zM164.8 429.9h1.4v1.4h-1.4zM168.7 433.8h1.4v1.4h-1.4zM174.8 425.4h1.4v1.4h-1.4zM185 423.8h1.4v1.4h-1.4zM171.7 429.3h1.4v1.4h-1.4zM167.8 434h1.4v1.4h-1.4zM183.8 426.8h1.4v1.4h-1.4zM173.3 426.4h1.4v1.4h-1.4zM161.9 416.8h1.4v1.4h-1.4zM183.9 422h1.4v1.4h-1.4zM164.1 421h1.4v1.4h-1.4zM187.2 427h1.4v1.4h-1.4zM165.1 423h1.4v1.4h-1.4zM190.2 428.4h1.4v1.4h-1.4zM181.3 434.7h1.4v1.4h-1.4zM165 421.8h1.4v1.4h-1.4zM169.4 427.9h1.4v1.4h-1.4zM165.7 423.9h1.4v1.4h-1.4zM166.8 424.7h1.4v1.4h-1.4zM161.8 418.5h1.4v1.4h-1.4zM183.6 430.8h1.4v1.4h-1.4zM167.1 421.1h1.4v1.4h-1.4zM165.4 430.6h1.4v1.4h-1.4zM163.5 419h1.4v1.4h-1.4zM183.3 428.8h1.4v1.4h-1.4zM181.2 430.9h1.4v1.4h-1.4zM174.6 431.2h1.4v1.4h-1.4zM163.9 417.5h1.4v1.4h-1.4zM171.2 428.5h1.4v1.4h-1.4zM179.9 429.2h1.4v1.4h-1.4zM181.8 425.2h1.4v1.4h-1.4zM187.4 423.1h1.4v1.4h-1.4zM167.7 428.4h1.4v1.4h-1.4zM174.8 421.8h1.4v1.4h-1.4zM180.1 423.5h1.4v1.4h-1.4zM168 417.5h1.4v1.4h-1.4zM172.6 427.3h1.4v1.4h-1.4zM188.7 428.8h1.4v1.4h-1.4zM165.1 418.5h1.4v1.4h-1.4zM179.7 432h1.4v1.4h-1.4zM169.3 431.9h1.4v1.4h-1.4zM162.6 423.6h1.4v1.4h-1.4zM183 424.7h1.4v1.4h-1.4zM184.1 431.8h1.4v1.4h-1.4zM166.6 419.9h1.4v1.4h-1.4zM177.9 432.3h1.4v1.4h-1.4zM169.5 432.5h1.4v1.4h-1.4zM187.8 432.2h1.4v1.4h-1.4zM190.7 423.8h1.4v1.4h-1.4zM173.7 428.7h1.4v1.4h-1.4zM177.1 431.4h1.4v1.4h-1.4zM169.3 433.7h1.4v1.4h-1.4zM179.6 435.9h1.4v1.4h-1.4zM182.5 435.2h1.4v1.4h-1.4zM167.3 423.9h1.4v1.4h-1.4zM182.8 432.3h1.4v1.4h-1.4zM179.7 423.8h1.4v1.4h-1.4zM172.6 421.9h1.4v1.4h-1.4zM179 424.4h1.4v1.4h-1.4zM161.5 418.2h1.4v1.4h-1.4zM166.9 423.2h1.4v1.4h-1.4zM165.2 418.2h1.4v1.4h-1.4zM167.8 425.5h1.4v1.4h-1.4zM174.2 426.4h1.4v1.4h-1.4zM187.3 423.6h1.4v1.4h-1.4zM173.4 435.7h1.4v1.4h-1.4zM172.7 430h1.4v1.4h-1.4zM180.3 435.9h1.4v1.4h-1.4zM162.3 417.3h1.4v1.4h-1.4zM163.2 428.9h1.4v1.4h-1.4zM175.4 425.6h1.4v1.4h-1.4zM171.7 419.5h1.4v1.4h-1.4zM176.5 432.5h1.4v1.4h-1.4zM172 423.4h1.4v1.4h-1.4zM180.1 432.5h1.4v1.4h-1.4zM173.5 434.2h1.4v1.4h-1.4zM167.6 428.4h1.4v1.4h-1.4zM172 423.1h1.4v1.4h-1.4zM173.9 430.7h1.4v1.4h-1.4zM166.6 432.4h1.4v1.4h-1.4zM165.9 431.2h1.4v1.4h-1.4zM175.8 425.7h1.4v1.4h-1.4zM187.8 423.5h1.4v1.4h-1.4zM175.6 424.5h1.4v1.4h-1.4zM175.9 421.9h1.4v1.4h-1.4zM171.5 423.8h1.4v1.4h-1.4zM177.2 435.1h1.4v1.4h-1.4zM174.8 434.2h1.4v1.4h-1.4zM182.8 428.5h1.4v1.4h-1.4z" fill="#ee7a45"/>
<path d="M180 396.3h1.4v1.4h-1.4zM191.6 386h1.4v1.4h-1.4zM190.2 396.5h1.4v1.4h-1.4zM194.4 381.3h1.4v1.4h-1.4zM199.8 383.9h1.4v1.4h-1.4zM192.9 387.1h1.4v1.4h-1.4zM188.6 392.4h1.4v1.4h-1.4zM187.3 395.8h1.4v1.4h-1.4zM191.2 388h1.4v1.4h-1.4zM193.7 388.5h1.4v1.4h-1.4zM199 387.2h1.4v1.4h-1.4zM181.5 398.3h1.4v1.4h-1.4zM194.9 386.6h1.4v1.4h-1.4zM195.5 390h1.4v1.4h-1.4zM188.2 395.4h1.4v1.4h-1.4zM193.2 392.1h1.4v1.4h-1.4zM189.2 394.8h1.4v1.4h-1.4zM192.4 382.8h1.4v1.4h-1.4zM194.2 392h1.4v1.4h-1.4zM195.3 381.9h1.4v1.4h-1.4zM201.3 374.8h1.4v1.4h-1.4zM184.3 395h1.4v1.4h-1.4zM184.1 397.1h1.4v1.4h-1.4zM191 392.8h1.4v1.4h-1.4zM187 398.8h1.4v1.4h-1.4zM192 386.6h1.4v1.4h-1.4zM190.3 392.8h1.4v1.4h-1.4zM187.7 394.5h1.4v1.4h-1.4zM199.7 388h1.4v1.4h-1.4zM201.8 383.7h1.4v1.4h-1.4zM192.4 396h1.4v1.4h-1.4zM195.5 380.5h1.4v1.4h-1.4zM200.4 378.3h1.4v1.4h-1.4zM200.9 384.3h1.4v1.4h-1.4zM183.1 398.8h1.4v1.4h-1.4zM194.5 383.6h1.4v1.4h-1.4zM197.1 382.5h1.4v1.4h-1.4zM183.3 399.6h1.4v1.4h-1.4zM193.2 382.4h1.4v1.4h-1.4zM197.7 378.2h1.4v1.4h-1.4zM194.4 385.3h1.4v1.4h-1.4zM198.1 388.5h1.4v1.4h-1.4zM196 381.3h1.4v1.4h-1.4zM194.5 382.5h1.4v1.4h-1.4zM184.4 395h1.4v1.4h-1.4z" fill="#8ad46e"/>
<path d="M234.2 394h1.4v1.4h-1.4zM232.7 385.5h1.4v1.4h-1.4zM234.6 396.1h1.4v1.4h-1.4zM237.5 386.1h1.4v1.4h-1.4zM230.7 392.9h1.4v1.4h-1.4zM226.2 388.6h1.4v1.4h-1.4zM227.3 394.2h1.4v1.4h-1.4zM233.8 391.3h1.4v1.4h-1.4zM233 392.1h1.4v1.4h-1.4zM232.7 384.8h1.4v1.4h-1.4zM235.8 387.1h1.4v1.4h-1.4zM234.7 395h1.4v1.4h-1.4zM234.9 391.6h1.4v1.4h-1.4zM231.6 385.8h1.4v1.4h-1.4zM231.6 393.1h1.4v1.4h-1.4zM231.3 387h1.4v1.4h-1.4zM233.9 395.8h1.4v1.4h-1.4zM227.6 390.1h1.4v1.4h-1.4zM234.2 392.9h1.4v1.4h-1.4zM231.7 391.2h1.4v1.4h-1.4zM235.5 390.9h1.4v1.4h-1.4zM235.1 393.5h1.4v1.4h-1.4zM232.4 391.5h1.4v1.4h-1.4zM237.2 394.3h1.4v1.4h-1.4zM232.8 396.1h1.4v1.4h-1.4zM232.8 387.1h1.4v1.4h-1.4zM227.7 391.1h1.4v1.4h-1.4zM235.8 390.5h1.4v1.4h-1.4zM227.5 386.5h1.4v1.4h-1.4zM232.8 393.6h1.4v1.4h-1.4zM232 394.2h1.4v1.4h-1.4zM230.8 390.1h1.4v1.4h-1.4zM231.5 391.1h1.4v1.4h-1.4zM235.9 385.4h1.4v1.4h-1.4zM234.5 384.4h1.4v1.4h-1.4zM230.7 384.3h1.4v1.4h-1.4zM238.8 393.3h1.4v1.4h-1.4zM230.5 388.2h1.4v1.4h-1.4zM229.8 389h1.4v1.4h-1.4zM237.7 390.6h1.4v1.4h-1.4zM236.2 394.4h1.4v1.4h-1.4zM232.9 384h1.4v1.4h-1.4zM228 391.4h1.4v1.4h-1.4zM231.3 395h1.4v1.4h-1.4zM239.2 392.6h1.4v1.4h-1.4zM230 391.3h1.4v1.4h-1.4zM234.1 388h1.4v1.4h-1.4zM228.8 392h1.4v1.4h-1.4zM235.3 388h1.4v1.4h-1.4zM237.6 389.6h1.4v1.4h-1.4zM227.4 389.5h1.4v1.4h-1.4zM236.1 395.3h1.4v1.4h-1.4zM233.8 395.1h1.4v1.4h-1.4zM229.6 393.8h1.4v1.4h-1.4zM228.9 387.9h1.4v1.4h-1.4zM235.8 394.2h1.4v1.4h-1.4zM227.8 392h1.4v1.4h-1.4zM237.8 386.8h1.4v1.4h-1.4zM233.4 385.2h1.4v1.4h-1.4zM239 388.3h1.4v1.4h-1.4zM236.7 392.1h1.4v1.4h-1.4zM227.2 390.1h1.4v1.4h-1.4zM236.7 385.5h1.4v1.4h-1.4zM228.6 393.4h1.4v1.4h-1.4zM226.8 387.6h1.4v1.4h-1.4zM229.3 393.9h1.4v1.4h-1.4zM230.9 395h1.4v1.4h-1.4zM225.4 392h1.4v1.4h-1.4zM232.5 383.7h1.4v1.4h-1.4zM228.7 395.1h1.4v1.4h-1.4zM229.4 395.9h1.4v1.4h-1.4zM238.7 390.2h1.4v1.4h-1.4zM231.2 394.2h1.4v1.4h-1.4zM231.6 392.5h1.4v1.4h-1.4zM232.9 396.3h1.4v1.4h-1.4zM235.1 391.1h1.4v1.4h-1.4zM226 391.3h1.4v1.4h-1.4zM240.2 388.2h1.4v1.4h-1.4zM232.2 387.4h1.4v1.4h-1.4zM232.2 388.7h1.4v1.4h-1.4zM236.3 389.5h1.4v1.4h-1.4zM228.4 390.3h1.4v1.4h-1.4zM238.4 386.8h1.4v1.4h-1.4zM240 390.6h1.4v1.4h-1.4zM238.4 390.8h1.4v1.4h-1.4zM234.1 390.3h1.4v1.4h-1.4zM232.9 392.5h1.4v1.4h-1.4zM226 388.8h1.4v1.4h-1.4zM233.8 390.4h1.4v1.4h-1.4zM238.9 391.6h1.4v1.4h-1.4zM233.6 395.4h1.4v1.4h-1.4zM233.2 384.2h1.4v1.4h-1.4zM236 389.2h1.4v1.4h-1.4zM228.4 386.5h1.4v1.4h-1.4zM230.4 390.2h1.4v1.4h-1.4z" fill="#e9c04a"/>
<circle cx="253.3" cy="337.8" r="2" fill="#4f6bd0"/>
<text x="259.1" y="339.9" font-size="7.2" fill="#111">C1QA<tspan font-size="4.5" dy="-3">+</tspan><tspan dy="3"> Cells</tspan></text>
<circle cx="253.3" cy="345.6" r="2" fill="#8ad46e"/>
<text x="259.1" y="347.7" font-size="7.2" fill="#111">HSP<tspan font-size="4.5" dy="-3">+</tspan><tspan dy="3"> Cells</tspan></text>
<circle cx="253.3" cy="353.4" r="2" fill="#ee7a45"/>
<text x="259.1" y="355.5" font-size="7.2" fill="#111">IL1B<tspan font-size="4.5" dy="-3">+</tspan><tspan dy="3"> Cells</tspan></text>
<circle cx="253.3" cy="361.1" r="2" fill="#e05a5e"/>
<text x="259.1" y="363.2" font-size="7.2" fill="#111">MARCO<tspan font-size="4.5" dy="-3">+</tspan><tspan dy="3"> Cells</tspan></text>
<circle cx="253.3" cy="368.9" r="2" fill="#e9c04a"/>
<text x="259.1" y="371" font-size="7.2" fill="#111">MKI67<tspan font-size="4.5" dy="-3">+</tspan><tspan dy="3"> Cells</tspan></text>
<text x="326.1" y="310.8" font-size="11.3" fill="#000" font-weight="bold">F</text>
<text x="402" y="326.8" font-size="9.4" fill="#111" text-anchor="middle">MARCO</text>
<rect x="359.2" y="329.2" width="81.7" height="114" fill="none" stroke="#888" stroke-width="0.7"/>
<line x1="357.2" y1="349.5" x2="359.2" y2="349.5" stroke="#555" stroke-width="0.6"/>
<text x="357.6" y="351.8" font-size="9.6" fill="#111" text-anchor="end">6</text>
<line x1="357.2" y1="379.4" x2="359.2" y2="379.4" stroke="#555" stroke-width="0.6"/>
<text x="357.6" y="381.7" font-size="9.6" fill="#111" text-anchor="end">4</text>
<line x1="357.2" y1="409" x2="359.2" y2="409" stroke="#555" stroke-width="0.6"/>
<text x="357.6" y="411.3" font-size="9.6" fill="#111" text-anchor="end">2</text>
<line x1="357.2" y1="438.6" x2="359.2" y2="438.6" stroke="#555" stroke-width="0.6"/>
<text x="357.6" y="440.9" font-size="9.6" fill="#111" text-anchor="end">0</text>
<text x="345.4" y="384" font-size="9.3" fill="#111" text-anchor="middle" transform="rotate(-90 345.4 384)">Expression Level</text>
<line x1="381.4" y1="443.2" x2="381.4" y2="445" stroke="#555" stroke-width="0.6"/>
<line x1="419.3" y1="443.2" x2="419.3" y2="445" stroke="#555" stroke-width="0.6"/>
<ellipse cx="381.3" cy="349.4" rx="10.5" ry="9.4" fill="#d0d0d0" stroke="#333" stroke-width="0.5"/>
<path d="M381.3 349.4L381.3 340A10.5 9.4 0 0 0 372.4 344.4Z" fill="#e0363a" stroke="#222" stroke-width="0.5"/>
<text x="378.1" y="347.2" font-size="5.2" fill="#111" text-anchor="middle">4</text>
<text x="385.5" y="346.8" font-size="4.6" fill="#444" text-anchor="middle">7%</text>
<ellipse cx="419.4" cy="349.4" rx="10.2" ry="9.1" fill="#d0d0d0" stroke="#333" stroke-width="0.5"/>
<path d="M419.4 349.4L419.4 340.3A10.2 9.1 0 0 0 409.2 348.8Z" fill="#3a78c8" stroke="#222" stroke-width="0.5"/>
<text x="416.2" y="347.2" font-size="5.2" fill="#111" text-anchor="middle">21</text>
<text x="423.6" y="346.8" font-size="4.6" fill="#444" text-anchor="middle">79%</text>
<line x1="381.5" y1="375.5" x2="418.6" y2="375.5" stroke="#111" stroke-width="0.7"/>
<text x="400" y="374.5" font-size="7" fill="#111" text-anchor="middle">****</text>
<path d="M381.5 385C381.9 395 381.9 402 382.1 406C382.6 410 382.6 413 382 417C381.9 424 381.9 431 382.2 434.5C384 436 390 437.4 398.9 438.7V439.1H364.6V438.7C373 437.4 379 436 380.8 434.5C381.1 431 381.1 424 381 417C380.4 413 380.4 410 380.9 406C381.1 402 381.1 395 381.5 385Z" fill="#e0363a" stroke="#222" stroke-width="0.5"/>
<path d="M419.5 379C419.9 390 420.4 405 420.8 415C421.2 423 421.5 428 422.3 430.5C424 433.5 430 436.5 436.1 438.6V439.1H401.8V438.6C408 436.5 414.5 433.5 416.6 430.5C417.4 428 417.7 423 418.1 415C418.5 405 419 390 419.5 379Z" fill="#3a78c8" stroke="#222" stroke-width="0.5"/>
<circle cx="381.5" cy="431.9" r="1.1" fill="#000"/><circle cx="419.4" cy="429.5" r="1.1" fill="#000"/>
<text x="356.6" y="452.7" font-size="6.85" fill="#111">before-chemo</text>
<text x="406.2" y="452.7" font-size="6.85" fill="#111">post-chemo</text>
<text x="478.4" y="310.6" font-size="11.3" fill="#000" font-weight="bold">G</text>
<path d="M569.3 383h1v1h-1zM593.5 380.6h1v1h-1zM568.8 385.4h1v1h-1zM575.7 382.8h1v1h-1zM599.7 380.5h1v1h-1zM585.5 383h1v1h-1zM583.7 384.5h1v1h-1zM576 377.7h1v1h-1zM600.4 380h1v1h-1zM569.9 382.3h1v1h-1zM579.1 381.1h1v1h-1zM584.9 382h1v1h-1zM574.5 381h1v1h-1zM591.1 384.2h1v1h-1zM567.2 382.1h1v1h-1zM594.2 382.2h1v1h-1zM578.8 377.8h1v1h-1zM593.7 383.1h1v1h-1zM593.7 379.8h1v1h-1zM566.4 384.1h1v1h-1zM600.5 380.5h1v1h-1zM577.3 381.5h1v1h-1zM576.5 380.5h1v1h-1zM563.8 378.7h1v1h-1zM597 381.3h1v1h-1zM574.1 382.1h1v1h-1zM578 379.6h1v1h-1zM586.4 379.3h1v1h-1zM600.3 378.9h1v1h-1zM600.9 382.5h1v1h-1zM598.2 381.5h1v1h-1zM581 382.9h1v1h-1zM593.2 378.1h1v1h-1zM594.3 381.9h1v1h-1zM560.2 383.2h1v1h-1zM583.6 380.9h1v1h-1zM583.4 384h1v1h-1zM568.5 383.2h1v1h-1zM589.7 381.8h1v1h-1zM600.1 380.8h1v1h-1zM561.3 384.4h1v1h-1zM584.1 380.8h1v1h-1zM600.3 383.2h1v1h-1zM571.4 383h1v1h-1zM579.3 380.2h1v1h-1zM576.8 379.9h1v1h-1zM592 379.4h1v1h-1zM599.3 379.2h1v1h-1zM559.5 383.9h1v1h-1zM589.5 382.8h1v1h-1zM582.5 385.1h1v1h-1zM570.9 382h1v1h-1zM588.6 382.1h1v1h-1zM579.1 383.6h1v1h-1zM559.8 382.4h1v1h-1zM591.9 381.9h1v1h-1zM600.5 380h1v1h-1zM595 382.1h1v1h-1zM575.3 382.6h1v1h-1zM586.5 379.3h1v1h-1zM587.9 382.4h1v1h-1zM590.2 381.3h1v1h-1zM572.7 382h1v1h-1zM564.5 382.4h1v1h-1zM595.5 380.2h1v1h-1zM561.3 381h1v1h-1zM591.2 381h1v1h-1zM570.6 381.6h1v1h-1zM598.1 380.4h1v1h-1zM599.1 380.4h1v1h-1zM562.1 384.4h1v1h-1zM591.9 380.5h1v1h-1zM565 381.8h1v1h-1zM590 381.9h1v1h-1zM598 380.4h1v1h-1zM587.1 381.1h1v1h-1zM577.3 381.9h1v1h-1zM563.6 385.1h1v1h-1zM582.9 383.4h1v1h-1zM584.8 383.9h1v1h-1zM584.9 381h1v1h-1zM595.1 381.4h1v1h-1zM583.4 381.8h1v1h-1zM581 382h1v1h-1zM576.2 380.7h1v1h-1zM594.6 377.1h1v1h-1zM578.3 377.6h1v1h-1zM564 380.4h1v1h-1zM580.3 384.2h1v1h-1zM586.6 382.2h1v1h-1zM584.4 385.4h1v1h-1zM593.5 381h1v1h-1zM574 380.8h1v1h-1zM579.5 385h1v1h-1zM562.6 378.8h1v1h-1zM567.8 380.5h1v1h-1zM592.8 380.3h1v1h-1zM565.8 381.3h1v1h-1zM593.3 379.2h1v1h-1zM593 379.7h1v1h-1zM581.2 381.1h1v1h-1zM594 380.6h1v1h-1zM571.7 380.3h1v1h-1zM592 379.8h1v1h-1zM571.8 381.3h1v1h-1zM579 380.8h1v1h-1zM591.8 378.5h1v1h-1zM587.7 379.7h1v1h-1zM582.5 381.6h1v1h-1zM580.2 381.2h1v1h-1zM576.3 381.9h1v1h-1zM566 382.8h1v1h-1zM559.8 383.2h1v1h-1zM581.4 381.3h1v1h-1zM577.4 382.1h1v1h-1zM597.7 379.5h1v1h-1zM579.2 379.9h1v1h-1zM591.1 379.6h1v1h-1zM579.5 379.2h1v1h-1zM587.6 382.8h1v1h-1zM560.1 384.1h1v1h-1zM566.2 381.2h1v1h-1zM580 382.7h1v1h-1zM590.9 383h1v1h-1zM590.4 381.5h1v1h-1zM580.1 379.4h1v1h-1zM590.9 380.1h1v1h-1zM589.2 380.2h1v1h-1zM589.5 380.5h1v1h-1zM591.6 378.2h1v1h-1zM586.2 381.6h1v1h-1zM568.7 382h1v1h-1zM591.2 379.9h1v1h-1zM560.6 383h1v1h-1zM573.7 380.8h1v1h-1zM598.3 380.7h1v1h-1zM592 378.2h1v1h-1zM587.4 384.9h1v1h-1zM567.4 383.6h1v1h-1zM587 380.4h1v1h-1zM573.9 381.8h1v1h-1zM568.4 382.5h1v1h-1zM568.4 380.9h1v1h-1zM595.8 378.3h1v1h-1zM563 382.6h1v1h-1zM569.4 382h1v1h-1zM565.1 383.3h1v1h-1zM594.4 383.3h1v1h-1zM570.6 382.9h1v1h-1zM586.9 380.4h1v1h-1zM568.7 381.9h1v1h-1zM582.2 383h1v1h-1zM595.7 379.4h1v1h-1zM589.6 381.4h1v1h-1zM570.5 379h1v1h-1zM567.1 382h1v1h-1zM570.9 382.6h1v1h-1zM575.4 384.6h1v1h-1zM589.1 381.1h1v1h-1zM582.3 381.1h1v1h-1zM566.3 381.9h1v1h-1zM586.1 379.6h1v1h-1zM568.3 381.7h1v1h-1zM570.5 380h1v1h-1zM582.6 381.9h1v1h-1zM596.8 381.6h1v1h-1zM599.7 379.7h1v1h-1zM563.6 382.3h1v1h-1zM579.7 382.2h1v1h-1zM600.4 377.9h1v1h-1zM578.1 381.7h1v1h-1zM597.3 379.3h1v1h-1zM593.3 376.2h1v1h-1zM578.1 385.8h1v1h-1zM590.4 381.2h1v1h-1zM588.1 380.2h1v1h-1zM574.6 383.7h1v1h-1zM569.2 382.6h1v1h-1zM560 382.7h1v1h-1zM591.2 383.3h1v1h-1zM572.8 382.9h1v1h-1zM574.6 379.9h1v1h-1zM590.4 382.7h1v1h-1zM594.9 380.8h1v1h-1zM564 381.9h1v1h-1zM594.9 378.8h1v1h-1zM597.6 379.7h1v1h-1zM572.3 382.6h1v1h-1zM569.4 381.9h1v1h-1zM565.4 381.3h1v1h-1zM593.3 384.7h1v1h-1zM585.3 381.7h1v1h-1zM590.9 379h1v1h-1zM568.7 382.9h1v1h-1zM576.1 382.5h1v1h-1zM582.2 381h1v1h-1zM591.5 380.9h1v1h-1zM563.3 382.1h1v1h-1zM574.4 381.2h1v1h-1zM599.7 378.6h1v1h-1zM568.8 383.3h1v1h-1zM565.9 380.6h1v1h-1zM595.6 380.3h1v1h-1zM575.6 381.7h1v1h-1zM593 378.7h1v1h-1zM593 380.4h1v1h-1zM599.1 379h1v1h-1zM584.1 377.9h1v1h-1zM590 380.8h1v1h-1zM579.2 381h1v1h-1zM600.3 380.3h1v1h-1zM600.3 375.9h1v1h-1zM578.8 385h1v1h-1zM560.1 381.6h1v1h-1zM583.4 380h1v1h-1zM579.7 379.2h1v1h-1zM584.9 383.5h1v1h-1zM593.7 378.6h1v1h-1zM560.1 383.6h1v1h-1zM598.2 380.8h1v1h-1zM597.4 379.8h1v1h-1zM596.8 382.6h1v1h-1zM569.5 383h1v1h-1zM586.4 377.8h1v1h-1zM571.3 380.7h1v1h-1zM559.6 384.5h1v1h-1zM598.4 380.5h1v1h-1zM562.6 384.9h1v1h-1zM559.7 380.4h1v1h-1zM560.6 381.4h1v1h-1zM571.1 382.7h1v1h-1zM570.8 380.6h1v1h-1zM563.1 383h1v1h-1zM575.9 381.7h1v1h-1zM571 381.4h1v1h-1zM589.8 380.5h1v1h-1zM562.2 384.6h1v1h-1zM597.2 380.4h1v1h-1zM584.7 380.5h1v1h-1zM563.9 385.4h1v1h-1zM561.2 382.1h1v1h-1zM578.9 382.6h1v1h-1zM572.5 381h1v1h-1zM578.8 380.2h1v1h-1zM593.7 380.5h1v1h-1zM584.4 380.5h1v1h-1zM595.3 381.6h1v1h-1zM596 379.9h1v1h-1zM594.1 379.9h1v1h-1zM583.8 381.1h1v1h-1zM575.9 383.2h1v1h-1zM563.9 382.3h1v1h-1zM591.1 379.2h1v1h-1zM571.9 383.3h1v1h-1zM588.4 381.1h1v1h-1zM584.3 380.5h1v1h-1zM583.2 380h1v1h-1zM564.4 383.3h1v1h-1zM582.9 380.1h1v1h-1zM600 379.8h1v1h-1zM574.7 384.2h1v1h-1zM562.8 379.5h1v1h-1zM591.3 381.2h1v1h-1zM564.5 385.7h1v1h-1zM578 381.7h1v1h-1zM566 382.1h1v1h-1zM564.9 380.2h1v1h-1zM588.8 379.9h1v1h-1zM575.4 380.5h1v1h-1zM594.2 383.2h1v1h-1zM567.7 382.7h1v1h-1zM560.9 381.9h1v1h-1zM600.5 382.3h1v1h-1zM582 382.2h1v1h-1zM570.7 380.7h1v1h-1zM576.6 381.5h1v1h-1zM561.5 382.7h1v1h-1zM561.9 379.3h1v1h-1zM584.2 383.3h1v1h-1zM584.1 380h1v1h-1zM576.1 379h1v1h-1zM577.2 381.6h1v1h-1zM594.7 379.8h1v1h-1zM577.3 385.9h1v1h-1zM567.6 384.4h1v1h-1zM577.7 381.5h1v1h-1zM563.2 382.9h1v1h-1zM561.2 382.5h1v1h-1zM587.8 381h1v1h-1zM596.7 377.1h1v1h-1zM590.8 380h1v1h-1zM580 380.7h1v1h-1zM582.8 381.3h1v1h-1zM566.3 382.2h1v1h-1zM597.9 381.9h1v1h-1zM597.7 379.4h1v1h-1zM568.8 384h1v1h-1zM569.8 380.8h1v1h-1zM576.8 381.4h1v1h-1zM590 383.6h1v1h-1zM592.5 380.1h1v1h-1zM584 381.1h1v1h-1zM590 379.4h1v1h-1zM582.5 380.8h1v1h-1zM573.7 379.9h1v1h-1zM583.2 381h1v1h-1zM582.8 380.7h1v1h-1zM560.5 381.4h1v1h-1zM581.5 380.9h1v1h-1zM596.8 378.7h1v1h-1zM578.8 381.8h1v1h-1zM590.7 378.5h1v1h-1zM570.2 384.5h1v1h-1zM565.8 382.9h1v1h-1zM588.9 381.4h1v1h-1zM582.9 379.8h1v1h-1zM600.3 380.1h1v1h-1zM600.9 379h1v1h-1zM562.6 382.3h1v1h-1zM579.2 379.2h1v1h-1zM592.2 379.6h1v1h-1zM571.3 379.4h1v1h-1zM565.6 383.4h1v1h-1zM575 382.2h1v1h-1zM595.9 379.3h1v1h-1zM582.7 383.2h1v1h-1zM559.7 384.1h1v1h-1zM591.4 378.6h1v1h-1zM559.3 384.8h1v1h-1zM583.7 380.4h1v1h-1z" fill="#c4c4c4"/>
<path d="M584.5 375.8h1v1h-1zM598.4 377.8h1v1h-1zM577 370h1v1h-1zM578.6 374.4h1v1h-1zM574.6 377.9h1v1h-1zM579 372.7h1v1h-1zM576.9 374.4h1v1h-1zM585.9 374.9h1v1h-1zM590 371.3h1v1h-1zM586.3 374.8h1v1h-1zM582.6 377.1h1v1h-1zM585.8 371.7h1v1h-1zM594.1 376.5h1v1h-1zM577.4 374.1h1v1h-1zM577.9 373.8h1v1h-1zM593.4 369.2h1v1h-1zM579.7 374.7h1v1h-1zM578.3 376.5h1v1h-1zM598.2 371.8h1v1h-1zM581.1 373.9h1v1h-1zM588.2 376.7h1v1h-1zM576.9 376.2h1v1h-1zM583.5 372.9h1v1h-1zM597.5 376.6h1v1h-1zM572.4 370.8h1v1h-1zM586 370.8h1v1h-1zM598.3 374.7h1v1h-1zM595.4 379h1v1h-1zM583.3 377.1h1v1h-1zM575.2 377.7h1v1h-1zM600.7 376.9h1v1h-1zM584.3 374.4h1v1h-1zM590.3 375.1h1v1h-1zM594.4 375.1h1v1h-1zM589.4 378.9h1v1h-1zM590 369.6h1v1h-1zM577.3 369.1h1v1h-1zM595.4 378h1v1h-1zM600.8 372.2h1v1h-1zM574.3 372.9h1v1h-1zM575.7 370.3h1v1h-1zM583.9 371.2h1v1h-1zM598.7 376.2h1v1h-1zM590.8 379.4h1v1h-1zM597.3 377.4h1v1h-1zM582.5 370.5h1v1h-1zM576.3 375.8h1v1h-1zM584.2 373.8h1v1h-1zM578 373h1v1h-1zM592.9 376.9h1v1h-1zM576.7 377.4h1v1h-1zM579.9 373.2h1v1h-1zM590.8 371.3h1v1h-1zM590.5 369.8h1v1h-1zM575.2 371.7h1v1h-1zM600.6 369.5h1v1h-1zM587.9 370.5h1v1h-1zM598.2 374.2h1v1h-1zM576.2 377.6h1v1h-1zM594 375.4h1v1h-1zM596.5 373.1h1v1h-1zM583.1 375.1h1v1h-1zM591.2 369.4h1v1h-1zM577 374.4h1v1h-1zM600.3 375.5h1v1h-1zM595.7 371.5h1v1h-1zM589.2 378.3h1v1h-1zM577.9 376.7h1v1h-1zM576.5 378.3h1v1h-1zM587.9 370.9h1v1h-1zM574.2 371.7h1v1h-1zM574.9 368h1v1h-1zM587.2 373h1v1h-1zM571.6 376.6h1v1h-1zM597.8 373.7h1v1h-1zM597.2 369.1h1v1h-1zM582.4 375.5h1v1h-1zM591.8 377.9h1v1h-1zM576.6 374.4h1v1h-1zM586.9 378h1v1h-1zM589 378h1v1h-1zM594.5 371h1v1h-1zM586.1 370.1h1v1h-1zM596.9 370.5h1v1h-1zM575.6 373.2h1v1h-1zM583 379.6h1v1h-1zM596.5 376.9h1v1h-1zM578.5 370.2h1v1h-1zM581 374.2h1v1h-1zM576.5 368.1h1v1h-1zM592.8 377.3h1v1h-1zM593.4 372.8h1v1h-1zM592.9 374.2h1v1h-1zM593 374.7h1v1h-1zM594.1 369.8h1v1h-1zM587.1 374.8h1v1h-1zM585.8 376.7h1v1h-1zM582.3 373.9h1v1h-1zM594.8 375.9h1v1h-1zM574.5 369.4h1v1h-1zM597.2 373.1h1v1h-1zM586.7 370.3h1v1h-1zM574.2 373.7h1v1h-1zM578.1 375.6h1v1h-1zM575.5 370.2h1v1h-1zM582.8 370h1v1h-1zM591.9 371.5h1v1h-1zM596.6 374.7h1v1h-1zM581.9 375.8h1v1h-1zM573.8 377.6h1v1h-1zM584.2 371.1h1v1h-1zM577.5 375.4h1v1h-1zM587.1 371.8h1v1h-1zM595.3 373.4h1v1h-1zM590.2 369.4h1v1h-1zM593 378.6h1v1h-1zM585 375.8h1v1h-1zM580.7 377.7h1v1h-1zM572 370h1v1h-1zM579.1 377.8h1v1h-1zM596.3 373.8h1v1h-1zM588.8 376.6h1v1h-1zM586.5 376.5h1v1h-1zM591 371.5h1v1h-1zM597.9 376.7h1v1h-1zM593.1 376.5h1v1h-1zM576.6 371.8h1v1h-1zM583.4 371h1v1h-1zM586 373.9h1v1h-1zM588 369.5h1v1h-1zM588.9 375.8h1v1h-1zM594 376.1h1v1h-1zM595.3 372.6h1v1h-1zM588.1 378.2h1v1h-1zM594 373.3h1v1h-1zM599.8 374.2h1v1h-1zM593.8 377.6h1v1h-1zM589.1 375h1v1h-1zM601 372.3h1v1h-1zM584.2 372.1h1v1h-1zM581.4 374h1v1h-1zM590.4 369.8h1v1h-1zM576.5 375.5h1v1h-1zM595.2 369.7h1v1h-1zM592.7 375.6h1v1h-1zM588.5 374.4h1v1h-1zM590.2 368.8h1v1h-1zM591.5 376.4h1v1h-1zM599 372.5h1v1h-1zM597.3 376.5h1v1h-1zM588.9 369.1h1v1h-1zM585.8 375.9h1v1h-1zM577.5 373.3h1v1h-1zM594.8 374.2h1v1h-1zM587.7 373.2h1v1h-1zM582 376.8h1v1h-1zM579.1 374.4h1v1h-1zM571.7 372.6h1v1h-1zM580.3 371.5h1v1h-1zM576.4 375h1v1h-1zM589.9 377.3h1v1h-1zM581.9 370.3h1v1h-1zM598.3 373h1v1h-1zM576.2 375.5h1v1h-1zM598.8 374.6h1v1h-1zM596.4 371.4h1v1h-1zM596.4 378.2h1v1h-1zM587 372.4h1v1h-1zM597.5 377.4h1v1h-1zM575.5 377.2h1v1h-1zM578.6 371.5h1v1h-1zM583.3 367.8h1v1h-1zM577.3 374.7h1v1h-1zM576.1 369.6h1v1h-1zM589.6 373.3h1v1h-1zM572.2 375.2h1v1h-1zM575.6 376h1v1h-1zM573.9 378.3h1v1h-1zM593.3 378.9h1v1h-1zM582.5 376.3h1v1h-1zM598.5 372.8h1v1h-1zM586.1 373.7h1v1h-1zM595.2 369.8h1v1h-1zM576.1 374.7h1v1h-1zM580 376.5h1v1h-1zM592.8 375h1v1h-1zM576.6 369.4h1v1h-1zM575.3 370.9h1v1h-1zM572.8 371.2h1v1h-1zM571.9 376.9h1v1h-1zM571.8 368h1v1h-1zM584.1 369.9h1v1h-1zM589 370.1h1v1h-1zM595.1 372.4h1v1h-1zM574.2 378.1h1v1h-1zM580 373.1h1v1h-1zM591.1 376h1v1h-1zM596.1 376.8h1v1h-1zM593.3 368.4h1v1h-1zM584.3 376.2h1v1h-1zM572.7 374.1h1v1h-1zM596.2 378.5h1v1h-1zM596.1 378.3h1v1h-1zM573.7 375.5h1v1h-1zM576.6 372.3h1v1h-1zM582.1 371.6h1v1h-1zM582.8 370.2h1v1h-1zM576.1 369.2h1v1h-1zM599.3 369.7h1v1h-1zM595.9 373.1h1v1h-1zM594.4 376.7h1v1h-1zM579.9 376.5h1v1h-1zM592.6 370.3h1v1h-1zM588.6 372.1h1v1h-1zM577.2 376.7h1v1h-1zM597.8 374.8h1v1h-1zM590.7 371.9h1v1h-1zM597 375.9h1v1h-1zM600.2 373.2h1v1h-1zM575.9 370.3h1v1h-1zM577.1 376.1h1v1h-1zM599.1 368.8h1v1h-1zM600.3 376.7h1v1h-1zM592.7 370.6h1v1h-1zM576.6 372.6h1v1h-1zM592.6 369h1v1h-1zM593.6 372.1h1v1h-1zM584.3 378h1v1h-1zM575.1 373.6h1v1h-1zM589 374.5h1v1h-1zM594.2 371.4h1v1h-1zM573.3 372.9h1v1h-1zM595.1 375h1v1h-1zM580.6 378.3h1v1h-1zM571.9 371.9h1v1h-1zM599 376.5h1v1h-1zM583.6 372.6h1v1h-1zM589.9 376.1h1v1h-1zM576.6 372.5h1v1h-1zM600.7 375.4h1v1h-1zM582.2 374.4h1v1h-1zM589.2 378h1v1h-1zM594.7 379.5h1v1h-1zM590.8 377.4h1v1h-1zM575.9 376.3h1v1h-1zM592 375.2h1v1h-1zM598.4 375.4h1v1h-1zM583.5 371.5h1v1h-1zM593.4 371h1v1h-1zM577.6 370.7h1v1h-1zM594.3 371.7h1v1h-1zM575.8 372.6h1v1h-1zM582.5 371.7h1v1h-1zM590.3 378.6h1v1h-1zM586.9 370.3h1v1h-1zM600.6 370.9h1v1h-1zM590.6 372.4h1v1h-1zM591.8 377.5h1v1h-1zM577.6 375.6h1v1h-1zM573.4 372.8h1v1h-1zM594.1 370h1v1h-1zM598 375.3h1v1h-1zM575.1 376h1v1h-1zM577.1 377.2h1v1h-1zM591.4 369h1v1h-1zM581.6 371.4h1v1h-1zM594.1 370h1v1h-1zM592.6 371.7h1v1h-1zM572.6 374.3h1v1h-1zM576.7 370.3h1v1h-1zM596.5 370.2h1v1h-1zM578.2 373.8h1v1h-1zM592.9 374.3h1v1h-1zM575.4 373.6h1v1h-1zM585.5 372.5h1v1h-1zM576.7 371.7h1v1h-1zM577.1 374.6h1v1h-1zM591.1 376.5h1v1h-1zM595.3 373.8h1v1h-1zM580.7 372.1h1v1h-1zM575 373.5h1v1h-1zM580.4 369.5h1v1h-1zM590.6 377.7h1v1h-1zM584.3 376.8h1v1h-1zM598.2 370h1v1h-1zM580.6 371.3h1v1h-1zM572.8 370.2h1v1h-1zM591.5 379.9h1v1h-1zM578.2 374.5h1v1h-1zM598.6 372.2h1v1h-1zM596.7 370.5h1v1h-1zM594.8 374.9h1v1h-1zM593.7 371.7h1v1h-1zM600.3 372.7h1v1h-1zM582.4 375.6h1v1h-1zM591.8 377.2h1v1h-1zM580.9 374.9h1v1h-1zM593.5 375.7h1v1h-1zM594.4 369.7h1v1h-1zM577.9 374.8h1v1h-1zM586 373.4h1v1h-1zM574.5 373h1v1h-1zM588 373.2h1v1h-1zM588.7 371.7h1v1h-1zM573.5 376.7h1v1h-1zM596.1 372.5h1v1h-1zM574.7 374.6h1v1h-1zM600.3 376.1h1v1h-1zM596 375.1h1v1h-1zM594.3 373.4h1v1h-1zM581.2 369.2h1v1h-1zM573.1 372.9h1v1h-1zM574.9 376h1v1h-1zM587.6 370.1h1v1h-1zM584.9 370.8h1v1h-1zM597.7 372.9h1v1h-1zM594.2 374.9h1v1h-1zM597.9 372.9h1v1h-1zM579.2 374.9h1v1h-1zM576.3 370.4h1v1h-1zM587.1 371.3h1v1h-1zM574 376.1h1v1h-1zM597.5 377.4h1v1h-1zM572.8 376.1h1v1h-1zM582.4 370.1h1v1h-1zM592.9 376h1v1h-1zM581.1 373.9h1v1h-1zM574.1 372.1h1v1h-1zM588.1 377.4h1v1h-1zM578.6 374.7h1v1h-1zM573 368.1h1v1h-1zM586.3 375.8h1v1h-1zM584.1 368.2h1v1h-1zM597.1 375.8h1v1h-1zM577 376.9h1v1h-1zM574.1 373.3h1v1h-1zM599 370h1v1h-1zM595.6 371.2h1v1h-1zM573 371h1v1h-1zM578.9 371.3h1v1h-1zM597.8 375.5h1v1h-1zM596.2 374.2h1v1h-1zM574.6 378.2h1v1h-1zM582.4 376h1v1h-1zM596.3 370.6h1v1h-1zM571.6 377.2h1v1h-1zM585.6 369.3h1v1h-1zM571.8 377.1h1v1h-1zM585.6 372.7h1v1h-1zM577.7 372h1v1h-1zM582.7 376.7h1v1h-1zM575.9 369.3h1v1h-1zM594.5 376.4h1v1h-1zM585.9 376.6h1v1h-1zM583.6 376.6h1v1h-1zM572.1 372.5h1v1h-1zM596.9 375.5h1v1h-1zM590.2 370.1h1v1h-1zM593.2 374.4h1v1h-1zM587 379.4h1v1h-1zM590.2 373.3h1v1h-1zM578.3 369.2h1v1h-1zM600.1 368.1h1v1h-1zM576.8 376.5h1v1h-1zM599.4 377h1v1h-1zM581 378h1v1h-1zM582.9 372.2h1v1h-1zM585.3 374.1h1v1h-1zM597.1 376.4h1v1h-1zM600.1 373.2h1v1h-1zM580.2 375.5h1v1h-1zM576.9 375.5h1v1h-1zM582 376.1h1v1h-1zM596.3 372.3h1v1h-1zM573.6 371.3h1v1h-1zM599.6 377.5h1v1h-1zM588 373.8h1v1h-1zM586.5 372.3h1v1h-1zM576.3 376.5h1v1h-1zM572.6 372.5h1v1h-1zM577.3 369.5h1v1h-1zM594.3 370.8h1v1h-1zM594 378.7h1v1h-1zM584.5 374.7h1v1h-1zM584.9 374h1v1h-1zM592.5 374h1v1h-1zM591.1 374.1h1v1h-1zM589.1 374.7h1v1h-1zM572.4 369h1v1h-1zM572.3 369.6h1v1h-1zM597.6 369.8h1v1h-1zM586.5 371.9h1v1h-1zM596.7 370.1h1v1h-1zM600.5 369.5h1v1h-1zM583.4 373.5h1v1h-1zM596.5 376.4h1v1h-1zM590 367.2h1v1h-1zM591.8 372.5h1v1h-1zM596.7 374h1v1h-1zM578.4 377.3h1v1h-1zM576.8 376.5h1v1h-1zM590 376.5h1v1h-1zM593.7 374.8h1v1h-1zM592.3 370.9h1v1h-1zM585.9 375.6h1v1h-1zM594.4 374.2h1v1h-1zM589.5 371.5h1v1h-1zM588.5 372.5h1v1h-1zM594.4 376.4h1v1h-1zM583 373.8h1v1h-1zM600.5 378.7h1v1h-1zM587.3 372.8h1v1h-1zM577.6 373h1v1h-1zM590.3 375.6h1v1h-1zM576.7 377.9h1v1h-1zM588.2 374.9h1v1h-1zM576.7 376.2h1v1h-1zM594.4 375.1h1v1h-1zM596.5 376.4h1v1h-1zM592.9 369.4h1v1h-1zM583.3 372.7h1v1h-1zM580.5 373.2h1v1h-1zM589.4 370.1h1v1h-1zM595.9 372.4h1v1h-1zM589.3 371.6h1v1h-1zM596.6 373.2h1v1h-1zM578.4 371.9h1v1h-1zM596.9 379.9h1v1h-1zM584.2 375.6h1v1h-1zM579.1 370.4h1v1h-1zM580.2 368.7h1v1h-1zM579.6 376h1v1h-1zM575.2 375.4h1v1h-1zM583.2 373.2h1v1h-1zM598 375.5h1v1h-1zM580.6 377.6h1v1h-1zM595.2 370.9h1v1h-1zM586.8 377.5h1v1h-1zM591.5 370.6h1v1h-1zM573.6 370.2h1v1h-1zM598.5 375.5h1v1h-1zM593.7 371.8h1v1h-1zM589.5 375.7h1v1h-1zM600 374.8h1v1h-1zM578.3 374.7h1v1h-1zM586 371.9h1v1h-1zM573.3 379.6h1v1h-1zM580.8 369.2h1v1h-1zM587.3 371.9h1v1h-1zM594.1 373.1h1v1h-1zM581 372.1h1v1h-1zM595.3 375.1h1v1h-1zM581.7 372.1h1v1h-1zM595.8 373.1h1v1h-1zM593.2 371.1h1v1h-1zM579.1 376.4h1v1h-1zM594.9 372.3h1v1h-1zM598.2 372.4h1v1h-1zM585 370.4h1v1h-1zM580.3 371.1h1v1h-1zM573.3 377h1v1h-1zM598.7 373.4h1v1h-1zM593.2 374.9h1v1h-1zM587.5 375h1v1h-1zM582.4 377.6h1v1h-1zM597.9 374.7h1v1h-1zM583.8 373h1v1h-1zM592.4 376.9h1v1h-1zM595.4 374.2h1v1h-1zM575.5 373.4h1v1h-1zM578.8 373.4h1v1h-1zM580.4 369.9h1v1h-1zM598 373.7h1v1h-1zM587.1 378.5h1v1h-1zM598.7 375.4h1v1h-1zM580.1 373.3h1v1h-1zM572.5 372.7h1v1h-1zM573.7 374h1v1h-1zM572.2 377.9h1v1h-1zM597 374.4h1v1h-1zM586.9 368.2h1v1h-1zM574.5 374.5h1v1h-1zM600.3 371.9h1v1h-1zM585.2 375.6h1v1h-1zM581.4 376.7h1v1h-1zM577 372.3h1v1h-1zM576.6 377.6h1v1h-1zM580.8 368.7h1v1h-1zM578 375.6h1v1h-1zM581.1 371.7h1v1h-1zM578 370.2h1v1h-1zM588.3 377h1v1h-1zM590.7 378.5h1v1h-1zM600.5 372.8h1v1h-1zM594.8 371.2h1v1h-1zM581.1 375.9h1v1h-1zM594.2 374.9h1v1h-1zM595.5 373.9h1v1h-1zM576.6 369.4h1v1h-1zM599.6 377.9h1v1h-1zM579.3 370h1v1h-1zM590.8 370h1v1h-1zM593.9 376.1h1v1h-1zM596.2 376.7h1v1h-1zM600.8 372.5h1v1h-1zM593.2 376.9h1v1h-1zM584.4 376.8h1v1h-1zM578.3 368.9h1v1h-1zM579.8 376.3h1v1h-1zM590.5 376.8h1v1h-1zM576.9 376.6h1v1h-1zM595.1 372.1h1v1h-1zM581.3 377.1h1v1h-1zM586.5 374h1v1h-1zM577.1 375.2h1v1h-1zM577.8 371.3h1v1h-1zM591.6 374.4h1v1h-1zM574.9 370.2h1v1h-1zM577.6 370.6h1v1h-1zM572.3 374.5h1v1h-1zM578.9 370.9h1v1h-1zM585.6 376.8h1v1h-1zM598.1 376h1v1h-1zM579.9 369.1h1v1h-1zM589.7 370.2h1v1h-1zM592.1 379.1h1v1h-1zM590 377.8h1v1h-1zM596.7 376.7h1v1h-1zM581.4 371.3h1v1h-1zM587.2 376.9h1v1h-1zM573.4 376.2h1v1h-1zM578.3 377.3h1v1h-1zM587.3 370.3h1v1h-1zM594.2 374.5h1v1h-1zM597 377.3h1v1h-1zM593.8 368.3h1v1h-1zM600.7 373.5h1v1h-1zM599.6 370.4h1v1h-1zM592.9 374.6h1v1h-1zM597.1 374.7h1v1h-1zM588.9 373.1h1v1h-1zM580.5 368.9h1v1h-1zM582.5 374.7h1v1h-1zM584.9 370.5h1v1h-1zM595.2 370.1h1v1h-1zM595.9 371.2h1v1h-1zM598.5 374.4h1v1h-1zM599.4 368h1v1h-1zM587.9 371.6h1v1h-1zM579.3 376.2h1v1h-1zM584.4 375.5h1v1h-1zM585.7 371.4h1v1h-1zM576.3 376.6h1v1h-1zM585.3 372.4h1v1h-1zM595.6 369.7h1v1h-1zM586.5 374.9h1v1h-1zM586.3 376.3h1v1h-1zM572.7 375.1h1v1h-1zM589.1 370.1h1v1h-1zM585.2 372.6h1v1h-1zM576.1 374.7h1v1h-1zM581.3 375.9h1v1h-1zM587.5 377.9h1v1h-1zM573.6 378.6h1v1h-1zM589.9 370.2h1v1h-1zM573.4 372.7h1v1h-1zM593.9 371.1h1v1h-1zM587.9 371.5h1v1h-1zM590.7 376.1h1v1h-1zM600.9 369.7h1v1h-1zM591 370.4h1v1h-1zM581.5 374.1h1v1h-1zM595.8 377h1v1h-1zM598.4 376.2h1v1h-1zM593.7 378.4h1v1h-1zM591.1 370.5h1v1h-1zM596.5 375.4h1v1h-1zM591.5 376.7h1v1h-1zM599.1 374.7h1v1h-1zM577.5 373.2h1v1h-1zM595 376.7h1v1h-1zM596.6 369.5h1v1h-1zM584.4 375.6h1v1h-1zM571.6 369.8h1v1h-1zM575.3 370.6h1v1h-1zM589.7 376.6h1v1h-1zM600.9 375.1h1v1h-1zM586.8 371h1v1h-1zM594.8 369.5h1v1h-1zM597.8 372.6h1v1h-1zM590.8 371.3h1v1h-1zM579.9 370.2h1v1h-1zM590.1 370h1v1h-1zM598.4 370.6h1v1h-1zM578.1 374.8h1v1h-1zM572.8 373.6h1v1h-1zM592.9 373.4h1v1h-1zM573.5 371.4h1v1h-1zM575 376h1v1h-1zM589.5 374.1h1v1h-1zM571.5 369.5h1v1h-1zM586.8 376.4h1v1h-1zM590.1 370.4h1v1h-1zM582.6 375.2h1v1h-1zM589.7 374.6h1v1h-1zM578.8 375h1v1h-1zM596.8 372.8h1v1h-1zM594 377.4h1v1h-1zM594.8 372.7h1v1h-1zM595.3 369.6h1v1h-1zM583.9 377.3h1v1h-1zM574.6 371.3h1v1h-1zM593.3 376.1h1v1h-1zM598.4 378.5h1v1h-1zM587.1 376.6h1v1h-1zM573.8 376.3h1v1h-1zM573.5 371.6h1v1h-1zM597.2 376.9h1v1h-1zM571.5 371.2h1v1h-1zM588.9 372.3h1v1h-1zM601 371.3h1v1h-1zM592.5 371.9h1v1h-1zM578.5 371.3h1v1h-1zM589.7 373.5h1v1h-1zM582.7 378h1v1h-1zM590.6 374h1v1h-1zM593.1 376.5h1v1h-1zM593 369.4h1v1h-1zM576.5 375.1h1v1h-1zM574.7 373.7h1v1h-1zM578.5 377.2h1v1h-1zM592.2 376h1v1h-1zM581.3 373.9h1v1h-1zM600.8 376h1v1h-1zM593.1 371.5h1v1h-1zM585.5 374.6h1v1h-1zM588.3 374.5h1v1h-1zM593.1 376.1h1v1h-1zM578.2 374.9h1v1h-1zM583.4 375.1h1v1h-1zM596.6 368.7h1v1h-1zM591 376.1h1v1h-1zM573.3 377.9h1v1h-1zM600.4 374.5h1v1h-1zM583.1 376.6h1v1h-1zM572.7 374h1v1h-1zM571.8 375.7h1v1h-1zM579.5 373.5h1v1h-1zM598.8 374.1h1v1h-1zM582.1 376.1h1v1h-1zM572.9 376.3h1v1h-1zM594.1 372.8h1v1h-1zM590.8 374.7h1v1h-1zM595.4 368.8h1v1h-1zM589.7 370.1h1v1h-1zM594 370.8h1v1h-1zM594.1 373.9h1v1h-1zM583.9 376.4h1v1h-1zM594.8 376.6h1v1h-1zM574.8 374.9h1v1h-1zM575.2 377.2h1v1h-1zM580.2 373.8h1v1h-1zM585 374.4h1v1h-1zM598 373.5h1v1h-1zM573.9 376.8h1v1h-1zM590.4 374.4h1v1h-1zM580.7 377.2h1v1h-1zM593.1 378.4h1v1h-1zM573.5 376.2h1v1h-1zM588.1 374.2h1v1h-1zM572.1 370.3h1v1h-1zM592.1 374h1v1h-1zM591.2 368.5h1v1h-1zM577.8 378.3h1v1h-1zM587 376.7h1v1h-1zM597.5 374h1v1h-1zM587.3 378.6h1v1h-1zM580.3 370.8h1v1h-1zM572.6 369.8h1v1h-1zM600.9 377.8h1v1h-1zM573.9 372.9h1v1h-1zM581.9 376.2h1v1h-1zM575.1 375.8h1v1h-1zM595.2 377.6h1v1h-1zM591 376.8h1v1h-1zM591.2 371.2h1v1h-1zM574.1 373.8h1v1h-1zM582.2 376.8h1v1h-1zM595.5 373.5h1v1h-1zM577.8 369.4h1v1h-1zM574.4 374.5h1v1h-1zM590.7 371.1h1v1h-1zM581.5 366.1h1v1h-1zM598.4 373.5h1v1h-1zM591.3 377.1h1v1h-1zM591.1 379.4h1v1h-1zM576.3 373.5h1v1h-1zM589.4 369.4h1v1h-1zM587.4 370.3h1v1h-1zM586.1 372.1h1v1h-1zM619.5 369.8h1v1h-1zM611.9 373h1v1h-1zM613.8 368.8h1v1h-1zM594.3 365.3h1v1h-1zM612.7 375.1h1v1h-1zM594 368.6h1v1h-1zM614.7 366.6h1v1h-1zM601.2 367.6h1v1h-1zM593.3 375h1v1h-1zM600 373.4h1v1h-1zM615.2 365.2h1v1h-1zM608.5 366.3h1v1h-1zM602.6 366h1v1h-1zM599 366.6h1v1h-1zM615.3 376.7h1v1h-1zM587.3 366.9h1v1h-1zM592.2 365.3h1v1h-1zM591.6 368.7h1v1h-1zM619 369.3h1v1h-1zM585.1 364.3h1v1h-1zM586.2 366.5h1v1h-1zM599.7 364.7h1v1h-1zM607.5 367h1v1h-1zM609.3 366.9h1v1h-1zM579.9 369.5h1v1h-1zM612.2 367.1h1v1h-1zM601.4 370.5h1v1h-1zM580.1 374.3h1v1h-1zM588.5 366.6h1v1h-1zM617.6 373.3h1v1h-1zM598.4 375.6h1v1h-1zM602.1 364.6h1v1h-1zM591.3 366.5h1v1h-1zM593.6 373.1h1v1h-1zM590.5 369.9h1v1h-1zM592.5 367.4h1v1h-1zM618.4 366h1v1h-1zM597.8 375.1h1v1h-1zM610.7 370h1v1h-1zM608.9 369.4h1v1h-1zM604.5 368.1h1v1h-1zM607.8 370.7h1v1h-1zM610 364.6h1v1h-1zM583.1 373h1v1h-1zM588.6 363.7h1v1h-1zM598.6 372.2h1v1h-1zM594 365.9h1v1h-1zM582 372.2h1v1h-1zM587.9 368.8h1v1h-1zM595.3 370.5h1v1h-1zM587.8 373.5h1v1h-1zM609.7 370.3h1v1h-1zM614.8 368.5h1v1h-1zM579.6 375.3h1v1h-1zM586.9 376.5h1v1h-1zM594.5 374.3h1v1h-1zM583.8 374.6h1v1h-1zM604.5 369.2h1v1h-1zM591.8 368h1v1h-1zM602.9 367h1v1h-1zM581.4 368.3h1v1h-1zM597.8 363.7h1v1h-1zM584.5 374.1h1v1h-1zM600 363.9h1v1h-1zM607.8 375.7h1v1h-1zM599.4 364h1v1h-1zM599.5 364.8h1v1h-1zM588.2 372.4h1v1h-1zM619.4 364.6h1v1h-1zM611.5 369.1h1v1h-1zM584.7 364.4h1v1h-1zM608.3 368.4h1v1h-1zM600.6 367.6h1v1h-1zM599.5 369.7h1v1h-1zM592.6 372.7h1v1h-1zM581.1 374h1v1h-1zM582.7 364.8h1v1h-1zM584.8 366h1v1h-1zM592.2 369.5h1v1h-1zM610.6 376h1v1h-1zM579.3 372h1v1h-1zM595.3 374.5h1v1h-1zM582.7 366.5h1v1h-1zM582.1 375.4h1v1h-1zM597.5 375.5h1v1h-1zM603.6 376h1v1h-1zM587.4 376.9h1v1h-1zM597.2 373.4h1v1h-1zM595.7 368.4h1v1h-1zM609.6 371.4h1v1h-1zM610.5 370.5h1v1h-1zM604.4 371.8h1v1h-1zM578.4 373h1v1h-1zM615.4 371.4h1v1h-1zM596.8 370.9h1v1h-1zM605.4 374h1v1h-1zM585.5 368.3h1v1h-1zM588.4 365.2h1v1h-1zM613 368h1v1h-1zM598.8 369.7h1v1h-1zM586.8 375.1h1v1h-1zM600.5 370.5h1v1h-1zM592.5 370.4h1v1h-1zM592.5 372.3h1v1h-1zM587.5 372.9h1v1h-1zM581.4 371.2h1v1h-1zM602.7 371.3h1v1h-1zM578 367.7h1v1h-1zM584 364.6h1v1h-1zM588.6 370.6h1v1h-1zM578.3 366.5h1v1h-1zM612.6 370.9h1v1h-1zM597.4 366.1h1v1h-1zM608.8 368.3h1v1h-1zM600.6 370.9h1v1h-1zM580.6 373.6h1v1h-1zM608.7 366.7h1v1h-1zM582.6 366.1h1v1h-1zM591.3 373.6h1v1h-1zM605.1 367.4h1v1h-1zM586.2 335.6h1v1h-1zM608.4 344.1h1v1h-1zM578.8 347.2h1v1h-1zM593.6 350.2h1v1h-1zM608.4 345.9h1v1h-1z" fill="#d42a3a"/>
<path d="M550.4 385.3h1v1h-1zM564.2 386.7h1v1h-1zM564.6 390.1h1v1h-1zM554.1 385.8h1v1h-1zM551.9 389.2h1v1h-1zM554.1 386.3h1v1h-1zM557.3 383.2h1v1h-1zM567.3 388.6h1v1h-1zM559.2 391h1v1h-1zM557.6 390.9h1v1h-1zM563.4 383.8h1v1h-1zM557.4 389.9h1v1h-1zM567.3 388.1h1v1h-1zM551.4 389.5h1v1h-1zM567.2 390.5h1v1h-1zM567.6 388.6h1v1h-1zM549.9 389h1v1h-1zM559.1 383.5h1v1h-1zM565.6 387.4h1v1h-1zM554.5 382.5h1v1h-1zM559.8 385.5h1v1h-1zM561.5 386.5h1v1h-1zM560.5 389.4h1v1h-1zM553.8 387.2h1v1h-1zM567.5 388h1v1h-1zM552 388.2h1v1h-1zM564.8 385.4h1v1h-1zM558.5 385.9h1v1h-1zM565.1 387.8h1v1h-1zM550.1 383.9h1v1h-1zM549.4 389.3h1v1h-1zM551.3 387.2h1v1h-1zM565.3 391.1h1v1h-1zM562.2 381.4h1v1h-1zM567 389h1v1h-1zM556.1 384.9h1v1h-1zM562.2 384h1v1h-1zM563.8 387.2h1v1h-1zM549.7 382.2h1v1h-1zM560 390.1h1v1h-1zM563.2 389.4h1v1h-1zM560.8 390.1h1v1h-1zM559.6 389.3h1v1h-1zM561.1 383.4h1v1h-1zM567.4 385.1h1v1h-1zM550.7 386.8h1v1h-1zM551 383.4h1v1h-1zM557.4 390h1v1h-1zM560 387.1h1v1h-1zM566.1 385.8h1v1h-1zM551.6 387.3h1v1h-1zM553.6 383.2h1v1h-1zM563.7 384h1v1h-1zM557.6 388.4h1v1h-1zM556.4 382.8h1v1h-1zM564.6 382.3h1v1h-1zM566.5 388.3h1v1h-1zM567 381.8h1v1h-1zM551 386.5h1v1h-1zM564.9 383.9h1v1h-1zM560.4 388.8h1v1h-1zM552 382.5h1v1h-1zM551.7 386.9h1v1h-1zM551.1 390h1v1h-1zM557.6 382.1h1v1h-1zM566 390.1h1v1h-1zM561.1 380.6h1v1h-1zM553.4 390.7h1v1h-1zM554.6 383.2h1v1h-1zM553.2 388.4h1v1h-1zM559.3 392.3h1v1h-1zM561.9 391.2h1v1h-1zM564 387.7h1v1h-1zM566.1 386.1h1v1h-1zM562.1 383.4h1v1h-1zM559.5 380.8h1v1h-1zM554.8 387.2h1v1h-1zM556.2 388.9h1v1h-1zM567.2 389.2h1v1h-1zM553.5 383.3h1v1h-1zM555 384.4h1v1h-1zM549.2 388.3h1v1h-1zM555.1 389.5h1v1h-1zM561.6 384h1v1h-1zM558.8 390.3h1v1h-1zM567.3 382.5h1v1h-1zM553.8 387.4h1v1h-1zM560.3 387.2h1v1h-1zM564.6 388.4h1v1h-1zM563.2 385.2h1v1h-1zM563.5 387.3h1v1h-1zM561.5 384.2h1v1h-1zM556.5 388h1v1h-1zM559.7 388.2h1v1h-1zM563.1 383.5h1v1h-1zM566.3 384.6h1v1h-1zM565.6 391.1h1v1h-1zM558.1 386h1v1h-1zM557.3 381.9h1v1h-1zM558.6 387.8h1v1h-1zM559.7 390.6h1v1h-1zM554.8 383.9h1v1h-1zM562.2 383h1v1h-1zM559.6 382.2h1v1h-1zM563.4 383h1v1h-1zM549.4 389.1h1v1h-1zM562.5 388.4h1v1h-1zM554.7 391.3h1v1h-1zM551.5 389.2h1v1h-1zM559.9 382.7h1v1h-1zM559.5 382.5h1v1h-1zM555 385.4h1v1h-1zM558.9 381.1h1v1h-1zM565.2 384.3h1v1h-1zM565.8 388.5h1v1h-1zM564.6 383.9h1v1h-1zM558.8 383.1h1v1h-1zM560.8 383.9h1v1h-1zM561.8 385.5h1v1h-1zM566.9 388.6h1v1h-1zM551.8 387.7h1v1h-1zM552.1 389.8h1v1h-1zM553.2 387.3h1v1h-1zM561.2 382h1v1h-1zM566.4 384.7h1v1h-1zM551.3 383.1h1v1h-1zM559.9 381.9h1v1h-1zM555.7 388.8h1v1h-1zM554 386.4h1v1h-1zM560.5 383.8h1v1h-1zM550.4 382h1v1h-1zM563.2 389.9h1v1h-1zM567.2 391h1v1h-1zM563 384h1v1h-1zM555.7 385.7h1v1h-1zM559 386.6h1v1h-1zM563.6 386.4h1v1h-1zM564.1 388.1h1v1h-1zM556.2 383.1h1v1h-1zM565.4 382.6h1v1h-1zM553.2 388h1v1h-1zM559.4 387.4h1v1h-1zM566.7 382.2h1v1h-1zM555.6 382.7h1v1h-1zM558.7 388.5h1v1h-1zM563.5 381.8h1v1h-1zM555 390.3h1v1h-1zM559 385.4h1v1h-1zM558.2 387.3h1v1h-1zM560.7 388.8h1v1h-1zM550.2 390.1h1v1h-1zM561.1 390h1v1h-1zM554.9 387.8h1v1h-1zM565.6 391.7h1v1h-1zM562.6 383.7h1v1h-1zM549.5 389.9h1v1h-1zM550.2 383.8h1v1h-1zM558.3 384h1v1h-1zM550.9 389.2h1v1h-1zM556.1 387.5h1v1h-1zM560.7 382.3h1v1h-1zM556 386.3h1v1h-1zM550 387.6h1v1h-1zM551.4 382.3h1v1h-1zM562.8 383.2h1v1h-1zM558.4 390.5h1v1h-1zM552.9 383.1h1v1h-1zM561.8 387.2h1v1h-1zM562.4 385.8h1v1h-1zM556 387.2h1v1h-1zM549.6 386.7h1v1h-1zM565.9 384.9h1v1h-1zM562.5 387.3h1v1h-1zM561.7 389.6h1v1h-1zM562.7 388h1v1h-1zM553.6 391h1v1h-1zM555.8 385h1v1h-1zM551.8 389h1v1h-1zM549.5 382h1v1h-1zM554.5 389.2h1v1h-1zM567.4 382.3h1v1h-1zM559.1 383.9h1v1h-1zM562.8 382.1h1v1h-1zM562.7 382.9h1v1h-1zM561.4 383.4h1v1h-1zM560.4 389.1h1v1h-1zM563.6 391.7h1v1h-1zM558.3 384.6h1v1h-1zM565.9 387.5h1v1h-1zM558.4 384.2h1v1h-1zM564.3 382.7h1v1h-1zM565.4 388h1v1h-1zM562.5 381.2h1v1h-1zM553.1 382.6h1v1h-1zM551.5 383h1v1h-1zM553.9 385.3h1v1h-1zM556.7 384.4h1v1h-1zM559.1 387.6h1v1h-1zM560.2 384.4h1v1h-1zM558.9 388h1v1h-1zM564.3 387.5h1v1h-1zM565.4 383.1h1v1h-1zM554.7 385.3h1v1h-1zM560.4 386.2h1v1h-1zM556.7 390.9h1v1h-1zM566.9 384.8h1v1h-1zM551.1 387.2h1v1h-1zM557.7 387.9h1v1h-1zM559.5 387.5h1v1h-1zM554.8 387.5h1v1h-1zM566.4 387.8h1v1h-1zM555.2 389.6h1v1h-1zM554.2 388h1v1h-1zM563.8 384.8h1v1h-1zM558.2 390.1h1v1h-1zM559.3 386.8h1v1h-1zM560.9 389.7h1v1h-1zM567 388.3h1v1h-1zM561.5 388.9h1v1h-1zM558.5 387.2h1v1h-1zM563.9 391.5h1v1h-1zM565.6 384.4h1v1h-1zM562.2 385.8h1v1h-1zM549.6 387.9h1v1h-1zM564.4 389.7h1v1h-1zM564.9 388.4h1v1h-1zM551.4 389.9h1v1h-1zM565.3 385h1v1h-1zM567.6 384.8h1v1h-1zM556 388.7h1v1h-1zM566.7 383.4h1v1h-1zM559.3 381.1h1v1h-1zM562.2 383.2h1v1h-1zM564.4 388.5h1v1h-1zM555.3 384.3h1v1h-1zM563.3 388.9h1v1h-1zM560.4 382.1h1v1h-1zM550 386.1h1v1h-1zM553.8 382.5h1v1h-1zM564.9 389.3h1v1h-1zM554.2 385.2h1v1h-1zM559.9 391.8h1v1h-1zM553.5 386.8h1v1h-1zM563.3 390.3h1v1h-1zM560.9 385h1v1h-1zM559.5 385.8h1v1h-1zM551.8 389.4h1v1h-1zM556.1 384.3h1v1h-1zM558.5 386.9h1v1h-1zM563.9 391.2h1v1h-1zM565.2 391.3h1v1h-1zM566.6 391.6h1v1h-1zM559.3 390h1v1h-1zM565 386.1h1v1h-1zM555.8 385.2h1v1h-1zM564.2 387.8h1v1h-1zM562.8 385h1v1h-1zM561.6 389.7h1v1h-1zM559.8 385.5h1v1h-1zM567.4 388.1h1v1h-1zM555.9 383.6h1v1h-1zM562.6 387.6h1v1h-1zM556.8 386.3h1v1h-1zM557.7 391.4h1v1h-1zM563.3 390.5h1v1h-1zM566.4 388.1h1v1h-1zM556.7 383.7h1v1h-1zM564.3 383h1v1h-1zM567.6 387.6h1v1h-1zM560.5 385.6h1v1h-1zM563.5 390.1h1v1h-1zM555.4 386.8h1v1h-1zM551.7 388.2h1v1h-1zM559.5 388.8h1v1h-1zM553.3 384.2h1v1h-1zM557.8 389h1v1h-1zM549.6 384.1h1v1h-1zM550.5 390.7h1v1h-1zM556.5 388.6h1v1h-1zM561.2 384.8h1v1h-1zM559 390.2h1v1h-1zM549.8 385h1v1h-1zM563.4 384.9h1v1h-1zM562.5 389.3h1v1h-1zM557.7 384.1h1v1h-1zM559.9 389.1h1v1h-1zM557.8 388.1h1v1h-1zM565.8 387.2h1v1h-1zM554.7 391.5h1v1h-1zM557.7 388.8h1v1h-1zM563.5 387.4h1v1h-1zM560.1 381.9h1v1h-1zM567.5 388h1v1h-1zM550.3 384.5h1v1h-1zM552.6 387.8h1v1h-1zM550.8 388h1v1h-1zM566.7 385.2h1v1h-1zM564.2 388.9h1v1h-1zM565.6 388.1h1v1h-1zM556.6 385.2h1v1h-1zM555.9 385.1h1v1h-1zM558.9 387.9h1v1h-1zM551.8 389.6h1v1h-1zM551.1 387.9h1v1h-1zM565.3 383.6h1v1h-1zM555 384h1v1h-1zM552.4 384.2h1v1h-1zM552.3 385.3h1v1h-1zM556.6 389h1v1h-1zM557 383.7h1v1h-1zM564.3 389.3h1v1h-1zM560.4 386.8h1v1h-1zM550.7 386.8h1v1h-1zM557.5 386h1v1h-1zM554 389.4h1v1h-1zM562.6 384.1h1v1h-1zM561.6 388.3h1v1h-1zM551.4 387.1h1v1h-1zM551.7 383.7h1v1h-1zM549.9 384.4h1v1h-1zM563.6 389.6h1v1h-1zM566.3 387.3h1v1h-1zM565.3 383.7h1v1h-1zM567.6 387.5h1v1h-1zM551.4 387h1v1h-1zM559.3 382.6h1v1h-1zM555.5 388.9h1v1h-1zM567.6 385.8h1v1h-1zM551.1 385.6h1v1h-1zM551 383.9h1v1h-1zM567.4 384.3h1v1h-1zM553.1 384.7h1v1h-1zM554.7 384.1h1v1h-1zM564.8 384h1v1h-1zM551.6 383.9h1v1h-1zM553.4 388.5h1v1h-1zM565.9 391.7h1v1h-1zM551.5 389h1v1h-1zM565.7 385h1v1h-1zM558.3 383h1v1h-1zM562 386.3h1v1h-1zM558.1 384.5h1v1h-1zM564.9 387.4h1v1h-1zM550.7 385.2h1v1h-1zM564.6 383h1v1h-1zM564.6 386.9h1v1h-1zM553.6 386.3h1v1h-1zM558.4 389.8h1v1h-1zM550.6 383.3h1v1h-1zM552.8 389.2h1v1h-1zM556.8 382.6h1v1h-1zM558.9 390.9h1v1h-1zM554.4 385.1h1v1h-1zM553 385.9h1v1h-1zM566.7 387.1h1v1h-1zM558.4 388.3h1v1h-1zM564.4 387.3h1v1h-1zM550.1 391.4h1v1h-1zM560.8 389.1h1v1h-1zM549.3 382h1v1h-1zM559.3 389.6h1v1h-1zM556 381.7h1v1h-1zM550.3 388.6h1v1h-1zM549.9 386.6h1v1h-1zM565.2 384.2h1v1h-1zM550.8 384.3h1v1h-1zM562.2 385.6h1v1h-1zM561.9 387.5h1v1h-1zM555.5 384.7h1v1h-1zM556.8 384.7h1v1h-1zM566.8 383.3h1v1h-1zM563.5 383.7h1v1h-1zM565.9 385.3h1v1h-1zM558.2 390.9h1v1h-1zM561.4 386.3h1v1h-1zM562.1 391.1h1v1h-1zM553.4 389.7h1v1h-1zM553.5 382.2h1v1h-1zM554.3 384.7h1v1h-1zM564.4 391.5h1v1h-1zM556.3 389.6h1v1h-1zM554.4 387h1v1h-1zM553.9 385h1v1h-1zM558.3 382h1v1h-1zM550.8 385.8h1v1h-1zM560.3 384.6h1v1h-1zM565.2 383.7h1v1h-1zM567.6 384h1v1h-1zM565.2 382.8h1v1h-1zM552.9 385.5h1v1h-1zM554.8 385.4h1v1h-1zM562.3 384.6h1v1h-1zM562.8 389.4h1v1h-1zM561 386.4h1v1h-1zM553.6 383.8h1v1h-1zM558.4 387.6h1v1h-1zM563.8 387.3h1v1h-1zM550.4 389.5h1v1h-1zM558.8 386.1h1v1h-1zM565.8 388.7h1v1h-1zM555.8 384.6h1v1h-1zM549.6 383.5h1v1h-1zM559.4 384.4h1v1h-1zM566.1 390.8h1v1h-1zM562.2 386.6h1v1h-1zM549.3 384.9h1v1h-1zM550.9 382.7h1v1h-1zM563.9 387.8h1v1h-1zM556.5 383.8h1v1h-1zM561 384.2h1v1h-1zM560.4 382.7h1v1h-1zM565.5 381.3h1v1h-1zM561.1 388.9h1v1h-1zM550.3 381.8h1v1h-1zM565.1 387.1h1v1h-1zM564.2 384.4h1v1h-1zM564 384.8h1v1h-1zM562.6 388.5h1v1h-1zM564 389.1h1v1h-1zM554.5 386.9h1v1h-1zM545.8 385.3h1v1h-1zM541.9 393.9h1v1h-1zM536.2 386.1h1v1h-1zM541.5 398h1v1h-1zM544.2 386.2h1v1h-1zM549.3 384.6h1v1h-1zM561.3 385.6h1v1h-1zM552.5 391.5h1v1h-1zM553.3 387.2h1v1h-1zM560.3 397.8h1v1h-1zM551.2 393.2h1v1h-1zM561.2 398.7h1v1h-1zM563.6 388.2h1v1h-1zM563.7 389.8h1v1h-1zM555.7 391.7h1v1h-1zM559.3 394.1h1v1h-1zM551.1 397.8h1v1h-1zM552.4 385.5h1v1h-1zM551.5 394.8h1v1h-1zM559.4 385.5h1v1h-1zM558.3 392.5h1v1h-1zM538.5 384.9h1v1h-1zM551.6 390.1h1v1h-1zM535.8 394.7h1v1h-1zM542.2 385.9h1v1h-1zM550.7 391h1v1h-1zM535.3 388.1h1v1h-1zM563.2 393.3h1v1h-1zM536 387.7h1v1h-1zM555 384.8h1v1h-1zM555 395.7h1v1h-1zM558.6 395.8h1v1h-1zM548.4 386.6h1v1h-1zM550.3 397.1h1v1h-1zM550.7 390.2h1v1h-1zM562.7 391.9h1v1h-1zM550.2 390.1h1v1h-1zM556.8 395.4h1v1h-1zM557.8 385.6h1v1h-1zM543.9 396.6h1v1h-1zM565 395.4h1v1h-1zM552.7 388h1v1h-1zM541.1 391h1v1h-1zM535.9 398.7h1v1h-1zM553.2 395.7h1v1h-1zM550.3 389.1h1v1h-1zM552.1 398.1h1v1h-1zM545.8 395.5h1v1h-1zM536.8 398.2h1v1h-1zM541.4 388.5h1v1h-1zM534.8 386.2h1v1h-1zM558.1 387.4h1v1h-1zM564.6 389h1v1h-1zM554.8 394.3h1v1h-1zM546.6 385.5h1v1h-1zM562.1 395h1v1h-1zM563.1 394.5h1v1h-1zM555 391.5h1v1h-1zM557.8 390.2h1v1h-1zM542.3 385.6h1v1h-1zM554.8 394.8h1v1h-1zM536.7 386.4h1v1h-1zM556.9 386.6h1v1h-1zM561.4 396.2h1v1h-1zM551.3 386h1v1h-1zM549 390.7h1v1h-1zM552.4 396.4h1v1h-1zM555.7 385.7h1v1h-1zM561.7 395.7h1v1h-1zM550.1 396.2h1v1h-1zM544.2 415.2h1v1h-1zM555 411.4h1v1h-1zM543.9 426.8h1v1h-1zM527.1 423.9h1v1h-1zM532.4 427.1h1v1h-1zM547.5 429.8h1v1h-1zM553.4 419.3h1v1h-1zM549.5 423h1v1h-1zM541.8 430.9h1v1h-1zM545.8 424.6h1v1h-1zM558.2 425.4h1v1h-1zM528.7 420.9h1v1h-1zM549.2 419.5h1v1h-1zM536.5 400.2h1v1h-1zM538.1 408.2h1v1h-1zM530.1 402.9h1v1h-1zM559 428.4h1v1h-1zM537.4 428.3h1v1h-1zM532.1 423.3h1v1h-1zM556.4 404.3h1v1h-1zM540.8 430.9h1v1h-1zM546.2 413.1h1v1h-1zM542.4 416.1h1v1h-1zM546.9 426.3h1v1h-1zM548.7 416h1v1h-1zM535.1 421.7h1v1h-1zM540.9 429.1h1v1h-1zM535.7 406.6h1v1h-1zM551.1 420.8h1v1h-1zM543.4 407.6h1v1h-1zM558.7 426.4h1v1h-1zM555.6 419.5h1v1h-1zM555.6 409.5h1v1h-1zM555.7 420.5h1v1h-1zM553.3 407.1h1v1h-1zM538.1 403.7h1v1h-1zM549.8 430h1v1h-1zM535.3 428.5h1v1h-1zM543.1 428h1v1h-1zM529.6 424.4h1v1h-1zM534 407.5h1v1h-1zM549.2 422.9h1v1h-1zM535.1 409.4h1v1h-1zM533.6 428.4h1v1h-1zM543.6 427.7h1v1h-1z" fill="#3c60b0"/>
<rect x="516.2" y="329.8" width="109.2" height="114.2" fill="none" stroke="#888" stroke-width="0.7"/>
<line x1="571.9" y1="330" x2="571.9" y2="444" stroke="#888" stroke-width="1.1" stroke-dasharray="4 2.6"/>
<line x1="516.5" y1="380" x2="625.2" y2="380" stroke="#888" stroke-width="1.1" stroke-dasharray="4 2.6"/>
<rect x="601.5" y="345.9" width="10" height="3.9" rx="0.8" fill="#7a7a7a" stroke="#222" stroke-width="0.55"/>
<line x1="602.7" y1="347.9" x2="610.3" y2="347.9" stroke="#f0f0f0" stroke-width="1.5" stroke-dasharray="1.2 0.35"/>
<rect x="598.2" y="361.6" width="10" height="3.9" rx="0.8" fill="#7a7a7a" stroke="#222" stroke-width="0.55"/>
<line x1="599.4" y1="363.5" x2="607" y2="363.5" stroke="#f0f0f0" stroke-width="1.5" stroke-dasharray="1.2 0.35"/>
<rect x="608.7" y="362.9" width="9.4" height="3.7" rx="0.8" fill="#7a7a7a" stroke="#222" stroke-width="0.55"/>
<line x1="609.9" y1="364.8" x2="616.9" y2="364.8" stroke="#f0f0f0" stroke-width="1.5" stroke-dasharray="1.2 0.35"/>
<rect x="612" y="369.5" width="10.4" height="3.6" rx="0.8" fill="#7a7a7a" stroke="#222" stroke-width="0.55"/>
<line x1="613.2" y1="371.3" x2="621.2" y2="371.3" stroke="#f0f0f0" stroke-width="1.5" stroke-dasharray="1.2 0.35"/>
<rect x="585.7" y="368.8" width="9" height="3.5" rx="0.8" fill="#7a7a7a" stroke="#222" stroke-width="0.55"/>
<line x1="586.9" y1="370.6" x2="593.5" y2="370.6" stroke="#f0f0f0" stroke-width="1.5" stroke-dasharray="1.2 0.35"/>
<rect x="595.7" y="370.6" width="11.4" height="3.9" rx="0.8" fill="#7a7a7a" stroke="#222" stroke-width="0.55"/>
<line x1="596.9" y1="372.5" x2="605.9" y2="372.5" stroke="#f0f0f0" stroke-width="1.5" stroke-dasharray="1.2 0.35"/>
<rect x="581.4" y="373.9" width="8.9" height="3.6" rx="0.8" fill="#7a7a7a" stroke="#222" stroke-width="0.55"/>
<line x1="582.6" y1="375.7" x2="589.1" y2="375.7" stroke="#f0f0f0" stroke-width="1.5" stroke-dasharray="1.2 0.35"/>
<rect x="591.3" y="376.9" width="9.9" height="3.7" rx="0.8" fill="#7a7a7a" stroke="#222" stroke-width="0.55"/>
<line x1="592.5" y1="378.8" x2="600" y2="378.8" stroke="#f0f0f0" stroke-width="1.5" stroke-dasharray="1.2 0.35"/>
<rect x="616.4" y="376.5" width="8.9" height="3.9" rx="0.8" fill="#7a7a7a" stroke="#222" stroke-width="0.55"/>
<line x1="617.6" y1="378.5" x2="624.1" y2="378.5" stroke="#f0f0f0" stroke-width="1.5" stroke-dasharray="1.2 0.35"/>
<rect x="564" y="376.5" width="16.3" height="4.1" rx="0.8" fill="#7a7a7a" stroke="#222" stroke-width="0.55"/>
<line x1="565.2" y1="378.6" x2="579.1" y2="378.6" stroke="#f0f0f0" stroke-width="1.5" stroke-dasharray="1.2 0.35"/>
<rect x="549.1" y="376.9" width="15" height="4.1" rx="0.8" fill="#7a7a7a" stroke="#222" stroke-width="0.55"/>
<line x1="550.3" y1="378.9" x2="562.9" y2="378.9" stroke="#f0f0f0" stroke-width="1.5" stroke-dasharray="1.2 0.35"/>
<rect x="567.2" y="381.9" width="7.8" height="3.5" rx="0.8" fill="#7a7a7a" stroke="#222" stroke-width="0.55"/>
<line x1="568.4" y1="383.6" x2="573.8" y2="383.6" stroke="#f0f0f0" stroke-width="1.5" stroke-dasharray="1.2 0.35"/>
<rect x="542.1" y="382.6" width="9.8" height="3.7" rx="0.8" fill="#7a7a7a" stroke="#222" stroke-width="0.55"/>
<line x1="543.3" y1="384.4" x2="550.7" y2="384.4" stroke="#f0f0f0" stroke-width="1.5" stroke-dasharray="1.2 0.35"/>
<rect x="555.2" y="387.8" width="14.4" height="4.1" rx="0.8" fill="#7a7a7a" stroke="#222" stroke-width="0.55"/>
<line x1="556.4" y1="389.9" x2="568.4" y2="389.9" stroke="#f0f0f0" stroke-width="1.5" stroke-dasharray="1.2 0.35"/>
<rect x="548.2" y="389.6" width="6.7" height="3.4" rx="0.8" fill="#7a7a7a" stroke="#222" stroke-width="0.55"/>
<line x1="549.4" y1="391.3" x2="553.7" y2="391.3" stroke="#f0f0f0" stroke-width="1.5" stroke-dasharray="1.2 0.35"/>
<rect x="532.7" y="390" width="10.5" height="3.7" rx="0.8" fill="#7a7a7a" stroke="#222" stroke-width="0.55"/>
<line x1="533.9" y1="391.9" x2="542" y2="391.9" stroke="#f0f0f0" stroke-width="1.5" stroke-dasharray="1.2 0.35"/>
<rect x="525.7" y="401.6" width="10.9" height="3.9" rx="0.8" fill="#7a7a7a" stroke="#222" stroke-width="0.55"/>
<line x1="526.9" y1="403.5" x2="535.4" y2="403.5" stroke="#f0f0f0" stroke-width="1.5" stroke-dasharray="1.2 0.35"/>
<rect x="518.1" y="404.4" width="7.8" height="3.7" rx="0.8" fill="#7a7a7a" stroke="#222" stroke-width="0.55"/>
<line x1="519.3" y1="406.2" x2="524.7" y2="406.2" stroke="#f0f0f0" stroke-width="1.5" stroke-dasharray="1.2 0.35"/>
<rect x="518.5" y="433.3" width="10.7" height="4.1" rx="0.8" fill="#7a7a7a" stroke="#222" stroke-width="0.55"/>
<line x1="519.7" y1="435.4" x2="528" y2="435.4" stroke="#f0f0f0" stroke-width="1.5" stroke-dasharray="1.2 0.35"/>
<line x1="514.2" y1="350" x2="516.2" y2="350" stroke="#555" stroke-width="0.6"/>
<text x="514.2" y="352.3" font-size="9.6" fill="#111" text-anchor="end">5</text>
<line x1="514.2" y1="380" x2="516.2" y2="380" stroke="#555" stroke-width="0.6"/>
<text x="514.2" y="382.3" font-size="9.6" fill="#111" text-anchor="end">0</text>
<line x1="514.2" y1="410.6" x2="516.2" y2="410.6" stroke="#555" stroke-width="0.6"/>
<text x="514.2" y="412.9" font-size="9.6" fill="#111" text-anchor="end">−5</text>
<line x1="514.2" y1="440.8" x2="516.2" y2="440.8" stroke="#555" stroke-width="0.6"/>
<text x="514.2" y="443.1" font-size="9.6" fill="#111" text-anchor="end">−10</text>
<line x1="522.3" y1="444" x2="522.3" y2="446" stroke="#555" stroke-width="0.6"/>
<text x="522.3" y="453.2" font-size="9.6" fill="#111" text-anchor="middle">−0.4</text>
<line x1="547.2" y1="444" x2="547.2" y2="446" stroke="#555" stroke-width="0.6"/>
<text x="547.2" y="453.2" font-size="9.6" fill="#111" text-anchor="middle">−0.2</text>
<line x1="571.9" y1="444" x2="571.9" y2="446" stroke="#555" stroke-width="0.6"/>
<text x="571.9" y="453.2" font-size="9.6" fill="#111" text-anchor="middle">0.0</text>
<line x1="596.6" y1="444" x2="596.6" y2="446" stroke="#555" stroke-width="0.6"/>
<text x="596.6" y="453.2" font-size="9.6" fill="#111" text-anchor="middle">0.2</text>
<line x1="621" y1="444" x2="621" y2="446" stroke="#555" stroke-width="0.6"/>
<text x="621" y="453.2" font-size="9.6" fill="#111" text-anchor="middle">0.4</text>
<text x="574.8" y="464.2" font-size="9.2" fill="#111" text-anchor="middle">Percentage difference</text>
<text x="498.2" y="383.4" font-size="9.1" fill="#111" text-anchor="middle" transform="rotate(-90 498.2 383.4)">Log−Fold change</text>
<text x="631.6" y="379" font-size="9.3" fill="#111">change</text>
<circle cx="633" cy="384" r="0.9" fill="#3c60b0"/>
<text x="635" y="386.4" font-size="7.0" fill="#111">down(476)</text>
<circle cx="633" cy="390" r="0.9" fill="#c0c0c0"/>
<text x="635" y="392.4" font-size="7.0" fill="#111">ns</text>
<circle cx="633" cy="395.8" r="0.9" fill="#d42a3a"/>
<text x="635" y="398.2" font-size="7.0" fill="#111">up(810)</text>
<text x="1.2" y="488.7" font-size="11.3" fill="#000" font-weight="bold">H</text>
<rect x="31.6" y="501.2" width="123.1" height="136.3" fill="none" stroke="#999" stroke-width="0.7"/>
<text x="87.6" y="499.2" font-size="7" fill="#111" text-anchor="middle">M1</text>
<line x1="29.6" y1="502.8" x2="31.6" y2="502.8" stroke="#666" stroke-width="0.6"/>
<text x="31.4" y="505.5" font-size="9.6" fill="#111" text-anchor="end">1.5</text>
<line x1="29.6" y1="535.5" x2="31.6" y2="535.5" stroke="#666" stroke-width="0.6"/>
<text x="31.4" y="538.2" font-size="9.6" fill="#111" text-anchor="end">1.0</text>
<line x1="29.6" y1="568.3" x2="31.6" y2="568.3" stroke="#666" stroke-width="0.6"/>
<text x="31.4" y="571" font-size="9.6" fill="#111" text-anchor="end">0.5</text>
<line x1="29.6" y1="601" x2="31.6" y2="601" stroke="#666" stroke-width="0.6"/>
<text x="31.4" y="603.7" font-size="9.6" fill="#111" text-anchor="end">0.0</text>
<line x1="29.6" y1="633.7" x2="31.6" y2="633.7" stroke="#666" stroke-width="0.6"/>
<text x="31.4" y="636.4" font-size="9.6" fill="#111" text-anchor="end">−0.5</text>
<line x1="45.8" y1="637.5" x2="45.8" y2="640" stroke="#666" stroke-width="0.6"/>
<path d="M46 583 46 584.1 46.2 585.1 46.6 586.2 47 587.2 47.5 588.3 48 589.3 48.6 590.4 49.1 591.4 49.7 592.5 50.2 593.5 50.8 594.6 51.3 595.6 51.9 596.7 52.4 597.8 52.9 598.8 53.3 599.9 53.8 600.9 54.2 602 54.5 603 54.9 604.1 55.2 605.1 55.4 606.2 55.7 607.2 55.9 608.3 56 609.3 56.1 610.4 56.2 611.4 56.2 612.5 56.2 613.1 56.1 613.8 56.1 614.4 56 615 55.8 615.6 55.7 616.2 55.5 616.9 55.3 617.5 55 618.1 54.8 618.8 54.4 619.4 54.1 620 53.8 620.6 53.4 621.2 53 621.9 52.5 622.5 52.1 623.1 51.6 623.8 51.1 624.4 50.5 625 50 625.6 49.4 626.2 48.8 626.9 48.2 627.5 47.6 628.1 47 628.8 46.4 629.4 46 630 45.5 630 45.2 629.4 44.6 628.8 44 628.1 43.4 627.5 42.8 626.9 42.2 626.2 41.6 625.6 41.1 625 40.5 624.4 40 623.8 39.5 623.1 39.1 622.5 38.6 621.9 38.2 621.2 37.8 620.6 37.5 620 37.2 619.4 36.8 618.8 36.6 618.1 36.3 617.5 36.1 616.9 35.9 616.2 35.8 615.6 35.6 615 35.5 614.4 35.5 613.8 35.4 613.1 35.4 612.5 35.4 611.4 35.5 610.4 35.6 609.3 35.7 608.3 35.9 607.2 36.2 606.2 36.4 605.1 36.7 604.1 37.1 603 37.4 602 37.8 600.9 38.3 599.9 38.7 598.8 39.2 597.8 39.7 596.7 40.3 595.6 40.8 594.6 41.4 593.5 41.9 592.5 42.5 591.4 43 590.4 43.6 589.3 44.1 588.3 44.6 587.2 45 586.2 45.4 585.1 45.5 584.1 45.5 583Z" fill="#e8555e" stroke="#222" stroke-width="0.55"/>
<line x1="69.5" y1="637.5" x2="69.5" y2="640" stroke="#666" stroke-width="0.6"/>
<path d="M69.8 576 69.8 577.2 69.9 578.3 70.3 579.5 70.7 580.7 71.1 581.8 71.6 583 72.1 584.2 72.7 585.3 73.2 586.5 73.7 587.7 74.2 588.8 74.8 590 75.3 591.2 75.7 592.4 76.2 593.5 76.7 594.7 77.1 595.9 77.5 597 77.8 598.2 78.1 599.4 78.4 600.5 78.7 601.7 78.9 602.9 79.1 604 79.2 605.2 79.3 606.4 79.4 607.5 79.4 608.7 79.4 609.5 79.3 610.2 79.2 611 79 611.8 78.9 612.6 78.7 613.4 78.4 614.1 78.2 614.9 77.9 615.7 77.6 616.5 77.2 617.2 76.9 618 76.5 618.8 76.1 619.5 75.7 620.3 75.2 621.1 74.8 621.9 74.3 622.6 73.8 623.4 73.3 624.2 72.8 625 72.3 625.8 71.8 626.5 71.3 627.3 70.8 628.1 70.3 628.9 69.9 629.6 69.8 630.4 69.2 630.4 69.1 629.6 68.7 628.9 68.2 628.1 67.7 627.3 67.2 626.5 66.7 625.8 66.2 625 65.7 624.2 65.2 623.4 64.7 622.6 64.2 621.9 63.8 621.1 63.3 620.3 62.9 619.5 62.5 618.8 62.1 618 61.8 617.2 61.4 616.5 61.1 615.7 60.8 614.9 60.6 614.1 60.3 613.4 60.1 612.6 60 611.8 59.8 611 59.7 610.2 59.6 609.5 59.6 608.7 59.6 607.5 59.7 606.4 59.8 605.2 59.9 604 60.1 602.9 60.3 601.7 60.6 600.5 60.9 599.4 61.2 598.2 61.5 597 61.9 595.9 62.3 594.7 62.8 593.5 63.3 592.4 63.7 591.2 64.2 590 64.8 588.8 65.3 587.7 65.8 586.5 66.3 585.3 66.9 584.2 67.4 583 67.9 581.8 68.3 580.7 68.7 579.5 69.1 578.3 69.2 577.2 69.2 576Z" fill="#8ed870" stroke="#222" stroke-width="0.55"/>
<line x1="93.1" y1="637.5" x2="93.1" y2="640" stroke="#666" stroke-width="0.6"/>
<path d="M93.3 551 93.3 552.6 93.6 554.3 93.9 555.9 94.2 557.6 94.5 559.2 94.8 560.9 95.1 562.5 95.4 564.1 95.6 565.8 95.9 567.4 96.2 569.1 96.4 570.7 96.6 572.4 96.9 574 97.1 575.6 97.3 577.3 97.4 578.9 97.6 580.6 97.7 582.2 97.9 583.9 98 585.5 98.1 587.1 98.2 588.8 98.3 590.4 98.3 592.1 98.4 593.7 98.4 595.4 98.4 597 98.4 598.1 98.3 599.3 98.3 600.4 98.2 601.6 98.1 602.7 98 603.9 97.9 605 97.7 606.1 97.6 607.3 97.4 608.4 97.2 609.6 97 610.7 96.8 611.9 96.6 613 96.4 614.1 96.2 615.3 95.9 616.4 95.7 617.6 95.4 618.7 95.2 619.9 94.9 621 94.6 622.1 94.3 623.3 94.1 624.4 93.8 625.6 93.5 626.7 93.3 627.9 93.3 629 92.8 629 92.8 627.9 92.7 626.7 92.4 625.6 92.1 624.4 91.9 623.3 91.6 622.1 91.3 621 91 619.9 90.8 618.7 90.5 617.6 90.3 616.4 90 615.3 89.8 614.1 89.6 613 89.4 611.9 89.2 610.7 89 609.6 88.8 608.4 88.6 607.3 88.5 606.1 88.3 605 88.2 603.9 88.1 602.7 88 601.6 87.9 600.4 87.9 599.3 87.8 598.1 87.8 597 87.8 595.4 87.8 593.7 87.9 592.1 87.9 590.4 88 588.8 88.1 587.1 88.2 585.5 88.3 583.9 88.5 582.2 88.6 580.6 88.8 578.9 88.9 577.3 89.1 575.6 89.3 574 89.6 572.4 89.8 570.7 90 569.1 90.3 567.4 90.6 565.8 90.8 564.1 91.1 562.5 91.4 560.9 91.7 559.2 92 557.6 92.3 555.9 92.6 554.3 92.8 552.6 92.8 551Z" fill="#f07d42" stroke="#222" stroke-width="0.55"/>
<line x1="116.7" y1="637.5" x2="116.7" y2="640" stroke="#666" stroke-width="0.6"/>
<path d="M117 578 117 579.2 117.1 580.4 117.5 581.6 118 582.9 118.5 584.1 119 585.3 119.5 586.5 120.1 587.7 120.6 588.9 121.2 590.1 121.8 591.4 122.3 592.6 122.9 593.8 123.4 595 123.9 596.2 124.4 597.4 124.8 598.6 125.2 599.9 125.6 601.1 125.9 602.3 126.3 603.5 126.5 604.7 126.8 605.9 127 607.1 127.1 608.4 127.2 609.6 127.3 610.8 127.3 612 127.3 612.7 127.2 613.3 127.2 614 127.1 614.7 126.9 615.3 126.8 616 126.6 616.6 126.4 617.3 126.1 618 125.8 618.6 125.5 619.3 125.2 620 124.8 620.6 124.4 621.3 124 622 123.6 622.6 123.1 623.3 122.6 624 122.1 624.6 121.5 625.3 121 626 120.4 626.6 119.8 627.3 119.2 627.9 118.5 628.6 117.9 629.3 117.3 629.9 117 630.6 116.5 630.6 116.1 629.9 115.5 629.3 114.9 628.6 114.2 627.9 113.6 627.3 113 626.6 112.4 626 111.9 625.3 111.3 624.6 110.8 624 110.3 623.3 109.8 622.6 109.4 622 109 621.3 108.6 620.6 108.2 620 107.9 619.3 107.6 618.6 107.3 618 107 617.3 106.8 616.6 106.6 616 106.5 615.3 106.3 614.7 106.2 614 106.2 613.3 106.1 612.7 106.1 612 106.1 610.8 106.2 609.6 106.3 608.4 106.4 607.1 106.6 605.9 106.9 604.7 107.1 603.5 107.5 602.3 107.8 601.1 108.2 599.9 108.6 598.6 109 597.4 109.5 596.2 110 595 110.5 593.8 111.1 592.6 111.6 591.4 112.2 590.1 112.8 588.9 113.3 587.7 113.9 586.5 114.4 585.3 114.9 584.1 115.4 582.9 115.9 581.6 116.3 580.4 116.5 579.2 116.5 578Z" fill="#5470d8" stroke="#222" stroke-width="0.55"/>
<line x1="140.5" y1="637.5" x2="140.5" y2="640" stroke="#666" stroke-width="0.6"/>
<path d="M140.8 578 140.8 579.4 141 580.8 141.3 582.1 141.8 583.5 142.3 584.9 142.8 586.3 143.4 587.7 143.9 589.1 144.5 590.4 145.1 591.8 145.7 593.2 146.2 594.6 146.8 596 147.3 597.4 147.8 598.7 148.3 600.1 148.8 601.5 149.2 602.9 149.6 604.3 149.9 605.6 150.2 607 150.5 608.4 150.8 609.8 150.9 611.2 151.1 612.6 151.2 613.9 151.3 615.3 151.3 616.7 151.3 617.2 151.2 617.7 151.2 618.2 151.1 618.7 150.9 619.2 150.8 619.7 150.6 620.2 150.3 620.7 150.1 621.2 149.8 621.7 149.5 622.2 149.1 622.7 148.8 623.2 148.4 623.7 147.9 624.1 147.5 624.6 147 625.1 146.5 625.6 146 626.1 145.4 626.6 144.9 627.1 144.3 627.6 143.6 628.1 143 628.6 142.4 629.1 141.7 629.6 141.1 630.1 140.8 630.6 140.2 630.6 139.9 630.1 139.3 629.6 138.6 629.1 138 628.6 137.4 628.1 136.7 627.6 136.1 627.1 135.6 626.6 135 626.1 134.5 625.6 134 625.1 133.5 624.6 133.1 624.1 132.6 623.7 132.2 623.2 131.9 622.7 131.5 622.2 131.2 621.7 130.9 621.2 130.7 620.7 130.4 620.2 130.2 619.7 130.1 619.2 129.9 618.7 129.8 618.2 129.8 617.7 129.7 617.2 129.7 616.7 129.7 615.3 129.8 613.9 129.9 612.6 130.1 611.2 130.2 609.8 130.5 608.4 130.8 607 131.1 605.6 131.4 604.3 131.8 602.9 132.2 601.5 132.7 600.1 133.2 598.7 133.7 597.4 134.2 596 134.8 594.6 135.3 593.2 135.9 591.8 136.5 590.4 137.1 589.1 137.6 587.7 138.2 586.3 138.7 584.9 139.2 583.5 139.7 582.1 140 580.8 140.2 579.4 140.2 578Z" fill="#edc452" stroke="#222" stroke-width="0.55"/>
<line x1="45.8" y1="560" x2="45.8" y2="633" stroke="#000" stroke-width="1.1"/>
<line x1="45.8" y1="568" x2="45.8" y2="629" stroke="#000" stroke-width="1.7"/>
<rect x="44.4" y="603" width="2.7" height="14.7" fill="#000"/>
<path d="M45 560h1.5v1.2h-1.5zM45 561.6h1.5v1.2h-1.5zM45 563.2h1.5v1.2h-1.5zM45 631.8h1.5v1.2h-1.5z" fill="#000"/>
<line x1="69.5" y1="559" x2="69.5" y2="631" stroke="#000" stroke-width="1.1"/>
<line x1="69.5" y1="565" x2="69.5" y2="629.4" stroke="#000" stroke-width="1.7"/>
<rect x="68.2" y="599.8" width="2.7" height="15.3" fill="#000"/>
<path d="M68.8 559h1.5v1.2h-1.5zM68.8 560.6h1.5v1.2h-1.5zM68.8 562.2h1.5v1.2h-1.5zM68.8 629.8h1.5v1.2h-1.5z" fill="#000"/>
<line x1="93.1" y1="538.5" x2="93.1" y2="630" stroke="#000" stroke-width="1.1"/>
<line x1="93.1" y1="542.9" x2="93.1" y2="628" stroke="#000" stroke-width="1.7"/>
<rect x="91.8" y="581" width="2.7" height="28" fill="#000"/>
<path d="M92.3 538.5h1.5v1.2h-1.5zM92.3 540.1h1.5v1.2h-1.5zM92.3 541.7h1.5v1.2h-1.5zM92.3 628.8h1.5v1.2h-1.5z" fill="#000"/>
<line x1="116.7" y1="549.6" x2="116.7" y2="632" stroke="#000" stroke-width="1.1"/>
<line x1="116.7" y1="559.5" x2="116.7" y2="629.6" stroke="#000" stroke-width="1.7"/>
<rect x="115.4" y="599.7" width="2.7" height="17" fill="#000"/>
<path d="M116 549.6h1.5v1.2h-1.5zM116 551.2h1.5v1.2h-1.5zM116 552.8h1.5v1.2h-1.5zM116 630.8h1.5v1.2h-1.5z" fill="#000"/>
<line x1="140.5" y1="558" x2="140.5" y2="631" stroke="#000" stroke-width="1.1"/>
<line x1="140.5" y1="565" x2="140.5" y2="629.6" stroke="#000" stroke-width="1.7"/>
<rect x="139.2" y="604.4" width="2.7" height="15.4" fill="#000"/>
<path d="M139.8 558h1.5v1.2h-1.5zM139.8 559.6h1.5v1.2h-1.5zM139.8 561.2h1.5v1.2h-1.5zM139.8 629.8h1.5v1.2h-1.5z" fill="#000"/>
<path d="M45.8 609.3C49.8 608.8 61.6 609.1 69.5 606.4C77.4 603.7 85.2 593.2 93.1 593.1C101 593 108.8 602 116.7 605.5C124.6 609 136.5 612.6 140.5 614" fill="none" stroke="#111" stroke-width="0.7"/>
<path d="M45.8 532.7V530.2H69.4V532.7" fill="none" stroke="#222" stroke-width="0.7"/>
<text x="57.6" y="531.5" font-size="8.6" fill="#111" text-anchor="middle">****</text>
<path d="M45.8 521.5V519H93.3V521.5" fill="none" stroke="#222" stroke-width="0.7"/>
<text x="69.5" y="520.3" font-size="8.6" fill="#111" text-anchor="middle">****</text>
<path d="M45.8 509.9V507.4H117.1V509.9" fill="none" stroke="#222" stroke-width="0.7"/>
<text x="81.4" y="508.7" font-size="8.6" fill="#111" text-anchor="middle">**</text>
<rect x="185.9" y="501.2" width="125.7" height="136.3" fill="none" stroke="#999" stroke-width="0.7"/>
<text x="243" y="499.2" font-size="7" fill="#111" text-anchor="middle">M2</text>
<line x1="183.9" y1="503.5" x2="185.9" y2="503.5" stroke="#666" stroke-width="0.6"/>
<text x="185.7" y="506.2" font-size="9.6" fill="#111" text-anchor="end">1.0</text>
<line x1="183.9" y1="550.4" x2="185.9" y2="550.4" stroke="#666" stroke-width="0.6"/>
<text x="185.7" y="553.1" font-size="9.6" fill="#111" text-anchor="end">0.5</text>
<line x1="183.9" y1="597.3" x2="185.9" y2="597.3" stroke="#666" stroke-width="0.6"/>
<text x="185.7" y="600" font-size="9.6" fill="#111" text-anchor="end">0.0</text>
<line x1="200" y1="637.5" x2="200" y2="640" stroke="#666" stroke-width="0.6"/>
<path d="M200.2 548.4 200.2 549.6 200.3 550.8 200.6 552 200.9 553.2 201.3 554.4 201.6 555.6 202 556.8 202.4 557.9 202.8 559.1 203.2 560.3 203.6 561.5 204 562.7 204.4 563.9 204.8 565.1 205.2 566.3 205.5 567.5 205.8 568.7 206.1 569.9 206.4 571.1 206.6 572.3 206.9 573.4 207 574.6 207.2 575.8 207.4 577 207.5 578.2 207.5 579.4 207.6 580.6 207.6 581.8 207.6 583.1 207.5 584.3 207.4 585.6 207.3 586.8 207.2 588.1 207 589.3 206.9 590.6 206.7 591.8 206.4 593.1 206.2 594.3 205.9 595.6 205.7 596.8 205.4 598.1 205.1 599.3 204.7 600.6 204.4 601.9 204.1 603.1 203.7 604.4 203.3 605.6 202.9 606.9 202.6 608.1 202.2 609.4 201.8 610.6 201.4 611.9 201 613.1 200.6 614.4 200.3 615.6 200.2 616.9 199.8 616.9 199.7 615.6 199.4 614.4 199 613.1 198.6 611.9 198.2 610.6 197.8 609.4 197.4 608.1 197.1 606.9 196.7 605.6 196.3 604.4 195.9 603.1 195.6 601.9 195.3 600.6 194.9 599.3 194.6 598.1 194.3 596.8 194.1 595.6 193.8 594.3 193.6 593.1 193.3 591.8 193.1 590.6 193 589.3 192.8 588.1 192.7 586.8 192.6 585.6 192.5 584.3 192.4 583.1 192.4 581.8 192.4 580.6 192.5 579.4 192.5 578.2 192.6 577 192.8 575.8 193 574.6 193.1 573.4 193.4 572.3 193.6 571.1 193.9 569.9 194.2 568.7 194.5 567.5 194.8 566.3 195.2 565.1 195.6 563.9 196 562.7 196.4 561.5 196.8 560.3 197.2 559.1 197.6 557.9 198 556.8 198.4 555.6 198.7 554.4 199.1 553.2 199.4 552 199.7 550.8 199.8 549.6 199.8 548.4Z" fill="#e8555e" stroke="#222" stroke-width="0.55"/>
<line x1="224.6" y1="637.5" x2="224.6" y2="640" stroke="#666" stroke-width="0.6"/>
<path d="M224.8 575.1 224.8 576.2 225.1 577.4 225.4 578.5 225.9 579.6 226.4 580.8 226.9 581.9 227.5 583 228.1 584.2 228.7 585.3 229.2 586.4 229.8 587.6 230.4 588.7 230.9 589.8 231.5 591 232 592.1 232.5 593.2 232.9 594.3 233.4 595.5 233.8 596.6 234.1 597.7 234.4 598.9 234.7 600 234.9 601.1 235.1 602.3 235.3 603.4 235.4 604.5 235.5 605.7 235.5 606.8 235.5 607.6 235.4 608.5 235.3 609.3 235.1 610.1 234.9 611 234.7 611.8 234.4 612.6 234.1 613.5 233.8 614.3 233.5 615.2 233.1 616 232.7 616.8 232.3 617.7 231.9 618.5 231.4 619.3 230.9 620.2 230.4 621 229.9 621.8 229.4 622.7 228.8 623.5 228.3 624.4 227.7 625.2 227.2 626 226.6 626.9 226 627.7 225.5 628.5 225 629.4 224.8 630.2 224.3 630.2 224.2 629.4 223.7 628.5 223.2 627.7 222.6 626.9 222 626 221.5 625.2 220.9 624.4 220.4 623.5 219.8 622.7 219.3 621.8 218.8 621 218.3 620.2 217.8 619.3 217.3 618.5 216.9 617.7 216.5 616.8 216.1 616 215.7 615.2 215.4 614.3 215.1 613.5 214.8 612.6 214.5 611.8 214.3 611 214.1 610.1 213.9 609.3 213.8 608.5 213.7 607.6 213.7 606.8 213.7 605.7 213.8 604.5 213.9 603.4 214.1 602.3 214.3 601.1 214.5 600 214.8 598.9 215.1 597.7 215.4 596.6 215.8 595.5 216.3 594.3 216.7 593.2 217.2 592.1 217.7 591 218.3 589.8 218.8 588.7 219.4 587.6 220 586.4 220.5 585.3 221.1 584.2 221.7 583 222.3 581.9 222.8 580.8 223.3 579.6 223.8 578.5 224.1 577.4 224.3 576.2 224.3 575.1Z" fill="#8ed870" stroke="#222" stroke-width="0.55"/>
<line x1="248.5" y1="637.5" x2="248.5" y2="640" stroke="#666" stroke-width="0.6"/>
<path d="M248.8 561.7 248.8 562.7 248.8 563.6 249.1 564.6 249.4 565.5 249.8 566.5 250.2 567.4 250.6 568.4 251 569.4 251.4 570.3 251.8 571.3 252.2 572.2 252.6 573.2 253 574.1 253.4 575.1 253.8 576.1 254.1 577 254.5 578 254.8 578.9 255.1 579.9 255.3 580.8 255.5 581.8 255.7 582.8 255.9 583.7 256 584.7 256.2 585.6 256.2 586.6 256.3 587.5 256.3 588.5 256.3 589.6 256.2 590.6 256.1 591.7 256 592.8 255.9 593.9 255.7 594.9 255.5 596 255.3 597.1 255.1 598.1 254.9 599.2 254.6 600.3 254.3 601.4 254 602.4 253.7 603.5 253.4 604.6 253 605.6 252.7 606.7 252.3 607.8 251.9 608.9 251.5 609.9 251.1 611 250.7 612.1 250.3 613.1 249.9 614.2 249.5 615.3 249.1 616.4 248.8 617.4 248.8 618.5 248.2 618.5 248.2 617.4 247.9 616.4 247.5 615.3 247.1 614.2 246.7 613.1 246.3 612.1 245.9 611 245.5 609.9 245.1 608.9 244.7 607.8 244.3 606.7 244 605.6 243.6 604.6 243.3 603.5 243 602.4 242.7 601.4 242.4 600.3 242.1 599.2 241.9 598.1 241.7 597.1 241.5 596 241.3 594.9 241.1 593.9 241 592.8 240.9 591.7 240.8 590.6 240.7 589.6 240.7 588.5 240.7 587.5 240.8 586.6 240.8 585.6 241 584.7 241.1 583.7 241.3 582.8 241.5 581.8 241.7 580.8 241.9 579.9 242.2 578.9 242.5 578 242.9 577 243.2 576.1 243.6 575.1 244 574.1 244.4 573.2 244.8 572.2 245.2 571.3 245.6 570.3 246 569.4 246.4 568.4 246.8 567.4 247.2 566.5 247.6 565.5 247.9 564.6 248.2 563.6 248.2 562.7 248.2 561.7Z" fill="#f07d42" stroke="#222" stroke-width="0.55"/>
<line x1="272.5" y1="637.5" x2="272.5" y2="640" stroke="#666" stroke-width="0.6"/>
<path d="M272.8 563.4 272.8 564.5 272.9 565.5 273.3 566.6 273.7 567.7 274.2 568.8 274.7 569.9 275.3 570.9 275.8 572 276.4 573.1 276.9 574.1 277.5 575.2 278 576.3 278.6 577.4 279.1 578.5 279.6 579.5 280 580.6 280.5 581.7 280.9 582.8 281.2 583.8 281.6 584.9 281.9 586 282.1 587 282.4 588.1 282.6 589.2 282.7 590.3 282.8 591.4 282.9 592.4 282.9 593.5 282.7 594.3 282.5 595.2 282.2 596 281.8 596.8 281.5 597.7 281.1 598.5 280.7 599.4 280.3 600.2 279.9 601 279.5 601.9 279.1 602.7 278.7 603.5 278.2 604.4 277.8 605.2 277.3 606 276.9 606.9 276.5 607.7 276 608.5 275.6 609.4 275.2 610.2 274.8 611 274.4 611.9 274 612.7 273.6 613.6 273.3 614.4 273 615.2 272.8 616.1 272.8 616.9 272.2 616.9 272.2 616.1 272 615.2 271.7 614.4 271.4 613.6 271 612.7 270.6 611.9 270.2 611 269.8 610.2 269.4 609.4 269 608.5 268.5 607.7 268.1 606.9 267.7 606 267.2 605.2 266.8 604.4 266.3 603.5 265.9 602.7 265.5 601.9 265.1 601 264.7 600.2 264.3 599.4 263.9 598.5 263.5 597.7 263.2 596.8 262.8 596 262.5 595.2 262.3 594.3 262.1 593.5 262.1 592.4 262.2 591.4 262.3 590.3 262.4 589.2 262.6 588.1 262.9 587 263.1 586 263.4 584.9 263.8 583.8 264.1 582.8 264.5 581.7 265 580.6 265.4 579.5 265.9 578.5 266.4 577.4 267 576.3 267.5 575.2 268.1 574.1 268.6 573.1 269.2 572 269.7 570.9 270.3 569.9 270.8 568.8 271.3 567.7 271.7 566.6 272.1 565.5 272.2 564.5 272.2 563.4Z" fill="#5470d8" stroke="#222" stroke-width="0.55"/>
<line x1="296.8" y1="637.5" x2="296.8" y2="640" stroke="#666" stroke-width="0.6"/>
<path d="M297.1 571.8 297.1 573 297.2 574.3 297.5 575.5 297.8 576.8 298.2 578 298.6 579.2 299.1 580.5 299.5 581.7 300 583 300.4 584.2 300.9 585.4 301.3 586.7 301.7 587.9 302.2 589.1 302.6 590.4 302.9 591.6 303.3 592.9 303.6 594.1 303.9 595.3 304.2 596.6 304.5 597.8 304.7 599.1 304.9 600.3 305 601.5 305.1 602.8 305.2 604 305.3 605.3 305.3 606.5 305.3 607.4 305.2 608.3 305.1 609.2 305 610.1 304.8 611.1 304.7 612 304.5 612.9 304.2 613.8 304 614.7 303.7 615.6 303.4 616.5 303.1 617.4 302.8 618.3 302.5 619.2 302.1 620.2 301.7 621.1 301.3 622 300.9 622.9 300.5 623.8 300.1 624.7 299.7 625.6 299.2 626.5 298.8 627.4 298.4 628.4 297.9 629.3 297.5 630.2 297.1 631.1 297.1 632 296.6 632 296.5 631.1 296.1 630.2 295.7 629.3 295.2 628.4 294.8 627.4 294.4 626.5 293.9 625.6 293.5 624.7 293.1 623.8 292.7 622.9 292.3 622 291.9 621.1 291.5 620.2 291.1 619.2 290.8 618.3 290.5 617.4 290.2 616.5 289.9 615.6 289.6 614.7 289.4 613.8 289.1 612.9 288.9 612 288.8 611.1 288.6 610.1 288.5 609.2 288.4 608.3 288.3 607.4 288.3 606.5 288.3 605.3 288.4 604 288.5 602.8 288.6 601.5 288.7 600.3 288.9 599.1 289.1 597.8 289.4 596.6 289.7 595.3 290 594.1 290.3 592.9 290.7 591.6 291 590.4 291.4 589.1 291.9 587.9 292.3 586.7 292.7 585.4 293.2 584.2 293.6 583 294.1 581.7 294.5 580.5 295 579.2 295.4 578 295.8 576.8 296.1 575.5 296.4 574.3 296.6 573 296.6 571.8Z" fill="#edc452" stroke="#222" stroke-width="0.55"/>
<line x1="200" y1="540" x2="200" y2="623.5" stroke="#000" stroke-width="1.1"/>
<line x1="200" y1="542.9" x2="200" y2="615.9" stroke="#000" stroke-width="1.7"/>
<rect x="198.7" y="576" width="2.7" height="20.8" fill="#000"/>
<path d="M199.2 540h1.5v1.2h-1.5zM199.2 541.6h1.5v1.2h-1.5zM199.2 543.2h1.5v1.2h-1.5zM199.2 622.3h1.5v1.2h-1.5z" fill="#000"/>
<line x1="224.6" y1="565.6" x2="224.6" y2="631" stroke="#000" stroke-width="1.1"/>
<line x1="224.6" y1="568.9" x2="224.6" y2="629.2" stroke="#000" stroke-width="1.7"/>
<rect x="223.2" y="596" width="2.7" height="15.8" fill="#000"/>
<path d="M223.8 565.6h1.5v1.2h-1.5zM223.8 567.2h1.5v1.2h-1.5zM223.8 568.8h1.5v1.2h-1.5zM223.8 629.8h1.5v1.2h-1.5z" fill="#000"/>
<line x1="248.5" y1="551.7" x2="248.5" y2="621.9" stroke="#000" stroke-width="1.1"/>
<line x1="248.5" y1="555.2" x2="248.5" y2="617.5" stroke="#000" stroke-width="1.7"/>
<rect x="247.2" y="581" width="2.7" height="20.8" fill="#000"/>
<path d="M247.8 551.7h1.5v1.2h-1.5zM247.8 553.3h1.5v1.2h-1.5zM247.8 554.9h1.5v1.2h-1.5zM247.8 620.7h1.5v1.2h-1.5z" fill="#000"/>
<line x1="272.5" y1="535" x2="272.5" y2="627" stroke="#000" stroke-width="1.1"/>
<line x1="272.5" y1="544.9" x2="272.5" y2="615.9" stroke="#000" stroke-width="1.7"/>
<rect x="271.1" y="583.5" width="2.7" height="16.7" fill="#000"/>
<path d="M271.8 535h1.5v1.2h-1.5zM271.8 536.6h1.5v1.2h-1.5zM271.8 538.2h1.5v1.2h-1.5zM271.8 625.8h1.5v1.2h-1.5z" fill="#000"/>
<line x1="296.8" y1="563.4" x2="296.8" y2="633" stroke="#000" stroke-width="1.1"/>
<line x1="296.8" y1="566.3" x2="296.8" y2="631" stroke="#000" stroke-width="1.7"/>
<rect x="295.4" y="596" width="2.7" height="17.6" fill="#000"/>
<path d="M296.1 563.4h1.5v1.2h-1.5zM296.1 565h1.5v1.2h-1.5zM296.1 566.6h1.5v1.2h-1.5zM296.1 631.8h1.5v1.2h-1.5z" fill="#000"/>
<path d="M200 587.9C204.1 590.4 216.5 602.5 224.6 603C232.7 603.5 240.5 592.9 248.5 590.7C256.5 588.5 264.4 587.8 272.5 589.8C280.6 591.8 292.8 600.8 296.8 603" fill="none" stroke="#111" stroke-width="0.7"/>
<path d="M200 533.2V530.7H224.3V533.2" fill="none" stroke="#222" stroke-width="0.7"/>
<text x="212.2" y="532" font-size="8.6" fill="#111" text-anchor="middle">****</text>
<path d="M200 521.5V519H248.6V521.5" fill="none" stroke="#222" stroke-width="0.7"/>
<text x="224.3" y="520.3" font-size="8.6" fill="#111" text-anchor="middle">****</text>
<path d="M200 509.9V507.4H272.7V509.9" fill="none" stroke="#222" stroke-width="0.7"/>
<text x="236.3" y="508.7" font-size="8.6" fill="#111" text-anchor="middle">****</text>
<rect x="342.8" y="501.2" width="125.4" height="136.3" fill="none" stroke="#999" stroke-width="0.7"/>
<text x="406.4" y="499.2" font-size="7" fill="#111" text-anchor="middle">ANTIGEN_RECEPTOR_MEDIATED_SIGNALING</text>
<line x1="340.8" y1="520.6" x2="342.8" y2="520.6" stroke="#666" stroke-width="0.6"/>
<text x="342.6" y="523.3" font-size="9.6" fill="#111" text-anchor="end">0.3</text>
<line x1="340.8" y1="550.8" x2="342.8" y2="550.8" stroke="#666" stroke-width="0.6"/>
<text x="342.6" y="553.5" font-size="9.6" fill="#111" text-anchor="end">0.2</text>
<line x1="340.8" y1="581" x2="342.8" y2="581" stroke="#666" stroke-width="0.6"/>
<text x="342.6" y="583.7" font-size="9.6" fill="#111" text-anchor="end">0.1</text>
<line x1="340.8" y1="611.2" x2="342.8" y2="611.2" stroke="#666" stroke-width="0.6"/>
<text x="342.6" y="613.9" font-size="9.6" fill="#111" text-anchor="end">0.0</text>
<line x1="356.9" y1="637.5" x2="356.9" y2="640" stroke="#666" stroke-width="0.6"/>
<path d="M357.1 560 357.1 560.8 357.3 561.7 357.6 562.5 358 563.4 358.5 564.2 359 565 359.5 565.9 360 566.7 360.5 567.6 361 568.4 361.5 569.2 362 570.1 362.5 570.9 363 571.8 363.4 572.6 363.8 573.4 364.2 574.3 364.6 575.1 365 575.9 365.3 576.8 365.6 577.6 365.8 578.5 366 579.3 366.2 580.1 366.3 581 366.4 581.8 366.5 582.7 366.5 583.5 366.5 584.5 366.4 585.4 366.3 586.4 366.2 587.3 366 588.3 365.8 589.2 365.6 590.2 365.3 591.1 365 592.1 364.7 593 364.4 594 364.1 594.9 363.7 595.9 363.3 596.9 362.9 597.8 362.5 598.8 362 599.7 361.6 600.7 361.1 601.6 360.6 602.6 360.1 603.5 359.6 604.5 359.1 605.4 358.7 606.4 358.2 607.3 357.7 608.3 357.3 609.2 357.1 610.2 356.6 610.2 356.5 609.2 356.1 608.3 355.6 607.3 355.1 606.4 354.7 605.4 354.2 604.5 353.7 603.5 353.2 602.6 352.7 601.6 352.2 600.7 351.8 599.7 351.3 598.8 350.9 597.8 350.5 596.9 350.1 595.9 349.7 594.9 349.4 594 349.1 593 348.8 592.1 348.5 591.1 348.2 590.2 348 589.2 347.8 588.3 347.6 587.3 347.5 586.4 347.4 585.4 347.3 584.5 347.3 583.5 347.3 582.7 347.4 581.8 347.5 581 347.6 580.1 347.8 579.3 348 578.5 348.2 577.6 348.5 576.8 348.8 575.9 349.2 575.1 349.6 574.3 350 573.4 350.4 572.6 350.8 571.8 351.3 570.9 351.8 570.1 352.3 569.2 352.8 568.4 353.3 567.6 353.8 566.7 354.3 565.9 354.8 565 355.3 564.2 355.8 563.4 356.2 562.5 356.5 561.7 356.6 560.8 356.6 560Z" fill="#e8555e" stroke="#222" stroke-width="0.55"/>
<line x1="381.1" y1="637.5" x2="381.1" y2="640" stroke="#666" stroke-width="0.6"/>
<path d="M381.4 560 381.4 561 381.5 561.9 381.9 562.9 382.3 563.8 382.8 564.8 383.3 565.7 383.9 566.7 384.4 567.7 385 568.6 385.5 569.6 386.1 570.5 386.6 571.5 387.2 572.4 387.7 573.4 388.2 574.4 388.6 575.3 389.1 576.3 389.5 577.2 389.8 578.2 390.2 579.1 390.5 580.1 390.7 581.1 391 582 391.2 583 391.3 583.9 391.4 584.9 391.5 585.8 391.5 586.8 391.5 587.8 391.4 588.7 391.3 589.7 391.1 590.6 390.9 591.6 390.7 592.5 390.5 593.5 390.2 594.4 389.9 595.4 389.6 596.3 389.2 597.3 388.8 598.2 388.4 599.2 388 600.1 387.6 601.1 387.1 602.1 386.7 603 386.2 604 385.7 604.9 385.1 605.9 384.6 606.8 384.1 607.8 383.5 608.7 383 609.7 382.5 610.6 382 611.6 381.5 612.5 381.4 613.5 380.9 613.5 380.7 612.5 380.2 611.6 379.7 610.6 379.2 609.7 378.7 608.7 378.1 607.8 377.6 606.8 377.1 605.9 376.5 604.9 376 604 375.5 603 375.1 602.1 374.6 601.1 374.2 600.1 373.8 599.2 373.4 598.2 373 597.3 372.6 596.3 372.3 595.4 372 594.4 371.7 593.5 371.5 592.5 371.3 591.6 371.1 590.6 370.9 589.7 370.8 588.7 370.7 587.8 370.7 586.8 370.7 585.8 370.8 584.9 370.9 583.9 371 583 371.2 582 371.5 581.1 371.7 580.1 372 579.1 372.4 578.2 372.7 577.2 373.1 576.3 373.6 575.3 374 574.4 374.5 573.4 375 572.4 375.6 571.5 376.1 570.5 376.7 569.6 377.2 568.6 377.8 567.7 378.3 566.7 378.9 565.7 379.4 564.8 379.9 563.8 380.3 562.9 380.7 561.9 380.9 561 380.9 560Z" fill="#8ed870" stroke="#222" stroke-width="0.55"/>
<line x1="405.5" y1="637.5" x2="405.5" y2="640" stroke="#666" stroke-width="0.6"/>
<path d="M405.8 548.4 405.8 549.2 406 549.9 406.4 550.7 406.9 551.5 407.4 552.3 407.9 553 408.5 553.8 409.1 554.6 409.7 555.3 410.3 556.1 410.9 556.9 411.5 557.7 412.1 558.4 412.6 559.2 413.2 560 413.7 560.7 414.1 561.5 414.6 562.3 415 563.1 415.4 563.8 415.7 564.6 416 565.4 416.2 566.1 416.4 566.9 416.6 567.7 416.7 568.5 416.8 569.2 416.8 570 416.8 570.8 416.7 571.7 416.6 572.5 416.4 573.4 416.2 574.2 416 575 415.7 575.9 415.4 576.7 415.1 577.6 414.7 578.4 414.3 579.2 413.9 580.1 413.5 580.9 413 581.8 412.5 582.6 412.1 583.4 411.5 584.3 411 585.1 410.4 585.9 409.9 586.8 409.3 587.6 408.7 588.5 408.1 589.3 407.6 590.1 407 591 406.4 591.8 405.9 592.7 405.8 593.5 405.2 593.5 405.1 592.7 404.6 591.8 404 591 403.4 590.1 402.9 589.3 402.3 588.5 401.7 587.6 401.1 586.8 400.6 585.9 400 585.1 399.5 584.3 398.9 583.4 398.5 582.6 398 581.8 397.5 580.9 397.1 580.1 396.7 579.2 396.3 578.4 395.9 577.6 395.6 576.7 395.3 575.9 395 575 394.8 574.2 394.6 573.4 394.4 572.5 394.3 571.7 394.2 570.8 394.2 570 394.2 569.2 394.3 568.5 394.4 567.7 394.6 566.9 394.8 566.1 395 565.4 395.3 564.6 395.6 563.8 396 563.1 396.4 562.3 396.9 561.5 397.3 560.7 397.8 560 398.4 559.2 398.9 558.4 399.5 557.7 400.1 556.9 400.7 556.1 401.3 555.3 401.9 554.6 402.5 553.8 403.1 553 403.6 552.3 404.1 551.5 404.6 550.7 405 549.9 405.2 549.2 405.2 548.4Z" fill="#f07d42" stroke="#222" stroke-width="0.55"/>
<line x1="429.2" y1="637.5" x2="429.2" y2="640" stroke="#666" stroke-width="0.6"/>
<path d="M429.4 555 429.4 555.9 429.6 556.8 430 557.7 430.5 558.6 431 559.5 431.5 560.4 432.1 561.3 432.6 562.2 433.2 563.1 433.8 564 434.3 564.9 434.9 565.8 435.4 566.7 436 567.5 436.5 568.4 436.9 569.3 437.4 570.2 437.8 571.1 438.2 572 438.5 572.9 438.9 573.8 439.1 574.7 439.4 575.6 439.6 576.5 439.7 577.4 439.8 578.3 439.9 579.2 439.9 580.1 439.7 580.9 439.5 581.8 439.1 582.6 438.8 583.4 438.4 584.3 438.1 585.1 437.7 586 437.3 586.8 436.8 587.6 436.4 588.5 436 589.3 435.5 590.1 435.1 591 434.6 591.8 434.2 592.6 433.7 593.5 433.3 594.3 432.8 595.1 432.4 596 432 596.8 431.6 597.6 431.1 598.5 430.7 599.3 430.4 600.2 430 601 429.7 601.8 429.4 602.7 429.4 603.5 428.9 603.5 428.9 602.7 428.7 601.8 428.4 601 428 600.2 427.7 599.3 427.3 598.5 426.8 597.6 426.4 596.8 426 596 425.6 595.1 425.1 594.3 424.7 593.5 424.2 592.6 423.8 591.8 423.3 591 422.9 590.1 422.4 589.3 422 588.5 421.6 587.6 421.1 586.8 420.7 586 420.3 585.1 420 584.3 419.6 583.4 419.3 582.6 418.9 581.8 418.7 580.9 418.5 580.1 418.5 579.2 418.6 578.3 418.7 577.4 418.8 576.5 419 575.6 419.3 574.7 419.5 573.8 419.9 572.9 420.2 572 420.6 571.1 421 570.2 421.5 569.3 421.9 568.4 422.4 567.5 423 566.7 423.5 565.8 424.1 564.9 424.6 564 425.2 563.1 425.8 562.2 426.3 561.3 426.9 560.4 427.4 559.5 427.9 558.6 428.4 557.7 428.8 556.8 428.9 555.9 428.9 555Z" fill="#5470d8" stroke="#222" stroke-width="0.55"/>
<line x1="453.8" y1="637.5" x2="453.8" y2="640" stroke="#666" stroke-width="0.6"/>
<path d="M454.1 558.4 454.1 559.4 454.1 560.4 454.1 561.4 454.3 562.5 454.6 563.5 454.9 564.5 455.2 565.5 455.7 566.5 456.1 567.5 456.6 568.5 457 569.6 457.5 570.6 458 571.6 458.5 572.6 459 573.6 459.5 574.6 460 575.6 460.4 576.7 460.8 577.7 461.2 578.7 461.5 579.7 461.8 580.7 462.1 581.7 462.3 582.7 462.5 583.8 462.6 584.8 462.7 585.8 462.7 586.8 462.5 587.8 462.3 588.7 462.1 589.7 461.8 590.6 461.5 591.6 461.2 592.5 460.8 593.5 460.5 594.5 460.2 595.4 459.8 596.4 459.4 597.3 459.1 598.3 458.7 599.2 458.3 600.2 457.9 601.2 457.6 602.1 457.2 603.1 456.8 604 456.5 605 456.1 605.9 455.8 606.9 455.4 607.9 455.1 608.8 454.8 609.8 454.5 610.7 454.2 611.7 454.1 612.6 454.1 613.6 453.6 613.6 453.6 612.6 453.4 611.7 453.1 610.7 452.8 609.8 452.5 608.8 452.2 607.9 451.8 606.9 451.5 605.9 451.1 605 450.8 604 450.4 603.1 450 602.1 449.7 601.2 449.3 600.2 448.9 599.2 448.5 598.3 448.2 597.3 447.8 596.4 447.4 595.4 447.1 594.5 446.8 593.5 446.4 592.5 446.1 591.6 445.8 590.6 445.5 589.7 445.3 588.7 445.1 587.8 444.9 586.8 444.9 585.8 445 584.8 445.1 583.8 445.3 582.7 445.5 581.7 445.8 580.7 446.1 579.7 446.4 578.7 446.8 577.7 447.2 576.7 447.6 575.6 448.1 574.6 448.6 573.6 449.1 572.6 449.6 571.6 450.1 570.6 450.6 569.6 451 568.5 451.5 567.5 451.9 566.5 452.4 565.5 452.7 564.5 453 563.5 453.3 562.5 453.5 561.4 453.6 560.4 453.6 559.4 453.6 558.4Z" fill="#edc452" stroke="#222" stroke-width="0.55"/>
<line x1="356.9" y1="542.5" x2="356.9" y2="621" stroke="#000" stroke-width="1.1"/>
<line x1="356.9" y1="548.6" x2="356.9" y2="609.2" stroke="#000" stroke-width="1.7"/>
<rect x="355.5" y="579.3" width="2.7" height="15.8" fill="#000"/>
<path d="M356.1 542.5h1.5v1.2h-1.5zM356.1 544.1h1.5v1.2h-1.5zM356.1 545.7h1.5v1.2h-1.5zM356.1 619.8h1.5v1.2h-1.5z" fill="#000"/>
<line x1="381.1" y1="548.4" x2="381.1" y2="632.7" stroke="#000" stroke-width="1.1"/>
<path d="M380.2 613.5h1.7v1.3h-1.7zM380.2 615.7h1.7v1.3h-1.7zM380.2 617.9h1.7v1.3h-1.7zM380.2 620.1h1.7v1.3h-1.7zM380.2 622.3h1.7v1.3h-1.7zM380.2 624.5h1.7v1.3h-1.7zM380.2 626.7h1.7v1.3h-1.7zM380.2 629.9h1.7v1.3h-1.7z" fill="#000"/>
<line x1="381.1" y1="552.5" x2="381.1" y2="612.5" stroke="#000" stroke-width="1.7"/>
<rect x="379.8" y="579.3" width="2.7" height="17.5" fill="#000"/>
<path d="M380.4 548.4h1.5v1.2h-1.5zM380.4 550h1.5v1.2h-1.5zM380.4 551.6h1.5v1.2h-1.5zM380.4 631.5h1.5v1.2h-1.5z" fill="#000"/>
<line x1="405.5" y1="535" x2="405.5" y2="604.3" stroke="#000" stroke-width="1.1"/>
<line x1="405.5" y1="539.7" x2="405.5" y2="592.5" stroke="#000" stroke-width="1.7"/>
<rect x="404.1" y="565" width="2.7" height="13.4" fill="#000"/>
<path d="M404.8 535h1.5v1.2h-1.5zM404.8 536.6h1.5v1.2h-1.5zM404.8 538.2h1.5v1.2h-1.5zM404.8 603.1h1.5v1.2h-1.5z" fill="#000"/>
<line x1="429.2" y1="543.4" x2="429.2" y2="622.8" stroke="#000" stroke-width="1.1"/>
<path d="M428.3 603.5h1.7v1.3h-1.7zM428.3 605.7h1.7v1.3h-1.7zM428.3 607.9h1.7v1.3h-1.7zM428.3 610.1h1.7v1.3h-1.7zM428.3 612.3h1.7v1.3h-1.7zM428.3 614.5h1.7v1.3h-1.7zM428.3 616.7h1.7v1.3h-1.7zM428.3 619.9h1.7v1.3h-1.7z" fill="#000"/>
<line x1="429.2" y1="547.5" x2="429.2" y2="602.5" stroke="#000" stroke-width="1.7"/>
<rect x="427.8" y="573.5" width="2.7" height="15" fill="#000"/>
<path d="M428.4 543.4h1.5v1.2h-1.5zM428.4 545h1.5v1.2h-1.5zM428.4 546.6h1.5v1.2h-1.5zM428.4 621.6h1.5v1.2h-1.5z" fill="#000"/>
<line x1="453.8" y1="552.6" x2="453.8" y2="624.4" stroke="#000" stroke-width="1.1"/>
<line x1="453.8" y1="554.6" x2="453.8" y2="612.6" stroke="#000" stroke-width="1.7"/>
<rect x="452.4" y="578.5" width="2.7" height="16.7" fill="#000"/>
<path d="M453.1 552.6h1.5v1.2h-1.5zM453.1 554.2h1.5v1.2h-1.5zM453.1 555.8h1.5v1.2h-1.5zM453.1 623.2h1.5v1.2h-1.5z" fill="#000"/>
<path d="M356.9 587C360.9 587.1 373 590.4 381.1 587.9C389.2 585.4 397.5 573.1 405.5 571.7C413.5 570.3 421.1 576.3 429.2 579.3C437.2 582.3 449.7 588 453.8 589.8" fill="none" stroke="#111" stroke-width="0.7"/>
<path d="M356.9 533.2V530.7H381.4V533.2" fill="none" stroke="#222" stroke-width="0.7"/>
<text x="370.1" y="529.1" font-size="9.4" fill="#111" text-anchor="middle">ns</text>
<path d="M356.9 521.5V519H405.5V521.5" fill="none" stroke="#222" stroke-width="0.7"/>
<text x="381.2" y="520.3" font-size="8.6" fill="#111" text-anchor="middle">****</text>
<path d="M356.9 509.9V507.4H429.6V509.9" fill="none" stroke="#222" stroke-width="0.7"/>
<text x="393.2" y="508.7" font-size="8.6" fill="#111" text-anchor="middle">****</text>
<rect x="499.5" y="501.4" width="125.7" height="136.1" fill="none" stroke="#999" stroke-width="0.7"/>
<text x="561.6" y="499.2" font-size="7" fill="#111" text-anchor="middle">REGULATION_OF_T_CELL_ACTIVATION</text>
<line x1="497.5" y1="516.8" x2="499.5" y2="516.8" stroke="#666" stroke-width="0.6"/>
<text x="499.3" y="519.5" font-size="9.6" fill="#111" text-anchor="end">0.4</text>
<line x1="497.5" y1="546.3" x2="499.5" y2="546.3" stroke="#666" stroke-width="0.6"/>
<text x="499.3" y="549" font-size="9.6" fill="#111" text-anchor="end">0.3</text>
<line x1="497.5" y1="575.8" x2="499.5" y2="575.8" stroke="#666" stroke-width="0.6"/>
<text x="499.3" y="578.5" font-size="9.6" fill="#111" text-anchor="end">0.2</text>
<line x1="497.5" y1="605.3" x2="499.5" y2="605.3" stroke="#666" stroke-width="0.6"/>
<text x="499.3" y="608" font-size="9.6" fill="#111" text-anchor="end">0.1</text>
<line x1="497.5" y1="634.8" x2="499.5" y2="634.8" stroke="#666" stroke-width="0.6"/>
<text x="499.3" y="637.5" font-size="9.6" fill="#111" text-anchor="end">0.0</text>
<line x1="513.7" y1="637.5" x2="513.7" y2="640" stroke="#666" stroke-width="0.6"/>
<path d="M514 560 514 560.8 514.1 561.7 514.4 562.5 514.8 563.4 515.3 564.2 515.8 565 516.3 565.9 516.8 566.7 517.3 567.6 517.8 568.4 518.3 569.2 518.8 570.1 519.3 570.9 519.8 571.8 520.2 572.6 520.6 573.4 521 574.3 521.4 575.1 521.8 575.9 522.1 576.8 522.4 577.6 522.6 578.5 522.8 579.3 523 580.1 523.1 581 523.2 581.8 523.3 582.7 523.3 583.5 523.1 584.4 522.9 585.3 522.6 586.2 522.3 587.1 522 588 521.7 588.9 521.3 589.8 520.9 590.6 520.5 591.5 520.2 592.4 519.8 593.3 519.4 594.2 519 595.1 518.6 596 518.2 596.9 517.8 597.8 517.4 598.7 517 599.6 516.6 600.5 516.2 601.4 515.8 602.2 515.4 603.1 515.1 604 514.7 604.9 514.4 605.8 514.1 606.7 514 607.6 514 608.5 513.5 608.5 513.5 607.6 513.3 606.7 513 605.8 512.7 604.9 512.3 604 512 603.1 511.6 602.2 511.2 601.4 510.8 600.5 510.4 599.6 510 598.7 509.6 597.8 509.2 596.9 508.8 596 508.4 595.1 508 594.2 507.6 593.3 507.2 592.4 506.9 591.5 506.5 590.6 506.1 589.8 505.7 588.9 505.4 588 505.1 587.1 504.8 586.2 504.5 585.3 504.3 584.4 504.1 583.5 504.1 582.7 504.2 581.8 504.3 581 504.4 580.1 504.6 579.3 504.8 578.5 505 577.6 505.3 576.8 505.6 575.9 506 575.1 506.4 574.3 506.8 573.4 507.2 572.6 507.6 571.8 508.1 570.9 508.6 570.1 509.1 569.2 509.6 568.4 510.1 567.6 510.6 566.7 511.1 565.9 511.6 565 512.1 564.2 512.6 563.4 513 562.5 513.3 561.7 513.5 560.8 513.5 560Z" fill="#e8555e" stroke="#222" stroke-width="0.55"/>
<line x1="538.1" y1="637.5" x2="538.1" y2="640" stroke="#666" stroke-width="0.6"/>
<path d="M538.4 555 538.4 555.7 538.5 556.3 538.8 557 539.1 557.6 539.5 558.3 539.9 558.9 540.3 559.6 540.8 560.3 541.2 560.9 541.7 561.6 542.1 562.2 542.6 562.9 543 563.5 543.4 564.2 543.8 564.9 544.2 565.5 544.5 566.2 544.9 566.8 545.2 567.5 545.4 568.1 545.7 568.8 545.9 569.5 546.1 570.1 546.2 570.8 546.3 571.4 546.4 572.1 546.5 572.7 546.5 573.4 546.4 574.5 546.1 575.7 545.9 576.8 545.6 577.9 545.4 579.1 545.1 580.2 544.7 581.4 544.4 582.5 544.1 583.6 543.8 584.8 543.4 585.9 543.1 587 542.7 588.2 542.4 589.3 542 590.4 541.7 591.6 541.3 592.7 541 593.8 540.6 595 540.3 596.1 539.9 597.2 539.6 598.4 539.3 599.5 539 600.7 538.7 601.8 538.5 602.9 538.4 604.1 538.4 605.2 537.9 605.2 537.9 604.1 537.7 602.9 537.5 601.8 537.2 600.7 536.9 599.5 536.6 598.4 536.3 597.2 535.9 596.1 535.6 595 535.2 593.8 534.9 592.7 534.5 591.6 534.2 590.4 533.8 589.3 533.5 588.2 533.1 587 532.8 585.9 532.4 584.8 532.1 583.6 531.8 582.5 531.5 581.4 531.1 580.2 530.8 579.1 530.6 577.9 530.3 576.8 530.1 575.7 529.8 574.5 529.7 573.4 529.7 572.7 529.8 572.1 529.9 571.4 530 570.8 530.1 570.1 530.3 569.5 530.5 568.8 530.8 568.1 531 567.5 531.3 566.8 531.7 566.2 532 565.5 532.4 564.9 532.8 564.2 533.2 563.5 533.6 562.9 534.1 562.2 534.5 561.6 535 560.9 535.4 560.3 535.9 559.6 536.3 558.9 536.7 558.3 537.1 557.6 537.4 557 537.7 556.3 537.9 555.7 537.9 555Z" fill="#8ed870" stroke="#222" stroke-width="0.55"/>
<line x1="562.1" y1="637.5" x2="562.1" y2="640" stroke="#666" stroke-width="0.6"/>
<path d="M562.4 548.4 562.4 549 562.6 549.6 563 550.2 563.4 550.8 563.9 551.4 564.5 552 565.1 552.5 565.6 553.1 566.2 553.7 566.8 554.3 567.4 554.9 568 555.5 568.6 556.1 569.1 556.7 569.6 557.3 570.1 557.9 570.6 558.5 571 559.1 571.4 559.7 571.8 560.3 572.1 560.9 572.4 561.4 572.6 562 572.8 562.6 573 563.2 573.1 563.8 573.2 564.4 573.2 565 573.2 566 573.1 566.9 573 567.9 572.8 568.8 572.6 569.8 572.4 570.7 572.1 571.7 571.8 572.7 571.5 573.6 571.1 574.6 570.8 575.5 570.4 576.5 569.9 577.4 569.5 578.4 569 579.4 568.5 580.3 568 581.3 567.5 582.2 567 583.2 566.4 584.1 565.8 585.1 565.3 586.1 564.7 587 564.1 588 563.6 588.9 563 589.9 562.5 590.8 562.4 591.8 561.9 591.8 561.7 590.8 561.2 589.9 560.6 588.9 560.1 588 559.5 587 558.9 586.1 558.4 585.1 557.8 584.1 557.2 583.2 556.7 582.2 556.2 581.3 555.7 580.3 555.2 579.4 554.7 578.4 554.3 577.4 553.8 576.5 553.4 575.5 553.1 574.6 552.7 573.6 552.4 572.7 552.1 571.7 551.8 570.7 551.6 569.8 551.4 568.8 551.2 567.9 551.1 566.9 551 566 551 565 551 564.4 551.1 563.8 551.2 563.2 551.4 562.6 551.6 562 551.8 561.4 552.1 560.9 552.4 560.3 552.8 559.7 553.2 559.1 553.6 558.5 554.1 557.9 554.6 557.3 555.1 556.7 555.6 556.1 556.2 555.5 556.8 554.9 557.4 554.3 558 553.7 558.6 553.1 559.1 552.5 559.7 552 560.3 551.4 560.8 550.8 561.2 550.2 561.6 549.6 561.9 549 561.9 548.4Z" fill="#f07d42" stroke="#222" stroke-width="0.55"/>
<line x1="586" y1="637.5" x2="586" y2="640" stroke="#666" stroke-width="0.6"/>
<path d="M586.2 551.7 586.2 552.4 586.4 553.1 586.8 553.8 587.2 554.5 587.6 555.1 588.1 555.8 588.6 556.5 589.2 557.2 589.7 557.9 590.2 558.6 590.7 559.3 591.3 560 591.8 560.7 592.2 561.4 592.7 562 593.2 562.7 593.6 563.4 594 564.1 594.3 564.8 594.6 565.5 594.9 566.2 595.2 566.9 595.4 567.6 595.6 568.2 595.7 568.9 595.8 569.6 595.9 570.3 595.9 571 594.8 572.2 594.1 573.4 593.4 574.7 592.8 575.9 592.2 577.1 591.7 578.3 591.2 579.5 590.8 580.8 590.3 582 589.9 583.2 589.5 584.4 589.2 585.7 588.8 586.9 588.5 588.1 588.2 589.3 587.9 590.5 587.7 591.8 587.4 593 587.2 594.2 587 595.4 586.8 596.7 586.6 597.9 586.5 599.1 586.3 600.3 586.2 601.5 586.2 602.8 586.2 604 586.2 605.2 585.8 605.2 585.8 604 585.8 602.8 585.8 601.5 585.7 600.3 585.5 599.1 585.4 597.9 585.2 596.7 585 595.4 584.8 594.2 584.6 593 584.3 591.8 584.1 590.5 583.8 589.3 583.5 588.1 583.2 586.9 582.8 585.7 582.5 584.4 582.1 583.2 581.7 582 581.2 580.8 580.8 579.5 580.3 578.3 579.8 577.1 579.2 575.9 578.6 574.7 577.9 573.4 577.2 572.2 576.1 571 576.1 570.3 576.2 569.6 576.3 568.9 576.4 568.2 576.6 567.6 576.8 566.9 577.1 566.2 577.4 565.5 577.7 564.8 578 564.1 578.4 563.4 578.8 562.7 579.3 562 579.8 561.4 580.2 560.7 580.7 560 581.3 559.3 581.8 558.6 582.3 557.9 582.8 557.2 583.4 556.5 583.9 555.8 584.4 555.1 584.8 554.5 585.2 553.8 585.6 553.1 585.8 552.4 585.8 551.7Z" fill="#5470d8" stroke="#222" stroke-width="0.55"/>
<line x1="610.3" y1="637.5" x2="610.3" y2="640" stroke="#666" stroke-width="0.6"/>
<path d="M610.5 556.7 610.5 557.6 610.5 558.5 610.5 559.4 610.7 560.3 611 561.2 611.3 562.1 611.6 563 612 563.9 612.4 564.8 612.8 565.7 613.2 566.6 613.7 567.5 614.1 568.4 614.6 569.2 615 570.1 615.5 571 615.9 571.9 616.3 572.8 616.7 573.7 617 574.6 617.3 575.5 617.6 576.4 617.8 577.3 618 578.2 618.2 579.1 618.3 580 618.4 580.9 618.4 581.8 618.3 582.8 618.1 583.7 617.8 584.7 617.6 585.6 617.3 586.6 617 587.5 616.7 588.5 616.4 589.5 616.1 590.4 615.8 591.4 615.4 592.3 615.1 593.3 614.8 594.2 614.4 595.2 614.1 596.2 613.7 597.1 613.4 598.1 613.1 599 612.7 600 612.4 600.9 612.1 601.9 611.8 602.9 611.5 603.8 611.2 604.8 610.9 605.7 610.7 606.7 610.5 607.6 610.5 608.6 610 608.6 610 607.6 609.9 606.7 609.7 605.7 609.4 604.8 609.1 603.8 608.8 602.9 608.5 601.9 608.2 600.9 607.9 600 607.5 599 607.2 598.1 606.9 597.1 606.5 596.2 606.2 595.2 605.8 594.2 605.5 593.3 605.2 592.3 604.8 591.4 604.5 590.4 604.2 589.5 603.9 588.5 603.6 587.5 603.3 586.6 603 585.6 602.8 584.7 602.5 583.7 602.3 582.8 602.2 581.8 602.2 580.9 602.3 580 602.4 579.1 602.6 578.2 602.8 577.3 603 576.4 603.3 575.5 603.6 574.6 603.9 573.7 604.3 572.8 604.7 571.9 605.1 571 605.6 570.1 606 569.2 606.5 568.4 606.9 567.5 607.4 566.6 607.8 565.7 608.2 564.8 608.6 563.9 609 563 609.3 562.1 609.6 561.2 609.9 560.3 610 559.4 610 558.5 610 557.6 610 556.7Z" fill="#edc452" stroke="#222" stroke-width="0.55"/>
<line x1="513.7" y1="550" x2="513.7" y2="621.9" stroke="#000" stroke-width="1.1"/>
<path d="M512.9 608.5h1.7v1.3h-1.7zM512.9 610.7h1.7v1.3h-1.7zM512.9 612.9h1.7v1.3h-1.7zM512.9 615.1h1.7v1.3h-1.7zM512.9 617.3h1.7v1.3h-1.7zM512.9 619.5h1.7v1.3h-1.7z" fill="#000"/>
<line x1="513.7" y1="553.5" x2="513.7" y2="607.5" stroke="#000" stroke-width="1.7"/>
<rect x="512.4" y="576.8" width="2.7" height="15" fill="#000"/>
<path d="M513 550h1.5v1.2h-1.5zM513 551.6h1.5v1.2h-1.5zM513 553.2h1.5v1.2h-1.5zM513 620.7h1.5v1.2h-1.5z" fill="#000"/>
<line x1="538.1" y1="546.7" x2="538.1" y2="621.9" stroke="#000" stroke-width="1.1"/>
<path d="M537.2 605.2h1.7v1.3h-1.7zM537.2 607.4h1.7v1.3h-1.7zM537.2 609.6h1.7v1.3h-1.7zM537.2 611.8h1.7v1.3h-1.7zM537.2 614h1.7v1.3h-1.7zM537.2 616.2h1.7v1.3h-1.7zM537.2 618.4h1.7v1.3h-1.7z" fill="#000"/>
<line x1="538.1" y1="549.6" x2="538.1" y2="604.2" stroke="#000" stroke-width="1.7"/>
<rect x="536.8" y="570" width="2.7" height="18.5" fill="#000"/>
<path d="M537.4 546.7h1.5v1.2h-1.5zM537.4 548.3h1.5v1.2h-1.5zM537.4 549.9h1.5v1.2h-1.5zM537.4 620.7h1.5v1.2h-1.5z" fill="#000"/>
<line x1="562.1" y1="535" x2="562.1" y2="612.7" stroke="#000" stroke-width="1.1"/>
<path d="M561.2 591.8h1.7v1.3h-1.7zM561.2 594h1.7v1.3h-1.7zM561.2 596.2h1.7v1.3h-1.7zM561.2 598.4h1.7v1.3h-1.7zM561.2 600.6h1.7v1.3h-1.7zM561.2 602.8h1.7v1.3h-1.7zM561.2 605h1.7v1.3h-1.7zM561.2 608.2h1.7v1.3h-1.7zM561.2 611.4h1.7v1.3h-1.7z" fill="#000"/>
<line x1="562.1" y1="539.7" x2="562.1" y2="590.8" stroke="#000" stroke-width="1.7"/>
<rect x="560.8" y="562.6" width="2.7" height="13.4" fill="#000"/>
<path d="M561.4 535h1.5v1.2h-1.5zM561.4 536.6h1.5v1.2h-1.5zM561.4 538.2h1.5v1.2h-1.5zM561.4 611.5h1.5v1.2h-1.5z" fill="#000"/>
<line x1="586" y1="544.7" x2="586" y2="632.8" stroke="#000" stroke-width="1.1"/>
<path d="M585.1 605.2h1.7v1.3h-1.7zM585.1 607.4h1.7v1.3h-1.7zM585.1 609.6h1.7v1.3h-1.7zM585.1 611.8h1.7v1.3h-1.7zM585.1 614h1.7v1.3h-1.7zM585.1 616.2h1.7v1.3h-1.7zM585.1 618.4h1.7v1.3h-1.7zM585.1 621.6h1.7v1.3h-1.7zM585.1 624.8h1.7v1.3h-1.7zM585.1 628h1.7v1.3h-1.7zM585.1 631.2h1.7v1.3h-1.7z" fill="#000"/>
<line x1="586" y1="547.2" x2="586" y2="604.2" stroke="#000" stroke-width="1.7"/>
<rect x="584.6" y="568.4" width="2.7" height="15.1" fill="#000"/>
<path d="M585.2 544.7h1.5v1.2h-1.5zM585.2 546.3h1.5v1.2h-1.5zM585.2 547.9h1.5v1.2h-1.5zM585.2 631.6h1.5v1.2h-1.5z" fill="#000"/>
<line x1="610.3" y1="555.9" x2="610.3" y2="616.1" stroke="#000" stroke-width="1.1"/>
<line x1="610.3" y1="556.2" x2="610.3" y2="607.6" stroke="#000" stroke-width="1.7"/>
<rect x="608.9" y="574.3" width="2.7" height="25.9" fill="#000"/>
<path d="M609.5 555.9h1.5v1.2h-1.5zM609.5 557.5h1.5v1.2h-1.5zM609.5 559.1h1.5v1.2h-1.5zM609.5 614.9h1.5v1.2h-1.5z" fill="#000"/>
<path d="M513.7 585C517.8 584.1 530 582.2 538.1 579.7C546.2 577.2 554.1 570.3 562.1 569.8C570.1 569.3 578 574 586 576.5C594 579 606.2 583.6 610.3 585" fill="none" stroke="#111" stroke-width="0.7"/>
<path d="M513.7 532.9V530.4H537.8V532.9" fill="none" stroke="#222" stroke-width="0.7"/>
<text x="525.8" y="531.7" font-size="8.6" fill="#111" text-anchor="middle">****</text>
<path d="M513.7 521.8V519.3H562.3V521.8" fill="none" stroke="#222" stroke-width="0.7"/>
<text x="538" y="520.6" font-size="8.6" fill="#111" text-anchor="middle">****</text>
<path d="M513.7 510.4V507.9H586.3V510.4" fill="none" stroke="#222" stroke-width="0.7"/>
<text x="550" y="509.2" font-size="8.6" fill="#111" text-anchor="middle">****</text>
<rect x="628.8" y="510.7" width="4.4" height="4.6" fill="#e8555e" stroke="#333" stroke-width="0.5"/>
<text x="636.2" y="515.5" font-size="7.1" fill="#111">MARCO+ Cells</text>
<rect x="628.8" y="519.2" width="4.4" height="4.6" fill="#8ed870" stroke="#333" stroke-width="0.5"/>
<text x="636.2" y="524" font-size="7.1" fill="#111">HSP+ Cells</text>
<rect x="628.8" y="527.6" width="4.4" height="4.6" fill="#f07d42" stroke="#333" stroke-width="0.5"/>
<text x="636.2" y="532.4" font-size="7.1" fill="#111">IL1B+ Cells</text>
<rect x="628.8" y="536.1" width="4.4" height="4.6" fill="#5470d8" stroke="#333" stroke-width="0.5"/>
<text x="636.2" y="540.9" font-size="7.1" fill="#111">C1QA+ Cells</text>
<rect x="628.8" y="544.5" width="4.4" height="4.6" fill="#edc452" stroke="#333" stroke-width="0.5"/>
<text x="636.2" y="549.3" font-size="7.1" fill="#111">MKI67+ Cells</text>
</svg></body></html>
